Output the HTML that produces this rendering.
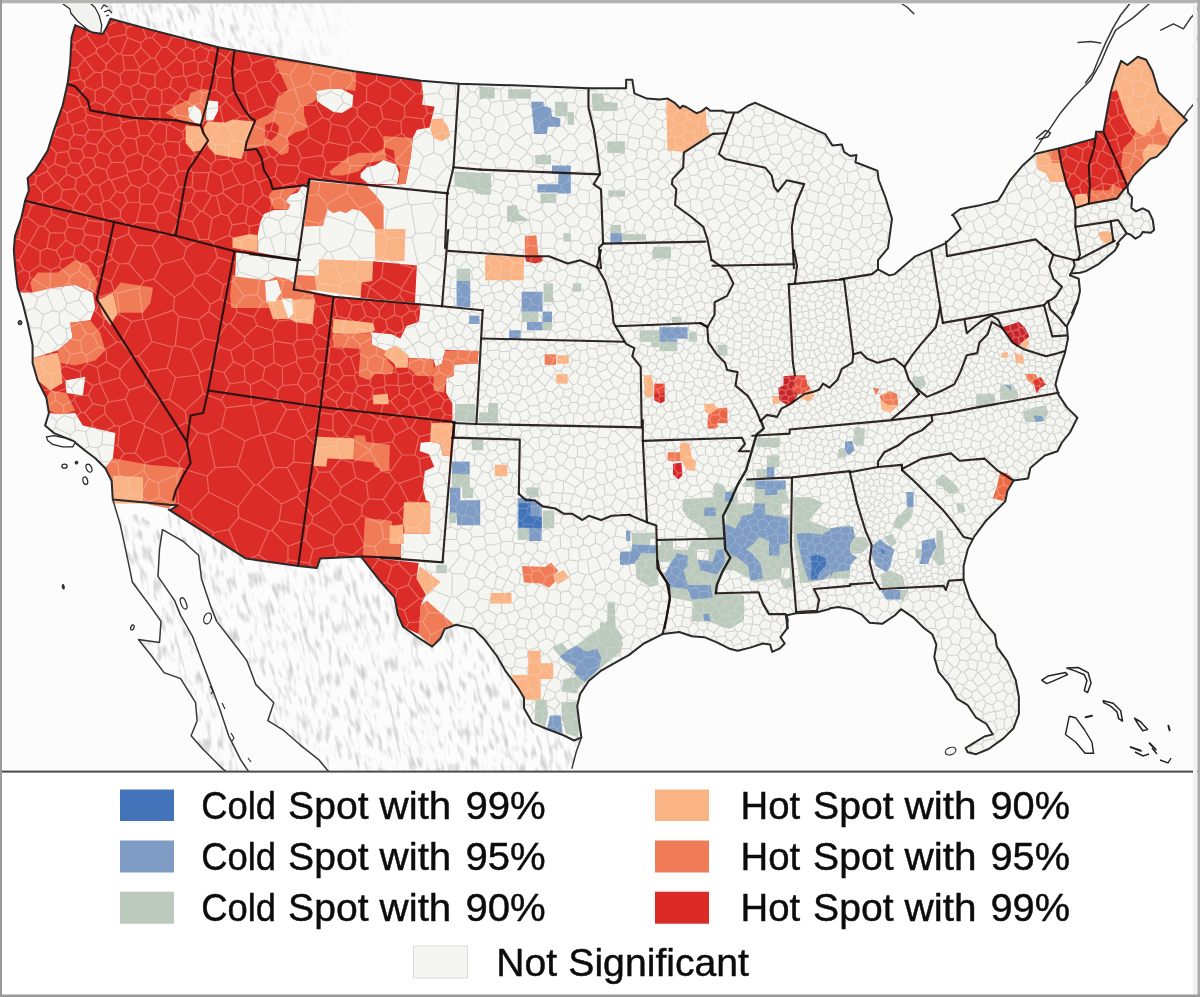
<!DOCTYPE html><html><head><meta charset="utf-8"><title>Hot spot map</title><style>html,body{margin:0;padding:0;background:#fff}svg{display:block}text{font-family:"Liberation Sans",sans-serif}</style></head><body><svg width="1200" height="997" viewBox="0 0 1200 997">
<defs>
<clipPath id="mexclip"><path d="M170,510 L246,558.6 L298.2,565.9 L316.9,568 L320.1,558.6 L360.8,556.5 L380,580.9 L394.6,597.6 L397.7,614.3 L403,626.8 L417.6,637.2 L432.2,646.6 L440.5,638.3 L444.7,628.9 L456.2,624.7 L473.9,628.9 L484.3,639.3 L496.9,656 L505.2,670.6 L517.7,687.3 L524,697.7 L524,708.2 L532.3,722.8 L546.9,729 L563.6,735.3 L574.1,740.5 L581.4,737.4 L581.4,737.4 L576.2,752 L572,768.1 L560,772 L300,772 L334,777.9 L319,759.9 L300,744.8 L282.9,729.8 L267.8,720.7 L273.8,702.7 L255.8,684.6 L246.8,660.6 L237.7,648.5 L216.7,621.4 L210.7,606.4 L201.6,579.3 L198.6,555.2 L183.6,541.7 L162.5,529.7ZM112.8,499.6 L120.4,525.1 L129.4,567.3 L132.4,582.3 L150.5,606.4 L161,621.4 L159.5,642.5 L138.4,639.5 L150.5,654.5 L164,672.6 L180.6,678.6 L195.6,702.7 L197.1,720.7 L191.1,735.8 L201.6,747.8 L222.7,768.9 L228.7,773.4 L252,772 L249.8,773.4 L240.7,759.9 L228.7,735.8 L219.7,708.7 L210.7,684.6 L201.6,660.6 L192.6,636.5 L180.6,615.4 L174.5,600.4 L158,576.3 L159.5,549.2 L162.5,529.7Z"/></clipPath>
<clipPath id="canclip"><path d="M110,19 L150.5,29.6 L218.2,47.2 L234.5,50.2 L354.3,71.3 L421.1,80.7 L458.7,83.8 L500,84.9 L520,86 L520,4 L100,4 L108,12Z"/></clipPath>
<filter id="relief" x="0" y="0" width="100%" height="100%" color-interpolation-filters="sRGB">
<feTurbulence type="fractalNoise" baseFrequency="0.22 0.06" numOctaves="2" seed="11"/>
<feColorMatrix type="matrix" values="0 0 0 0 0.45  0 0 0 0 0.45  0 0 0 0 0.45  -3.2 0 0 0 1.62"/>
</filter>
<linearGradient id="canfade" x1="0" x2="1" y1="0" y2="0"><stop offset="0" stop-color="#fff" stop-opacity="1"/><stop offset="0.6" stop-color="#fff" stop-opacity="0.8"/><stop offset="1" stop-color="#fff" stop-opacity="0"/></linearGradient>
<mask id="canmask"><rect x="60" y="0" width="300" height="100" fill="url(#canfade)"/></mask>
<filter id="soft" x="0" y="0" width="100%" height="100%" color-interpolation-filters="sRGB"><feGaussianBlur stdDeviation="0.55"/></filter><filter id="softt" x="-2%" y="-10%" width="104%" height="120%" color-interpolation-filters="sRGB"><feGaussianBlur stdDeviation="0.4"/></filter></defs>
<g filter="url(#soft)">
<rect width="1200" height="997" fill="#FCFCFC"/>
<g clip-path="url(#mexclip)"><rect x="-200" y="300" width="1200" height="700" filter="url(#relief)" opacity="0.31" transform="rotate(-14 350 650)"/></g>
<g clip-path="url(#canclip)" mask="url(#canmask)"><rect x="-100" y="-200" width="900" height="500" filter="url(#relief)" opacity="0.36" transform="rotate(-20 250 40)"/></g>
<path d="M61.7,3 L70,9 L70.8,13 L77.5,21 L90,31.7 L96.7,35 L100.8,33 L101.7,25 L99,15 L95,7.5 L90,3" fill="#F3F3F2" stroke="#222" stroke-width="1.2" stroke-linejoin="round"/>
<path d="M101,9l3,-4 4,2M104,12l5,-2 3,3M106,16l3,-1" fill="none" stroke="#222" stroke-width="1.1"/>
<path id="land" d="M110.4,18.8 L150.5,29.6 L218.2,47.2 L234.5,50.2 L354.3,71.3 L421.1,80.7 L458.7,83.8 L500,84.9 L588.5,88.2 L626.1,88.2 L626.1,79.8 L632.3,79.8 L634.4,93.4 L646.9,98.6 L659.5,99.6 L667.8,98.6 L675.1,103.2 L680.1,108.2 L682.6,105.7 L686.3,107 L696.4,113.2 L701.4,111.4 L706.4,107.6 L710.2,110.7 L722.7,110.7 L726.5,112.6 L737.8,112.6 L747.8,105.7 L755.3,102.8 L825.2,134.1 L832.5,145.6 L841.9,144.5 L844,151.8 L850.3,156 L856.5,154.9 L855.5,162.3 L877.4,170.6 L878.7,180 L885.4,197.3 L892,218.7 L890,233.4 L888,248.1 L878,260.1 L878,269.4 L889.4,275.4 L894.7,274.1 L914.7,256.7 L932.1,249.4 L945.4,243.4 L960.8,228.7 L956.1,220 L952.8,214.7 L952.1,215.3 L960.4,209 L981.3,204.9 L998,200.7 L1002.2,194.4 L1010.5,179.8 L1023,165.2 L1035.6,153.7 L1058.5,148.5 L1096.1,138.1 L1096.1,131.8 L1103.4,131.8 L1110.7,92.2 L1114.9,77.6 L1121.1,60.9 L1127.4,65 L1137.8,56.7 L1146.2,59.8 L1152.4,71.3 L1158.7,92.2 L1167,100.5 L1179.5,113 L1186.9,120.3 L1179.5,127.6 L1171.2,138.1 L1167,146.4 L1156.6,156.9 L1150.3,158.9 L1142,167.3 L1133.6,175.6 L1127.4,186.1 L1128.1,192.7 L1132.1,197.3 L1131.4,208 L1136.1,211.4 L1142.7,208.3 L1148.8,211.4 L1152.8,220 L1154.1,230 L1150.8,232.7 L1142.7,232 L1140.1,236 L1135.4,238.7 L1130.7,234.7 L1126.7,233.4 L1121.4,238.7 L1116.7,244.1 L1118.7,244.1 L1114.7,250.7 L1098.7,264.1 L1085.4,271.4 L1080,272.7 L1070.7,273.4 L1070,275.4 L1078.7,278.7 L1080,290.8 L1077.4,302.8 L1072,313 L1078.4,298.9 L1073.2,313.5 L1066.9,326 L1068,338.5 L1064.9,353.1 L1058.6,371.9 L1055.5,384.4 L1058.6,394.9 L1066.9,407.4 L1077.4,417.8 L1070,432.5 L1061.6,443 L1057.5,451.3 L1044.9,455.5 L1030.3,468 L1028.2,478.4 L1013.6,480.5 L1007.4,491 L1005.3,501.4 L996.9,509.7 L986.5,520.2 L974,536.9 L967.7,549.4 L963.6,566.1 L963.6,580.7 L963.6,580 L969.8,598.8 L980.3,617.6 L994.9,634.3 L996.9,646.8 L1007.4,661.4 L1015.7,680.2 L1018.9,696.9 L1018.9,713.6 L1013.6,728.2 L1003.2,738.6 L988.6,749 L976.1,754.2 L967.7,752.2 L965.6,748 L974,742.8 L984.4,736.5 L992.8,734.4 L986.5,724 L976.1,717.7 L967.7,705.2 L957.3,698.9 L948.9,684.3 L938.5,671.8 L934.3,657.2 L936.4,644.7 L932.3,634.3 L923.9,628 L913.5,617.6 L901,609.2 L894.7,615.5 L882.2,623.8 L869.6,622.8 L861.3,614.4 L850.9,609.2 L838.3,607.1 L830,608.2 L829.5,609 L817,612.2 L796.2,613.2 L786.8,615.3 L787.8,620.5 L786.8,628.9 L780.5,637.2 L784.7,643.5 L779.5,648.7 L772.2,651.8 L770.1,644.5 L762.8,643.5 L750.3,647.6 L737.7,650.8 L729.4,648.7 L716.9,642.4 L704.3,637.2 L691.8,636.2 L679.3,632 L662.6,634.1 L643.8,643.5 L629.2,654.9 L615.8,662.3 L601.2,670.6 L588.7,681 L580.3,693.6 L577.2,706.1 L579.3,722.8 L581.4,737.4 L581.4,737.4 L574.1,740.5 L563.6,735.3 L546.9,729 L532.3,722.8 L524,708.2 L524,697.7 L517.7,687.3 L505.2,670.6 L496.9,656 L484.3,639.3 L473.9,628.9 L456.2,624.7 L444.7,628.9 L440.5,638.3 L432.2,646.6 L417.6,637.2 L403,626.8 L397.7,614.3 L394.6,597.6 L380,580.9 L360.8,556.5 L320.1,558.6 L316.9,568 L298.2,565.9 L246,558.6 L168.8,509.6 L170,510.1 L177.6,505.6 L112.8,499.6 L111.6,480.7 L105.3,468.2 L95.3,458.2 L85.3,450.7 L72.7,440.6 L53.9,433.1 L45.1,425.6 L48.9,413 L46.4,398 L37.6,380.4 L32.6,362.9 L32.6,345.3 L27.6,322.7 L22.6,302.7 L17.6,287.6 L15,265 L13.8,250 L15,235.8 L21.3,218.2 L25.1,200.7 L28.8,190.6 L27.6,178.1 L35.1,170.6 L47.7,150.5 L53.9,130.4 L62.7,105.3 L67.7,82.8 L70.2,62.7 L71.5,37.6 L75.2,25.1 L92.8,32.6 L102.8,33.9 L106.6,27.6 L110.4,18.8Z" fill="#F5F5F2"/>
<path id="redbig" d="M110.4,18.8 L150.5,29.6 L218.2,47.2 L234.5,50.2 L354.3,71.3 L421.1,80.7 L423.2,94.3 L422.2,104.7 L434.7,106.8 L429.5,127.6 L416.9,129.7 L412.8,138.1 L410.7,156.9 L405.5,184 L366.9,185.7 L309.5,179 L293.8,289.5 L333.5,296.6 L442,306 L445.1,350 L478.5,351 L477.5,363.6 L454.5,364.6 L453.5,376.1 L446.2,378.2 L446.2,392.8 L452.4,403.2 L452.4,420.9 L453,421.9 L454.1,423 L448.9,483.5 L442.6,561.7 L360.8,556.5 L320.1,558.6 L316.9,568 L298.2,565.9 L246,558.6 L168.8,509.6 L170,510.1 L177.6,505.6 L112.8,499.6 L111.6,480.7 L105.3,468.2 L95.3,458.2 L85.3,450.7 L72.7,440.6 L53.9,433.1 L45.1,425.6 L48.9,413 L46.4,398 L37.6,380.4 L32.6,362.9 L32.6,345.3 L27.6,322.7 L22.6,302.7 L17.6,287.6 L15,265 L13.8,250 L15,235.8 L21.3,218.2 L25.1,200.7 L28.8,190.6 L27.6,178.1 L35.1,170.6 L47.7,150.5 L53.9,130.4 L62.7,105.3 L67.7,82.8 L70.2,62.7 L71.5,37.6 L75.2,25.1 L92.8,32.6 L102.8,33.9 L106.6,27.6 L110.4,18.8Z" fill="#DB2C27"/>
<path d="M309.5,179 L448.2,193.4 L442,306.2 L333.5,296.8 L293.8,289.5Z" fill="#F5F5F2"/>
<path d="M232.5,274.7 L267.7,278.5 L268.3,295.4 L270.2,308 L231.3,308 L230,295Z" fill="#EF7B57"/>
<path d="M262.5,274.9 L287.6,277 L294.9,285.3 L312.6,291.6 L315.1,299.9 L291.7,299.9 L262.5,302Z" fill="#EF7B57"/>
<path d="M371,332.3 L391.9,334.3 L400.3,338.5 L406.5,326 L419,321.8 L420.7,304.3 L442,306 L482.1,310.1 L479.5,350 L445.1,350 L442,363.6 L435.7,366.7 L433.6,359.4 L408.6,357.7 L396.1,345.8 L385.6,351 L372.1,344.8Z" fill="#F5F5F2"/>
<path d="M454.5,365.6 L477.5,364.6 L475.4,403.2 L452.4,403.2 L446.2,392.8 L447.2,379.2 L453.5,376.1Z" fill="#F5F5F2"/>
<path d="M236.3,251.5 L297.8,260.9 L294,282.9 L287.7,279.1 L276.4,276.6 L267.7,280.4 L235.1,276.6Z" fill="#F5F5F2"/>
<path d="M430.1,441.7 L440.5,443.8 L442.6,455.3 L449.9,456.3 L448.9,483.5 L442.6,561.7 L400.9,558.6 L400.9,533.6 L430.1,533.6 L430.1,502.3 L425.9,500.2 L422.8,487.6 L424.9,471 L434.3,466.8 L429,454.3 L419.6,451.1 L420.7,442.8Z" fill="#F5F5F2"/>
<path d="M165.5,112.9 L175.6,105.3 L188.1,100.3 L190.6,92.8 L203.2,89 L210.7,90.3 L208.2,105.3 L204.4,120.4 L200.7,125.4 L185.6,122.9 L175.6,117.9Z" fill="#EF7B57"/>
<path d="M188.1,107.9 L194.4,105.3 L200.7,110.4 L203.2,124.2 L195.6,122.9 L189.4,117.9Z" fill="#F5F5F2"/>
<path d="M206.9,100.3 L218.2,101.6 L218.2,110.4 L213.2,120.4 L205.7,120.4Z" fill="#F5F5F2"/>
<path d="M185.6,125.4 L200.7,126.7 L208.2,140.5 L200.7,150.5 L193.1,151.7 L185.6,143Z" fill="#F9B384"/>
<path d="M207.5,121.4 L225.1,122.6 L232.6,119.5 L253.9,121.4 L250.2,132.6 L246.4,142.7 L243.9,151.5 L241.4,159 L215.1,154.6 L208.8,147.7 L205,137.7 L203.8,127.6Z" fill="#F9B384"/>
<path d="M30.1,282.6 L37.6,272.6 L57.7,272.6 L75.2,260 L87.8,265 L97.8,282.6 L95.3,292.6 L75.2,285.1 L55.2,287.6 L40.1,295.1 L32.6,292.6Z" fill="#EF7B57"/>
<path d="M18.8,292.6 L32.6,292.6 L55.2,287.6 L75.2,285.1 L92.8,292.6 L95.3,307.7 L90.3,320.2 L70.2,322.7 L72.7,337.8 L57.7,350.3 L42.6,355.3 L32.6,357.9 L27.6,325.2 L22.6,310.2Z" fill="#F5F5F2"/>
<path d="M70.2,322.7 L90.3,320.2 L100.3,332.8 L105.3,350.3 L95.3,360.4 L75.2,365.4 L60.2,362.9 L57.7,350.3 L72.7,337.8Z" fill="#EF7B57"/>
<path d="M32.6,357.9 L57.7,352.8 L60.2,362.9 L62.7,382.9 L50.2,390.5 L37.6,380.4 L33.9,367.9Z" fill="#F9B384"/>
<path d="M65.2,380.4 L85.3,376.7 L82.8,395.5 L66.5,393Z" fill="#F5F5F2"/>
<path d="M50.2,390.5 L66.5,393 L75.2,410.5 L60.2,415.5 L48.9,410.5 L46.4,398Z" fill="#EF7B57"/>
<path d="M48.9,413 L60.2,414.3 L75.2,413 L82.8,425.6 L115.4,433.1 L112.9,458.2 L105.3,468.2 L95.3,458.2 L85.3,450.7 L72.7,440.6 L53.9,433.1 L45.1,425.6Z" fill="#F5F5F2"/>
<path d="M112.9,458.2 L183.1,470.7 L175.6,490.8 L173.1,503.3 L112.9,503.3 L111.6,480.7 L105.3,468.2Z" fill="#EF7B57"/>
<path d="M112.9,475.7 L143,477 L143,503.3 L112.9,503.3Z" fill="#F9B384"/>
<path d="M97.8,300.2 L112.9,292.6 L117.9,312.7 L110.4,325.2 L102.8,315.2Z" fill="#F9B384"/>
<path d="M112.9,292.6 L120.4,282.6 L153,287.6 L150.5,302.7 L143,312.7 L117.9,312.7Z" fill="#EF7B57"/>
<path d="M277.1,59.8 L356.4,71.3 L355.4,91.1 L341.8,89 L317.8,91.1 L317.9,97.5 L312.9,102.5 L304.1,106.3 L304.1,115.1 L307.9,126.4 L304.1,130.1 L295.3,132.6 L287.8,137.7 L289.1,148.9 L287.8,152.7 L281.5,155.2 L270.2,146.4 L262.7,145.2 L256.4,148.3 L245.2,150.2 L246.4,142.7 L250.2,132.6 L255.2,120.7 L267.7,115.1 L275.3,108.8 L277.8,97.5 L287.8,90 L281.3,75.5 L275,65Z" fill="#EF7B57"/>
<path d="M265.2,125.1 L274,121.4 L279,126.4 L277.8,133.9 L271.5,140.2 L265.2,137.7Z" fill="#DB2C27"/>
<path d="M316.8,91.1 L329.3,89 L341.8,89 L353.3,95.3 L352.3,106.8 L341.8,113 L333.5,112 L322,104.7 L316.8,100.5Z" fill="#F5F5F2"/>
<path d="M431.6,119.3 L442,118.3 L448.2,127.6 L450.3,136 L442,141.2 L433.6,138.1 L430.5,129.7Z" fill="#F9B384"/>
<path d="M383.6,136 L412.8,138.1 L410.7,156.9 L405.5,184 L398.2,184 L400.3,169.4 L396.1,163.1 L385.6,160 L366.9,163.1 L358.5,171.5 L341.8,175.6 L331.4,175.6 L329.3,171.5 L348.1,156.9 L358.5,152.7 L375.2,152.7 L383.6,148.5Z" fill="#EF7B57"/>
<path d="M384.6,147.5 L394,150.6 L395,162.1 L386.7,158.9Z" fill="#DB2C27"/>
<path d="M360.6,173.6 L366.9,167.3 L375.2,165.2 L383.6,160 L396.1,164.2 L399.2,173.6 L397.1,184 L368.9,184 L360.6,177.7Z" fill="#F5F5F2"/>
<path d="M309.2,181 L366.9,186.1 L375.2,194.4 L383.6,204.9 L383.6,228.9 L375.2,228.9 L366.9,217.4 L360.6,211.1 L352.3,209 L346,213.2 L339.7,211.1 L333.5,213.2 L327.2,209 L323,225.7 L304.2,226.5 L307,200Z" fill="#EF7B57"/>
<path d="M375.2,229.9 L404.4,232 L404.4,248.1 L375.2,248.1Z" fill="#F9B384"/>
<path d="M301.5,186.3 L309,183 L298,260.3 L257.6,252.2 L257.6,235.2 L260.1,222.7 L263.9,213.9 L273.9,210.1 L287.7,210.1 L290.2,205.1 L285.2,201.4 L290.2,195.1 L297.8,192.6Z" fill="#F5F5F2"/>
<path d="M268.9,195.1 L273.9,188.8 L300.3,187.6 L290.2,195.1 L285.2,201.4 L290.2,205.1 L287.7,210.1 L273.9,208.9 L270.2,201.4Z" fill="#EF7B57"/>
<path d="M232.5,237.7 L250.1,234 L257.6,235.2 L257.6,252.2 L232.5,247.8Z" fill="#F9B384"/>
<path d="M479.5,87 L492.1,87 L492.1,97.4 L479.5,97.4Z" fill="#BCC9BD"/>
<path d="M454.5,171.5 L491,173.6 L491,194.4 L475.4,193.4 L475.4,190.3 L454.5,186.1Z" fill="#BCC9BD"/>
<path d="M318.9,259.2 L373.1,261.3 L372.1,281.1 L361.6,282.2 L360.6,296.8 L316.8,290.5 L314.7,275.9 L318.9,274.9Z" fill="#F9B384"/>
<path d="M375.2,229 L405.5,229 L404.4,261.3 L375.2,260.3Z" fill="#F9B384"/>
<path d="M297,274.9 L314.7,275.9 L316.8,290.5 L294.9,288.4Z" fill="#EF7B57"/>
<path d="M445.1,351 L478.5,351 L477.5,363.6 L454.5,364.6 L453.5,376.1 L446.2,378.2 L444.1,392.8 L433.6,390.7 L433.6,367.7 L442,363.6Z" fill="#EF7B57"/>
<path d="M455.6,404.2 L475.4,404.2 L475.4,422 L455.6,420.9Z" fill="#BCC9BD"/>
<path d="M333.5,318.7 L373.1,322.9 L375.2,330.2 L371,332.3 L354.3,334.3 L332.4,333.3Z" fill="#F9B384"/>
<path d="M332.4,334.3 L371,333.3 L372.1,344.8 L385.6,351 L383.6,355.2 L394,367.7 L391.9,374 L375.2,374 L368.9,380.3 L358.5,376.1 L360.6,348.9 L333.5,346.9Z" fill="#EF7B57"/>
<path d="M383.6,355.2 L385.6,351 L396.1,345.8 L408.6,355.2 L407.6,367.7 L396.1,367.7 L394,363.6Z" fill="#F9B384"/>
<path d="M408.6,358.3 L425.3,358.3 L433.6,360.4 L433.6,376.1 L416.9,376.1 L408.6,367.7Z" fill="#EF7B57"/>
<path d="M373.1,394.9 L387.7,393.8 L388.8,404.2 L373.1,404.2Z" fill="#F9B384"/>
<path d="M266.7,299.9 L315.1,299.3 L312.6,324.3 L294.9,322.2 L289.6,318.7 L273,319.3Z" fill="#F9B384"/>
<path d="M486.9,255 L500,255 L500,280.1 L486.9,279Z" fill="#F9B384"/>
<path d="M456.6,268.6 L470.2,268.6 L470.2,281.1 L456.6,281.1Z" fill="#BCC9BD"/>
<path d="M147.9,464.7 L183.4,467.8 L181.3,475.1 L175,491.8 L176.1,502.3 L168.8,508.5 L147.9,504.3Z" fill="#EF7B57"/>
<path d="M314.9,436.5 L354.5,438.6 L353.5,459.5 L327.4,458.4 L326.3,466.8 L313.8,465.7Z" fill="#F9B384"/>
<path d="M354.5,435.5 L364.9,435.5 L366,441.7 L390,444.9 L387.9,471 L375.4,466.8 L373.3,462.6 L356.6,460.5 L353.5,459.5Z" fill="#EF7B57"/>
<path d="M364.9,517.9 L392.1,521 L390,544 L400,544 L400,556.5 L362.9,555.5Z" fill="#EF7B57"/>
<path d="M390,525.2 L400,526.3 L400,544 L390,544Z" fill="#F9B384"/>
<path d="M431.1,423 L453,423 L449.9,456.3 L442.6,455.3 L440.5,443.8 L430.1,441.7Z" fill="#F9B384"/>
<path d="M404,502.3 L430.1,502.3 L430.1,533.6 L405,533.6 L403,523.1Z" fill="#F9B384"/>
<path d="M389.4,526.3 L403,524.2 L404,544 L389.4,544Z" fill="#F9B384"/>
<path d="M379,518.9 L389.4,521 L389.4,544 L400.9,546.1 L400.9,558.6 L379,557.6Z" fill="#EF7B57"/>
<path d="M380,445.9 L389.4,447 L389.4,471 L380,471Z" fill="#EF7B57"/>
<path d="M455.1,404.2 L473.9,404.2 L473.9,420.9 L455.1,420.9Z" fill="#BCC9BD"/>
<path d="M479.1,412.5 L488.5,412.5 L488.5,403.1 L497.9,403.1 L497.9,421.9 L479.1,421.9Z" fill="#BCC9BD"/>
<path d="M471.8,439.6 L483.3,439.6 L483.3,450.1 L471.8,450.1Z" fill="#BCC9BD"/>
<path d="M452,474.1 L469.7,474.1 L469.7,487.6 L472.9,487.6 L472.9,498.1 L462.4,498.1 L462.4,487.6 L452,487.6Z" fill="#BCC9BD"/>
<path d="M448.9,512.7 L456.2,512.7 L456.2,523.1 L448.9,523.1Z" fill="#BCC9BD"/>
<path d="M494.8,464.7 L507.3,464.7 L507.3,476.2 L494.8,476.2Z" fill="#F9B384"/>
<path d="M542.8,510.6 L554.2,510.6 L554.2,528.3 L542.8,528.3Z" fill="#BCC9BD"/>
<path d="M517.7,528.3 L529.2,528.3 L529.2,539.8 L517.7,539.8Z" fill="#BCC9BD"/>
<path d="M526.1,487.6 L538.6,487.6 L538.6,497 L530.3,498.1 L526.1,493.9Z" fill="#BCC9BD"/>
<path d="M521.9,565.9 L544.9,566.9 L551.1,562.8 L558.4,571.1 L553.2,575.3 L555.3,581.6 L549,587.8 L540.7,583.6 L524,582.6Z" fill="#EF7B57"/>
<path d="M553.2,575.3 L563.6,570.1 L568.9,577.4 L557.4,584.7Z" fill="#F9B384"/>
<path d="M490.6,593 L511.5,593 L511.5,603.5 L490.6,603.5Z" fill="#F9B384"/>
<path d="M436.3,564.9 L446.8,564.9 L446.8,573.2 L436.3,573.2Z" fill="#BCC9BD"/>
<path d="M419.6,566.3 L440.5,581.9 L427,594.4 L416.5,579.8Z" fill="#F9B384"/>
<path d="M420.7,604.9 L427,600.7 L454.1,624.7 L444.7,628.9 L440.5,638.3 L432.2,646.6 L418.6,634.1Z" fill="#EF7B57"/>
<path d="M528.2,650.8 L540.7,650.8 L540.7,663.3 L553.2,663.3 L553.2,678.9 L540.7,678.9 L540.7,699.8 L526.1,699.8 L517.1,686.7 L510.4,675.2 L528.2,674.8Z" fill="#F9B384"/>
<path d="M552.2,647.6 L561.6,642.4 L567.8,649.7 L576.2,645.6 L607.5,622.6 L608.5,603.8 L613.7,603.8 L613.7,624.7 L623.1,637.2 L615.8,651.8 L601.2,666.4 L588.7,681 L580.3,685.2 L574.1,672.7 L563.6,660.2Z" fill="#BCC9BD"/>
<path d="M563.6,678.9 L576.2,676.9 L580.3,685.2 L576.2,693.6 L561.6,691.5Z" fill="#BCC9BD"/>
<path d="M535.5,699.8 L546.9,699.8 L548,714.4 L544.9,726.9 L534.4,720.7Z" fill="#BCC9BD"/>
<path d="M561.6,701.9 L576.2,701.9 L579.3,722.8 L578.2,737.4 L565.7,733.2 L561.6,716.5Z" fill="#BCC9BD"/>
<path d="M666.3,101.3 L668.8,98.2 L675.1,103.2 L680.1,108.2 L682.6,105.7 L686.3,107 L696.4,113.2 L701.4,111.4 L705.8,108.2 L706.4,123.9 L710.2,133.9 L683.8,152.1 L667.5,150.2Z" fill="#F9B384"/>
<path d="M480,88.2 L494.6,88.2 L494.6,98.6 L480,98.6Z" fill="#BCC9BD"/>
<path d="M508.2,89.2 L531.1,89.2 L531.1,98.6 L508.2,98.6Z" fill="#BCC9BD"/>
<path d="M555.1,101.7 L567.6,101.7 L567.6,116.3 L555.1,116.3Z" fill="#BCC9BD"/>
<path d="M567.6,112.2 L573.9,112.2 L573.9,124.7 L567.6,124.7Z" fill="#BCC9BD"/>
<path d="M607.3,141.4 L625,141.4 L625,152.9 L607.3,152.9Z" fill="#BCC9BD"/>
<path d="M535.3,154.9 L551,154.9 L551,164.3 L535.3,164.3Z" fill="#BCC9BD"/>
<path d="M540.5,193.6 L556.2,193.6 L556.2,202.9 L540.5,202.9Z" fill="#BCC9BD"/>
<path d="M480,173.7 L490.4,173.7 L490.4,194.6 L480,194.6Z" fill="#BCC9BD"/>
<path d="M608.3,190.4 L625,190.4 L625,196.7 L608.3,196.7Z" fill="#BCC9BD"/>
<path d="M610.4,224.9 L620.9,224.9 L620.9,233.2 L610.4,233.2Z" fill="#BCC9BD"/>
<path d="M621.9,234.2 L645.9,234.2 L645.9,240.5 L621.9,240.5Z" fill="#BCC9BD"/>
<path d="M653.2,246.8 L670.9,246.8 L670.9,258.2 L653.2,258.2Z" fill="#BCC9BD"/>
<path d="M563.5,233.2 L570.8,233.2 L570.8,241.6 L563.5,241.6Z" fill="#BCC9BD"/>
<path d="M591.6,93.4 L603.1,93.4 L604.2,101.7 L617.7,102.8 L617.7,111.1 L592.7,111.1Z" fill="#BCC9BD"/>
<path d="M507.1,206.1 L516.5,205 L519.6,214.4 L530.1,220.7 L507.1,221.7Z" fill="#BCC9BD"/>
<path d="M524.9,236.3 L536.3,235.3 L538.4,256.2 L524.9,256.2Z" fill="#EF7B57"/>
<path d="M524.9,256.2 L542.6,256.2 L542.6,261.4 L535.3,263.5 L525.9,261.4Z" fill="#D93A2E"/>
<path d="M485.2,256.2 L523.8,257.2 L523.8,270.8 L485.2,270.8Z" fill="#F9B384"/>
<path d="M485.2,256.3 L523.8,256.3 L523.8,280.3 L485.2,280.3Z" fill="#F9B384"/>
<path d="M543.6,283.4 L553,283.4 L553,302.2 L543.6,302.2Z" fill="#BCC9BD"/>
<path d="M572.9,283.4 L581.2,283.4 L581.2,291.7 L572.9,291.7Z" fill="#BCC9BD"/>
<path d="M521.7,311.6 L538.4,311.6 L538.4,322 L521.7,322Z" fill="#BCC9BD"/>
<path d="M542.6,322 L552,322 L552,330.3 L542.6,330.3Z" fill="#BCC9BD"/>
<path d="M639.6,330.3 L659.5,330.3 L659.5,341.8 L639.6,341.8Z" fill="#BCC9BD"/>
<path d="M651.1,341.8 L659.5,341.8 L659.5,347 L651.1,347Z" fill="#BCC9BD"/>
<path d="M659.5,341.8 L677.2,341.8 L677.2,351.2 L659.5,351.2Z" fill="#BCC9BD"/>
<path d="M688.7,332.4 L697,332.4 L697,341.8 L688.7,341.8Z" fill="#BCC9BD"/>
<path d="M672,316.8 L681.4,316.8 L681.4,323 L672,323Z" fill="#BCC9BD"/>
<path d="M717.9,344.9 L727.3,344.9 L727.3,355.4 L717.9,355.4Z" fill="#BCC9BD"/>
<path d="M652.2,250 L670.9,250 L670.9,258.3 L652.2,258.3Z" fill="#BCC9BD"/>
<path d="M544.7,354.3 L556.2,354.3 L556.2,364.8 L544.7,364.8Z" fill="#EF7B57"/>
<path d="M557.2,355.4 L568.7,355.4 L568.7,363.7 L557.2,363.7Z" fill="#F9B384"/>
<path d="M556.2,374.2 L567.6,374.2 L567.6,383.6 L556.2,383.6Z" fill="#F9B384"/>
<path d="M488.3,404.4 L497.7,404.4 L497.7,422.2 L480,422.2 L480,412.8 L488.3,412.8Z" fill="#BCC9BD"/>
<path d="M643.8,375.2 L651.1,375.2 L653.2,383.6 L653.2,397.1 L644.9,397.1Z" fill="#F9B384"/>
<path d="M654.2,383.6 L664.7,383.6 L664.7,394 L654.2,394Z" fill="#E8483A"/>
<path d="M654.2,393.6 L664.7,393.6 L664.7,401.3 L660.5,403.4 L654.2,400.3Z" fill="#D62A27"/>
<path d="M704.3,404.4 L713.7,403.4 L717.9,410.7 L709.5,414.9 L705.4,410.7Z" fill="#F9B384"/>
<path d="M708.5,414.9 L717.9,410.7 L717.9,427.4 L708.5,428.4Z" fill="#EF7B57"/>
<path d="M717.9,408.6 L727.3,408.6 L727.3,423.2 L717.9,423.2Z" fill="#E8553F"/>
<path d="M680.3,444.1 L686.6,443 L690.8,453.5 L688.7,460.8 L680.3,460.8Z" fill="#F9B384"/>
<path d="M667.8,453.5 L680.3,453.5 L680.3,460.8 L667.8,460.8Z" fill="#EF7B57"/>
<path d="M667.8,452.3 L680.3,452.3 L680.3,458.6 L673,461.7 L667.8,459.6Z" fill="#EF7B57"/>
<path d="M680.3,443 L689.7,444 L691.8,457.6 L696,461.7 L694.9,471.1 L686.6,470.1 L682.4,462.8 L680.3,458.6Z" fill="#F9B384"/>
<path d="M673,463.8 L681.4,462.8 L682.4,475.3 L678.3,479.5 L673,474.3Z" fill="#D8232A"/>
<path d="M707.5,419 L726.3,419 L726.3,423.1 L715.8,423.1 L715.8,428.3 L707.5,428.3Z" fill="#EF7B57"/>
<path d="M683.5,499.3 L712.7,497.2 L714.8,482.6 L723.1,484.7 L727.3,492 L737.7,484.7 L729.4,503.5 L723.1,516 L724.2,532.7 L723.1,537.9 L708.5,538.9 L704.3,528.5 L687.6,518.1 L682.4,509.7Z" fill="#BCC9BD"/>
<path d="M727.3,507.6 L746.1,480.5 L756.5,480.5 L756.5,488.9 L785.7,488.9 L789.9,503.5 L789.9,516 L790.9,545.2 L793,586.9 L783.6,589 L779.5,578.6 L766.9,580.7 L754.4,582.8 L746.1,576.5 L733.6,570.3 L723.1,570.3 L730.4,557.7 L725.2,549.4 L724.2,532.7Z" fill="#BCC9BD"/>
<path d="M756.5,469 L766.9,469 L766.9,477.4 L756.5,477.4Z" fill="#BCC9BD"/>
<path d="M756.5,438.8 L779.5,438.8 L779.5,447.1 L756.5,447.1Z" fill="#BCC9BD"/>
<path d="M766.9,455.5 L779.5,455.5 L779.5,467 L766.9,467Z" fill="#BCC9BD"/>
<path d="M773.2,519.1 L781.6,519.1 L781.6,526.4 L773.2,526.4Z" fill="#BCC9BD"/>
<path d="M658.4,541 L673,541 L673,549.4 L687.6,549.4 L691.8,541 L723.1,538.9 L725.2,549.4 L730.4,557.7 L723.1,570.3 L716.9,584.9 L715.8,593.2 L741.9,594.2 L744,618.2 L725.2,620.3 L708.5,620.3 L696,616.2 L691.8,601.6 L671,597.4 L668.9,584.9 L657.4,568.2Z" fill="#BCC9BD"/>
<path d="M631.3,532.7 L655.3,532.7 L656.3,545.2 L632.3,544.2Z" fill="#BCC9BD"/>
<path d="M635.5,564 L641.7,553.6 L656.3,553.6 L657.4,568.2 L658.4,584.9 L650.1,586.9 L636.5,578.6Z" fill="#BCC9BD"/>
<path d="M607.3,603.6 L614.6,603.6 L614.6,622.4 L607.3,622.4Z" fill="#BCC9BD"/>
<path d="M793,497.2 L810.8,497.2 L823.3,503.5 L808.7,520.2 L829.5,528.5 L850,524.3 L850,578.6 L829.5,578.6 L808.7,582.8 L800.3,582.8 L794.1,545.2Z" fill="#BCC9BD"/>
<path d="M600,622.6 L608.3,622.6 L608.3,601.7 L614.6,601.7 L615.7,628.9 L623,643.5 L620.9,651.8 L600,668.5Z" fill="#BCC9BD"/>
<path d="M691.8,608 L744,595.5 L744,620.5 L729.4,628.9 L708.5,621.6 L691.8,621.6Z" fill="#BCC9BD"/>
<path d="M704.2,404.4 L712.5,403.4 L718.8,408.6 L710.4,414.9 L705.2,411.7Z" fill="#F9B384"/>
<path d="M708.3,414.9 L718.8,408.6 L727.1,407.6 L727.1,422.2 L716.7,423.2 L715.7,428.4 L708.3,428.4Z" fill="#EC6448"/>
<path d="M783.5,376.3 L794.9,375.2 L796,383.6 L791.8,387.7 L798.1,394 L793.9,402.3 L787.6,405.5 L779.3,400.3 L778.3,387.7 L783.5,385.6Z" fill="#C9252B"/>
<path d="M794.9,375.2 L805.4,375.2 L807.5,384.6 L810.6,388.8 L802.3,394 L798.1,394 L791.8,387.7 L796,383.6Z" fill="#E8503F"/>
<path d="M772,396.1 L778.3,396.1 L779.3,403.4 L773,404.4Z" fill="#F9B384"/>
<path d="M802.3,394 L810.6,388.8 L814.8,396.1 L808.5,401.3 L800.2,398.2Z" fill="#F9B384"/>
<path d="M879.5,396.1 L889.9,390.9 L897.2,394 L898.2,404.4 L892,410.7 L883.6,406.5Z" fill="#EF7B57"/>
<path d="M880.5,400.3 L887.8,404.4 L898.2,405.5 L889.9,412.8 L881.6,409.6Z" fill="#F9B384"/>
<path d="M873.2,387.7 L879.5,388.8 L876.3,395Z" fill="#EF7B57"/>
<path d="M912.9,376.3 L923.3,377.3 L925.4,383.6 L919.1,388.8 L912.9,383.6Z" fill="#BCC9BD"/>
<path d="M717.7,344.9 L727.1,344.9 L727.1,355.4 L717.7,355.4Z" fill="#BCC9BD"/>
<path d="M758.4,437.8 L780.3,437.8 L780.3,446.2 L758.4,446.2Z" fill="#BCC9BD"/>
<path d="M839.8,448.2 L846.1,448.2 L846.1,456.6 L839.8,456.6Z" fill="#BCC9BD"/>
<path d="M855.5,427.4 L864.9,428.4 L863.8,446.2 L856.5,445.1Z" fill="#BCC9BD"/>
<path d="M1000.1,472.2 L1007.4,473.2 L1013.6,480.5 L1007.4,491 L1005.3,501.4 L992.8,498.3 L996.9,486.8Z" fill="#EE6A45"/>
<path d="M935.4,480.5 L942.7,474.3 L951,480.5 L957.3,486.8 L959.4,493 L948.9,494.1 L942.7,486.8 L936.4,484.7Z" fill="#BCC9BD"/>
<path d="M956.3,503.5 L963.6,504.5 L965.6,511.8 L958.3,512.9Z" fill="#BCC9BD"/>
<path d="M855,427.3 L863.4,428.3 L864.4,438.8 L857.1,447.1 L853,440.9Z" fill="#BCC9BD"/>
<path d="M838.3,449.2 L845.7,449.2 L845.7,457.6 L838.3,457.6Z" fill="#BCC9BD"/>
<path d="M915.6,549.4 L921.8,549.4 L921.8,557.7 L915.6,557.7Z" fill="#BCC9BD"/>
<path d="M907.2,507.6 L913.5,508.7 L911.4,518.1 L901,528.5 L892.6,527.5 L896.8,518.1Z" fill="#BCC9BD"/>
<path d="M936.4,530.6 L942.7,530.6 L944.8,564 L938.5,566.1 L932.3,557.7 L936.4,547.3Z" fill="#BCC9BD"/>
<path d="M848.8,536.9 L865.5,536.9 L869.6,545.2 L861.3,553.6 L850.9,553.6Z" fill="#BCC9BD"/>
<path d="M884.3,536.9 L892.6,533.7 L896.8,543.1 L890.5,547.3Z" fill="#BCC9BD"/>
<path d="M880.1,574.4 L890.5,570.3 L903,576.5 L905.1,586.9 L882.2,586.9Z" fill="#BCC9BD"/>
<path d="M901,590.1 L908.3,590.1 L903,601.6 L899.9,599.5Z" fill="#BCC9BD"/>
<path d="M1103.4,131.8 L1110.7,92.2 L1114.9,77.6 L1121.1,60.9 L1127.4,65 L1137.8,56.7 L1146.2,59.8 L1152.4,71.3 L1158.7,92.2 L1167,100.5 L1179.5,113 L1186.9,120.3 L1179.5,127.6 L1171.2,138.1 L1167,146.4 L1156.6,156.9 L1150.3,158.9 L1142,167.3 L1133.6,175.6 L1127.4,186.1Z" fill="#F9B384"/>
<path d="M1035.6,153.7 L1058.5,148.5 L1061.6,165.2 L1065.8,181.9 L1050.2,181.9 L1046,173.6 L1037.6,169.4Z" fill="#F9B384"/>
<path d="M1099.2,232 L1108.6,230.9 L1110.7,240.3 L1104.4,242.4Z" fill="#F9B384"/>
<path d="M1002.3,327 L1012.7,323.9 L1018.9,321.8 L1025.2,328.1 L1029.4,336.4 L1023.1,342.7 L1016.9,346.9 L1012.7,342.7 L1006.4,334.3Z" fill="#C8242B"/>
<path d="M1020,343.7 L1026.3,338.5 L1029.4,342.7 L1025.2,348.9Z" fill="#F9B384"/>
<path d="M1001.2,353.1 L1007.5,352.1 L1008.5,357.3 L1002.3,358.3Z" fill="#F9B384"/>
<path d="M1014.8,353.1 L1023.1,355.2 L1024.2,363.6 L1015.8,363.6Z" fill="#F9B384"/>
<path d="M1025.2,374 L1035.6,374 L1038.8,380.3 L1033.6,384.4 L1027.3,380.3Z" fill="#EF7B57"/>
<path d="M1033.6,380.3 L1040.9,377.1 L1046.1,384.4 L1039.8,388.6 L1036.7,393.8 L1034.6,386.5Z" fill="#D9352E"/>
<path d="M976.2,393.8 L994.9,393.8 L994.9,406.3 L976.2,406.3Z" fill="#BCC9BD"/>
<path d="M1000.2,384.4 L1012.7,384.4 L1017.9,392.8 L1017.9,399 L1000.2,400.1Z" fill="#BCC9BD"/>
<path d="M1023.1,411.6 L1033.6,407.4 L1046.1,405.3 L1048.2,413.6 L1044,420.9 L1033.6,422 L1025.2,422Z" fill="#BCC9BD"/>
<path d="M912.5,378.2 L923,376.1 L926.1,384.4 L918.8,390.7 L912.5,386.5Z" fill="#BCC9BD"/>
<path d="M1099.3,234.2 L1110.8,232.1 L1111.8,240.4 L1105.6,243.6 L1100.3,239.4Z" fill="#F9B384"/>
<path d="M1098.7,233.4 L1102.7,231.4 L1109.4,232 L1112.1,240 L1105.4,242.7 L1101.4,238.7Z" fill="#F9B384"/>
<path d="M737.7,486.8 L754.4,486.8 L754.4,503.5 L737.7,503.5Z" fill="#F5F5F2"/>
<path d="M781.6,503.5 L789.9,503.5 L789.9,514.9 L781.6,514.9Z" fill="#F5F5F2"/>
<path d="M781.6,568.2 L789.9,568.2 L789.9,578.6 L781.6,578.6Z" fill="#F5F5F2"/>
<path d="M746.1,553.6 L754.4,553.6 L754.4,561.9 L746.1,561.9Z" fill="#F5F5F2"/>
<path d="M733.6,580.7 L746.1,580.7 L746.1,586.9 L733.6,586.9Z" fill="#F5F5F2"/>
<path d="M659.5,561.9 L671,561.9 L671,572.3 L659.5,572.3Z" fill="#F5F5F2"/>
<path d="M697,549.4 L708.5,549.4 L708.5,559.8 L697,559.8Z" fill="#F5F5F2"/>
<path d="M650.1,538.9 L660.5,538.9 L660.5,545.2 L650.1,545.2Z" fill="#F5F5F2"/>
<path d="M679.3,543.1 L687.6,543.1 L687.6,549.4 L679.3,549.4Z" fill="#F5F5F2"/>
<path d="M1131.6,140.2 L1135.7,131.8 L1144.1,136 L1154.5,127.6 L1158.7,115.1 L1162.9,131.8 L1171.2,138.1 L1167,146.4 L1156.6,144.3 L1148.2,144.3 L1142,152.7 L1144.1,161 L1137.8,171.5 L1133.6,175.6 L1127.4,186.1 L1121.1,165.2 L1123.2,148.5Z" fill="#EF7B57"/>
<path d="M1048.1,152.7 L1058.5,149.6 L1060.6,163.1 L1052.3,163.1Z" fill="#EF7B57"/>
<path d="M265,281.8 L277.1,279.7 L281.3,292.6 L275,301.4 L266.3,301.4Z" fill="#F5F5F2"/>
<path d="M281.3,298.4 L292.2,298.4 L293.2,313.5 L288.6,318.7Z" fill="#F5F5F2"/>
<path d="M373.1,261.3 L416.9,265.5 L414.9,303 L360.6,297.8 L361.6,282.2 L372.1,281.1Z" fill="#DB2C27"/>
<path d="M456.6,281.1 L470.2,281.1 L470.2,307.2 L456.6,306.2Z" fill="#7F9CC4"/>
<path d="M469.1,315.6 L479.5,315.6 L479.5,323.9 L469.1,323.9Z" fill="#7F9CC4"/>
<path d="M452,461.6 L469.7,461.6 L469.7,474.1 L452,474.1Z" fill="#7F9CC4"/>
<path d="M449.9,487.6 L460.3,487.6 L460.3,500.2 L480.2,500.2 L480.2,525.2 L457.2,525.2 L456.2,512.7 L449.9,512.7Z" fill="#7F9CC4"/>
<path d="M517.7,498.1 L530.3,498.1 L541.7,506.4 L541.7,540.9 L529.2,540.9 L529.2,528.3 L517.7,528.3Z" fill="#7F9CC4"/>
<path d="M620,552.3 L630,552.3 L630,564.9 L620,564.9Z" fill="#7F9CC4"/>
<path d="M360.8,556.5 L418.6,563.1 L416.5,578.8 L425.9,594.4 L420.7,604.9 L418.6,634.1 L403,626.8 L397.7,614.3 L394.6,597.6 L380,580.9Z" fill="#DB2C27"/>
<path d="M559.5,656 L576.2,645.6 L586.6,651.8 L597,648.7 L601.2,658.1 L599.1,668.5 L584.5,682.1 L574.1,672.7 L576.2,666.4 L563.6,660.2Z" fill="#7F9CC4"/>
<path d="M550.1,715.5 L560.5,715.5 L562.6,733.2 L546.9,729Z" fill="#7F9CC4"/>
<path d="M531.1,101.7 L543.6,101.7 L543.6,105.9 L551,108 L552,116.3 L560.3,118.4 L560.3,126.8 L547.8,126.8 L546.8,134.1 L534.3,134.1Z" fill="#7F9CC4"/>
<path d="M552,165.4 L570.8,165.4 L570.8,193.6 L558.3,193.6 L558.3,192.5 L537.4,192.5 L537.4,184.2 L558.3,184.2 L558.3,173.7 L552,173.7Z" fill="#7F9CC4"/>
<path d="M610.4,233.2 L621.9,233.2 L621.9,242.6 L610.4,242.6Z" fill="#7F9CC4"/>
<path d="M521.7,291.7 L542.6,291.7 L542.6,311.6 L521.7,311.6Z" fill="#7F9CC4"/>
<path d="M542.6,311.6 L552,311.6 L552,322 L542.6,322Z" fill="#7F9CC4"/>
<path d="M527,322 L542.6,322 L542.6,330.3 L527,330.3Z" fill="#7F9CC4"/>
<path d="M509.2,330.3 L520.7,330.3 L520.7,338.7 L509.2,338.7Z" fill="#7F9CC4"/>
<path d="M659.5,327.2 L687.6,327.2 L687.6,338.7 L659.5,338.7Z" fill="#7F9CC4"/>
<path d="M659.5,338.7 L677.2,338.7 L677.2,341.8 L659.5,341.8Z" fill="#7F9CC4"/>
<path d="M704.3,507.6 L715.8,507.6 L715.8,516 L704.3,516Z" fill="#7F9CC4"/>
<path d="M725.2,492 L733.6,492 L733.6,501.4 L725.2,501.4Z" fill="#7F9CC4"/>
<path d="M725.2,524.3 L735.6,528.5 L741.9,516 L752.3,513.9 L754.4,503.5 L764.9,503.5 L764.9,513.9 L773.2,516 L787.8,518.1 L788.9,543.1 L779.5,545.2 L779.5,555.6 L769,555.6 L769,541 L758.6,536.9 L754.4,543.1 L746.1,549.4 L752.3,553.6 L760.7,564 L762.8,578.6 L750.3,580.7 L748.2,566.1 L737.7,557.7 L731.5,555.6 L725.2,547.3Z" fill="#7F9CC4"/>
<path d="M755.5,480.5 L785.7,480.5 L785.7,488.9 L777.4,489.9 L777.4,495.1 L764.9,495.1 L764.9,488.9 L755.5,488.9Z" fill="#7F9CC4"/>
<path d="M766.9,467 L774.2,467 L774.2,477.4 L766.9,477.4Z" fill="#7F9CC4"/>
<path d="M668.9,566.1 L677.2,553.6 L687.6,555.6 L687.6,566.1 L683.5,570.3 L687.6,584.9 L710.6,584.9 L712.7,597.4 L691.8,599.5 L687.6,589 L671,586.9 L664.7,574.4Z" fill="#7F9CC4"/>
<path d="M698.1,559.8 L712.7,561.9 L716.9,549.4 L723.1,549.4 L725.2,561.9 L716.9,574.4 L700.2,570.3Z" fill="#7F9CC4"/>
<path d="M620.9,551.5 L631.3,551.5 L632.3,544.2 L656.3,545.2 L656.3,553.6 L641.7,553.6 L634.4,564 L623,564Z" fill="#7F9CC4"/>
<path d="M626.1,530.6 L630.3,530.6 L630.3,541 L626.1,541Z" fill="#7F9CC4"/>
<path d="M796.2,533.7 L808.7,532.7 L821.2,534.8 L835.8,527.5 L850,526.4 L850,570.3 L831.6,572.3 L823.3,579.6 L808.7,580.7 L804.5,570.3 L800.3,553.6Z" fill="#7F9CC4"/>
<path d="M703.3,614.3 L708.5,613.2 L710.6,621.6 L704.3,620.5Z" fill="#7F9CC4"/>
<path d="M845,442 L852.3,440.9 L854.4,450.3 L848.2,455.6 L845,450.3Z" fill="#7F9CC4"/>
<path d="M845.7,441.9 L851.9,440.9 L854,449.2 L849.8,454.4 L845.7,451.3Z" fill="#7F9CC4"/>
<path d="M906.2,492 L913.5,492 L913.5,507.6 L907.2,507.6Z" fill="#7F9CC4"/>
<path d="M921.8,541 L934.3,537.9 L936.4,547.3 L930.2,557.7 L928.1,564 L919.7,564 L921.8,553.6Z" fill="#7F9CC4"/>
<path d="M830,528.5 L853,526.4 L855,536.9 L848.8,545.2 L850.9,553.6 L857.1,557.7 L846.7,568.2 L834.2,570.3 L830,578.6Z" fill="#7F9CC4"/>
<path d="M872.8,545.2 L880.1,538.9 L884.3,543.1 L894.7,549.4 L892.6,555.6 L890.5,566.1 L886.3,572.3 L875.9,566.1 L871.7,555.6Z" fill="#7F9CC4"/>
<path d="M881.1,590.1 L901,590.1 L899.9,599.5 L886.3,599.5Z" fill="#7F9CC4"/>
<path d="M1103.4,131.8 L1110.7,92.2 L1116.9,90.1 L1123.2,108.9 L1129.5,123.5 L1135.7,131.8 L1131.6,140.2 L1123.2,148.5 L1121.1,165.2 L1127.4,184 L1116.9,169.4 L1110.7,152.7Z" fill="#DB2C27"/>
<path d="M1096.1,131.8 L1103.4,131.8 L1127.4,186.1 L1123.2,190.3 L1116.9,198.6 L1088.8,203.8 L1089.8,186.1 L1088.8,165.2 L1094,148.5Z" fill="#DB2C27"/>
<path d="M1059.6,148.5 L1096.1,138.1 L1094,148.5 L1088.8,165.2 L1089.8,186.1 L1088.8,203.8 L1075.2,208 L1073.1,198.6 L1066.9,186.1 L1061.6,165.2Z" fill="#DB2C27"/>
<path d="M1004.3,384.4 L1010.6,385.5 L1011.6,390.7Z" fill="#7F9CC4"/>
<path d="M1033.6,415.7 L1041.9,415.7 L1044,420.9 L1035.6,422Z" fill="#7F9CC4"/>
<path d="M1089.8,190.3 L1108.6,190.3 L1112.8,184 L1123.2,190.3 L1116.9,198.6 L1088.8,203.8Z" fill="#EF7B57"/>
<path d="M1075.2,194.4 L1086.7,193.4 L1088.8,203.8 L1075.2,208Z" fill="#F9B384"/>
<path d="M518.8,503.3 L530.3,503.3 L530.3,515.8 L541.7,516.9 L541.7,528.3 L518.8,527.3Z" fill="#4373B9"/>
<path d="M810.8,556.7 L817,554.6 L826.4,558.8 L825.4,566.1 L819.1,572.3 L817,578.6 L810.8,579.6 L811.8,566.1Z" fill="#4373B9"/>
<path d="M881.1,549.4 L884.3,549.4 L884.3,553.6 L881.1,553.6Z" fill="#4373B9"/>
<path d="M235.7,263l1.5,.5 1.6,7.9-3,5.3M403.5,534l.3-.4M422,533.6l6.3,11.3-5.8,7.8-18.5-1.2-3.1-5.9M399.6,263.8l-9-3M383.5,262.3l.2-1.7M1143.4,232.1l-3.2-3.8-5.6-.3-2.1,7.9 3.8,2.3M405.2,237.6l6.7-.3 6.3,27-1.4,2.2M615.2,616.3l5.8,5.7 7.1-3.3-1.5-12-6.4-3-1.6,.9-3.5,8.5M608.3,601.8l-1.4-.4-4.4,7.4 4.8,3.9M614.7,603.5l3.9,1.1M622.2,639.1l4.7-4.7-7-8-3.4,2M621.7,648.5l8.6,.3 4.1-11-2.2-3-5.3-.4M621,622l-1.1,4.4M607.3,620.7l-1.4,1.9M633.3,651.7l-.5,.1-2.5-3M634.4,637.8l4.5,1 3.8,5.5M632.2,634.8l3.4-9-3.2-5.6-4.3-1.5M614.8,656.7l4.9-1.5 2.3,3.7M610.8,659.9l1.3,4.5M237.2,263.5l5.4-7.3-.7-3.8M468.3,589l-11.9,8.3 8.5,9.6 9.2,.4 5.3-9.1-1.9-5.5-9.2-3.7 1.1-9.9-5.3-5.1-11.9-.4-.1,23 4.3,.7M423.9,478.7l2.4,6.4-2.8,5.4M333.6,259.8l-2.9-7.8 18.4-6.5 11.1,12.8-.7,2.5M375.2,257.6l-15,.7M375.2,232.4l-19.7-3.1-6.4,16.2M366.8,298.4l-.1,.3-.9,.9M344.4,297.7l-4-3.8M386.5,301.4l.7-.8 1.2-.1M394,301l.1,1M386.7,300.3l.5,.3M366.7,298.7l1.1,1.1M404.4,302l.6,1M337.8,297.2l2.4-3.3M330.7,252l-3.4-.8-5.8,8.1M318.9,263l-5.6,7.8 2.9,4.7M316,290.4l-2.2,2.8M313.3,270.8l-14.4-.4-2.9,4M294.7,278.9l-1-1.5 1.6-2.2M295.2,279.7l.8,1.3M1140.2,228.3l3.8-7.4 4.4,.5 2.8,7.2-3.8,3.8M1064.6,266l-2-6.2 2.5-3.5 6.7,4.1-4.2,6.8-3-1.2-6.3,3-4.5-3.3 1.9-5.1 6.9-.8M1086.8,256.9l-2.8-6.7 3.1-3.9 4.7,.3 2.2,7.3-2.9,2.8-4.3,.2-2.2,2.3-8.1-.4-.6,.7 1.3,7 6.8,1.6 1.7-1.8-1.1-7.1M1100.3,262.7l1.5-6.4-2.8-2.4-5,0M1099.2,263.7l-4.4,.7-3.7-7.7M1151.2,228.6l2.8,.3M1132.2,236l.3-.1M606.9,88.2l-.2,5.7 5.7,3.8 1.7-.4 4.9-9.1M626.1,81.4l.1,1.5 6.6,.2M626.1,83l.1-.1M436.2,236.7l9.5,.7 3.3,2.5-1.9,13.3-5.5,3-7-1 1.6-18.5-5.4-4.2-15.3,.9-3.6,3.9M593.6,226.4l-5,4.4 4.3,12.2 2.8,1.1 2.1-.6 6.1-7.9-10.3-9.2 1.2-5.8 3.5-2.1 12.2,6.4M592.9,243l-8.8,2.3-5.3-5.2 4.5-8.9 5.3-.4M603.5,140.2l-8.9-4.7 9.2-10.2 9.2,8.5-9.5,6.4 2.6,8-7.7,7.5-2,.4-.7-.3-7.2-12.8 5.9-7.5-8.2-10.8 6.5-8 8.1,1.5 3.2,3.9-.2,3.2M594.4,135.5l.2,0M555.3,173.7l.7,8.4-8,2-6.7-6.9 2.4-7.6 8.3,1.8M537.4,190.5l-3.9,0-2.7-5.7 1.5-4.3 9-3.3M548,184.2l0-.1M566.6,193.6l1.9,1.9-2.4,7.5-8.4,2.8-2.5-2.9M556.2,195.4l2.1-2.8M545.7,192.5l.5,1.1M556,182.1l2.3,1.5M557.5,210.4l-7.8,6.6 6.7,9.9 8.8-3.8 .3-5.6-8-7.1 .2-4.6M368,183.3l6.1-1 2,1.7M361.1,184.4l-5,.7M376.7,185.3l.1,11.1M369.5,166.7l4.6,15.6M346.6,182.8l.6,1.6M385.2,229l2.9-19-4.5-3.4M355.5,229.3l-1.9-4.4 5.2-14.3M335.2,112.2l8.3-9.9 8.8,4M412.5,140.5l13.1-9-.7-3.1M433.5,137.8l.4,15-10.1,4.1-11.8-11.9M425.6,131.5l6.9,3.6M1072.3,144.9l-.3-.1M1068.2,146l.2-.2M320.3,180.1l-.3,1.9M299.7,189.3l5.2,6.9 2.6-.4M353.6,224.9l-26.4-9-.2-6.2M285.4,201.2l15.9-.7-.1,17.5-15.4-2.9-.5-5M304.9,196.2l-3.6,4.3M626.6,606.7l7.5-2.3 6.2,7.9-7.9,7.9M620.7,652l-1,3.2M608.3,568.4l-4,1.7-2.9-1-4.8-11.1 6.8-5.2 4.2,1.1 4.2,6.7-3.5,7.8 9.6,4.6 1.6,5.6-8.1,5.8-6-4.3-1.1-10M605.4,580.1l-9.5,5.1-5.6-10.9 11.1-5.2M606.9,601.4l-2.2-5.8 6.8-6.5 9.7,5.9-1,8.7M604.7,595.6l-8.3-2.6-1.7-2.9 1.2-4.9M611.5,589.1l-.1-4.7M617.9,573l6.1-8.1M611.8,560.6l8-1 .2,.1M607.6,553.9l7.5-6.5 5.2,2.6-.2,2.3M619.8,559.6l.2-4.2M691.8,615.8l-1.7,2.5 2.1,5.1 4.4,.8 2.7-2.6M704.6,621.6l3.3,2.2-.7,5.1-3.3,1.9-4.8-1.4-2.5-5.2M692.2,623.4l-4.1,4.4-6.8-1.9 2.1-8.7 6.7,1.1M501.2,630.1l3.5,9.2 7.9,.1 3.8-3.6 1-6.4-2.6-4.3-5.6-1.1-8,6.1-5.4-2.3-1.7-3.5-8.7-1.7-6.2,7.3-4.1-.3-4-6-9.5-2.4 3.3-14.3M509.2,624l-3.3-9.9 9.2-4 2.4,1.2 2.4,6.2-5.1,7.6M535.3,619.3l-3.2-.9-2.5,1.3-2.9,8.4 4.6,6.9 1.5,.1 7.4-7.6-4.9-8.2 8.7-5.6 7.2,4.7-1.7,7.4-4.8,2.7-4.5-1M519.9,617.5l9.7,2.2M517.5,611.3l8.8-5.2 4.4,2.7 1.4,9.6M517.4,629.4l9.3-1.3M531.3,635l-5.5,4.3-9.4-3.5M461.6,621.2l-5.6,3.6M452.1,596.6l-1.8,.7-7.3,15.9 1.3,2.8M450.6,626.8l-.5-.3M378.5,558.5l-.3-.9M441,613.1l2,.1M423.8,602.9l-1-2.1M450.3,597.3l-17.2-7-8.3,6.4M404,551.5l-3.1,7M400.7,559l-.9,2M422.5,552.7l1.6,7.6M424.2,560.5l2.1,9.5-1.1,.5M417.9,573.5l-.7,.4M433.1,590.3l-.2-1.4M431.7,575.3l-.3-2.4-5.1-2.9M405.3,628.4l.4-.1 .1-.2M405.7,628.3l.4,.7M424,641.3l2.4,0M238.8,271.4l21.3,7.3-.2,.8M304.9,220l-2.6-.7-8.3,13.9 10.6,12.4 15.2-2.3 0-17.5M327.3,251.2l-7.5-7.9M304.6,245.6l-10.2,11.2 1,3M295.6,260.6l1.5,4.4M297.2,265.4l1.7,5M327.2,215.9l-2.3,2.4M301.2,218l1.1,1.3M242.6,256.2l14.6-1.4 0-.1M257.6,239.9l1.4,.6-1.4,11.1M260.1,278.7l8.4-6.3 .2-10.1-11.5-7.5M426.3,485.1l6.1,3.1 4.6,7.8-3.9,10.5-3,1.5M477.5,592.7l7.2-7 7.7,3.5-.9,3.8M490.6,597.4l-.6,3-10.6-2.2M416.8,267.9l14.2,19.4-.2,1.3-2,3-8,4.6-5.4-1.8M420.8,296.2l-1.3,8.1M395.3,336l-2.1,9.5-15.3-2.6-2.2-4.2 6.3-5.4M403.1,332.8l9.5,11.9-7.4,4.8-5.9-1.3M393.2,345.5l.7,1.4M371.1,333.7l2,3.8 2.6,1.2M292.5,302.4l-8.6-4M288.2,279.4l5.5-2M268.5,272.4l7.5,4.4M1105.4,200.7l1.5,.2 .1-.5M1106.9,200.9l.7,1.5-1.7,5.8-5,1-4.2-4.9 .8-2.1M1148.4,221.4l3.5-3.2M1134.6,228l-2.7-2.9 1.4-5.8 8.3-1.2 2.4,2.8M1141.6,218.1l.6-5.5 6.5-1.2M1112,240l.1,5.7 2.7,1.3 3.3-2M1112,239.7l0-1.2 6-2.1 1.8,4.1M1099,253.9l2.4-8 1.6-.8 4.9,2.4-.4,7.9-5.7,.9M1091.8,246.6l2.7-2.8 6.9,2.1M1116,228.3l6.6-4.2 3.4,2.1-1.3,7.6-6,1.3-2.7-6.8-4.2-1.5-.8-5.1 8.3-5.9 1.5,.3 2.3-1.5 1.7-8.8-5.9-4.2-2.2,1.8-1.6,7.8 4.2,4.6M1125.6,234.5l-.9-.7M1131.9,225.1l-5.9,1.1M1118,236.4l.7-1.3M1131.9,200l-.2,.1-5.7-6.3 2-2.1M1122.3,191.5l1.3,2.4-4.3,3.9-1.2-.7M1123.6,193.9l2.4-.1M1133.3,219.3l-2.2-3.8 2.8-5.7M1139.9,209.6l2.3,3M1122.6,224.1l-1.8-8M1115.1,211.2l-6.4,.2-1.8,7.4 4.1,2.9M1131.1,215.5l-8-.9M1131.5,205.8l-1.1-1.5-5.6,1.5M1105.9,208.2l2.8,3.2M1107.6,202.4l9.1,1M1131.7,200.1l-1.3,4.2M1119.3,197.8l-.4,3.8M1075.3,305.7l-.6,.2-2.2-1.9-.9-7.5 2.1-1.7 4.9-.1 .5,.4M1076,305.6l-.1,0M1087.1,246.3l-2.5-4.6-6.6,.6-.2,7.5 6.2,.4M1108.4,256l-.9-.6M1107.9,247.5l4.2-1.8M1114.8,247l.8,2.2M1094.8,264.4l-1.8,2.5 0,.3M724.4,184.3l1.2-7.1 8.4-1.9 5.7,7.2-1.1,3.6-14.2-1.8-1.2,1.6-8.8-.6-3.4-8 2-5.2 5.5-2.5-4.3-12.3 2.7-3.4 8.6,1.9-.3,10.1-4.4,4.1-2.3-.4M660.9,210.5l-.1,7.6-6.5,2.3-7-7.6 6.5-7.7 7.1,5.4 7.3-3.7-1.1-6.3 7.3-5.2 1.2,.2 4.3,7.5 10.2-2.3 .4-.6-4.7-9.1-4-.7-6.2,5.2M598.4,155.7l10.2,6.7-1.1,8.2-4.6,2.4-5.5-2.6-1-14.3M607.5,170.6l5.2,2.1 2.4,7.4-3.3,5.1-8.9-1.2 0-11M770.7,242.4l6.5,4.2 3-.8 1.6-13.2-2.8-1.4-5.9,2.2-2.4,9-5,1.2-6-5.7 5-8.6 8.4,4.1M647.3,212.8l-3.1,.3-4.6,6.9 6.2,8 6.1-1.2 2.4-6.4M639.6,220l-3.9,.8-2.6,9.6 6.3,3.8M645.8,228l-3.8,6.2M615.7,212.4l.2,7.5 8,2.9 6.8-4.7-2.2-9.1-5.5-2.2-7.3,5.6-7.1-3.3-1.3-9.7 4.8-2.7M611.5,224.9l4.4-5M621.9,234l4.2-1.4 .2-.3-2.4-9.5M635.7,220.8l-5-2.7M633.1,230.4l-6.8,1.9M644.2,213.1l-7-8-8.7,3.9M610.4,227.8l-5.3,7.5-1.2,.3M614.1,97.3l7.3,4.4 6.6-7-4.4-6.5M613.7,111.1l0,8 3.7,2.5 9.6-2.5-2.7-10.4-1.7-1.2-4.9,1.8M610.5,102.2l1.9-4.5M621.4,101.7l1.2,5.8M604,122.1l9.7-3M604,111.1l-3.2,7.1M613,133.8l3.4,.2 1-12.4M441.6,256.2l5.7,10.2 6.2-2.4 1.1-7.6-7.5-3.2M388.1,210l20.4-6.6 2.5,1.7 4.5,28.3M434.6,255.2l-8.9,7.1-7.5,2M398.6,184.3l8.5,7.2 13.6-17.5-1.5-4.3-10.4-2.9M397.3,183.1l-5-4.1 4.1-13.8M408.5,203.4l-1.4-11.9M378.4,184l13.9-5M423.8,156.9l-4.6,12.8M619.7,242.6l3.9,4.5-.5,2.6-10.7,2.3-2.3-1.4 2.2-8M605.1,235.3l5.3,4.4M623.6,247.1l6.4-4.6-.7-2M626.8,234.2l-.7-1.6M610.1,250.6l-2.5,.5-9.8-7.6M554.9,279.5l1.2-6.4-8.5-3.1-3.8,3 0,6.9 3.7,2.4 7.4-2.8 6,6.4 2.8-1.1 4.6-10-3-4.8-4.8,0-6.2-10.4-6.8,3 .1,7.4M560.5,270l-4.4,3.1M563.5,238.6l-6.4,.3-2.9,9 3.3,5.1 6.5,1 6.1-3.7 1.2-9.4-.5-.5M565.2,223.1l4.9,4.2-.7,5.9M556.4,226.9l-2.7,6.1 3.4,5.9M584.1,245.3l-1.9,8.3-3.8,1.5-8.3-4.8M578.8,240.1l-7.5,.8M570.1,227.3l7.7-1.5 5.5,5.4M544.5,202.9l-2,1.5-11-6.8 2-7.1M489.8,237.6l-5.5,4.8-7.9-3.7 1.2-9.6 10.3-.1 1.9,8.6 7.7,2.1 4.8-7.2-3.9-5.3 3.7-10.4 5,.6M465.5,325.3l-7.3-3.6-5.8,4.5 4.6,8.8 4.2,.1 4.3-9.8 1.3-.2 6.8,7.2-.8,5.5-6.9,2.5-4.7-5.2M411,205.1l21.3-2.4 6,11.4-7.5,18.4M438.3,214.1l10.8,2.4 4.3,6.3-7.7,14.6M570.8,173.3l12.1-2.7 2.3,2.8-7.1,12.1-7.3-3.5M566.3,165.4l10.8-7.5 5.3,4.3 .5,8.4M551,159.4l8.7,3.3 1.2,2.7 .1,0M585.2,173.4l2.7,.9 9.5-3.9M595.7,155.8l-13.3,6.4M541.8,222l5-5.2-5.1-8.3-12.5,5.3 .4,4.6 12.2,3.6 .5,10.5 11.4,.5M549.7,217l-2.9-.2M542.3,232.5l-1,.9-9.4-1-2.6-11.7M529.6,218.4l-.6,1.2 .1,.5M542.5,204.4l-.8,4.1M531.5,197.6l-3.5,2.4-2.1,9.8 3.3,4M464.6,121.4l4.8-4.6 11,2 1.7,8.2-9.6,3.4-7.9-9-3.7,.3-4.5,8.8-7,1.7M519,160.6l8.5-7.8 4.7,3.9 1.3,8.6-6.2,5.8-4.5-.8-3.8-9.7-8.7-1.7-2.6-4.6 7.5-10.6 12.1,7.4 .2,1.7M533.5,165.3l9.6,2.8 .6,1.5M532.3,180.5l-5-9.4M530.8,184.8l-11.9,1-2.6-10.5 6.5-5M532.2,156.7l3.1-.6M541.8,154.9l4-.8 .3-1.4-3.6-7.9-10.1-1.2-5.1,7.5M543.1,168.1l1.5-3.8M545.8,154.1l.3,.8M443,119.8l.2-4.4 11.1-.2 6.6,6.5M345.2,90.9l-4.1,5.7 2.4,5.7M316.8,92.9l2.9,3.5 11-4.8-.1-2.6M317.7,101.2l2-4.8M341.1,96.6l-10.4-5M1029.4,213.1l-8.9-5-6.2,10.4 9.7,4.6 5.4-10 5.3-.8 2.9,13.9-1.8,.9-11.3-2.9-3.2,8.1 9.5,4.5 5-9.7M1052.8,185.5l4.2-.7 3.3,1.9-.9,9.9-5.9,3.8-3.3-.9-3.5-5.5 6.1-8.5-8.4-6.7 2.5-3.5M1106.9,218.8l-7,1.2-2-5.3 3-5.5M1090.1,203.6l2.2,2-2,6.8-2.6,1.2-6.3-7.5M1096.7,204.3l-4.4,1.3M1097.9,214.7l-7.6-2.3M1053.5,200.4l3.5,7.9 8.6-2.2 .6-6.5-6.8-3M1057.1,181.9l-.1,2.9M787.9,317.6l-5-2.1-.4-1.1 2.9-7.2 3.3,0 1.4,1.3 .9,6.6-3.1,2.5 1.2,5.6 8.8-1.3 .2-1.1-2.4-5-4.7-.7M772.3,477.4l.1,.1 .2-.1M774.2,476.3l5.1-3.5-4.4-4.9-.7,.2M793.1,499.4l-3.9,1.7M788.2,503.5l.2,2.6 4.9,3.5M794.3,497.2l1.4-4.4-4.5-2.7-4.4,2.6M1005.3,213.5l.2-8.1-8.3-1.6-6.8,5.5-.5,3.4 7.2,5.9 8.2-5.1 7.8,5.4 1.2-.4M1020.5,208.1l-1.2-3.9-11.6-1-2.2,2.2M725,546.3l-1-3M724.5,537.3l-1.9,1.6M754.4,488.8l-3.6,5.2 2.1,3.8 1.5-.1M895.2,599.5l5.4,3.6-.2,5.6-9.6,4.8-3.2-2.4 1.3-10.2 4.2-1.4M741.5,574.2l.1,1.6 4.8,1M978.1,661.6l-8.1-2.9-2.3,2.3 .7,7.5 7.9,1.8 1.8-8.7 3.1-1.7 .1-6.5 5.3-2.6 4.8,3.7-1.2,7.7-1.8,1.3-7.2-3.6M983.2,620.9l-.1,.1 .4,.2M996.1,641.9l-.8,1.6 2.5,8.4 3.9,1.8 .2,0M956.8,667l-3.2,.1-7.6-7.4 1.7-4.5 9.9,0 2.6,4.7-3.4,7.1 4.4,4.7 3.2,.3 4-3.5M967.7,661l-7.5-1.1M947.4,682.5l1.1-5.1 7.1,2.2 1.8,3.3-5.1,7.3M961.2,671.7l-5.6,7.9M953.6,667.1l-6.4,8.7 1.3,1.6M992.7,704.8l1.6,6.4-10.8,3.3-1.1-2.5 3.5-8.9 6.8,1.7 4.1-4.6-1.9-6.3 9-3.9-.3-6.6-3.4-2.3-9.6,6.3 .7,4.2 3.6,2.3M978.6,719.2l4.2-1.3 .7-3.4M970.8,709.8l3.5-1.9 8.1,4.1M952,644l-2.3-6.4-8.4,.1 .8,10.8 4,2.4 5.9-6.9 7.2,1 2.3,3.8-3.9,6.4M947.7,655.2l-1.6-4.3M964.4,672l3.8,8.1-4.5,5-6.3-2.2M946,659.7l-.8,.5-2.8,11 2.8,4 2,.6M71,339.3l-4-.6-.8-9.5 4.7-2.2M80,321.5l.3-1.6 8.1-8 5.4-.5M88.4,311.9l-9.3-12.2 2.5-7.5 4.6-2.4M259,240.5l6.2-3.8-3-13.3-2.3,.5M270,211.6l-1.3,5.4-3.5,1.2-2.3-2M285.8,215.1l-6.8,5.7-10.3-3.8M262.2,223.4l3-5.2M193,105.9l-4.1,8.3M206.4,108.5l.4,.4 11.4-1.5M601.7,546l-6.2-3 .1-9.8 6-1.8 8.1,6.2-8,8.4 1.7,6.8M615.1,547.4l-2.5-9.6-2.9-.2M606.4,520.8l-2.6-12.2-9.1,2.3-.6,7.2 10.1,4.1 2.2-1.4 4.5,0 5.9,6-2.1,9.3-2.1,1.7M601.6,531.4l2.6-9.2M634.1,604.4l3.2-6.5 4.4,0 6.1,5.1 .2,4.9-4.1,4.8-3.6-.4M573.6,646.9l-5.2-6.9 1-4.7 7.4-3.4 7.3,6.6 .1,1.2M594.5,632.2l-1.1-.4-9.3,6.7M530.7,608.8l9.3-5.6 3.5,.8 .5,9.7M596.6,558l-4.6-.9-2.9-10.3 6.4-3.8M593.4,631.8l-2.9-5.9-12.1,.6-1.6,5.4M628.3,579.7l-3.1,1.3-.2,10.9 10,2 2.5-7.5-9.2-6.7 3-4.4-2.3-10.4M619.5,578.6l5.7,2.4M631.3,575.3l5-.2M640.8,581.2l-.2,3.4-3.1,1.8M621.2,595l3.8-3.1M637.3,597.9l-2.3-4M614.7,536.1l11.4,2.2M620.3,550l8.9-3.5-1.6-5.5M640.4,555.5l0,.3M630.3,551.5l.6-4 .9,0M639,558.2l-2,2.1M630.9,547.5l-1.7-1M708.5,554l-2.4-1.3-2.9,7.1M692.1,607.9l-.4-.5-6.3,.1-3,8.3 1,1.4M691.7,607.4l1-2.5M717.5,593.3l-.6-.8-1,.1M710.3,622.2l-2.4,1.6M737.2,634.7l4.5,6.4-.8,2.3-7.4,2.3-2.3-4.8 6-6.2 .1-2.7-1.9-1.4-9.2,1.6-1,3.6 1.9,3.7 4.1,1.4M733.3,649.7l-.6-1 .8-3M740.9,643.4l3.1,5.8M725.2,635.8l-9.1,1.5 .9,5.2M727.1,639.5l-4.3,5.8-.6-.3M732.7,648.7l-2.1,.3M722.8,645.4l0-.1M645.6,625.7l1.9-6.5 9.1-1.2 2.1,5.9-3.9,5.1-7.6-.9-1.6-2.4-10,.1M643.9,612.7l3.6,6.5M638.9,638.8l7.1-4.7 1.2-6M654.8,629l3.2,5.9 8.5-4.2-2.3-5.4-5.5-1.4M653.5,638.7l-2.2,.4-.4,.9M646,634.1l5.3,5M658,634.9l-.3,1.7M632.8,651.8l0,.3M516.5,647.7l-3.8,6.6 2.9,4.7 11.8-2.4 .6-6.1-2.4-2.5-9.1-.3-3.9-8.3M525.8,639.3l-.2,8.7M504.7,639.3l-1.7,2.5 4,11.7 5.7,.8M474.1,607.3l5.3,6.1-8.3,10.2M485.4,622.6l-4.5-8.8-1.5-.4M495.8,627.8l-9.4,10.4-7.2-8.3M506.9,593l7.1-2.3 4.4,6.6-5,5.7-1.9-.7M526.3,606.1l-1.4-8.3-6.5-.5M515.1,610.1l-1.7-7.1M501.3,603.5l.6,9-4.9,2.7-8.6-5.2 1.7-9.4 .5,.1M505.9,614.1l-4-1.6M490,600.4l.1,.2M480.9,613.8l7.5-3.8M494.1,624.3l2.9-9.1M549.5,625.8l7.8,5.1 5.5-1.5 1.8-9.9-8.4-3.6-5,2.5M562.8,629.4l6.6,5.9M578.4,626.5l-1.3-3.8-9-5-3.5,1.8M452.2,573.6l-3.4-3.3-2-.6M431.4,572.9l4.9-1.5M428.3,544.9l8.1-1 6.9,7.6 .9,13.4M577.8,738.9l-.6-1.8M568.4,734.1l-2.6,2.3M562.4,643.3l6-3.3M552.4,647.8l-5.5,6.2-3-.3-6.1-6.7 .8-4.7 7.7-3.8 6.9,3 1.8,3.3-2.1,2.4M557.3,630.9l-4.1,10.6M556.5,645.2l-1.5-.4M544.7,628.5l1.6,10M532.8,635.1l5.8,7.2M528,650.5l9.8-3.5M528.2,657.8l-.8-1.2M540.7,657.2l3.2-3.5M546.9,654l5,7.5-1.2,1.8M560.4,656.9l-2.6,5.1-5.9-.5M603.2,669.5l-2.9-.3-.7-1M285.1,253.7l-9.6,2-5.1-17.4 11.4-6.4 4,2.2-.7,19.6 9.3,3.1M268.7,262.3l5.2-5M275.5,255.8l0-.1M294,233.2l-8.2,.9M265.2,236.7l5.2,1.6M279,220.8l2.8,11.1M492.4,589.2l2-.8 7.4,1.8 2.1,2.8M513.3,386l6.1-1.7 3.6,2.3-2.8,8.7-9.1-3.1 2.2-6.2-5.3-6.7 2.2-3.5 8.2,1.1 1,7.4M557.9,451.2l-1.2-4.2-7-2.7-6.7,5.8 3.8,6.8 7.6-.6 3.5-5.1 8.2,2.1 4.1-7.7-8.7-4.9-4.8,6.3M561.5,440.7l-.3-4-2.1-2.1-5.8-.2-4.5,4.4 .9,5.5M428.4,359l2.4-1.2-1.2-10.7-10.7-5.9-6.1,3.5 6,13.6M405.2,349.5l-.1,3.1M412.6,344.7l.2,0M429.9,456.3l7.1-1.7 3.5-6.8-.3-3.1-1-1.2M417.1,322.5l-2.1,3.4 5,11.6 9.3-6.2-1.4-8.3-8.9-1.2M429.3,331.3l5.4,2.6 2.3,7.4-7.4,5.8M418.9,341.2l1.1-3.7M405.6,327.9l9.4-2M434.7,333.9l6.4-5.8-7.4-10.9-5.8,5.8M373.1,337.5l-1.6,.9M1004.1,719.6l3.1-2.6-2.7-8.2-9.3,3.1 1.3,6.4 7.6,1.3 .3,9.1 2.4,1.4 6.5-5.2-2.1-7.4-4-.5M1112,238.5l-.5-.3M1103,245.1l.5-3.2M1111.8,226.8l-3.1,2.8-.2,1.3M1108.7,229.6l-8.8-2.5-.7-5.6 .7-1.5M1013.1,218.9l-2.8,7.5 7.8,7.6 3.2-1.7M1024,223.1l.5,1.1M1055.7,260.6l-3.1-7.2 2-3.3 10.3,2.3 .2,3.9M1074.7,305.9l-.7,2.6M1073.8,309.7l-.5,2 .4,.5M1073.3,311.7l-.7,.2M1072.5,311.9l-4.3,1.2-1.3,4.7 2.6,3.1M1079.6,286.9l-1.7-1.8 1.1-3.5M1073.7,294.8l-1.9-8.8 6.1-.9M1078.6,294.7l1.4-4.1M1077.8,278.4l1,1.4M1090.5,230l-2.6,5.7 6.2,3.3 4.9-3.6-.3-2-.5-3.6-7.7,.2-2.2-4.6 1.8-3.1 9.1-.8M1084.6,241.7l2.5-5.7 .8-.3M1094.5,243.8l-.4-4.8M1099.6,235.7l-.6-.3M1099.9,227.1l-1.7,2.7M1075.9,273l-1.6-3.1 2.9-3.4M1084,271.7l0-3.6M1067.6,267.2l1.3,2.3 5.4,.4M1071.8,260.4l4.1-.9M1064.9,252.4l3.1-3.2 7.7,2.4 .8,7.2M1077.8,249.8l-2.1,1.8M1093,266.9l-7.3-.6M585.4,88.1l0,1.3-8.3,1.6-4.3-3.4M597.1,93.4l-3.1-3.2-6.1,.8 .1,14.9 1.4,.8 3-1.2M606.7,93.9l-3.4,1.4M595.3,88.2l-1.3,2M592.7,116.7l-3.3-10M585.4,89.4l2.5,1.6M784.6,200.2l-8.4-1.7 .2-6.8 5.6-4.6 6.6,2.4 1.3,3.6-5.3,7.1 2.9,6.4-1.1,2.8-8.4,1.4-2.3,9.3 1.5,1.3 12.7-3.1-3.5-8.9M734,175.3l2.8-6.9 9.2,1.9-.4,8.5-5.9,3.7M754.4,150.1l-7.4,9.1-6.9-2.7 .8-9 1.9-1.2 10.1,2.1 1.5,1.7 1.9,.6 4.7,10.5-11,4.6-3-6.6M612.7,172.7l7.8-4.5 5.9,8.9-1.9,2.3-9.4,.7M725.2,165.9l10.2,.2 1.7-7.7-9.1-4.1-2.5,1.5M725.6,177.2l-4.8-7.2M736.8,168.4l-1.4-2.3M716.9,153.9l-1.1-5-9.5-4.1-3.8,5 3.7,8.9 8-1.4M693.4,145.5l2.3,4.6 6.8-.3M706.3,144.8l-.4-4.1-1.9-1.7-1.1-.1M699.5,170.6l8-2.2-1.4-9.6-9.7,3.4 3.1,8.4-1.9,3.8 4.8,5.1 8.6-2.2M713,172.1l-5.5-3.7M697.6,174.4l-7.3,1.6-4.3-7.7 8-7.2 2.4,1.1M706.2,158.7l-.1,.1M694,161.1l-2.1-5.9 3.8-5.1M685.8,191l5.6-5.4-1.9-8-11.3,3.7 3.6,9M660.8,218.1l3.3,1.9 2,9.5-9.8,2.4-4.4-5.1M677.9,207.8l6.8,6-1,5.5-6.6,2.4-5.1-4.8 1-7.1 4.9-2 2-4.8M690.1,200.7l1,9.6-6.4,3.5M668.2,206.8l4.8,3M664.1,220l7.9-3.1M677.1,221.7l-1.4,5.5-8.5,3-1.1-.7M675.7,227.2l5.9,6.4 4.1,.5 3.5-9.8-5.5-5M689.2,224.3l5.5-1.3 2.8-9.2-6.4-3.5M696.5,198.4l5.1,2.8 8.8-4.4-.8-6.2-8.5-3.5-2.5,1.3-2.1,10-6,1.7M701.6,201.2l1.3,9.6-.8,1.4-4.6,1.6M691.4,185.6l7.2,2.8M702.9,210.8l9.6-2.5 1.5-8.9-3.6-2.6M690.3,176l-.8,1.6M702.4,179.5l-1.3,7.6M714.4,185.3l-4.8,5.3M723.2,185.9l1.4,7.5-4.7,5.6-5.9,.4M734.7,197.2l.5,1.9 12.9,3.1 3.2-3.5-2.4-6.4-9.5-3.2-4.7,8.1-10.1-3.8M738.6,186.1l.8,3M745.6,178.8l7.8,3.7 .5,2-5,7.8M730.3,217.4l7.4-3.3 .6-2.3-4.3-8.8-9.1,4.4-.6,2.1 6,7.9-1.6,4.3-7.2,1.8-5.5-6.1 1-4.6 7.3-3.3M748.1,202.2l-.5,5.1-9.3,4.5M735.2,199.1l-1.2,3.9M719.9,199l5,8.4M717,212.8l-4.5-4.5M702.1,212.2l6.3,8.2 7.6-3M617,196.7l5,4.3 9.4-8.7-6.6-5.2-7,3.3M624.5,179.4l.3,7.7M611.8,185.2l2.9,5.2M637.2,205.1l1.1-3.7-4.9-9.2-2,.1M623,206.8l-1-5.8M667.2,230.2l1.7,8.3-10.6,4.6-3.2-2.8 1.2-8.4M681.6,233.6l-8.8,7.7-3.9-2.8M759.2,224.1l-9.4,4.4-5.1-4.8 0-1.9 8.2-7.9 4.4,.6 1.9,9.6 4.9,3 .6,2.2M749.8,228.5l.2,3.1 7.6,6.5 2.1-.2M747.6,207.3l5.3,6.6M737.7,214.1l7,7.7M740.3,238.8l-8.7,3-5.1-5.4 6.8-8.2 2.8,.7 4.2,9.9 2,.8 7.7-8M744.7,223.7l-8.6,5.2M728.7,221.7l4.6,6.5M726.5,236.4l-3.9-.2-4.5-5.1 3.4-7.6M742.3,239.6l2,4.1 7.8,1.5 5.5-7.1M765.7,243.6l-2.6,7.7-8.1,.2-2.9-6.3M755,251.5l-3.3,5.2-7-1.1-3.5-4.9 3.1-7M753.9,184.5l9.6,4.5-.4,3.2-10.3,6.6-1.5-.1M737.1,158.4l3-1.9M746,170.3l3.5-2.9 .5-1.6M753.4,182.5l5-7.4-8.9-7.7M758.4,175.1l5.5-1.2 4.5,8.4-.8,3.3-4.1,3.4M767.6,185.6l8.8,6.1M782,187.1l-2.4-8.9-11.2,4.1M761,161.2l1.1,.4 2.2,11.4-.4,.9M774.6,199.8l-7.8-1.4-5.4,7.6 .7,4.7 2.9,.8 9-4.6 .6-7.1 1.6-1.3M763.1,192.2l3.7,6.2M752.8,198.8l8.6,7.2M757.3,214.5l4.8-3.8M764.1,227.1l7.1-7.2-6.2-8.4M779,231.2l-1.8-9.8M771.2,219.9l4.5,.2M774,206.9l4,3.9M706.8,250.8l-8.2,6-5.1-2.3 .5-7.8 5.9-3 6.9,7.1 2.7,.2 4.5-3.9 3.7-.4 4.9-10.5M630,242.5l4.8,1.1 4.2-3.1M634.8,243.6l1.5,9.5-4,2.3-7.3-2.3-1.9-3.4M655.1,240.3l-8.4,1.4-1.8-1.2M566.1,203l7.4,6-.1,2.7-7.9,5.8M577.8,225.8l2.5-7.9-6.9-6.2M594.8,220.6l-8.1-4.6-6.4,1.9M598.3,218.5l2.1-5.3 8.2-4.1M772.7,123.3l1-8.8-8-2.9-4.1,4.6 2.6,7.5 8.5-.4 3.4,3.6 0,4.6-11.8,5.4-1.3-.9-9.3,1.9-4.1-2.8 2.9-9.5 8.7,1.7 1.8,8.7M756,103.1l.7,1.5 3.3,.3M773.7,114.5l2.9-2.2M765.7,111.6l-1-4.6M646.5,98.4l2,4.7-6.7,7.3-2.2-.1-5.1-5.3 .3-8.8 2.3-1.7M628,94.7l6.8,1.5M624.3,108.7l10.2-3.7M627,119.1l3.5,2.2 9.1-11M641.8,110.4l6.9,8.7-1.4,4.3-4.1,3-11.9-3.5-.8-1.6M704,139l0-.8M706,114.2l1.9-.1 4.6,5.7-1.5,6.1-3.5,.9M731.6,112.6l1.4,.8-1.3,9.5-6.3,1.3-5.4-6.8 2-5.2 2.6-.5M449,239.9l7.7,1.5 3.4,11.4-5.5,3.6M476.4,238.7l-5,2.8-8.6-3.8 1.1-9.7 12.5-.4 1.2,1.5M453.4,222.8l8.1,1.6 2.4,3.6M456.7,241.4l6.1-3.7M451.8,277.9l-2,9.7-14.8-2.2 8.9-13.1 7.9,5.6 4.8-1.2M447.3,266.4l-3.4,5.9-18.2-10M453.5,264l5.7,3.8 .2,.8M431,287.3l4-1.9M554.3,259.6l3.2-6.6M564,254l4.2,11.2-2.9,4.8M578.4,255.1l-2.2,7.9-8,2.2M582.2,253.6l7.5,4.2-.6,7.3-9,1.8-3.9-3.9M607.6,251.1l-5.5,7.7-8.1-3.3 1.7-11.4M594,255.5l-4.3,2.3M523.8,277.2l7.6-.5 4.1-7.3-.4-1.2-4.3-3.2-7,1.3M522.6,280.3l-1.4,5.8 2.8,2.4 11.2-.9 1.3-4.6-5.1-6.3M536.5,283l7.3-3.1M543.8,273l-8.3-3.6M542.6,259.8l4.9,2.8M540.6,262l-5.5,6.2M541.3,233.4l-.7,13.3-3.2-.4M531.9,232.4l-4.4,3.2 .1,.5M541,256.2l-.7-1.6-2,.6M530.8,265l.2-2.5M554.2,247.9l-12.3,.4-1.6,6.3M540.6,246.7l1.3,1.6M522.2,256.3l1.5-4.3-.5-1.7-4.9-1.6-9.9,7.6M507.7,256.3l-6.2-9.2 11.7-6.1 5.1,7.7M524.9,248.6l-1.7,1.7M524.9,252.8l-1.2-.8M529,219.6l-.4,.2M526.4,220.9l-7.3,3.6 1.9,9 6.5,2.1M513.2,241l.2-2.5 7.6-5M441.1,328.1l4.5,0 2.4-1.9-2.5-10.3-11.4,0-.4,1.3M428.8,291.6l5.3,16.5-1.4,3.4-12.4-2.8M434.1,315.9l-1.4-4.4M510.3,158.9l-3.6,8.5 3.3,6.5 6.3,1.4M507.7,154.3l-5.2-1.5-9.3,6.7 3,8.8 10.5-.9M518.2,210.1l7.7-.3M513,205.4l-2-3.9 6-6.6 11,5.1M518.9,185.8l-2.3,3 .4,6.1M510,173.9l-5.9,7.2 2,5.3 10.5,2.4M420.7,174l14.4,6.6 1.4,4.2-1.4,13.7-2.8,4.2M504.1,181.1l-9.6-2.3-1.9-4.3 3.6-6.2M449.1,216.5l9.1-10.5-2.6-6.8-20.5-.7M456.4,130.5l6.8,10.2 7.2-.9 2.1-9.4M482.1,127l5,3.3-3.4,9.7-10.4,2-2.9-2.2M480.4,118.8l4.6-6-8.2-7.5-6.5,2.1-.9,9.4M542.5,144.8l5-9.1-2-1.6M534.1,131.6l-4.1,2.8 2.4,9.2M443.2,115.4l-2.4-2.1-7.7,.1M1087.7,213.6l-.6,1.4 3,7.3M1056,211.7l2.6,3.9-4,8.4-7.2-2-.5-8.2 9.1-2.1 1-3.4M1050.2,199.5l-9,9.8 5.7,4.5M1037.6,226.2l3.6,.9 6.2-5.1M1034.7,212.3l3-3 3.5,0M1066.3,183.7l-1.1,2.1 2.5,2M1072.9,198.2l-2.3-1-.2-4M1060.3,186.7l4.9-.9M1066.2,199.6l4.4-2.4M1061.1,161.4l-.2,0M782.9,315.5l-3.4,5.1 3.6,5.1 5.2-1 .8-1.5M793.6,524.5l-3.4-1M789.9,515.9l3.5-1.2M752.9,497.8l-1.9,5.1 .5,.6M780.7,462.3l2.9,5.8 5.8-.6-.5-6.6-3-1.3-5.2,2.7-1.2-.3M783.6,468.1l-2.9,5-1.4-.3M775.3,467l-.4,.9M791.2,490.1l-1.4-5.5-4.1-.6M772.5,480.5l-.1-3M780.7,473.1l2.2,2.7-.8,4.7M892.1,480.9l-5.7-1.4 .7-4.8 6.1-.3-1.1,6.5 1.9,2.9-1.9,2.8 1.1,6.8 .6,.7 4.3,.3 3.9-3.2 .3-4.4-4.2-3.5-4.1,.5M1046.7,194l-2.8-.7-10,6 3.8,10M1019.3,204.2l3.3-5.7 8.7-.8 2.6,1.6M1022.6,198.5l-3.9-8.3-1.6-.8-10.4,4.1 1,9.7M1010.3,226.4l-7.2,3-1,7.3 4.2,3.5 10.6-3.3 1.2-2.9M997.1,218.6l0,5 6,5.8M1009.7,289.6l-7.4-5.4-1.7,.7-3.4,7.5 4.4,5.6 4.1-1.2 4-7.2 3.4-1.1 1.4-7.1-4.8-4.4-5,1.5-4.9-4.9 2.1-8.1 1.5-.7 7.8,5.4-1.5,6.8M750.8,494l-5.2-.9-.2-6.3M752.6,486.8l1.8,1.3M736.3,487.9l3.6-4.4 3.6,.7M735.8,488.9l.7,3.5 1.2,.3 6.1,1.5 1.8-1.1M757.6,582.3l1.6,2.2-2,6.4-5.3,.2-3.5-6.5 2.6-4 .6,.1M763.1,616.3l-3.6-2.5 .7-5.9 4.7-2.4 4.3,4.9-6.1,5.9 .7,3.4 7.5,2.4 1.6-1 3.1,0 4-6.7-6.4-5.1-3,1.3 2.3,10.5M782.9,634l-.6,.1-.2,1M781.5,638.7l-3.6,3.4 .5,6.4 .7,.4M777.9,642.1l-8.2-2.2-.4-1.7 2.8-6.3 8.5-.2 1.7,2.4M765.3,581l-.6,2.8 3.9,3 4.9-3.1-1.6-3.8M759.2,584.5l5.5-.7M768.6,586.8l-.3,5.3-9.1,1-2-2.2M833.8,578.6l2.1,.5 .8-.5M827.5,595.1l-1.4-2.4 3.2-5.9 6.4,1.2 0,7.2-8.2-.1-1.3,5.6-8.7-.3-2-3.8 6.3-4.8-2.6-6.9-6.5,1.5 .3,9.2 2.5,1M831.1,578.6l-3.4,4.5 1.6,3.7M835.7,588l2-1.8-1.8-7.1M820.6,580.4l.5,1.6 6.6,1.1M759.2,593.1l-.1,5.3 6.1,3.9 4.4-3.6 .3-4.5-1.6-2.1M769.2,610.4l1.4,.2M765.2,602.3l-.3,3.2M769.6,598.7l6.9,5-2.9,5.6M769.9,594.2l8.1-1.5 3.6,5.6-2.7,4.6-2.4,.8M796,556.6l-.8,1.5-3.6,1.9M791,547.9l1.2-.3 2.6,1.9M788.4,506.1l-6.6,5.5 1.8,3.3M781.6,511.6l.2,0M995.4,637.4l-4.4-4.5 .7-2.3M961.5,648.8l3,.3 5.8,5.7-.3,3.9M991,632.9l-7.7,2.6-.6,5.1 4.8,5.1 7.8-2.2M983.1,621l-1.2,.4-3.2,10.3 4.6,3.8M964.5,649.1l7.1-6.2 4.5,2.3 .7,5.2-6.5,4.4M976.8,650.4l4.5,3M987.5,645.7l-.9,5.1M982.7,640.6l-6.6,4.6M997.8,651.9l-6.4,2.6M990.2,662.2l8.9,1.3 2.6-9.8M999.1,663.5l3.4,5-4.5,6.1-6-.5-4.3-6.2 .7-4.4M968.9,746l2.1,1.1 3.2-3.3-.3-1M983.9,697.3l-7-7.9-4.7,2.8-1.2,4.8 4.9,5.1 7.6-2.7 .4-2.1 7.4-5.7M985.9,703.1l-2.4-3.7M974.3,707.9l1.6-5.8M982.8,717.9l3.2,4.2-.2,1.5M996.5,718.3l-2.2,2.8-8.3,1M995.2,711.9l-.9-.7M977.7,672.1l-5.4,8.1 5.6,6.3 7.6-3.8 .1-1.3-6.9-9-1-.3-1.4-1.8M968.2,680.1l4.1,.1M987.7,667.9l-9,4.5M992,674.1l-6.4,7.3M963.7,685.1l.6,2.2 7.9,4.9M976.9,689.4l1-2.9M990.6,687.4l-5.1-4.7M998,674.6l2.2,6.5M976.2,610.3l-1,7.9-3.8,1.6-6.9-3.8 .5-5.7 9.5-3 .1,.1M964.5,616l-4.7,3.1-7.1-2.1 1.7-10.7 7.8,.5 2.8,3.5M970.5,600l-5.5-.7-2.8,7.5M974.5,607.2l0,.1M981.9,621.4l-6.7-3.2M945,617l3.6,2-.4,6.9-9.9,5.1-2.7-2.8 .2-7.8 9.2-3.4-3.4-9.3 8.5-5 1.3,.3 3,3.3M952.7,617l-4.1,2M935.8,620.4l-4.8-4.4 0-2.3 8.7-6.6 1.9,.6M941.3,637.7l-2.6-2.2-.4-4.5M949.7,637.6l4.2-5.7-5.7-6M931,616l-6.7,4.6 1.4,8.4 9.9-.8M67,338.7l-4.5,5.7 .9,1.1M62.5,344.4l-5.1,.9-10.2-13.5 12.4-7.4 6.6,4.8M48.8,289l-2.2,4 7.2,17.6 5.4,1.8 5.4-3.2 2.5-5.5-6.5-14.6-9-.7M64,286.5l-3.4,2.6M79.1,299.7l-12,4M81.6,292.2l-9.5-6.7M80.3,319.9l-15.7-10.7M53.8,310.6l-10.5,4-8.7-6.9 3.4-10.2 8.6-4.5M38,297.5l-8.8-4.9M59.6,324.4l-.4-12M19.4,292.6l-.1,.1M34.6,307.7l-7.5,2.8-3.6-4.3M110.1,461.9l-8.9-.7-3.5-13.2 4.1-3.5 12.4,.9M105.5,430.8l-2.8,1.6-.9,12.1M206.8,108.9l-.6,10.6-.5,.5M202.9,122.5l-1.5,1.4M206.2,119.5l1.8,.9M640.4,413.7l-6.4,4.8 1.8,3.4 8.1-.1 1.6-6-5.1-2.1-1-8.3 1-.8 7.7,3.3 3.6-2.4 5.1,3-.7,5.4-4.9,1.8-2.7-1.1-.4-6.7M669.5,561.9l.3,2.9M666.8,581.8l.2,1.2 .7,.2M634.7,563.6l.8,.7M641.7,597.9l7-7.7 4.5,3.5 .1,5.7-5.5,3.6M640.6,584.6l7.5,2.3 .7-.8M648.7,590.2l-.6-3.3M653.3,599.4l6.2,2.9-1.8,8-9.7-2.4M674.8,607.2l1.4,7.8-4.4,3.8-2.4-.3-4.9-5 4.7-6.9 5.6,.6 2.1-1.8-1.6-7.1M669.4,618.5l-5.2,6.8M656.6,618l2.8-4.7 5.1,.2M659.4,613.3l-1.7-3M543.5,604l3-1.8 10,3.3-.3,10.4M590.3,574.3l-1.2-.3-1.6-14 4.5-2.9M594.7,590.1l-10.9-.5-2.6-4.3 4.3-10.3 3.6-1M595.6,533.2l-4.2-1.8-3.3-6.3 .5-2.9 5.5-4.1M595.4,616.6l2.4-6.3-6.3-7-6.8,.9-2.9,5.1 1.7,5.3 8.9,3.8 3-1.8 8.2,6M602.5,608.8l-4.7,1.5M590.5,625.9l1.9-7.5M577.1,622.7l6.4-8.1M596.4,593l-4.9,10.3M584.7,604.2l-4.7-7.4 3.8-7.2M568.1,617.7l2.4-8.5 11.3,.1M716.9,592.5l2.3-8.3 3.6,.2 4.9,6.5-2.4,2.7M719.2,584.2l-1.4-1.3M723.9,570.3l-.1,.8-1.1,.2M725.1,547.1l-.3,.1M731.8,570.3l-3.1,3.1-4.9-2.3M722.8,584.4l7.3-6.2-1.4-4.8M683.8,600l-.9,5.2-6,.2M685.4,607.5l-2.5-2.3M676.2,615l6.2,.8M727.7,590.9l4.5,.4 1.2,2.6M754.4,554.4l-.5,.1-1.1-.9M754,555.7l-.1-1.2M776,621.1l5.2,4.5-.6,6.1M772.1,631.9l-2.2-3.5 1.4-6.3M778.4,648.5l-5,2.8M769.7,639.9l-3,4.1M772.9,651.5l-.9-.3M703.9,630.8l-.2,6.4M707.2,628.9l6.7,4 .6,3.1-5.5,3.1M687.1,634.6l2.3-1.1 3.6,2.4 .1,.4M699.1,629.4l-6.1,6.5M688.1,627.8l1.3,5.7M668.7,633.3l-.6-1.8 7.9-4.9 2.2,.7 .7,4.7M666.5,630.7l1.6,.8M671.8,618.8l4.2,7.8M681.3,625.9l-3.1,1.4M528.2,666l-1.4,2.9-12.5-2.7 1.3-7.2M475.1,629.6l-.2,.3M503,641.8l-8.1,3.3-.6,7.4M495.1,653.6l6.9,3.7 5-3.8M486.4,638.2l0,2 8.5,4.9M558.6,733.4l.3-.3 1.9,1.1M540.7,684.7l5.2,1.5 5.7-7.3M526.8,668.9l1.4,5.4M553.2,677.7l3.5,0 5.2-11.4-4.1-4.3M573.5,672l-.8,1.5-8.4-7 2.5-2.5M564.3,666.5l-2.4-.2M578.7,730.9l1.6-.9M579,720.1l-.1,0M577.5,708.7l-.3,.3M545.9,686.2l.9,2.2 8.8,4.2 6-3.8-.9-7.7-4-3.4M452,463.7l-1.4-.3M449.6,463.1l-8.5-2.3-2.5,11.7 4.9,3 5.8-3.6M452,470.3l-2.1,1.3M424.1,477.5l14.5-5M437,454.6l4.1,6.2M432.4,488.2l13.6-4.8-2.5-7.9M430.1,520.7l6.2,2.1 8.6-6.6-2.2-7.1-9.6-2.6M437,496l9,.4 1.5,8.3-4.8,4.4M446,483.4l.3,.2 2.6-.7M452,482.1l-3,.8M446,496.4l2.7-2.9-2.4-9.9M464.1,574l5.9-12.6-10.1-5-11.1,13.9M443.3,551.5l15-1.1 1.6,6M448.7,493.5l1.2,.1M524.5,291.7l-.5-3.2M535.2,287.6l2.1,4.1M457.8,350.4l-.1-1.9 6.6-2.9 5.1,5.1M493.8,340.2l5.3,4.5 6.2-4-4.2-7.9-5.3-.7-2,8.1-6.3,2.3-3.5-2.6 1.1-8.5 7.9-2.5 2.8,3.2M472.8,337.8l4.8,3.6-1.2,8.8-2.9,.6M465.9,340.3l-1.6,5.3M478.4,351.7l3.8,2.9-4,8.3-.6-.1M476.4,350.2l1,.8M440,342.1l5.4,7.9 8.5-3.5-1.4-7.4-5.4-2-7.1,5-3-.8M430.8,357.8l7.1,2.4 5.3-2.5 .8-2.7M445.6,328.1l1.5,9M443.3,357.8l-.1-.1M457.7,348.5l-3.8-2M457,335l-4.5,4.1M448,326.2l4.4,0M468,364l-2.4,8.3-11.6-1.9M478.2,362.9l4.2,7.1-14.3,6.7-2.5-4.4M446.2,382.9l2.7-2-.5-3.3M437.9,360.2l.6,5.1M610.9,482.3l6.1-5.6 6.6,2 1.2,8.7-7.9,3.1-6-8.2-3.1-.2-3.1-9.4 2.9-3.3 7.4,.4 2,6.9M615,469.8l2.1-2.7 8.9-.3 2.5,7.7-4.9,4.2M561.2,436.7l8-3 4.8,3.4-.6,7.4-3.2,1.1M548.8,438.8l-7.7-3.1-2.5,1.9 1.2,11.6 3.2,.9M623.1,438.7l7.2-6.2-7.3-7.9-7.8,6.6 7.9,7.5-.3,1.3 7.2,8.8-7.6,5.8 5.5,8.9-1.9,3.3M574,437.1l6.4-3.9-2.4-7.4-4.9-1.7-3.4,1.3-.5,8.3M569.7,425.4l-3.5-1.3-5.6,2.5-1.5,8M549.2,426.4l.6-2.4-9.7-4.8-3.3,6.6 4.7,5.5 7.7-4.9 4.1,8M549.8,424l3.2-2.5 7.6,5.1M541.1,435.7l.4-4.4M540.1,419.2l-.8-3.2-8.8,0-3.1,4.6 3.8,6.2 5.6-1M605.2,494.4l-3.6,3.6 3.7,8.6 5.2-.2 5.3-8.6-.9-2.6-9.7-.8-1.4-9.5 4-2.8M603.8,508.6l1.5-2M594.7,510.9l-2.7-3 .6-7.2 4.5-3.1 4.5,.4M610.9,520.8l5.4-8.3-5.8-6.1M616.9,490.5l-2,4.7M377.3,347.2l.6-4.3M450,399.1l.5-.1 3.2-13.8-4.8-4.3M478.1,434.8l8.9-2.8-.1-5.2-9-5-2.7,3 2.9,10-2.9,4.8M440.5,447.8l.8,.2M451.8,450l2.6,.5 .8,10.9-.3,.2M971,747.1l-.4,4-2.9,1.1M994.3,721.1l3.1,8.8 7-1.2M991.4,732.1l2.6,1.7 3.4-3.9M970.6,751.1l1.9,2.2M986.6,749.8l-2.3,.3-2.3-6.2 1.8-2.9 10.1-2.8 2.5,3.1-.3,2.3M974.2,743.8l7.8,.1M984.1,750.9l.2-.8M982.5,737.7l1.3,3.3M994,733.8l-.1,4.4M1007.9,733.9l.3-.6-1.4-3.2M999.8,741l-3.4,.3M1010.7,668.9l-3.5,1.5 3.9,6.9 2.7-1.4M1002.5,668.5l.3,0 4.4,1.9M1003.6,683.4l6.7-2.6 .8-3.5M1041.2,227.1l4.6,8.2-2.3,5.8-4.5,2.9-6.9-3.1-1.3-4.1M1045,255.5l-.8,2.3-10.4,3.9-1-.3-2.6-4.5 8.9-8.7 5.9,7.3 7.6-2.1M1054.6,250.1l-.4-2.3-10.7-6.7M1039,244l.1,4.2M1044.2,257.8l2.2,7-6.5,3.8-6.1-6.9M1068.2,313.1l-4.2-3.9-5.1,1.8-1.1,1.8 4.1,5.8 5-.8M1072.5,304l-7.2,1.5-1.3,3.7M1071.6,296.5l-4.9-.7-4.1,4.7 2.7,5M1071.8,286l-2.8-1.7-6.2,4.4 3.9,7.1M1068.9,269.5l-2.7,6.9 2.7,3.3 6.1-2.4M1069,284.3l-.1-4.6M997.2,292.4l-7-.7-.9,.9-1.3,9.1 .5,.7 11.5-1 1.6-3.4M1005.7,296.8l6.2,4.4 .1,7.5-1.6,1.2-9.5-4.2-.9-4.3M1010.4,309.9l-1.7,5.7 2.4,5 5.6,.3 5.2-4.1 0-3.7-3.4-3.5-6.5-.9M1016.7,320.9l.6,1.4M1021.9,316.8l4.2,3.2 0,4.9-2.2,1.9M1021.9,313.1l7.8-3.9 1.6,.6 3.1,7-1.2,1.9-7.1,1.3M1026.1,324.9l4.6,2.6 4-2.6-1.5-6.2M1034.7,324.9l2.5,1.3 5.8-1.8 1.9-3.3-3-5-7.5,.7M1037.2,326.2l.3,5.8 1.6,1.4 6.3-1.7 .1,0-2.5-7.3M1054.6,224l1.9,3.1-4.7,7.1-6,1.1M1054.2,247.8l4.5-7.3-6.9-6.3M1068,249.2l-.5-5.9-5.8-3.6-3,.8M1087.1,215l-6.3,2.8 .4,8 7.1-.4M1064.9,217.1l4.2-7.4 5.5-.1 2.1,6.3-5.1,5-4.8-.5-1.9-3.3-6.3-1.5M1065.6,206.1l3.5,3.6M1076.2,207.7l-1.6,1.9M1080.8,217.8l-4.1-1.9M1080.8,232.7l-1.5-4.9-3.8-.5-5.4,4.2 3.5,7.7 1.5,.2 5.7-6.7 6.3,3.3M1081.2,225.8l-1.9,2M1078,242.3l-2.9-2.9M1071.6,220.9l3.9,6.4M1067.5,243.3l6.1-4.1M536.1,86.2l1.3,2.2 2.8-2M554.2,86.9l1.6,4.2 4.7,2.2 8.8-5.8M765.6,279.7l5.2-3.6 4.4,5.4-6.6,5.8-3-7.6-3.9-1.4-.7-4.8 3.8-2.7 6.5,2.3-.5,3M778.6,297.5l-5.2,1.5-2.3-8.7 9-.4-1.5,7.6 4.1,2.9 5.7-4.2-.6-2.7-6.8-4.4-.9,.8M797.9,321.9l.5,1.1-1.1,6-2.8,2.1-4-1.5-2.2-4.9M804.6,325.1l4.6-3.9 3.1,6-1.7,2.8-5.3-.9-.7-4-6.2-2.1M805.3,329.1l-2.4,2.7-5.6-2.8M781.8,232.6l5.9-.5 3.2-13.1-1-.7M795.5,195.3l8-4.8 2.8,.4 1.2,9.4-6.5,5.9-3.3-1.9-2.2-9-5.6-2.2M787.5,206.6l10.2-2.3M788.6,189.5l5.4-7.7 2.3-.5 7.2,9.2M686,168.3l-4.8-1.7-6,6.7 2.7,7.9 .3,.1M728,154.3l1.5-7.5-8.8-4.3-4.9,6.4M740.9,147.5l-8-2.8 .2-8.8 4.8-4.3 6.5,4.4-1.6,10.3M732.9,144.7l-3.4,2.1M744.4,136l5.2-.9M752.9,148.4l.8-10.5M764.3,136.9l2.1,8.5-10.1,5.3M764.2,123.7l-3,3.6M674.4,195.3l-5.8-7.9 .6-2.1 8.7-4.1M608.6,162.4l5.3-2.6 6.9,6.8-.3,1.6M612.2,152.9l2.6,4-.9,2.9M607.3,148.3l-1.2-.1M616.4,134l.4,.3 10.6,.5 3.9-11.9M616.8,134.3l-.6,7.1M709.1,237.5l3.8-6.1-5.8-6-7,2.2-1.5,7.3 2.5,3.4 8-.8 4.9,9.6M718.1,231.1l-5.2,.3M699.9,243.7l1.2-5.4M708.4,220.4l-1.3,5M694.7,223l5.4,4.6M685.7,234.1l1.4,1.6 11.5-.8M687.1,235.7l.3,6.9 6.6,4.1M672.8,241.3l1.7,6.1-3.6,2.7M658.3,243.1l.7,3.7M687.4,242.6l-7.6,6.9-5.3-2.1M679.8,249.5l1.9,4 7.6,3 4.2-2M733.7,257.8l.9-6-4.2-3.2-7.3,2.1-.3,7.2 5.1,2.3 5.8-2.4 3.5,4.4 3.2,.6 4.3-7.2M741.2,250.7l-6.6,1.1M709.5,251l2.2,8.3 1.2,.8 8.9-1.3 1-.9M717.7,246.7l5.4,4M731.6,241.8l-1.2,6.8M765.6,254.6l-2,7.5 1.4,1.5 7.1,1.3 3.5-2.6 1-3.3-2.7-4.2-8.3-.2-2.5-3.3M777.2,246.6l-3.3,8.2M764.8,270.8l.2-7.2M771.3,273.1l.9-.8-.1-7.4M752.8,260l6.5,3-2.2,8.1-2.2,.4-5.9-5 3.8-6.5-1.1-3.3M763.6,262.1l-4.3,.9M740.4,262.8l3.5,5.2 .3,.1 4.8-1.6M761,273.5l-3.9-2.4M721.8,258.8l-.3,8.9-3.9,1.9-2.7-1.4-2-8.1M698.6,256.8l1.7,5.4-6.8,6.2-3.2,.3-1.7-2.4 .7-9.8M711.7,259.3l-7.3,4.8-4.1-1.9M625,253.1l-4.1,8.2-5.4-.1-3.1-9.2M573.5,209l6.2-5.8 7.3,1.1-.3,11.7M568.5,195.5l7.4-1 3.8,8.7M578.1,185.5l1.3,3.6-3.5,5.4M722,112.2l-1.2-1.5M707.9,114.1l1.9-3.7M712.5,119.8l7.5-2.4M740.9,110.4l-.3,.6 4.9,10.2 4.4,.6 5-6.6-1.8-5.6-8.7-1.6M733,113.4l2.6-.8M739.7,111.3l.9-.3M731.7,122.9l6,4.8 7.8-6.5M756.7,104.6l-3.6,5M761.6,116.2l-6.7-1M752.5,125.6l-2.6-3.8M737.9,131.6l-.2-3.9M648.5,103.1l6.1,1.3 4-4.9M664.3,99l3.4,.5M667,129.6l-4.4-2.2-5.6,3.5-1.2,5.9 8.4,4.7 3-2.2M449.8,287.6l.5,.7 6.3,.1M470.2,271.7l1.2-.1 1.1,7.1-2.3,2M470.2,288.6l1.5,3 5.7-.1 3-5.9-2.5-5.4-5.4-1.5M471.4,271.6l2-3.3 4.6-1.6 6.2,7.1-6.3,6.4M459.2,267.8l6.9-6.8 7.3,7.3M460.1,252.8l6.1,2.3 5.4-2.8-.2-10.8M466.1,261l.1-5.9M568.3,274.8l9.2,3 1.5-1 1.1-9.9M602.1,258.8l1.1,4 3.3,2.2 5.5-.1 3.5-3.7M508.8,313l-5.9,.2-2.8-2.7 2.9-8.6 2.8-1.3 6,6.6-3,5.8 4.7,6.8-5.1,6.1-7.8-5.1 2.3-7.6M519.1,224.5l-6.6-3-5.3,10.8-4.9,.2M513.4,238.5l-6.2-6.2M498.4,227.2l-8.9-.1-.9-9.2 11-3.6 2.5,2.5M487.9,229l1.6-1.9M497.5,239.7l2.5,6.8 1.5,.6M473.6,332.3l6.9-3.9-.5-6.4-.5,0M466.8,325.1l2.3-2.9M484,339.9l-6.4,1.5M485.1,331.4l-4.6-3M454.5,185.4l-.4,.8 3.7,8.5 11.2-3.2-1.1-2.7M436.5,184.8l17.6,1.4M455.6,199.2l2.2-4.5M506.1,186.4l-4.6,7-10.5-3.7M494.5,178.8l-3.5,8.6M511,201.5l-7.4-.9-2.1-7.2M499.6,214.3l-1.1-8.8 5.1-4.9M498.5,205.5l-10.2-2.7-.1-8.2M473.3,142l1.4,8.4 10.6,4.3 3.2-8.7-4.8-6M502.5,152.8l-4.9-8.7-9.1,1.9M493.2,159.5l-7-2.4-.9-2.4M450.9,147.4l-9.4,8.6 5.2,10.9 .6,.1 16.6-8.3-5.6-11.3-7.4,0-3.8-9.4M433.9,152.8l7.6,3.2M463.2,140.7l-4.9,6.7M463.9,158.7l2.6,1 8.2-9.3M435.1,180.6l11.6-13.7M454.5,173.5l-7.2-6.5M476.8,105.3l2.6-6.1 3.7-.6M485,112.8l3.4-.8 2.8-9.6-3.5-3.8M546.1,152.7l13.6-6.3 3.2,3.6-3.2,12.7M577.1,157.9l-1.9-6.9-12.3-1M586.2,124.7l-5.4-.2-6.9,10.2 5.5,9.2 9.1-.9M579.4,143.9l-4.2,7.1M560.3,126.5l2.5-.4 6.4,8-9.7,9-8.3-7.9 4.7-8 2.4-.4M559.7,146.4l-.2-3.3M573.9,134.7l-4.7-.6M547.5,135.7l3.7-.5M515,98.6l-.2,1-12.1,2-1.3-1.1-.9-10.7 5.1-4.1 1.9-.2 4.2,3.7M522.7,85.7l0,3.5M507.7,85.2l-.2,.3M492.1,87.4l8.4,2.4M491.2,102.4l10.2-1.9M491.2,87l0-2.3M505.3,85.1l.3,.6M515.2,143.7l-.4-2.6 11.7-7.9 3.5,1.2M503.8,114.5l1.8,.9 5,10.9-3.5,7.4-6.2,1.3-8.1-5.8 3.1-12.1 7.9-2.6-1.1-12.9M505.6,115.4l10.9-4.6 1.6-6.3-3.3-4.9M488.4,112l7.5,5.1M510.6,126.3l10.5-2.2 2.5-5.3-7.1-8M487.1,130.3l5.7-1.1M497.6,144.1l3.3-9.1M526.5,133.2l-5.4-9.1M514.8,141.1l-7.7-7.4M423.3,80.9l-1.2,6.6M425.5,105.3l-2.4-10.3M737.2,262.2l-5.5,5.9 5,4.9 7.2-5M727.9,260.2l1.5,7.7-2.3,1.5-5.6-1.7M731.7,268.1l-2.3-.2M744.2,268.1l3.2,10.2 3.6-.6 3.9-6.2M761.7,278.3l-4.2,3.8-6.5-4.4M768.6,287.3l-.3,1.2-1.9,.9-9-5.4 .1-1.9M764.4,480.5l-2.9-2.9-3.6,2 0,.9M761.6,477.4l-.1,.2M733.5,487.6l-5.3-2.2 1.5-7.8 1.1-.9 6.6,1.1 2.5,5.7M759.6,414.9l-1.7-.6-6.3,5.1-.2,2 5.2,4 4.1-1 .5-.5-1.6-9 2.1-.6 5.7,2 .7,3.4-3.2,3.7 5.1,5.2 4.1-2.8-.2-4.3-5.8-1.8M757.9,414.3l-2.8-5.2-2.5-1-3.6,1.1-1.6,5.2 4.2,5M802.6,418.5l-2.7,2-5-1.3-.6-4.7 4.6-2.9 4.1,2.6-.4,4.3 5.9,3.1 .1,1.8-4.5,5.2-4.1-2.3-5.2,2.5 1.1,6.7 4.3,1.2 4.2-6.9-.3-1.2M794.3,414.5l-3.7-2.3-.1-1.7 3.3-3.5 4.4,1.1 .7,3.5M764.9,423.4l-3.7,.5M724.7,344.5l4.8-5.4-3.7-4.7-6.5,1-.6,6.5 6,2.6 .2,.4M729.5,339.1l2.4,0 3.4-6-2.5-4.6-4.7-.6-2.3,6.5M790.5,329.6l-3.9,4.2-5-1.4-1-2.5 2.5-4.2M794.5,331.1l.5,4.8-6.7,2.1-1.7-4.2M796.3,460.7l-3.8-1.5 0-6.6 6.4-1.2 3.1,3.6-5.7,5.7 1.5,4.3-7.3,3.4-1.1-.9M788.9,460.9l3.6-1.7M792.5,452.6l-2-1.3-5.7,1.1 1.1,7.2M790.5,451.3l.9-8 8.1,2.8-.6,5.3M796.1,356.4l4.7,3.6-1.3,3.2-3.4,.8-4.5-4 1.1-2.3 3.4-1.3 1.7-5.1 4.6-.4 1.7,7.6-3.3,1.5M802.4,350.9l1.5-1.5 5.8,1.3-.5,6.6-4.1,1.5-1-.3M847.2,488.2l1.6-7.9 4.7,2.2 .7,2.8-2,2.5-5,.4-1.2,.8-.6,3.2 1.6,2.8 9.2-1.1-4-6.1M1006.7,193.5l-2.7-2.1-.1,0M997.2,203.8l-.9-2.7M990.4,209.3l-4.4-5.6M1031.3,197.7l1.1-10.5 6.4-2.2 5.1,8.3M1018.7,190.2l8.7-6.2 5,3.2M1044.4,178.8l-3.2,.7-7.1-6.9 3.1-6.5M1041.2,179.5l-2.4,5.5M989.9,212.7l-8.4,4.2 5.3,12.7 10.3-6M974.1,206.3l5.6,10.2 1.8,.4M919.4,345l.4,6.6 3.9,2 5-.8-.3-8.7-3.5-2.2-5.5,3.1-3.7-1.9-5,2.5 0,8.1 .8,.7-2.3,7.8-4.9,.7-.8-.6-.4-6.6-5.5-.2-1.5,3.6 4.3,3.5-3.7,4.4-1.9,0-1.8-1.7 .4-5.3 2.7-.9M1002.1,236.7l-5.8,2.3-10.2-7.5 .7-1.9M1006.3,240.2l.8,6.6-4.3,5.3-8.8-1.2-1.1-4.1 3.4-7.8M975.3,260.2l-2.1,5.6-9.1,.1-2.8-7.9 2-3.4 4.9-.7 7.1,6.3 4.2-1.6 9,8.2 4.7-3.6-.8-9.8-10.8,1.6-2.1,3.6M961.3,258l-7.8,2.1-1.4,6.6 9.4,2.7 2.6-3.5M737.3,427.2l-6,3-4-5.2 .8-4.9 1.6-1.1 7.9,4.3-.3,3.9 4.2,3.8 5.1-2.1 .7-4.8 4.1-2.7M747.4,414.4l-6,2.1-.3,4 6.2,3.6M737.6,423.3l3.5-2.8M695.1,469l4,3.5 2.9-.8 1.9-6.5-7.4-5.6-1.5,.7-.1,.3M645,462.6l1.5,3.2 4.9,2.2 6.2-5.5-2.6-6-7.8,.8-2.2,5.3-9.2-.2-1-.8-6.9,1.9M657.6,462.5l4.9,1.9 4.5-5.6-2.7-6.5-8.3,2.1-1,2.1M699.1,472.5l-2.9,3.8 1.5,9 1.7,1.1 7.9-6.4 0-4.3-5.3-4M706.7,540l1.4-1.9 .1,0M709.4,538.8l1.5,.9M719.2,538.2l-1.4,1.1M708.1,538l0,.1M706.1,552.7l-.3-1 .8-2.3M722.4,538.9l-2.7-.8M714.4,485.7l-.2,0-2.7,6.1 1.5,3.1M728.2,485.4l-3.4,2.2M736.5,492.4l-2.9,4M707.3,480l6.9,5.7M711.5,491.8l-10.4-.3-1.7-5.1M729,505.2l-.7,.5M737.7,502.3l5.7-2.3 3.5,3.3-.1,.2M751,502.9l-4.1,.4M743.8,494.2l-.4,5.8M915.3,585.8l-2.4-2.7 .4-3.2 4.5-2.1 2.3,1.2 .7,3.6-5.5,3.2 .4,4.6-7.3,3.1-.6-2.3M912.9,583.1l-5,1.2-2.3-4.7 .7-1.4 4.8-1.1 2.2,2.8M863.8,601.4l4.6,1.3 5.4-5.9-1.5-3.4-5.6-1.3-3.2,2 .3,7.3-5.1,2.8 5.2,11.8-.4,.6M881.7,583.9l-3.3,.7-1.5,3.9 6.2,5.2M883.2,586.9l1.4,3.2M872.3,593.4l1.8-3.6 2.8-1.3M873.8,596.8l6.2,1.7 3-1.6 .5-2.5M889.8,586.9l.3,.5-.5,1.9-1.5,.8M888.9,600.9l-2-1.4M886,598.9l-3-2M890.5,590.1l-.9-.8M723.2,626.7l0,.1-3.5-1.1-.1-.2M726.2,632.2l-3-5.4M735.4,630.6l-1.2-4.5M713.9,632.9l5.8-7.2M714.5,636l1.6,1.3M744,602.5l5.1-3 4.5,3.1 .3,2.1-2.2,4-6.4,.6-1.3-2.8M759.5,613.8l-5.6,1.1-2.2-6.2M760.2,607.9l-6.3-3.2M759.1,598.4l-5.5,4.2M751.9,591.1l-3.2,3.7 .4,4.7M748.7,594.8l-5.7-1.9-1.5,1.3M753.9,614.9l-1.6,2.5-8.3-2.6M745.3,609.3l-1.3,2.8M742.4,621.4l1.8,2.6-3.1,6.5-3.8,1.5M734.3,588l7.2-1 1.2-1.9-2.8-6.9-8,1 2.4,8.8-2.1,3.3M743,592.9l-1.5-5.9M730.1,578.2l1.8,1M741.6,575.8l-1.7,2.4M748.4,584.6l-5.7,.5M826.1,592.7l-4.3-.9M821.1,582l-1.9,2.9M778.9,602.9l5.1,5.2-1.6,5.6-2.4,.7M853.1,610.3l-.3-3.6-3.6-.1-1.7,2M840.1,607.4l.5-3.9 4.2-.8 4.4,3.9M858.7,604.2l-2.2-.2-3.7,2.7M830.9,608.1l-1.2-2.5-1.1-.5-7.3,4.3-.2,1.8M829.7,605.6l7.2-4.6 3.7,2.5M826.2,600.7l2.4,4.4M817.5,600.4l-.9,4.5 4.7,4.5M835.7,595.2l.9,1 .3,4.8M790.7,540.6l1.7,.3-.2,6.7M812.7,586.4l-2.1-1.4-.3-2.5M792.4,575.7l5,1.9 1.5-3.4M798.1,569.2l-6-1.1M795.2,558.1l1.2,1M784.5,578.6l-1.7-1.3-1.2,0M779.5,578.7l-4.2,5.2 4,4.7 3.7-1.1M788.2,578.6l1.7-1.4M785.4,568.2l-2.6,9.1M773.5,583.7l1.8,.2M778,592.7l1.3-4.1M781.6,598.3l4.8-.8 2-7.7-2.5-1.3M786.4,597.5l4.3,3.1-1.3,6-5.4,1.5M969.7,637.7l2.9-5.8-2.7-3.5-9-.6-3.5,4 4.1,6.4 8.2-.5 1.9,5.2M978.7,631.7l-6.1,.2M959.2,645l2.3-6.8M953.9,631.9l3.5-.1M971.4,619.8l-1.5,8.6M959.8,619.1l1.1,8.7M1002.8,668.5l5.1-6.1M945.2,675.2l-2.4,1.8M964,702.9l-.1,0 1.1-3.3-4.4-5.5-5.8,.4M971,697l-6,2.6M964.3,687.3l-3.7,6.8M943.8,587.6l-3.4,1.1-1.5,4.5 1.2,2.3 6.8,.4 1.5-3.7-4.6-4.6 1-4.3 1.7-.3 5,3.6 1.2-.8 .7-5.1-3.5-2.2-3.4,4.5M940.4,588.7l-3-3.2-1.9,.1-3.1,5.3 6.5,2.3M939.7,607.1l-3.6-5.7 4-5.9M950.1,602.7l-3.2-6.8M936.1,601.4l-6.2-1.3 .6-8.5 1.9-.7M938.7,635.5l-4.7,3.1M942.1,648.5l-6.5,1.2M900.6,603.1l2.2-1.6M903.2,601.2l4.1-2.9 .1-3-1.2-.6M907.9,584.3l-1.5,2.3 1.1,3.5M920.8,582.6l2.4,1.4 .6,5.8-4.1,2.8-4-2.2M925.7,607.8l0-5.4-4.9-2.7-7.4,3.1-.4,7.5 4.2,2.8 8.5-5.3 5.3,5.9M929.9,600.1l-4.2,2.3M924.3,620.6l-5.8-2.2-1.3-5.3M923.8,589.8l5.1,.6 1.6,1.2M919.7,592.6l1.1,7.1M907.3,598.3l6.1,4.5M907.4,595.3l1-1.8M901,609.2l-.6-.5M906.4,612.8l6.6-2.5M916.4,620.5l2.1-2.1M951.5,586.6l-1.5,4.5-1.6,1.1M57.4,345.3l-5.3,6.9M27.1,310.5l-1.6,3.7M43.3,314.6l-2.6,13.6-9.2-.7-4.5-7.1M47.2,331.8l-3.3-.4-3.2-3.2M31.5,327.5l-2.3,2.4M101.2,461.2l-1.2,1.7M84.8,380.3l-3.9-2.4-.1-.4M679.3,425.9l-1.4,2.9-6.9,.2-3.6-2.6 0-4.2 7.6-4.2 1.3,.8 3,7.1 5.8-1.7 1.1-6.9 5.6-.5 2.6-6.2-1.6-3.9-2.6-.4-6.7,3.5 .7,5.7 2,1.8M664.7,387.2l4,4.3-2.4,4.3-1.6,0M646,397.1l.2,.5 4.3,.4 .2-.9M644.8,394.2l-1-2.3 .8-.9M621.7,287.6l0,.9-4.2,5.5-7-2.6 .4-5.1 6.8-2.5 4,3.8 6.7-5.4 5.7,2.9 4.8-9-2.1-2.5-6.7,.1-3.4,3.4 1.7,5.1M657.7,573.4l1.2,.4 1.1-.3 .4-.9M659.6,561.9l2.8,6.7-1.9,3.7M656.7,559.3l1,.4M657.9,576.6l1-2.8M668.4,567.1l-6,1.5M662.1,575.1l-2.1-1.6M667,583l-4.5,4.9-4.3-3M670.8,596.3l-4.3,5.4-4.7-.7-.8-10 1.4-1.9 8.2,5.8M659.5,602.3l2.3-1.3M669.2,606.6l-2.7-4.9M653.2,593.7l7.8-2.7M662.5,587.9l-.1,1.2M568.7,605.8l-8.3-2.6 .1-10.8 7.9-1.7 5.1,6.4-4.8,8.7 1.8,3.4M556.5,605.5l3.9-2.3M580,596.8l-6.5,.3M546.5,602.2l2.5-11.6 7.1-1.3 4.4,3.1M581.2,585.3l-9.7-1.6-3.1,7M543,584.8l-.3,.7 6.3,5.1M556.1,589.3l1.2-4.8M554.5,574.2l.3,.3M571.5,583.7l-2.5-6.1-.5,.1M569,577.6l1.3-2.7 7.5-3.4 7.7,3.5M534.8,583.2l4.7,2.8-5.4,9.4-7.3,.4-1.5-9.5 5.3-3.3M540,603.2l-5.9-7.8M542.7,585.5l-3.2,.5M524.9,597.8l1.9-2M587.5,560l-7.1-.5-2.3,1.6-.3,10.4M578.5,548.3l-7-1-1-9.5 7.1-2.8 5.4,4.1 .7,5.4-5.2,3.8 1.9,11.2M589.1,546.8l-5.4-2.3M591.4,531.4l-8.4,7.7M588.1,525.1l-10.1,3-.4,6.9M769.9,628.4l-8.6,1.2-2.3-4.4 4.8-5.5M769.3,638.2l-8.5-4.8 .5-3.8M752.3,617.4l.5,6.4 6.2,1.4M741.1,630.5l8.7,4.3 2.7-10.7-8.3-.1M752.5,624.1l.3-.3M751.8,647.1l-3.4-8.2 1.6-3.7 7.8,1.1 1.1,5.3-4.3,4.6M741.7,641.1l6.7-2.2M749.8,634.8l.2,.4M760.8,633.4l-3,2.9M763.7,643.6l-4.8-2M565.7,701.9l2-2.1 8.9,1.6 .9,3.5M560.7,681.1l2.7-.9M569.9,677.9l1.4-.5 1.6-2.7-.2-1.2M561.6,688.8l.4,.2M571.3,677.4l.1,.3M566.7,692.2l1,7.6M576.6,701.4l2.6-3.4M579.3,697.5l-1.9-6.3M511.8,675.2l-.1-6.5-9.5-3.4M511.2,676.6l-1,.7M514.3,666.2l-2.6,2.5M528.2,674.5l-.2,.3M502,657.3l0,7.6M486.4,640.2l-.9,.7M430,644.6l-.2,.5M521.3,693.2l.2-.1M546.5,728.8l0-.1-2.1-2.1M539.6,723.7l-3.3,.8M562.7,721.1l-1.7-4.8-.4-.1M563.4,723.9l-1.7,1.6M558.5,715.5l-3.1-1-1.2,1M561.6,715.9l-.6,.4M558.9,733.1l-.3-1M546.5,728.7l.5-.1M547.4,716.9l2.4,0M561.6,703.2l-1.5,0-4.9-5.4 .4-5.2M555.4,714.5l-.7-4.5 5.4-6.8M469.4,579.1l6.3-1.9 7.9,3.7 1.1,4.8M501.8,590.2l4.7-10-9.8-4.2-2.3,12.4M496.7,576l-2.2-3.5-3.4-.1-7.5,8.5M436.4,543.9l3.5-4.2 16.4-.5 4.2,6-2.2,5.2M436.3,522.8l5.2,8.8-1.6,8.1M447.5,504.7l2.4,.6M470,561.4l2.9-.8 7,4.4-4.2,12.2M491.1,572.4l-8.6-7.5-2.6,.1M588.6,522.2l-6.7-6.5 1.2-6.2 8.9-1.6M527.4,420.6l-6,0-2.8-8.2 8.9-3.1 3,6.7M547.5,282.3l.1,1.1M543.6,293.2l-1,.3M560.9,285.9l-1.4,3.3-6.5,3.8M506.7,393.1l-9.3,.9-1.7-6.9 7.1-3.7 3.9,9.7 1.3,.7 0,5.8 7.4,5-.2,5.9-3.7,2-10-5 .3-2.5 6.2-5.4M498.9,358l-7.1,2.8-5.8-7 1.8-2.7 10.9-1.3 1.1,1.5-.9,6.7 4.8,4.3 6.2-2.9-.6-7.6 2.6-3.1-4.8-7.7-1.8-.3M499.1,344.7l-.4,5.1M509.3,351.8l-9.5-.5M487.5,342.5l.3,8.6M482.2,354.6l3.8-.8M453.7,385.2l8.3,.3 6.2-6.1-.1-2.7M450.5,399l4.1,2 10.4-5.6-3-9.9M468.2,404.2l.8-6.8 3.4-.9 6.5,4.2 1.1,4.5-4.6,3.7M484.6,412.5l.1-5-4.7-2.3M479.1,418.4l-.8,.5-2.9-3.5M472.4,396.5l3.6-7.3 9.4,1.8 .9,3.5-7.4,6.2M468.2,379.4l6,4.1 1.8,5.7M465,395.4l4,2M456,404.2l-1.4-3.2M707.3,475.7l4.8-2.4 1.5-6.2-5.7-4.2-4,2.3M717.8,483.4l1.5-6.7-7.2-3.4M729.7,477.6l-8.8-1.9-1.6,1M617.1,467.1l-2.2-9.6 4.4-3.1 3.1,.2M622.8,440l-6.6,4.5 3.1,9.9M616.2,444.5l-6.2-1.5-1.7-4.9 3.3-6.9 3.6,0M664.7,447.7l3.2-8.5 1.5-.4 1.6,.6 4.7,9.3-.7,.9-9.5,.2-.8-2.1-7.5-3.7-.1-3.7 5.4-3.4 5.4,2.3M657.2,444l-3.1,3.8 1.9,6.6M664.3,452.3l1.2-2.5M674.9,452.3l.1-2.7M667.8,458.9l-.8-.1M671,439.4l6.2-2.2 2-5.6-1.3-2.8M671,429l-1.6,9.8M675.7,448.7l4.1-1.1 .5-1M682,443.2l.3-.5-5.1-5.5M667.4,426.4l-5.9,3.4 1,7.1M635.8,421.9l-.6,5.9 8.7,2.4 2.1-5.5-2.1-2.9M634.8,461.6l.8-9.7-2.6-3-3-.1M647.2,457.3l-3.3-5-8.3-.4M630.3,432.5l.5,0 6.6,7.7-4.4,8.7M654.1,447.8l-6.9-1.1-3.3,5.6M598.2,447.7l-5.5,7.6 5.4,5.4 6.6-.7 3.2-3.4-2.1-7.4-7.6-1.5-2.7-6 2.6-4.7 10.2,1.1M610,443l-4.2,6.2M614.9,457.5l-7-.9M607.6,469.4l-2.9-9.4M604.7,472.7l-8.6-.3-1.6-2.9 3.6-8.8M531.2,426.8l-1.7,3.3-7.5,1.5-4.3-6.5 3.7-4.5M538.6,437.6l-5.8-.4-3.3-7.1M566.2,424.1l-2.5-8.2-2.8-.9-7.6,5.3-.3,1.2M563.7,415.9l6.3-3.9 4.1,1.6-1,10.5M560.9,415l-2.2-5.6 3.3-4.4 6.3,1.3 1.7,5.7M595.5,441.7l-9,.7-2.4-7.8 5-3.7 7.8,2.6 1.2,3.5M563.6,389.8l8.3-1.4 1.3,3.8-4.1,5.6-6.1-1.2 .6-6.8-4.5-4.3-6.9,6.1 4.7,6.7 3.1,.6 3-2.3M568.3,406.3l2.7-3.9-1.9-4.6M560,398.9l2,6.1M553.3,420.3l-3.9-7.9-8.7,.7-1.4,2.9M552.2,391.6l-4.2-.4-2.4,10.4 5.2,2.8 6.1-6.1M558.7,409.4l-6.7-1.2-2.6,4.2M552,408.2l-1.2-3.8M533.7,392.6l1.9,.7 3.9,10.3-.9,1.6-9.7,.8-3.7-6.3 8.5-7.1-3.3-6-3-1.1-4.4,1.1M520.2,395.3l1.6,3.4 3.4,1M548,391.2l-2.8-2.3-9.6,4.4M545.6,401.6l-6.1,2M527.5,409.3l1.4-3.3M540.7,413.1l-2.1-7.9M594.8,476.8l4.5,7.5-5.3,4.7-6.1-1.1-4.3-5.8 11.2-5.3 1.3-4.4M603.8,484.9l-4.5-.6M597.1,497.6l-3.1-8.6M587.9,487.9l-2.9,9.2 7.6,3.6M453.3,422.2l1.7-1.7-1.9-4.4-.7-.1M455.1,413.1l-2,3M440.2,444.7l.4-.3M455.2,461.4l1.6,.2M996.8,700.2l6.7,1.8 4.4-8.2-4-3.8M1004.5,708.8l1.2-2.7-2.2-4.1M1011.2,717.5l3.3-1.9 3,1.9M1013.3,724.9l1.4,.4M963.6,567.6l-3.8-2.2-1.3,7.4 4.2,1.3 .9-.8M967.2,590.9l-4.7,4.2-2.6-.9-.3-.4-.8-6.9 2.9-4.4 2.5-.8M962.7,574.1l.9,4M965,599.3l-2.5-4.2M958.5,572.8l-1.9,.8 .1,5.9 5,3M953.4,580.7l3.3-1.2M952.7,585.8l6.1,1.1M950,591.1l9.6,2.7M951.4,603l8.5-8.8M911.1,577.1l.4-2.5 3.9-2.3 1.7,.7 .7,4.8M986.3,520.5l-.9-.7 .1-2.8 5.9-3.6 1.3,.5M1058.2,373.4l-1.4-2-3.8,.5-.8,1.4 1.5,4.5 3.3,.8M1060.1,367.3l-.6-.2-2.7,4.3M999.7,411l5.1-3.5 3.7,2.3 .2,6.3-3.1,1.8-3.2-.7-2.7-6.2-2.3-.7-.2-9.1 2.8-.5 4.9,3.9-.1,2.9M1008.7,416.1l5,1 3-4.5-4.4-4.5-3.8,1.7M1029.4,422l-2,1.9-6.1-2.1 2-5.8 .7-.1M1035.5,421.8l.1,.1M1035.6,422l1.5,2.6-1.3,5-7.2-.2-1.2-5.5M1034.1,441.9l6.2,1.1 3-2.4-3.2-7.6-2.4-.7-5,7.4 1.4,2.2-2.5,8.2 2,1.7 7.5-2.5-.8-6.3M1040.1,433l4.7-2.2 1-6.3-.9-1.2-7.8,1.3M1035.8,429.6l1.9,2.7M1074,424.6l-5.1-4.9-3.4,1.2-1.7,5.5 6.2,4.4 1-.4M1068.9,419.7l1.9-4.5 3.4-.6M1008.2,733.3l.2,.1M1019.5,243.5l6.6,1.8 .5,10.2-1.5,.4-8.8-2.9-1.1-3.7 4.3-5.8-2.6-6.6M1032.1,240.9l-6,4.4M1007.1,246.8l8.1,2.5M1030.2,256.9l-3.6-1.4M1016.3,253l-3.7,5.2-6.7,.7-3.1-6.8M1012.6,258.2l6,8 6.5-10.3M1018.6,266.2l0,1.4-7.4,2.6M1005.9,258.9l-2.5,5.9M994,250.9l-1.6,2.5M993.2,263.2l8.7,2.3M1032.8,261.4l-4.9,7.9-7,.3-2.3-2M1058.9,311l-4.5-9.7 1-1.3 7.2,.5M982.5,329.3l3.2-6.1 2-.1 2.9,6.4-3.9,2.5-4.2-2.7-.8,.2-3.5-2.2-.2-5.6 2.3-2.1 5.4,3.6M997.7,311.1l-9-.7-.9,1.2 3.3,8.4 4.5,.9 2.6-1.3 1.6-3.4-2.1-5.1 3.2-5.4M988.5,302.4l.2,8M1008.7,315.6l-8.9,.6M987.8,311.6l-7.1,2-.4,6M987.7,323.1l3.4-3.1M1011.1,320.6l-1.4,2.3-6.4,1.8-5.1-5.1M981.7,329.5l-2.5,5.2 1.5,2.3 5.7-.3 .3-4.7M1003.3,324.7l-.8,2.2M1002.4,327.2l-.7,2.1-1.5,.8-4.8-3.2 .2-6M990.6,329.5l.5,.1 4.3-2.7M978,321.7l-6.8-.1-1.5,4.2 4.5,3.6 4-2.1M979.2,334.7l-5.2-.9 .2-4.4M980.7,337l-1.7,4.1-3.9,.7-3.5-5.7 2.4-2.3M969.7,325.8l-3.2,1.6-.6,1.5 3.9,7.3 1.8-.1M1034.6,386.4l-.7,.1-1,4.1 3.2,1M1040.4,388.2l.5,1.2-1.5,3.2-1.7-.5M1068.4,231.2l-3.4-7-8,3 6.3,7 5.1-3 1.7,.3M1066.8,220.4l-1.8,3.8M1061.7,239.7l1.6-5.5M1056.5,227.1l.5,.1M564.9,116.3l1.6,1.9 1.1-.1M567.6,102.6l7,.3 3.9,4.1-3.3,10.2-1.3,.2M577.1,91l-2.5,11.9M560.5,93.3l3.2,8.4M580.8,124.5l-5.6-7.3M562.8,126.1l3.7-7.9M588,105.9l-9.5,1.1M555.9,127.2l-.2-.4M555.1,110.4l-3.4,.6-.3,.7M523.6,118.8l8.3-3.1 .6,.6M772.2,272.3l5.8,.2 2.2-4.7-4.6-5.5M775.2,281.5l4.4,.2 1.8-4.6-3.4-4.6M781,289.1l.5-3.8-1.9-3.6M771.1,290.3l-2.8-1.8M739.1,302.3l6.5,1.7-.5,5.7-6.1,1.3 .1-8.7-.2-.2 3.8-7.8 2.2-.3 3.6-5.8 5.5,.4 2.3,4.7-.8,3.4-6.3,2-4.3-4.7M745.6,304l2.9-1.8 5,4.7-4.7,5.6-3.7-2.8M810.6,330l.9,3.8-4.3,2.6-4-2.1-.3-2.5M803.9,349.4l-.3-5.6 3.9-2.1 4.1,1.2-.4,7-1.5,.8M809.2,357.3l3.7,1.6 3.6-1.3 .3-.7-3.5-6.4-2.1-.6M795.7,315.8l1.8-3.3-2.2-3.7-5.2-.3M798.1,320.8l5.5-3.4-1.2-5.2-.8-.5-4.1,.8M779.6,178.2l1.8-3.6-4.9-6.1-12.2,4.5M794,181.8l-9.4-7.7-3.2,.5M766.4,145.4l.7,.4 10.2-2.4 1.3-8.9-2.5-3M691.9,155.2l-7.3-1.2-5.5,7.6 2.1,5M684.6,154l-1-1.9M675.2,173.3l-5.2-.9-4.9,6.5 4.1,6.4M720.4,140.2l4.7-5.7-2-6.2-9.3,.6-.1,7.2 6.7,4.1 .3,2.3M733.1,135.9l-8-1.4M705.9,140.7l7.8-4.6M725.4,124.2l-2.3,4.1M711,125.9l2.8,3M668.6,187.4l-6.9,3.2-6.2-4.3 4.8-7.9 4.8,.5M667.1,200.5l-5.7-3 .3-6.9M653.8,205.1l-.1-3.1 7.7-4.5M638.3,201.4l10.7-3.6 4.7,4.2M647.5,179.4l-10.7-.2-.3,9.4 12.3,1.6 2.5-3.5-3.8-7.3 3.7-8 5.6,1.2 8.3-7.2 0-1.2-6.9-5.8-9.3,4.2-.3,4.6 2.6,4.2M655.5,186.3l-4.2,.4M649,197.8l-.2-7.6M633.4,192.2l3.1-3.6M626.4,177.1l7.7-1.4 2.7,3.5M625,149.2l1.6-1 9.1,3.2 1.1,6.6-4.3,4.8-5.1-.9-4.2-8.9 0-.1M634.1,175.7l1.3-4.3-2.9-8.6M620.8,166.6l6.6-4.7M614.8,156.9l8.4-3.9M627.4,134.8l1.7,2.2-2.5,11.2M651.7,147.5l-3.9,2.3-7.9-2.9-.8-7.9 3.6-2.8 9.3,3.1-.3,8.2 7.3,4.2 5.1-3.2 .1-7M636.8,158l9.6,1.7 1.4-9.9M635.7,151.4l4.2-4.5M655.8,136.8l-3.8,2.5M657,130.9l-9.7-7.5M643.2,126.4l-.5,9.8M629.1,137l10,2M655.5,277.5l-8.3,2.3-2.9-3.1 3.2-8.5 8.7,2.5-.7,6.8 3.3,3 6.7-1 1.4-2.3-.5-6.9 1.2-1.1 8.9,.8 2.5-5.2-1.4-3.2-9-1.7-1,9.3M666.9,277.2l10.5,.4 1.3-1.2-2.2-6.4M666.4,270.3l-8.2-1.6-.4-7.1 7.6-3.3M667.4,258.3l1.2,1.6M681.7,253.5l-4.1,8.1M678.7,276.4l1.2,.2 10-6.7 .4-1.2M688.6,266.3l-9.6-1.5M658.2,268.7l-2,2M679.9,276.6l6.4,6 5.2-5.4-1.6-7.3M630.1,273.7l-2.1-8.3 3.4-2 6.3,2.8-.9,7.4M632.3,255.4l-.9,8M620.9,261.3l3.4,3.7 3.7,.4M594.5,203.7l8.3-6.2-4-10.2-4.5-.3-5.2,3.9 .4,11.8 5,1 5.9,9.5M607.3,199.4l-4.5-1.9M587,204.3l2.5-1.6M579.4,189.1l9.7,1.8M602.9,184l-4.1,3.3M587.9,174.3l6.4,12.7M662.6,127.4l0-6.2-8.4-4.7-5.5,2.6M654.6,104.4l2.3,4.8-2.7,7.3M666.4,107.3l-1.7,2.5 1.9,4.2M656.9,109.2l7.8,.6M662.6,121.2l4.1-3.4M499.3,280.3l-8.5,6.3-2.1-1.5-.6-4.8M480.4,285.6l8.3-.5M484.2,273.8l1,.2M477.4,291.5l4.3,5.3 10.3-4.7-1.2-5.5M485.2,261.7l-5.1,.4-3.1-7.9 8.1-5.5 7,3.9 .1,2.4M478,266.7l2.1-4.6M471.6,252.3l5.4,1.9M484.3,242.4l.8,6.3M500,246.5l-7.9,6.1M458.2,321.7l-.7-4.7-8.5-4.6-3.5,3.5M469.7,315.6l-.1-3-6.8-1.7-5.3,6.1M589.1,265.1l2,2.6-3.8,10-8.3-.9M606.5,265l-1.5,9.8-5.5,.9-3.7-7.2 7.4-5.7M591.1,267.7l4.7,.8M563.7,284.8l8.8,4 .4-.2M577.5,277.8l-.6,5.6M606.2,297.6l-11.4,.4-.8,1.5 5,8 4.8-1.1 3.2-6.8-.8-2 .9-3.6 3.4-2.6M603.8,306.4l4.2,3.8-2.2,6.2-3.3,1.2-5.7-5.4 2.2-4.7M633.7,312.5l-5.1-2.7-.8-3.6 3.8-4.6 6.8,2-4.7,8.9 .2,.4 7.1,1.9 .3,7.8-10.3-1.3 2.9-8.4M471.7,291.6l-1.5,1.7M470.2,301.1l3.1,3 8-2.2 .4-5.1M512.1,293.7l-3.9,1.1-4.8-4.4-.1-8.1 5.5-1.9 7.7,7-4.4,6.3 7.4,7.6-.6,4.4-7.1,1.5M505.8,300.6l2.4-5.8M521.7,299.5l-2.2,1.8M521.2,286.1l-4.7,1.3M503,301.9l-8.1-2.9-1.4-5.7 9.9-2.9M508.9,280.3l-.1,.1M492,292.1l1.5,1.2M499.8,280.3l3.5,2M482.9,214l.3-7.4-9.4-4.8-8.1,7.1 1.8,5.5 9.5,3.6 5.9-4 5.7,3.9M488.3,202.8l-5.1,3.8M476.4,227.6l.6-9.6M475.4,190.5l-2.9,2.1 1.3,9.2M461.5,224.4l6-10M458.2,206l7.5,2.9M469,191.5l3.5,1.1M467.2,172.2l1.2-9.7 12.1,2 2.5,8.5-.1,.1M466.5,159.7l1.9,2.8M486.2,157.1l-5.7,7.4M492.6,174.5l-1.6-.2M484.2,173.2l-1.2-.2M470.3,107.4l-8.2-6.4-2.6,.1-5.2,14.1M479.2,84.3l.5,2.1-5.2,5.7-4.4-.2-4-7 .7-.9M479.4,99.2l-4.9-7.1M482.7,87l-3-.6M461.5,83.9l4.6,1M462.1,101l8-9.1M443.1,82.5l-4.9,10.2 5.7,6.7 12.2-.9-.8-12.2-11.6-3.7M423.1,94.9l15.1-2.2M458.7,83.8l-3.4,2.5M440.8,113.3l3.1-13.9M459.5,101.1l-3.4-2.6M1033.2,155.9l1,1.3 1.7-1.1M1037.1,165.8l-3-8.1 .1-.5M1059.7,148.9l-1.1-.1M1034.1,157.7l-5.2,2.1M1034.1,172.6l-5.5,1.2-4.8-9.3M1027.4,184l-.9-7.9 2.1-2.3M773.4,299l-1.6,2.1-3,1-3.6-2.8-.4-7.5 1.6-2.4M782.7,300.4l.3,4.5-5.9,1.6-5.3-5.4M783,304.9l2.4,2.3M782.5,314.4l-7.2-2.7 1.8-5.2M730.8,476.7l-.1-6.3 5.2-4.9 3.5,2.1 .7,7.3-2.7,2.9M741.5,431l-.9,4.8-5.8,2.5-3.8-6.7 .3-1.4M717,435.3l-.5,4.5 3.8,3.7 5.1-4-1.1-4.7-2.2-1.4-5.1,1.9-2.8-2.2-6,1.5-.8,1.9 3.1,5.6 6-2.3M710.5,442.1l-1,3.2 5.3,3.8 5.5-3.3 0-2.3M722.1,433.4l-.2-5.6 5.4-2.8M731,431.6l-6.7,3.2M771.4,455.5l.7-.9 5.2,.6 0,.3M770,428.6l-1.1,3.7-5.9-.9-2.3-7M778.3,437.8l.1-2.4-8.8-1.6-1.4,4M778.4,435.4l.2-.2-.2-7-4.3-2.4M768.9,432.3l.7,1.5M756.7,438.8l2.8-1.7-.2-2.3-4.9-3.7-3.6,1.3-1.4,6.6 3.5,2.1 3.6-2.2M746.6,428.9l4.2,3.5M756.6,425.4l-2.2,5.7M763,431.4l-3.7,3.4M749.4,439l-3.4,1.1-5.4-4.3M760.3,437.8l-.8-.7M772.1,454.6l-2.2-6.3-4.6,.5-1.9,7.3 3.5,1.6M769.9,448.3l1-1.2M765.3,448.8l-2.2-1.7M777.4,447.1l-.4,.6 2.8,4.6 4.2-.4 .4-8.3-4.1-1.3M778.6,435.2l7.6-1 4.2,4.9-.4,2-5.6,2.5M784.8,452.4l-.8-.5M791.4,443.3l-1.4-2.2M771.5,447.1l5.5,.6M777.3,455.2l2.5-2.9M808.6,412.6l3.6-4.9-4.4-4.4-3,2.6 .7,6.5 3.1,.2 3.3,3.8 0,1.9-3.4,3.3M805.5,412.4l-2.5,1.8M798.2,408.1l1.9-2.4 4.7,.2M793.6,402.4l-.9,.8 1.1,3.8M794,402.2l1.6-1.4 3.4,1.2 1.1,3.7M773.9,421.5l2.4-2.7-2.1-4.8-3.8-.8-3,3.1M774.2,414l3-3.8 4.2,.2 1.7,4.2-3,4.2-3.8,0M676.3,418.8l7.9-3.3M692.8,406.7l2.4-2.7 .7-7.7-3.6-2-6.5,3.6-.2,.9 4.6,7.5M693.7,341.8l.8,1.7-6.9,6.6-3.2-1.4-1.8-4.3 4.3-5.6 1.8,.6M673.8,351.2l.4,1.5 5,.7 5.2-4.7M677.2,344.5l1.1-1.3 4.3,1.2M691.8,416.8l3.4,4.8 5.4-1.1 1.6-2.1-.6-5.2-7.2-2.6M728,396.7l-5.8,2.9 2,5.9 8.3-2.6-.7-3.9-3.8-2.3-.5-5.9-1.7-1.5-.1-3.1 7-3.8 2.8,1.9-1.8,5.9-6.2,.6M741.3,323.9l-3.7,0-5.4-7.1 1.5-3.6 4.1-.8 5.2,6-1.7,5.5 .8,.9 6.8-.1 3.7-4.3 .1-2.2-3.4-2.6-.5-3.1M732.8,328.5l4.8-4.6M728.1,327.9l-1.2-1.4 2.7-8.2 2.6-1.5M749.3,315.6l-6.3,2.8M739,311l-1.2,1.4M718,366.6l1.8-.8 4.2,5.2-1,3.7-7,1.6-1.1-3.3 3.1-6.4-8.1-2.7-1.3,5.8-2.4,1.7-6.1-2.9 2.2-7.1 7,1.2 .6,1.3M796.1,364l-2.1,4.4-4.7-1.8 .1-5.5 2.2-1.1M789.3,366.6l-3.4,2.5 3.5,5.3 5.9-3.1-1.3-2.9M788.9,351.8l-1.6-.7-.8-1.7 5.1-5.7 3.6,.3 .6,5.5-6.9,2.3 3.8,5.9M789.4,361.1l-3.3-.9-1.5-5.3 2.7-3.8M797.8,351.3l-2-1.8M741.7,371.5l-1.4,3.6 2.4,5.6 6.8-1.5 2-3.5-4-5.9-5.8,1.7-2.8-4.8-7.6,1-.5,1.1 2,6.1-1.6,2.5-5.7,.3-2.5-3M793.7,526.5l-2,4.9 2.1,2.2M797.8,465l1.8,1.2 5.4-1.4 1-7.4-1-1.6-3-.8M809.3,449.7l4.9,.3 2.1-4.7-2.9-4.4-2.6-.2-3.3,5.4 1.8,3.6-4.3,6.1M799.5,446.1l2-1.8 6,1.8M801.5,444.3l.1-5.8 7-.8 2.2,3M808.6,437.7l1.3-4.8 3-1.4 4.4,2.5 .2,2.6-4.1,4.3M885.7,480l-6.1-2.7-1.1,1.7 1.7,6.6 3.7,.5 1.8-6.1 .7-.5M931.1,512.4l-2,8.5-8.7-5.2 2.7-6.1 8,2.8 3.3-1.9-.5-5.5-7.4-3-4,5.4-6.5-2.4 .1-9 9.6,0 .8,6M869.4,489.6l2.1,2.1 5.1-.7 .8-4-3.5-2-3.6,1.5-.9,3.1-4.7,1.1 .9,5.3 3.4,1.4 1.6-.7 .9-5M880.2,485.6l-2.8,1.4M873.9,485l-.4-4.7 5-1.3M854.2,485.3l3.9,.5 1.5,5-3.2,3.2-.2-.1M865.6,496l-3.9,2.6-4.6-2.3-.7-2.3M864.7,490.7l-.6-.4-4.5,.5M876.7,541.9l-3.8-.5-2,4.2 1.6,2M867.1,540.1l3.3-1.9 2.5,3.2M869,545.8l1.9-.2M846.9,524.9l.2-1.9-3.3-5.4-4.9,.7-1.5,5.6 1.7,2.6M847.1,523l5.7-2.2 0-4-7.1-1.6-1.9,2.4M837.4,523.9l-8.1,1.5 .8,3M853.3,527.8l.7-.3 4,3.5-2.8,4.4-.5-.2M852.8,520.8l2.8,2.5-1.6,4.2M855.7,536.9l-.5-1.5M953.4,214.3l4.2,3.1 6.1-2 1.9-6.5-1.3-.7M967.9,207.5l-2.3,1.4M979.7,216.5l-6.9,5.2-4.2-.6-4.9-5.7M899.3,278l-1.7-3.5-8.7,1.8 0,4.7 4.3,2.6 6.1-5.6 2.6,1.4-.6,7.9 1.9,2.1 7-5.2-.9-3.8-3.2-1.9-4.2,.9M890.1,232.4l-1.5,.7-2.4,8.8 1.3,2.8 .9,.5M903.5,362.3l-3.1,.3M893,365.3l-5.6,.8-.8,.8 .8,5.6 3.2,1.5 1.6-.7 2.6-6.3M910.7,353.7l-5.6-.3-2,2.3M953.5,260.1l-4.6-5.2 2.7-7 5.2-2.2 6.5,8.9M989.5,283.7l-5.4-2.7 2.3-10.1 1.2-1 7.2,5.7-1,5.7-4.3,2.4 .7,8M1000.6,284.9l-6.8-3.6M986.4,270.9l-11.6-.4-.5,1.5 2.2,7 5.7,2.6 1.9-.6M1002.3,284.2l2.4-5.7M999.8,273.6l-5,2M988.5,266.8l-.9,3.1M973.2,265.8l1.6,4.7M883.2,191.6l-2-1.9 .6-1.7M886.6,366.9l-4.9-.8-2.8,5.6 3,3.4 5.5-2.6M907.5,381.3l-.5-8.6-2.9-1.2-2.4,.6-2.7,3.1-.1,5.1 3.2,2.1 5.4-1.1 2.9,1.8-2.9,7.8-6.7-.9 1.3-7.6M898.9,380.3l-4.5,1.8-3.8-3.2 0-4.9M892.2,373.3l6.8,1.9M896.7,367l5,5.1M904.3,362.9l-.2,8.6M734.1,406.7l5.2,3.8 0,3.6-8.4,1.7-.9-3.6 4.1-5.5-.4-2.6 9.2-3 1.4,5.2-5,4.2M732.5,402.9l1.2,1.2M724.2,405.5l-.9,2.6M727.3,410.7l2.7,1.5M729.7,419l1.2-3.2M741.4,416.5l-2.1-2.4M749,409.2l-4.7-2.9M696.2,476.3l-8.8-.1-2.2-4.1 .9-2.8M695,460.3l-.9-.4M680.3,448.1l-.5-.5M675.3,463.5l1-2.7 5.2,.2M686.6,480.4l-7.1,3.6-.1,5 6.9,4.2 4.6-7.4-4.3-5.4 .8-4.2M697.7,485.3l-6.8,.5M699,559.8l-2-1.7M705.8,551.7l-8.8-.5M684,549.4l.1-.6 3.2-2.1 1.4,.5M684.1,548.8l-7.8-1.9-2.7,2.5M725.5,511.2l.2,.1 .7,3.9M725.4,523.2l-1.7,1.4M726.8,511.5l-1.1-.2M724.7,528.5l-.8-1.1M880.5,576.6l-2.7-.5-1,.5-1.1,5.5 2.7,2.5M874.1,589.8l-4.6-5.9 .9-1 5.3-.8M876.8,576.6l-5.6-1.5-.9,.8 .1,7M842.9,578.6l3.2,3.5-3.8,4.4-4.6-.3M836.6,596.2l9-2.7-3.3-7M844.8,602.7l2.8-8.2-2-1M846.1,582.1l.2,0 1.9-3.5M850,574.9l.1,.2-.1,.1M900.4,586.9l-1.5,1.3-1.7-1.3M905.6,579.6l-1.9,.4M906.4,586.6l-1.4-.3M898.8,590.1l.1-1.9M890.1,587.4l1-.5M889.9,618.7l1.4-1.9 .6,.6M875.8,623.3l1.8-1.4 2.7,1.7M890.8,613.5l.5,3.3M877.2,619.3l-8.4-5.4 2.6-6 6.7-.7 4.6,4.1-5.5,8 .4,2.6M863.9,616l4.9-2.1M887.6,611.1l-4.9,.2M880,598.5l-1.9,8.7M868.4,602.7l3,5.2M816.6,604.9l-7.2,3.9 2.2,3.7M787.1,616.6l-.4,.1-.7,6.3 1.4,.7M782.4,613.7l4.3,3M789.4,606.6l4,4.8-.5,2.5M781.2,625.6l4.8-2.6M800,581.2l-.4,.2-.6-.3-1.6-3.5M799,581.1l-6.1,3.2M810.6,585l-7.8,2.8-2.5-5-.7-1.4M788.4,589.8l2.8-1.1 .4-1.5M793.4,611.4l5.8-2.9 4.7,2.2-.4,2.1M809.4,608.8l-.4-.1-5.1,2M791.7,531.4l-1.3,0M792.4,540.9l1.6-1.2M925.7,629l-.2,.2M945.2,660.2l-8.7,.4-1.8-2M942.4,671.2l-4.4-1M936.5,660.6l-.7,1.9M949.9,578.5l-.4-1.5 5.5-4 1.6,.6M937.4,585.5l2.8-4 2.2-.1 2.4,1.9M935.5,585.6l-3.3-3.5-2.7,1-.6,7.3M923.2,584l3.7-2 2.6,1.1M32.6,346.6l5-.3 7.6,7.7-.3,.5M43.9,331.4l-6.3,14.9M48.2,353.4l-3,.6M102.7,432.4l-6.1-3.6M97.7,448l-8.8-1.8-3.2-14.4 4.9-4.4M88.9,446.2l-5.2,3.2M48.6,414.1l7.9,7-1,6.6-3.8,3.5M69.9,439.5l.4-4.8-14.8-7M85.7,431.8l-9.9-1.7-5.5,4.6M80.9,377.9l-9.8,10-2.5-.8-3.3-6.1M68.6,387.1l-2.6,1.1M695.2,421.6l-1.6,3.5-4.1,1.9-4.4-2.8M700.6,420.5l3.5,7.6-5.4,3-5.1-6M704.1,428.1l1.2,.3 2.9,6.2M698.7,431.1l-1.3,4.3 3.3,3.1 6.7-2M656.8,368l5.3,2.5 .8,2.5-3.2,5.3-2.8,.7-6-4.1 .3-2.2 5.6-4.7-.8-3.8 3.6-4.4-4.4-5.3-6.2,2.1 1.3,5.5 5.7,2.1M643.9,376.2l-4.2-3.2 3.2-6.5 3.5,.1 4.8,6.1M650.5,375.2l.4-.3M654.2,386.8l-.3,.8-.7,.2M655.3,383.6l1.6-4.6M664.2,383.6l.1-.5-4.6-4.8M653.9,387.6l.3,.2M675,418l-1.4-5.5 7.6-3.8 2.3,1.1M685.6,398.8l-6.9,3.5 2.5,6.4M661.5,429.8l-5.5-2.1-.9-2.3 6.5-7.8 1.4-.1 4.4,4.7M650.5,398l1.7,1.5 2-.3M677.2,341.4l1.1,1.8M674.2,352.7l-2.1,3-6.7,.7-1.9-5.2M644.8,294.7l-3.7,3.3-8.4-5.7 2-5.8 7.3,1.1 2.8,7.1 4,.2 4.8-5-6.7-7.2-4.9,4.9M632.7,292.3l-3,2.2-.4,1 2.3,6.1M638.4,303.6l1.7-.7 1-4.9M644.3,276.7l-5.4-.6M646.9,282.7l.3-2.9M634.1,285.1l.6,1.4M621.7,288.5l8,6M719.3,335.4l-2.9-3.4 6.6-6.4 3.9,.9M729.6,318.3l-8.7-2.5-2.2,4 4.3,5.8M733.7,313.2l-3.1-4.1-4.9-.5-4.9,5.8 .1,1.4M711,278.4l-4.7,4.1-6-2.8 .7-5.8 5-3.8 2.2,.9 2.8,7.4 4,.2 3,7.8 5.9-3.3-.6-5.7-5.3-1.6-3,2.8M693.5,268.4l7.5,5.5M700.3,279.7l-1.9,1-6.9-3.5M704.4,264.1l1.6,6M714.9,268.2l-6.7,2.8M717.6,269.6l.4,6.2M723.3,277.4l3.4-2.2 .4-5.8M718,286.4l-.4,1-1.3,1.1-8.9-1.7-1.1-4.3M686.9,338.8l-.1-.1M676.1,327.2l2.6-1.1 .6,1.1M643.3,313.2l-.2-7.9 5.8-.3 2.9,5-3.2,4.4-5.3-1.2-2.3,1.6M640.1,302.9l3,2.4M641.3,322.6l2.2,2.6 3.6-1 3-6.2-1.5-3.6M648.8,294.9l3.2,5.7-3.1,4.4M651.8,310l3.7,.1 3-3.3-2.6-5.8-3.9-.4M650.1,318l7.9,.5 1.1-1.1-3.6-7.3M578.1,561.1l-9.5-1.4 0-10.3 2.9-2.1M570.3,574.9l-5.9-11.9 4.2-3.3M555,567.2l5.2-4.4 4.2,.2M584.9,686.7l-1.9-1.2 .1-1.7M591.9,678.4l-.6-.4M572.9,674.7l2.5,.6M579.2,687.4l3.8-1.9M600.3,669.2l-.3,2.4M534.5,699.8l-3.8,5.5 3,5.5 1.2,.2M540.7,698.9l2.3,.2 .7,.7M529.8,718.4l3.9-7.6M524,704.4l6.7,.9M554.7,710l-7.4-4.7M546.8,688.4l-3.8,10.7M555.2,697.8l-8.1,4M494.5,572.5l4-5.1-4.3-10.5-4.9-.9-6.8,8.9M456.3,539.2l1.3-9.4-7-3-9.1,4.8M444.9,516.2l4,1.7M450.6,526.8l-.5-3.7M456.2,514.4l.1,0M489.3,556l-4.1-7.4-9.7,2.7-2.6,9.3M460.5,545.2l8.5-2 6.5,8.1M464.6,500.2l.9-2.1M570.5,537.8l-7-4.2-3.2,2.2 .2,11.8 8.1,1.8M560.2,562.8l-5.2-11.7 5.5-3.5M560.3,535.8l-6.8-.3-4.7,6.8 2.6,8.1 3.6,.7M585,497.1l-2.8,1-1.9,8.1 2.8,3.3M578,528.1l-4.3-3.6 .3-6.2 7.9-2.6M563.5,533.6l.7-4.6 9.5-4.5M580.3,506.2l-8.8,.6-1.9,7.3 4.4,4.2M530.4,386.6l7.4-7.4-5.9-5.1-5.2,2.4 .7,9M518.9,305.7l2.6,3 .2,0M521.5,308.7l-3.5,10.8-4.5,.3M501.1,332.8l7.2-5.6 .1-1.3M500.6,320.8l-6.9,2.3-.7,5.8M507.1,341l2.4-2.3M508.3,327.2l2.7,3.1M602.5,317.6l-2.1,7.3-8.6-.3-1.6-10.3 6.6-2.1M485.4,391l3-5.7-6.2-4.9-8,3.1M482.4,370l1.2,.5-1.4,9.9M484.7,407.5l3.6-1.3M486.3,394.5l5.2,3.7-1.7,4.9M497.4,394l-2.4,3.5-3.5,.7M495.7,387.1l-5.2-2.6-2.1,.8M508,393.8l3.1-1.6M521.8,398.7l-6.4,5.9M495,397.5l6.8,7.5M518.6,412.4l-3.4-1.9M486.9,426.8l4.5-4.6M478.3,418.9l-.4,2.9M501.5,407.5l-3,3.1-.6,0M713.6,467.1l5.5-2.1 2.9,1.5-1.1,9.2M707.9,462.9l1.2-5.6 5.6-1.8 2.8,1.4 1.6,8.1M714.7,455.5l.1-6.4M720.3,445.8l3.2,2.9 .1,5.8-6.1,2.4M730.7,470.4l-7.3-4.2-1.4,.3M698.1,456.2l7.4-2 0-6.9-4.7-2.3-6,3 3.3,8.2-1.6,3.4M709.1,457.3l-3.6-3.1M694.8,448l-1.6-.4-2.6,2.1M709.5,445.3l-4,2M700.7,438.5l.1,6.5M645.8,442.4l-6.2-2.6 4.7-8.8 7,3.1 .4,2.7-5.9,5.6 1.4,4.3M637.4,440.2l2.2-.4M657.1,440.3l-5.4-3.5M643.9,430.2l.4,.8M635.2,427.8l-4.4,4.7M646,424.7l6.6-.9 2.5,1.6M656,427.7l-4.7,6.4M554.4,456.3l5.1,9.4 2.8-.4 5.7-8.1-1.9-3.9M568,457.2l6.8,1.5 1.2,8.6-5.1,4.3-8.6-6.3M570.9,471.6l-.1,2 10.8,8.5 1.5-.3 .6-12.8-7.7-1.7M583.1,481.8l.5,.3M594.5,469.5l-8.7-1.9-2.1,1.4M644.1,382l-5.6,2 .5,7 4.8,.9M492.8,422.2l4.6,1.8 4.5-5.5-3.4-7.9M511.5,412.5l-2.6,6.8-7-.8M498,457.5l.4-2.2-3-5-5.8,.1-4.3,5.2 1.1,3.7 4.9,2.2 6.7-4 4.3,5.8 4.6,0 3.7-3.9 8.5,1.3 .9,6.8-4.8,5.3-2,.5-2.5-1-3.8-9M455.2,436.2l4.8-12.7 4.1-.1 2.6,2.1 0,9.8-9.2,2.8-2.3-1.9-2.2-.3M455,420.5l.1,.1M455.6,420.9l4.4,2.6M454.4,450.5l4.3-3.2-1.2-9.2M475.2,424.8l-8.5,.7M464.8,421.4l-.7,2M478.4,450.1l-.2,3-3.7,2.3-7.3-2.7-1.7-3.3 6.3-8M458.7,447.3l6.8,2.1M466.7,435.3l6.1,4.3M462.6,461.6l4.6-8.9M469.7,467l5-2.1-.2-9.5M485.3,455.6l-7.1-2.5M483.3,443.7l2.6,.1 3.7,6.6M487,432l1.5,1.3 1.3,6.1-3.9,4.4M474.7,464.9l5.3,2.3 6.4-7.9M1010.3,680.8l4.2,3.3 .2,6.7-2.7,3-4.1,0M1005.7,706.1l5.5-.3 4.3-5.8-3.5-6.2M1014.5,715.6l1.5-4.4-4.8-5.4M1016,711.2l2.9-1.1M1015.5,700l3.4,.6M999.1,476.7l-2.7-1.1-4.6,5.9 3.4,6 1.3,.5M1009.2,475.3l5.2,2.9-.6,2.3M905.9,559.9l.6,2 6.4,1.2 2.2-4.7-6.5-3.7-2.7,5.2-7.5-1-1.4,1.8 3.8,6.4 4.8-2.1 3.2,3.8-.7,2.4-4,2-1.1-.3-2.7-4.1 .5-1.7M906.5,561.9l-.9,3.1M908.8,568.8l4.7-1.8 .4-.7-1-3.2M911.5,574.6l-3.4-3.4M915.4,572.3l-1.9-5.3M906.3,578.2l-2.2-5M900.6,575.3l2.4-2.4M900.3,568.8l-4,1.3-1.2,2.5M896.3,570.1l-3.3-3.4 2.6-5.6 1.4-.4M898.4,558.9l-.1-5.9-2.6-2.7-1.3-.1M891.8,559.8l3.8,1.3M908.6,554.7l-.8-3.3-9.5,1.6M969.3,546.3l-.1,0-4.4-4.9 3.5-6.5 3.3-1.4 2.9,2.7M981.5,513.7l-6.8,1.7-3.8-2.6 .2-2.4 6.1-5.5 4.7,3.3-.4,5.5 4,3.3M991.4,513.4l-1.3-6.2-3.9-1.6-4.3,2.6M977.2,504.9l-.6-4.2-4.3-1.3-5.4,4.7 4.2,6.3M938.7,477.7l-4.3-3.3-5.1,5.7 1.3,4.4 5.6,1.4 .5-1.1M936.2,485.9l1.3,2.2 6.6,.4M937.5,488.1l-2.3,6.6-8.6,.1-.5-5.9 4.5-4.4M980.5,528.2l-8.2,3.3-1.7-6.4 4.6-3.8 5.9,2.9 .1,3.1M985.4,519.8l-4.3,4.4M974.7,515.4l.5,5.9M970.9,512.8l-5.3,2.7-1,6.9 6,2.7M964.6,522.4l-4.8,3.1-.8,2.8 9.3,6.6M971.6,533.5l.7-2M1036,407l-.8-4.6-5.8,0-1.4,6.3 .7,.6M1044.9,423.3l.5-4.3-.2-.1M1044.8,430.8l5.2,3.1-3.7,6.9-3-.2M1023.3,416l-1.6-2.8 3.6-4.4 2.7-.1M1000.2,388.7l-1,2.8 1,.7M981.9,381.9l.6-1.6-3.5-6.1-3.2,.8-2.9,4.3 .3,1.7 8.7,.9 .9,4.2 4.9,1.4 .8,5.8 2.1,.5M948.7,402.8l5.5-.9 1.3-4.8-4.5-1.9-3.3,4.1 1,3.5-.5,1.1 3.5,6.6 2.2-.4 2.9-5.4-2.6-2.8M962.1,485.4l5-.5 2.4-5.4-2.7-5.2-10.1,1.8-.5,3 5.9,6.3-3.6,5.1M1015.6,421l5,1.2-.9,8.8-4.6-.1-3.6-4.9 4.1-5-1.9-3.9M1016.7,412.6l1.6-.5 3.4,1.1M1021.3,421.8l-.7,.4M1011.5,426l-4.1,0-1.8-8.1M1026.1,432.4l-4.6,.1-2.4,7.3 4.4,3.7 5.8-4.7-3.2-6.4 2.5-3M1019.7,431l1.8,1.5M1032.7,439.7l-3.4-.9M1070,430.8l-3.3,5.4 .2,.2M1059.3,416.8l-3.7,2.8-6.1-3 .3-4.3 1.7-1.4 6.1,.9 1.9,2.3-.2,2.7 6.2,4.1M1059.5,414.1l6.6-4.5 1.1,.3 3.6,5.3M1045.4,419l4.1-2.4M1047.5,410.9l2.3,1.4M1060.3,431.9l-5.9,2.3-1.5-.9 .3-7.6 1.8-1.6 6.6,3.4-1.3,4.4 4.9,4.8 1.5-.5M1063.8,426.4l-2.2,1.1M1055.6,419.6l-.6,4.5M1045.8,424.5l7.4,1.2M1050,433.9l2.9-.6M1018.5,309.6l3.3-7.4-4-4.3-5.9,3.3M1029.7,309.2l-2.6-7.4-5.3,.4M1062.8,288.7l-3-.4-5.3,4.7 .9,7M1057.8,312.8l-3.7,1.4-6.7-4.8 2.2-6 4.8-2.1M1054.1,314.2l-2.7,7.2-6.5-.3M1041.9,316.1l1.9-5 3.6-1.7M1031.3,309.8l6.5-4 6,5.3M986.4,336.7l1.9,2.2-.9,3.4-6.1,1.1-2.3-2.3M984.4,349.5l2.6,4.2 4.2-2.8-.4-4.5-2.2-1.3-4.2,4.4-3.6-.7 .5-5.4M987.4,342.3l1.2,2.8M1033.9,386.5l-2.3-2.9 0-.5M1033,374l-.4-1 2.8-2.5 5.4,3-2.2,4.6M531.1,93.6l5.3-2.4 9.1,8.6 .1,4.7-2,.8M530,98.6l-1.2,5.2 2.9,3.8M555.8,91.1l-10.3,8.7M551.7,111l-.4-.4M548.1,107.2l-2.5-2.7M537.4,88.4l-1,2.8M531.9,115.7l.4-2.1M518.1,104.5l10.7-.7M776.6,259l7.7-.8 2.4,4.2-1.3,4.7-5.2,.7M788.7,307.2l2.9-4.9-1.2-4.8-2-1.3M781.4,277.1l3.5-1.4 1.7-6.6-1.2-2M736.7,273l-.3,2.2 5.4,6.4 2.9-.2 2.7-3.1M726.7,275.2l4.6,2.7 5.1-2.7M757.4,284l-3.4,4.6M744.7,281.4l3.8,6.8M764.8,291.8l-8.5,1.5M755.5,296.7l3,3.8 6.7-1.2M753.5,306.9l3.6-.2 1.4-6.2M748.5,302.2l.7-3.5M795.3,336.2l.5,7.2 6.1-.6-.9-6.3-5.7-.3-.3-.3M788.3,338l-.4,1.4 3.7,4.3M795.2,344l.6-.6M803.2,334.3l-2.2,2.2M807.2,336.4l.3,5.3M803.6,343.8l-1.7-1M820.5,268.8l.7,4.9-1.1,1.7-4.6,.8-3.4-2.8 2.4-7.3 6,2.7 6.6-4.5 2.2,4.4-1.6,5.6-6.5-.6M812.1,273.4l-4.6,1.3-.9,1.8 5.4,6.2 2.2-1.1 1.3-5.4M814.5,266.1l-1.4-2.7-5.3-1.3-4.1,6.3 3.8,6.3M794,253.5l2.2-7-5.1-4.3-7.6,4.7 3.3,6.6 7.2,0 3.2,4.2-2.4,4.7-8.1,0M784.3,258.2l2.5-4.7M780.2,245.8l3.3,1.1M787.7,232.1l3.6,2.6-.2,7.5M809.2,321.2l.3-1.6-.7-.8-5.2-1.4M802.4,312.2l6.4-1.6 0,8.2M811.5,333.8l3.3,1.9 4-5.7-2.5-3.2-4,.4M809.5,319.6l6.2-1.5 2.6,4.1-2,4.6M877.5,171.2l-2.5,1.3-.2,2.2 3.6,3.2M762.1,161.6l6.2-2.3 8.1,7.1 .1,2.1M767.1,145.8l3.4,8.5-2.2,5M776.1,126.9l8.6-4.3 .3-6.5M778.6,134.5l9.7,.9 3.9-7.9-7.5-4.9M679.1,161.6l-7.1-2.5-1.2-7.5 1.1-.9M670.8,151.6l-3-1.4M667.5,150.1l-3.4-1.6M652.2,254.4l-6-3.5-6.2,3.4 3,9.1 2.6,.9 7.5-6M637.7,266.2l5.3-2.8M647.5,268.2l-1.9-3.9M636.3,253.1l3.7,1.2M657.8,261.6l-4.6-3.3M646.7,241.7l-.5,9.2M677.4,277.6l-2.2,8.1-7.2-1.1-2.5-5.1M698.4,280.7l-3.1,6-8.7-2.2-.3-1.9M623.1,276l-2.4-4.3-5.8-.6-2.7,5 5.5,4.4 5.4-4.5 3.6,1.1M624.3,265l-3.6,6.7M617.7,283.8l0-3.3M612,264.9l2.9,6.2M610.9,286.3l-3-3.3 .7-5.7 3.6-1.2M608.6,277.3l-3.6-2.5M469.6,312.6l1.6-1 2.1-7.5M462.8,310.9l-1.4-3.5 .5-.8M596.7,280.3l-6.5,.5-1.9,7.6 6,4.9 5.9-5.1 .3-2.8-3.8-5.1 2.8-4.6M587.3,277.7l2.9,3.1M607.9,283l-7.4,2.4M581.2,288.6l2.6,1.6 4.5-1.8M607.1,294l-6.9-5.8M594.8,298l-.5-4.7M607,299.6l6.7,2.8-2,7.2-3.7,.6M605.8,316.4l6.5,3.4 4.5-6.1-5.1-4.1M612.3,319.8l.3,2-4.3,5.6-5.4,.3-2.5-2.8M483.3,317.4l7.2,1.7 4.5-8.7-4.2-5-6.2,.2-2.5,8.8 1.2,3-3.3,4.6M493.7,323.1l-3.2-4M471.2,311.6l10.9,2.8M481.3,301.9l3.3,3.7M500.1,310.5l-5.1-.1M494.9,299l-4.1,6.4M1010.1,180.5l3.8-.3 2.6-4.2-.9-2.2M1017.1,189.4l-3.2-9.2M1026.5,176.1l-10-.1M1004,191.4l0-.2M957.3,423.8l6,.3 3.4-5.3-.7-2-7-.9-3.6,5.6 1.9,2.3-.5,6.7 6.5,2.2 3-4.3 5-.2 .9-6.7-5.5-2.7M966.3,428.4l-3-4.3M779.5,320.6l-5.8,.4 .1-8.5 1.5-.8M780.6,329.9l-7.8-1.3-.5-6.3 1.4-1.3M769.4,344.7l1-7.8-7.4,.3 .3,7.4 6.1,.1 1.1,.9 5.9-.7 1.6-6.1-6.5-2.9 0-5.7-8.3-.7-2.1,6 1.9,1.7M771.5,335.9l-1.1,1M787.9,339.4l-3.4,1.7-.6,6.3 2.6,2M781.6,332.4l-2.7,6 5.6,2.7M772.8,328.6l-1.3,1.6M778,338.8l.9-.4M740.1,474.9l5.8,.1 2.1,5.5M757.9,479.6l-3.3-1.3-4.4,2.2M735.9,465.5l-.8-3.3-6.5-2.9-5.2,6.9M723.6,454.5l4.2,2.5 .8,2.3M729.3,446.7l3.7,4.3 2.9,0 3.2-4.6-4.9-6.7-3.9,2-1,5-5.8,2M727.8,457l5.2-6M725.4,439.5l4.9,2.2M734.8,438.3l-.6,1.4M746,440.1l-2.4,5.8-4.5,.5M735.1,462.2l4.4-5.4-3.6-5.8M745.9,475l2.8-3.6 3.6-.3 2.3,7.2M739.4,467.6l5-1.4 4.3,5.2M743.6,445.9l3.6,4.5-3.1,6.4-4.6,0M744.4,466.2l2.8-5.5-3.1-3.9M756.5,470.6l-3.6-.1 .6-7.2 6.6,.1 2.2,2.8-.8,2.8M766.9,465l-4.6,1.2M763.4,456.1l-1.8,.6-1.5,6.7M761.6,456.7l-5.9-2.6-4.1,6.9 1.9,2.3M752.3,471.1l.6-.6M747.2,460.7l4.4,.3M759.8,447.1l-4.2,6.7-5.1-3.7 3.3-6.5 2.7,1.2M752.9,441.1l.9,2.5M747.2,450.4l3.3-.3M755.7,454.1l-.1-.3M787.1,430l5.9-2.2-1.5-6.1-2.3-.7-5.7,2.9-.3,1.5 3.9,4.6-.9,4.2M778.4,428.2l4.8-2.8M780.1,418.8l3.4,5.1M783.1,414.6l4,.6 2.1,5.8M794.9,419.2l-3.4,2.5M790.6,412.2l-3.5,3M801.6,438.5l-1.4-1.8M790.4,439.1l5.5-3.6M809.9,432.9l-5.5-3.1M793,427.8l1.8,1M799.9,420.5l.1,5.8M808.6,423.4l4.6,3.7-.3,4.4M778.3,387.8l-4-1.5-3,1.4 2.3,6.2 4.6-.6 .5-1M780.3,386.9l1.7-3-1.4-2.9-4.1,0-2.2,5.3M778.8,393.9l-.6-.6M772.4,396.1l1.2-2.2M772.1,396.6l-4.1,1.1-1.5-.7-1.3-6.3 3.7-2.8 2.4-.3 0,.1M765.2,390.7l-3.6-.9-.7-8.4 .1-.1 2.3,.3 5.6,6.3M771.3,387.6l-1.6-8.8-6.4,2.8M780.2,400.9l-.3,.3 3.2,6.6 3.3-.7 .8-1.8M779,401.4l.9-.2M775.1,404.1l-.9,1.3 3,4.8M781.4,410.4l1.7-2.6M790.5,410.5l-4.1-3.4M792.7,403.2l-.4-.1M795.6,400.8l-.3-1.3M757.3,392.3l.7,5.5-5.4,2.4-5.1-2.5 .7-6.8 4.4-1.8 4.7,3.2 4.3-2.5M758,397.8l1.9,1.2 6.6-2M752.6,389.1l.9-4.2 7.4-3.5M752.6,408.1l0-7.9M755.1,409.1l5.9-4.5-1.1-5.6M747.5,397.7l-4.4,2.8-.2,.6M764.8,408.6l4.5,1.6 3.2-4.5-4.2-2.7-4.4,3.1 .9,2.5-3.1,5.7M770.4,413.2l-1.1-3M761,404.6l2.9,1.5M768,397.7l.3,5.3M774.2,405.4l-1.7,.3M704.3,404.4l1.7-4.6 3.9-1.9 4.6,3.6 .1,3.4M722.2,399.6l-1.6-.8-6.1,2.7M709.9,397.9l.6-2.4 5.5-4.8 3.1,1.7 1.5,6.4M695.2,404l9,.4M706,399.8l-6.5-5-3.6,1.5M701.6,413.2l3.3-3.4M685.8,397.9l-4.8-7.2-4.3,.6-.7,9.8 2.7,1.2M715.2,387.9l2.7-4.9-2.5-5.4-5.2,1.5-2,6.3 7,2.5 .8,2.8M692.3,394.3l-1.1-4-7.3-2.7-2.9,3.1M715.9,351.3l.8-8.1-5.3-1.1-4.1,3.2 1.5,6.5 3.8,2.3 3.3-2.8 1.8,.2M714.9,373l-6.3-3.3M715.4,377.6l.6-1.3M710.2,379.1l-4.4-3.1 .4-4.6M709.3,362.6l3.6-6.3 8.7,5.2-1.8,4.3M708.8,351.8l-6.3,2.3-.8,6.5 .6,.8M712.6,354.1l.3,2.2M707.3,345.3l-4.6-1.7-4.4,2 .1,5.3 4.1,3.2M702.2,418.4l5.3,.7M721.9,427.8l-4-2.3M728.1,420.1l-.8-.3M705.3,428.4l2.2-1.4M714.2,433.1l.2-4.7M753.5,384.9l-4-5.7M742.7,380.7l-1.2,2.5 2.1,5.1 4.6,2.6M743.1,400.5l-5.4-6.2 5.9-6M731.8,399l5.1-4.8 .8,.1M717.9,383l5.7,.5 1.9-5.8M730.8,368.8l-6.8,2.2M731.9,339.1l2.4,2.3-.7,7.1-6.3-.7M718.7,341.9l-2,1.3M740.3,375.1l-7.5-.2M747.5,369.8l2.4-5.2-1.1-1.7-8.3-.7-1.6,4.5M789.4,374.4l-.3,1.4M783.5,377.5l-.8,0-1.7-3.2 4.2-5.3 .7,.1M805.1,358.8l2.4,6.7 4.4-.3 1-6.3M816.5,357.6l3.7,4.8-2.6,4.5-3,.7-2.7-2.4M782,383.9l1.5,.4M782.7,377.5l-2.1,3.5M853.9,515.7l.2-3.6 4.5-2.5 2.1,3.9-2.3,3.2-4.5-1-1.1,1.1M855.6,523.3l2.3-.5 1.7-3.3-1.2-2.8M859.6,519.5l5-.4-.7-5-3.2-.6M822.3,503l7-.7 1.5-3.6-3-3.7-7.1-.1-1.9,2 1.6,5.2M847.8,500.5l-1.1-1-6.3,2.5-.7,5.1 6.4,3.1 3.2-2.1 .2-.6-1.7-7 7-.4 2.3-3.8M847,495l-.3,4.5M854.8,500.1l1.3,4.5-6.6,2.9M845.4,492.2l-8.1,1.7-1.6,3.6 4.7,4.5M845.7,515.2l.4-5M854.1,512.1l-4.8-4M820.3,506.9l2.5,5.6-2.8,2.5-6.1-.8M818.8,496.9l-6.2-.7-.6,1.6M812.6,496.2l-2.7-3.7-7.1,3.4 0,1.3M810.7,521l1.8-5.2M802.8,495.9l-5.8-3.4-1.3,.3M806,457.4l8.4,1.8 .8-.8 .8-6.2-1.8-2.2M816,452.2l7.1-.5 1.9,2.4-3.2,5.4-6.6-1.1M805,464.8l3.2,2.7 5.9-1.5 .3-6.8M854.6,372.3l.4-3.9-7.6-1.4-.2,6 7.4-.7 1.2,2.2-3.2,5.5 0,.2 3.8,2.9 5.6-3.2 .6-1.3-2.6-3.5-4.2-.6M817.6,366.9l3.8,3.6 5.8-1.9-.9-6.7-6.1,.5M799.2,473.8l.8,1.4-2.5,5.5-5.1,.7-3.2-6.3 1.9-3.3 8.1,2 .4-7.6M808.2,467.5l-1.2,7.6-7,.1M790.5,468.4l.6,3.4M797,492.5l4.2-6.8-3.7-5M789.8,484.6l2.6-3.2M782.9,475.8l6.3-.7M810,489.9l7.2-3.6-.8-6.7-2.9-2.1-3.9,.1-3,8.1 3.4,4.2-.1,2.6M817.2,486.3l3,1.5 .5,7.1M801.2,485.7l5.4,0M807,475.1l2.6,2.5M814.1,466l3.4,2.6-4,8.9M854.2,468.8l1.3-7.4 7.7,1.6 .5,3.4-5,4.1-4.5-1.7-2,1.2-3.6-.5-2.8-5.4-7,3.4 1.1,4.9 5,1.8 3.7-4.7M821.8,459.5l1.6,3.8-3.5,5.2-2.4,.1M852.2,470l1.1,5.7-5.3,3.1-1.9-.9-1.2-3.7M887.1,474.7l-1.1-1.5-6,.2-.6,.4 .2,3.5M816.3,445.3l4.6-1 2.9,2.9-.7,4.5M817.5,436.6l4.3,3.4-.9,4.3M837.5,466.7l-6.6,1.5-2.4-4.6 2.3-3.7 5.6,.2 1.1,6.6 1.3,.8M825,454.1l3.6,.6 2.2,5.2M828.5,463.6l-5.1-.3M877.9,453.2l-4,2.2-4.5-2.6-.3-6 4.6-3.9 3.4,1.7 .8,8.6 3.8,.8 3.1,3.5 .1,2.3-3.4,4.2-6.5-.6-1.4,3.5 1.7,5.5-4.2,2.9-4.3-2.3-.3-3.7 7.1-2.4M869.4,452.8l-4.8,2.3-.6,7 9.7-.6 .2-6.1M873.5,480.3l-2.1-1.5-5.2,3.2 4.1,4.5M859.6,474.8l4.7,.4 1,6.8-1.3,.7-2.9-.2-3.7-4.1-.1-.9 2.3-2.7-.9-4.3M853.3,475.7l4,1.8M848.8,480.3l-.8-1.5M853.5,482.5l3.9-4.1M858.1,485.8l3-3.3M864.1,490.3l-.1-7.6M866.2,482l-.9,0M886,473.2l1.2-4.2-5.3-3.8-1.9,8.2M852.8,396.4l2.4-4.1-1.7-3.3-4-.7-2.8,3.2 3,6 3.1-1.1 6,3.6 2.2-1.7-1.2-5.9 1.8-2 5.8,2.8 .6,1.9-2.8,3.6-4.2-.4M812.2,407.7l2.1,.1 2.6,4.6-5,4M870.6,496.7l4.6,1.3 2.6-4.8-1.2-2.2M883.9,486.1l.6,.6 0,6.3-1.1,1.5-5.6-1.3M875.2,498l.5,1.1 4.3,1.7 3.4-5.5 0-.8M884.5,486.7l7.6-.1M884.5,493l8.7,.4M906.7,500.2l-1.6,2.9-3.3-.2-3.7-8.5M906.3,493.7l-4.3-2.5M893.8,494.1l-2.5,5.6-3.7,.2-4.2-4.6M935.2,494.7l3.8,4.8 2.6,.4 4.4-4.4-1.8-6.9M923.1,509.6l-.6-2.2M905.1,503.1l2,2.2M909.2,507.6l.4,.4M913.5,493.9l.1-.1 2.5,2.2M910.3,508.1l.9-.5M913.5,506.3l2.5-1.3M926.6,494.8l-.9,1.2M939,499.5l-5.1,5.5M857.9,522.8l3.3,2.7-.9,5.1-2.3,.4M867.5,511.2l1.9,1.1 4.9-2.2 .4-3.8-1.6-1.8-1.2-.1-5,4.9 .6,1.9-3.6,2.9M869,497.4l-.3,4.2 3.2,2.8M873.1,504.5l2.6-5.4M850,548.6l.3,0M852,554.4l.7-.8M824.2,526.4l1.9-2-5.8-4.2-4.3,2.9M829.3,525.4l-1.7-1.3-1.5,.3M820,515l.3,5.2M885.5,572.3l.1-.2 .1-.1M888.7,571l-.7-.4-.9,.6M893,566.7l-3.3,.6M888,570.6l.9-2.2M885.2,543.6l.8-1.5 1.4,0M892,547.8l-.5-1.2M881.3,540.1l2.7,0 2,2M878.7,540.1l-1.1-4 2-2.5 4.9,.7-.5,5.8M983.2,233.4l-1.2,9.4-3,2.7-6.6-.3-3.7-4.5 .8-5.5 5.8-3.8 7.9,2 2.9-1.9M992.9,246.8l-10.9-4M972.8,221.7l2.5,9.7M968.6,221.1l-6.5,8.4 7.4,5.7M981.6,255l-2.6-9.5M968.2,253.9l4.2-8.7M968.7,240.7l-10.9,2.7-1,2.3M960,229.4l.2,.2-4.5,7.2-2.6-.7M957.6,217.4l-.9,3.7M962.1,229.5l-1.9,.1M957.8,243.4l-2.1-6.6M944.8,243.7l6.8,4.2M874.7,304.4l-4.3,.4-4.5-3.6 4.5-5.9 6,2.5-1.7,6.6 3.6,2.9 6.6-6.1-.7-1.9 3.8-6.8 3.5-.1 2.9-5.7-1.2-3.1M879.4,282.1l-3.4,1.6-.5,5.6 3.1,2.5 5.9-2.6-.5-4.8-4.6-2.3 0-7-6.7-1.4-.9-8.1 6.2-1M888.9,281l-4.9,3.4M888,292.5l-3.5-3.3M884.2,299.3l-6.1-2.5 .5-5M878.1,296.8l-1.7,1M875.5,289.3l-5.7,2.4 .6,3.6M919.8,351.6l-4.9,3-3.4-.2M944.4,243.9l-4.9,4.8 1.1,4.6 4.6,2.5 3.7-.9M917.5,286.2l2.4-7.3 4.6-.1 3.1,3.3-.7,4.4-4.6,2.2-4.8-2.5-2.8,1.1-4.5-3.1M909.3,280.4l6.3-4.3 1.8,.3 2.5,2.5M894.4,286.7l6.9,.6M906.1,278.5l1-7.6-2.2-1.5-6.9,2.7-.4,2.4M898,272.1l-.4-.6M904.9,269.4l-.6-3.7M915.6,276.1l-4.4-5.9-4.1,.7M889.1,209.3l-.7-.2-4.1,6.5 .4,3.4 6.8,3.2M887,202.6l-.5,1.1 1.9,5.4M890,358.1l1.2-5.7-1.7-2.7-2.4-1.3-3.7,5.8 2.3,4.5 1.2,.5 3.1-1.1 3.4,1.9M897.6,355.5l-1-2.1-5.4-1M887.4,366.1l-.5-6.9M885.7,358.7l-5.8,3.1-.4,1.2 2.2,3.1M883.4,354.2l-5.8,.1-.9,.7 3.2,6.8M877.6,354.3l1.1-7.6 4.3-1.3 3.5,1.8 .6,1.2M938.2,334.3l3.3-2.3-.9-5.9-4.3-1.2-3.4,2.5 5.3,6.9-1.5,3.8-8.9-3.8 3-6.7 2.1-.2M924.9,341.9l.3-6.3 2.6-1.3M928.4,344.1l7.2-1.4 1.4-3.3-.3-1.3M937,339.4l7.2,1.1 3.3-5.3-2.2-2.6-3.8-.6M961.6,331.5l-3.8-2.2-4,2.3-.7,2.2 6.2,3.3 2-.6 .3-5 4.3-2.6M969.8,336.2l-4.3,3.1-4.2-2.8M959.3,337.1l-3.8,6.2-3-1.8-1.6-5.9 2.2-1.8M950.9,335.6l-3.4-.4M944.2,340.5l2.1,3.6 6.2-2.6M965.5,339.3l0,1.5-4.8,4.2-4.6-.4-.6-1.3M941.5,352.3l-4.1,2.3-3.4-2.2 2.6-7.3 4.7,2.6 .2,4.6 2.9,1.2 1.7,4-5,2.9-3.1-1.5-.6-4.3M944.4,353.5l4.5-4.1-2.8-4.1-4.8,2.4M935.6,342.7l1,2.4M946.3,344.1l-.2,1.2M928.7,352.8l.6,.3 4.7-.7M952.1,266.7l-1.9,1.6-6.8-.9-1.6-3.8 3.4-7.8M989.3,292.6l-9.4-1.3-.8-1.6 3.1-8.1M961.5,269.4l.8,5.9-5.3,2.7-5.8-2.8-1-6.9M974.3,272l-9.5,4.7-2.5-1.4M862,379.9l2.3,5.9-2.7,2.7-5-3.7-.2-1.7M849.5,388.3l-1.1-4.2 4.2-3.9M856.6,384.8l-3.1,4.2M847.2,373l-1.3,1.9 6.7,5.1M855,368.4l2.4-3 5.2,4.9-2.6,4.8M864.3,385.8l3.8,.1 1.6-5.1-4.6-2.7-2.5,.5M870.9,323.7l-4.1,5.4-1.9,0-4.5-6 1.4-2.4 5.2-.7 3.9,3.7 3.2,0 2.4-6.7-1.1-2.5-5.8-.8-1.1-1.5-4.7-.7-3.4,5.3 1.4,3.9M869.6,313.7l-2.6,6.3M874.1,323.7l.8,.8-.1,7.2-4.1,1.6-3.9-4.2M871.3,363.7l1.9,1.2 1.4,6.3-2.1,2.1-4.3-.5-2.4-3 2.2-6 3.3-.1 2.9-8.5 2.5-.2M879.5,363l-6.3,1.9M878.9,371.7l-4.3-.5M865.1,378.1l3.1-5.3M862.6,370.3l3.2-.5M872.5,373.3l1,6.1-3.8,1.4M900.8,390l-1.7,1.2 .4,5.3 4.3,3.2 6.1-5-2.4-3.8M909.9,394.7l3.4,1 1.5,7.1-7.1,3.6-3.6-3.4-.3-3.3M919.5,407l-.6-1.8 6.4-6.8 3.7,2.2 .6,7.2-4.6,2.6-5.5-3.4-4.1,5.9-6.9,0-1.1-1.9 .3-4.6M918.9,405.2l-4.1-2.4M624.8,487.4l2.5,1.4 7.7-2.1 1.7-2.7-2-8.3-6.2-1.2M635.8,462.4l1.6,10.9 3.7-.3 5.4-7.2M634.7,475.7l2.7-2.4M685.2,472.1l-3,.5M679.5,484l-4.9-5 1.2-2M616.8,526.8l5.6-1.8 6.6,5.6M630.3,532.9l.5-.8-.5-.4M638.3,532.7l-.3-1-2.5-1.4-4.7,1.8M616.3,512.5l3.8-.5 4.6-9.2-8.9-5M622.4,525l3.6-7.4-5.9-5.6M635.5,530.3l.2-6.8-5.7-6.4-4,.5M702.2,498l-1.5-5.6-9.2,4.9 .6,1.4M701.1,491.5l-.4,.9M686.3,493.2l.8,2.5 4.4,1.6M666.4,522.9l-5.1-4.6 6.1-7.5 5.3,.8-.2,8.4-6.1,2.9-.4,5 9,3.6 4.3-7.8-6.8-3.7M707.4,536.1l-8.6-3.3-2.1,4.8 1.5,3M687.3,546.7l.3-8 9.1-1.1M656.6,557.2l1.4-5.8M866.7,592.1l.1-6.6-5,.3-2.7,5.9 4.4,2.4M869.5,583.9l-1.8,.5-.9,1.1M852.7,595.6l-3.6-1.3 2.4-8.4 3.7,.5 3.4,5.3-5.9,3.9 3.8,8.4M847.6,594.5l1.5-.2M859.1,591.7l-.5,0M846.3,582.1l3.8,1.6 1.4,2.2M861.8,585.8l-3-3.5-3.6,4.1M854.1,553.6l2.6,3.8M857,557.8l.1,.3-1.3,.9M852.9,569.8l-2.9-4.6 3.1-2.5 4,2.5-1,4.5-3.2,.1-2.9,3.3M853.1,561.7l0,1M802.1,590.2l-5,2.4-1.6,6.6 3.1,2.4 7.9-2 1.4-2.6-5.8-6.8 .7-2.4M791.2,588.7l5.9,3.9M813,595.6l-5.1,1.4M790.7,600.6l4.8-1.4M809,608.7l-2.5-9.1M799.2,608.5l-.6-6.9M949.5,577l-3.1-2.5-1.1-.1-1,.6-1.9,6.4M955,573l-2.6-3.8-2.2,.2-3.8,5.1M944.3,575l-5.8-.8-1,4.5 2.7,2.8M932.2,582.1l1-2.5 4.3-.9M71.1,387.9l3.2,6.3M82.3,395.4l.5,0M693.6,436.2l-5-3.2-2.6,1.1-1.9,7.7 6.8,1.7 2.7-7.3 3.8-.8M689.5,427l-.9,6M693.2,447.6l-2.3-4.1M682.3,442.7l1.8-.9M679.2,431.6l6.8,2.5M662.1,370.5l4.4-5.3-3-5.8-3.9,.4M646.4,366.6l3.9-4.5M665.4,356.4l-1.9,3M659.5,350.4l-2.9,.7-1.4,3.4M666,412l-3.3-5.6 6.3-5.2 3.1,1.2-.2,8.9-5.9,.7-3,5.5M673.6,412.5l-1.7-1.2M676,401.1l-3.9,1.3M666.3,395.8l2.7,5.4M662.7,406.4l-1.4-.4-1.1-2.8M668.7,391.5l5.3-1.8 2.7,1.6M661.3,406l-4.5,2.5M652.2,399.5l-.5,6M661.6,417.6l-5.5-3.7M652.6,423.8l-1.4-8.1M645.5,415.8l3-1.2M618,339.4l5-3 5.6,5.7-.3,3.1-9.6,3.2-1.9-3.4 1.2-5.6-5.8-3.9 .3-3.3 6.9-2.9 4,3.9 7.2-4.1-.8-6.8-5.4-1.7-5.2,4.5 .2,4.2M624.4,320.6l-2.8-6.1-2.5-1.2-2.3,.4M612.6,321.8l6.6,3.3M628.6,309.8l-7,4.7M631,321.3l-1.2,1M623,336.4l.4-3.2M612.5,332.2l-4.2-4.8M663,327.2l4.9-2.3 2,2.3M647.1,324.2l5.5,2.9 5-2.6 .4-6M656.6,351.1l-3.1-4.1M661.2,327.2l-3.6-2.7M652.6,327.1l.3,3.2M702.7,343.6l.5-7.6-6.2-1.3M698.3,345.6l-3.8-2.1M687.6,331.4l.8-.8 7.1,1.8M730.6,309.1l2.7-7.9 5.6,.9M669.9,311.5l1.1,7.7-2.8,2.8-7.5-5 5.1-6.2 4.1,.7 1.8-1.2 7.1,2.5 .1,4M672,319.3l-1-.1M658.5,306.8l4.8,.3 2.5,3.7M659.1,317.4l1.6-.4M667.9,324.9l.3-2.9M678.7,326.1l1.1-3.1M494.2,556.9l6.8-5.2-.4-8.2-14.1,1.7-1.3,3.4M457.6,529.8l3.3-2 .3-2.6M473.2,525.2l-3.6,5.4 2.8,6.5 11.2-.8 1.9-2.9-1-6.5-5-1.7M500.6,543.5l.9-1.5-3.1-8.9-12.9,.3M486.5,545.2l-2.9-8.9M469,543.2l3.4-6.1M460.9,527.8l8.7,2.8M472.9,490.6l5.9,9.2-.5,.4M487.6,521.7l-5.2-8 4.3-5.3 8.3,2.3 1.4,5.7-2.7,3.9-6.1,1.4-3.1,5.2M480.2,513.8l2.2-.1M498.4,533.1l1.2-2.7-5.9-10.1M478.8,499.8l5.9,.1 2,8.5M499.6,530.4l6.8-3.6-1.6-9.4-8.4-1M504.8,517.4l3.4-3.2-.8-6-7.6-4.1-4.8,6.6M508.2,514.2l7.3,2.1 1.9,3-6.8,8.6-4.2-1.1M507.4,508.2l7.2-5.7 3.1,4M515.5,516.3l2.2-4.6M548.8,564.3l-3.5-2.1-3.9,1.8-1.3,2.7M551.4,550.4l-4.5,3-1.6,8.8M498.5,567.4l8.9-2 1.1-8.6-7.5-5.1M554.2,523.5l6.2-.5 1.9-7.3-2.7-2.6-5.4,.2M569.6,514.1l-7.3,1.6M564.2,529l-3.8-6M553.5,535.5l-5.8-7.2M550.7,510.6l-1.7-5.3 1.9-3.3 8.8,2.3-.1,8.8M571.5,506.8l-1.5-2.4-7.9-1.8-2.4,1.7M550.9,502l-1.7-6.2 3.1-3.4 9.8,1.1 0,9.1M549,505.3l-7.3,2.2M542.8,514.9l-1.1-.1M542.8,523.2l-1.1-1M517.7,519.4l-.3-.1M498.4,455.3l9.5-2.9 2.7,7M515.2,472.8l7.1,8.5-2.2,4.7-6.3,2-3.6-3.2 3-11.5M490.1,496.6l7.7-6.5 3,.6 3.4,5.8-4.5,7.1-9.6-7-2.1,.1-3.3,3.2M499.8,504.1l-.1-.5M514.6,502.5l.3-3.2-2.2-3-8.5,.2M512.7,496.3l1.1-8.3M510.2,484.8l-3.8-.1-5.6,6M528.3,365.4l-6.9,4.3-5.8-4.7-.4-2.4 7.1-6.1 5.4,3.5 .6,5.4 4,3.1-.4,5.6M526.7,376.5l-5-2.4-.3-4.4M518.4,376.9l3.3-2.8M503.7,362.3l-1.1,5.4 7,4.4 6-7.1M509.9,359.4l5.3,3.2M502.8,383.4l1-2.4 4.2-1.7M510.2,375.8l-.6-3.7M542.6,303.8l6.2,1.6-.9,6.2M542.6,316.2l-1.1,.4-3.1-2.2M553,298l.8,3.9-.6,1.2-4.4,2.3M553.2,303.1l5.4,8.3-5.3,5.6-1.3-.6M518,319.5l3.7,2.8 1.6-.3M541.9,322l-.4-5.4M532.3,368.5l8.8-3-1.4-6.7-4.7-2.6-7.3,3.8M553.3,317l1.2,5.4 10.5-.8 .7-9.3-7.1-.9M554.5,322.4l-2.5,4.4M587.1,341.3l.4,6.8-1.2,1.4-5.4,1.3-4-1.7-2.6-4.7 1.2-4.6 3.9-2.2 7.7,3.7 4.9-5-3-8.6 2.8-3.1M575.5,339.8l-6.9-5-5.6,6.4 2.8,4.8 8.5-1.6M601.4,334.4l-4.5,2.9 2.5,8.3 6.3,.6 2.1-2.5 .1-5-6.5-4.3 1.5-6.7M592,336.3l4.9,1M612.2,335.5l-4.3,3.2M599.4,345.6l-3.6,3.3-8.3-.8M616.8,345l-9-1.3M546.8,456.9l-2.2,5.3 3.2,5.9 7.8,1.8 3.9-4.2M577.4,456.6l8.7,1.3 3.4-2.8-4.7-10-7.3,1.7-.1,9.8-2.6,2.1M585.8,467.6l.3-9.7M573.4,444.5l4.1,2.3M580.4,433.2l3.7,1.4M586.5,442.4l-1.7,2.7M592.7,455.3l-3.2-.2M571,402.4l6.3,0 2-6.9-6.1-3.3M646.2,397.6l-5.2,4.6-.6,2.4M639,391l-3.5,2.7 5.5,8.5M634,418.5l-.9-.4-2.2-8.3 3.5-4 5-.4M623,424.6l-.1-3.9 10.2-2.6M638.5,384l-4.4-2.5-4.6,3.2 1.1,9.1 4.9-.1M639.7,373l-5.5,1.2-.1,7.3M642.9,366.5l-3.2-4.2-3.6-.6-4.2,3.1-.6,7 2.9,2.4M629.5,384.7l-6-2-.8-3.7 4.4-6.3 4.2-.9M559.1,385.5l0-1.6 .3-.3M571.9,388.4l1.2-3.4-5.5-6.1 6-7.6 2.6,.3 3.6,3.5-2.6,8.3-4.1,1.6M551.5,377.7l-7.9-5.3-5.8,6.8 7.1,6.9 6.6-8.4 .2,0 4.5,3.7M545.2,388.9l-.3-2.8M559.1,383.9l-.3-.3M541.1,365.5l2,1.7 .5,5.2M551.7,377.7l4.6-6.9-4.8-6M543.1,367.2l7.7-2.4M546.7,354.3l-.9-.5-.6,.5M544.7,354.7l-5,4.1M562.5,374.2l-1.7-3.6-4.5,.2M495.4,450.3l2.6-5.5 7.5,.5 3.2,4.8-.8,2.3M489.8,439.4l6.9,2.1 1.3,3.3M512.6,425.4l-1.7-1.1-11,5.1-.2,1.4 1.3,3 7.6,3.4 1.9-.5 2.1-11.3 5.1-.3M508.9,419.3l2,5M522,431.6l-1.5,4.7-6,2.1-4-1.7M497.4,424l2.5,5.4M508.7,450.1l7.1-2.2-1.3-9.5M505.5,445.3l3.1-8.1M496.7,441.5l4.3-7.7M488.5,433.3l11.2-2.5M1014.5,684.1l1.8-.6M979.4,492.8l0,5.6 6.1,1.4 3.5-3.1-.6-4.1-3.1-1.9-5.9,2.1-3.5-3.1-5.3,.4-1.1,3.2 2.8,6.1M976.6,500.7l2.8-2.3M986.2,505.6l-.7-5.8M1003.8,501l.3,1.3-6.4,2.7-2.8-1.4-.8-4.7 .2-.2M995.2,487.5l-6.8,5.1M989,496.7l5.1,2.2M990.1,507.2l4.8-3.6M998.5,508.1l-.8-3.1M1004.3,502.4l-.2-.1M1020.3,479.5l-3.3-2.5-2.6,1.2M1027,478.6l.3-5.9 2,0M924.4,575.9l-.3-1.7 3-3.7 3.4,0 1.6,3.1-.8,2.2-5.1,1.3-1.8-1.2-4.3,3.1M917.1,573l3.1-1.5 3.9,2.7M926.9,582l-.7-4.9M933.2,579.6l-1.9-3.8M938.5,574.2l-.8-1.2-5.6,.6M915.1,558.4l2.6-.7M913.9,566.3l6-.6-.9-8M920.2,571.5l.9-4.9-1.2-.9M927.1,570.5l-3-4.4-3,.5M907.8,551.4l.8-1.7 8.3-2 1.3,1.7M953,516l-.2,1.9-6.7,5.6-6-6.5 0-3.7 2.6-1.7 10.3,4.4 1.3-1.8 4.8-1.4M929.1,520.9l.4,.9 3.1,1.7 7.5-6.5M934.4,510.5l5.7,2.8M941.6,499.9l3.6,5.6-2.5,6.1M959.8,525.5l-7-7.6M965.6,515.5l-4.9-3M945.2,505.5l6.4-.1 2.7,8.8M959.1,493l3.5,3.4-.5,6.6-.6,.4-7.4-.7-2-6.9 2-2.2M946,495.5l6.1,.3M951.6,505.4l2.5-2.7M969.5,493.3l-6.9,3.1M966.9,504.1l-4.8-1.1M967.1,484.9l3.5,5.2M952.3,481.8l3.9-2.7M961.4,504.2l.1-.8M1035.4,370.5l.2-3-.8-1.2-5.4-.9-1.9,1.7 2.1,5.5 3,.4M1030.7,327.5l-.5,5.2-2.6,.2M1037.5,332l-6.5,1.4-.8-.7M1031,333.4l.9,5.1 2.4,1.1 4.5-2.9 .3-3.3M1040.9,389.4l5.7,.2 .7,6.2-3.5,1-4.2-2.9-.2-1.3M1043.8,396.8l-1.6,4.5-6.4,.2-.2-3.3 4-4.3M1035.8,401.5l-.6,.9M1044.7,405.5l.2-.5-2.7-3.7M1046.3,440.8l3.2,3.2-1.3,5.2-3.6,2.4-3.5-2.3M994.8,393.8l1.8-2-3.3-6.2-2.2-.4-3.4,2.3M997.2,401.2l-2-.9-.3-1.4M1000,400.7l.4-.6M999.2,391.5l-2.6,.3M982.5,380.3l4.4-2.4 2.9,.4 1.3,6.9M1008.5,399.6l.8,1.6 3.4,.8 1-2.7M1012.3,408.1l1.5-4.7-1.1-1.4M1004.9,404.6l4.4-3.4M1009.3,384.4l.9-.7 1.4,.7M1022.6,405.5l-3.3,0-1.9-1.9 3.1-4.8 5,2-2.9,4.7 2.7,3.3M1018.3,412.1l1-6.6M1029.4,402.4l-2.4-2-1.5,.4M1013.8,403.4l3.6,.2M1017.9,395.8l1.5-.3 1.1,3.3M972.9,379.3l-5.8-3.7 3.6-5.6 1.5,.1 3.6,4.9M991.2,350.9l3.6,1.9-1.7,5.4-.7,.5-5.7-3.8 .3-1.2M972.2,370.1l4.1-3.4 4.5,5-1.8,2.5M986.9,377.9l-3-7.2-3.1,1M976.2,404.9l-4.1-.1 .3-6.2 3.1-.6 .7,.8M953.9,410.1l4.3,2.8 4.7-4.5-3.8-4-2.3,.3M959,392.4l4.7,0 2.4,6-1,1.3-3.3,.4-4.2-3.9 1.4-3.8-1.8-3.2-2.3-.4-4.6,4 .7,2.4M955.5,397.1l2.1-.9M959.1,404.4l2.7-4.3M975.9,489.7l3.5-6.6-3-4.2-6.9,.6M985.3,490.7l-.7-7-5.2-.6M991.8,481.5l-3.9-.3-3.3,2.5M996.4,475.6l-.8-3 2.6-4.5 7.2-1.1 2.1,1.1 .1,5.3M1007.5,468.1l5.3-2.5 6.3,6.6-2.1,4.8M1027.3,472.7l-2.8-2.6-5.4,2.1M1031.6,450.1l-3.1-.1-4.9-4.4-.1-2.1M1067.2,409.9l1.2-1M1066.1,409.6l-2.5-4.1 .9-1.8M1033.4,465.4l-2.4-3.5 3.8-3.8 4.1,.9 .5,1.2M1044.6,451.6l-.1,4.2-5.6,3.2M1033.6,451.8l1.2,6.3M1044.5,455.8l.1,0M1048.2,449.2l5.9,3.2M1017.8,297.9l.9-5.7-5.6-3.7M1020.9,269.6l-.4,9.3-6,2.5M1066.2,276.4l-6.7-.2-1.2-7.2M1059.8,288.3l-3.8-8.9 3.5-3.2M1046.4,264.8l4.1,2.1 3.3-1.2M1059.5,367.1l-1.1-1.9 .4-4 4.3-2.6M1067.6,334.3l-1.2,4.1 1.2,2M1051.8,330.9l1.1-7.7 6.8,.5 2.1,2.9-.3,3.8-2.7,2.4-5.5-.4-1.5-1.5-6.3,.8M1051.4,321.4l1.5,1.8M1045.4,331.7l.6,8.1 5.9-.1 1.4-7.3M1051.9,339.7l.7,.6 6.5,.7 1.1-1.7-1.4-6.5M1061.9,318.6l-2.2,5.1M1067.4,325.1l-5.6,1.5M1067.6,333.9l-6.1-3.5M1060.2,339.3l6.2-.9M1050.3,363.8l.5,1.9-.3,1.3-6.2,2.7-2.3-3.6 .6-3.2 4.5-1.4 3.2,2.3 4.4-5 4.1,2.4M1058.4,365.2l-7.6,.5M1053,371.9l-2.5-4.9M1052.2,373.3l-5.8,1.8-2.7-2.6 .6-2.8M1035.6,367.5l6.4-1.4M1043.7,372.5l-2.9,1M1054.7,358.8l-.9-2.6-3.1-1.5-3,1.5-.6,5.3M1046,339.8l-.7,.7 2.2,7.3 2.8,.8 1.7-1.1 .6-7.2M1038.8,336.7l4.1,4.1-2.4,2.6-4.8-.3-1.4-3.5M1042.9,340.8l2.4-.3M1034.8,366.3l1-5 5.5,.1 1.3,1.5M1029.4,365.4l0-5.1 5.2-.6 1.2,1.6M1000.2,330.1l-.8,2.3-4.8,2.6-3.5-5.4M988.3,338.9l5.5-1.2 .8-2.7M973.3,345.3l.9,1.9-2.5,5.8-5.7-2.8 2.6-5.1 4.7,.2 1.8-3.5M980.8,348.8l-1,.7-5.6-2.3M965.5,340.8l3.1,4.3M966,350.2l-1.8,.6-3.5-5.8M979.7,356.2l-1.2-1.3-5.9,.3-1.7,3.1 .9,3 4.8,2.5 1.4-.8 1.7-6.8 4.6,.6 2.4-1.9M979.8,349.5l-1.3,5.4M971.7,353l.9,2.2M970.7,370l-3.2-3.8 4.3-4.9M976.3,366.7l.3-2.9M964.2,350.8l-1.2,1.6 2.2,5.4 5.7,.5M1046,384.2l1.1,.8 3.7-3.2 0-1.1-4.3-3.2-2.9,3.4M1047.1,385l.5,3.4 5.8,.6 1.4-3.8-4-3.4M1047.6,388.4l-1,1.2M1046.4,375.1l.1,2.4M1053.7,377.8l-2.9,2.9M1054.8,385.2l.8-.4M795.3,308.8l2.8-4 3.6,2.1-.1,4.8M791.6,302.3l6,.8 .5,1.7M801.7,306.9l4.8-2.3 2.7,5.5-.4,.5M787.8,293.5l4-4.7-3.4-4.7-6.9,1.2M788.4,284.1l1.9-3.2-.8-3.2-4.6-2M850.6,259.5l-9.7,.2-3-9 3.4-2.7 8.6,2 1.6,8.4-.9,1.1 .9,7.4 4.4,3-1.7,6.4 2,3.5-1,2.6-6.1,.9-2-3 2.3-3.9 4.8-.1M841.3,248l1.1-7.9 5.3-2.3 6.9,6.7-4.7,5.5M854.6,244.5l.5,0 6.2-7.2-3.2-7.8-4.6-.8-3.7,2.5-2.1,6.6M829.7,245.2l-5.6,.2-5.1-5.9 4.8-6.5 9,2.7-3.1,9.5 3.6,4.7-6.8,9.2-6.3-2.8-1.3-3.5 5.2-7.4M842.4,240.1l-8-5.3-1.6,.9M833.3,249.9l4.6,.8M801,245.3l6.4,5.6 4-1.8 2.1-9.4-3.5-3.5-6.6,1.1-2.4,8-4.8,1.2M797.2,257.7l7.8-.2 2.4-6.6M791.3,234.7l7-1.4 5.1,4M820.2,256.3l-7.1,7.1M807.8,262.1l-2.8-4.6M818.9,252.8l-7.5-3.7M819,239.5l-5.5,.2M810,236.2l2-8.1 9.9,.3 1.9,4.6M791.7,270.1l.8,5 4.6,.9 1-.7 1.4-6.1-3.6-2.3-4.2,3.2-5.1-1M789.5,277.7l3-2.6M794.8,262.4l1.1,4.5M803.7,268.4l-4.2,.8M806.6,276.5l-2.5,1.7-6-2.9M790.3,280.9l6,1.2 .8-6.1M798.3,233.3l2.9-9.6 8.8,.9 2,3.5M790.9,219l6.5-.3 4.7-7.9-1.1-4.6M797.4,218.7l3.8,5M815.7,318.1l.7-1.5-1.3-6.9-5.9,.4M814.9,302.3l1.2,6.2 3.9-.2 4-4.3-.7-1.7-5.5-2.5-2.9,2.5-5.4-1.7-2.3,1.5-.7,2.5M863.8,311.5l-1.9-2.5 2.8-7.7 1.2-.1M868.5,312.2l1.9-7.4M850.6,291l-2.6,5.8-5.9-1.4-.3-2 6.5-4.3 2.3,1.9 2.8,.1 3.8-3.4-2-5.3M826.5,259.1l1.2,2.5 11.4,.7 1.8-2.6M827.1,264.3l.6-2.7M848.3,289.1l-.7-1.9 1.5-3.9M820.1,275.4l2,5.4-3,2.8-4.9-2M823.3,302.3l2.7-5.5 5.8,2.4-.3,2.7-6.1,2.6-1.4-.5M831.5,301.9l1.9,3.1 5.4,1.2 .4-.2 1.9-3.6-1-3.3-6.6-1.5-1.7,1.6M875,172.5l-1.1-1.8 .1-1.4M776.4,166.4l7-9 5.6,1.4 3.7,6.9-8.1,8.4M770.5,154.3l10.5-.4 2.4,3.5M777.3,143.4l4.2,3.9-.5,6.6M788.3,135.4l3.4,7.3-10.2,4.6M792.2,127.5l2.8-.9 1.1-5.6M670,172.4l-4.9-7M660.3,178.4l-3.5-5.8M672,159.1l-6.9,5.1M659,151.7l-.8,6.7M646.4,159.7l2.5,2.9M635.4,171.4l13.2-4.2M668.1,294.6l-2.7-4.9-8.2-.7-.4,.4 2.8,8.4 7.1,1.2 1.1-.6 .3-3.8 8.7-5.9-1.6-3M668,284.6l-2.6,5.1M671.7,310.3l1.7-6-2.2-4.2-3.4-1.7M663.3,307.1l3.4-8.1M655.9,301l3.7-3.2M653.6,289.9l3.2-.5M658.8,280.5l-1.6,8.5M449.6,296l4.4,2.9 .8,6.1-5.8,4.8-5.9-6.1 .9-4.5 5.6-3.2 .7-7.7M456.6,297.9l-2.6,1M430.8,288.6l13.2,10.6M461.4,307.4l-3-1.1M456.6,305.7l-1.8-.7M434.1,308.1l9-4.4M449,312.4l0-2.6M594,299.5l-4.1,1.7-3.4,11 3.7,2.1M583.8,290.2l-1.8,7.8 7.9,3.2M568.3,308l9.5-3.2 1.2-5.2-7.2-4.8-5.6,3.5-.9,2.1 3,7.6-1,3 11.3,6.6 5.1-5.2-5.9-7.6M553.8,301.9l11.5-1.5M565.7,312.3l1.6-1.3M559.5,289.2l6.7,9.1M572.5,288.8l-.7,6M582,298l-3,1.6M586.5,312.2l-2.8,.2M617.9,295.9l5.4,2.8-.1,5.1-3.3,1.7-5.7-3.3 3.7-6.3-.4-1.9M629.3,295.5l-6,3.2M613.7,302.4l.5-.2M619.1,313.3l.8-7.8M627.8,306.2l-4.6-2.4M954.9,388.8l-2.9-4-5.1,1.7 .8,4.9 2.6,1.4M914.9,354.6l3.5,8.3-6.8,1.5-2.4-2.2M923.7,353.6l-1.2,10.3-1.3,.3-2.8-1.3M907,372.7l4.2-1.5 .4-6.8M951.7,410.5l-3,3.4 5,7.4 1.7,.2M958.2,412.9l.8,3M768.8,302.1l-.8,2.4 2.9,7.1 2.9,.9M783.9,347.4l-4.9,.5-2.6-3M763.3,344.6l-2.6,2.2 5.7,7.3 3.9-2.3 .2-6.2M765.7,369.3l.7,3.2-6.6,4.6-3.2-2.7 1-5.3 8.1,.2 .8-1.8 6.9-1.2-.1-5.4-5.7-1.4-2.4,4.4 1.3,3.6M751.5,375.7l5.1-1.3M749.9,364.6l6.2,.9 1.5,3.6M761,381.3l-1.2-4.2M814.3,407.8l3.2-3.5-3.6-5.1-1.2-.2-4.8,3.2-.1,1.1M801.2,396.3l-1.2-1.4 .3-.9M799,402l3-3.1M807.9,402.2l-1.5-1.7M797.6,395.1l2.4-.2M812.7,399l-.3-.9M821.4,370.5l-.8,4.1-6,.9-1.8-2.5 1.8-5.4M699.5,394.8l2.5-6-7.4-3.6-3.4,5.1M710.5,395.5l-6.2-7.9-2.3,1.2M708.2,385.4l-3.7,1.8-.2,.4M705.8,376l-4.5,2.5 3.2,8.7M701.3,378.5l-3.8-.9 .5-8 2.1-1.1M687.9,372.5l-2.1,.3-1.8,9.5 .3,.5 9.4-1.4 .9-2.2-6.7-6.7 4.4-5.2 5.7,2.3M697.5,377.6l-2.9,1.6M694.6,385.2l-.9-3.8M683.9,387.6l.4-4.8M679.2,353.4l3.8,7.7-2.1,2.2-6.1,.4-2.7-8M666.5,365.2l6.1,.8 2.2-2.3M691.5,363.7l-6.4-3 3.9-7.9 4.6,1.4 1.4,5.8-3.5,3.7 .8,3.6M683,361.1l2.1-.4M685.8,372.8l-2.4-1.1-2.5-8.4M701.7,360.6l-6.7-.6M698.4,350.9l-4.8,3.3M687.6,350.1l1.4,2.7M723.6,383.5l2.1,2.7M731.2,377.4l1.5,5M719.1,392.4l6.7-3.1M736.9,394.2l-3.2-4M741.5,383.2l-6,1.1M724.5,355.4l-1.9,5.6 7.3,2.8 3.6-5.1-1.7-3.2-4.5-.7M721.6,361.5l1-.5M731.3,367.7l-1.4-3.9M733.6,348.5l.9,1.1-2.7,5.9M740.5,362.2l-1.5-2.9-5.5-.6M776.5,381l-3.4-3.7 5.6-3.8 2.3,.8M769.7,378.8l1.3-1.9 2.1,.4M766.4,372.5l3.9,2.7 .7,1.7M786.1,360.2l-4.3,2.6-.2,2.8 3.6,3.4M778.7,373.5l-2.4-5.3 5.3-2.6M770.3,375.2l4.4-7.4 1.6,.4M808.4,381.6l.4,3.8 2.6,1.4 5.4-1.8 .7-2.2-3.4-3.8-5.7,2.6-1.9-1.6M814.6,375.5l-.5,3.5M817.5,382.8l3.5-1.2 1.7-4.5-2.1-2.5M812.3,391.8l.3-.3-1.2-4.7M808.4,385.8l.4-.4M836.3,515.8l.7-6.9-6.4-2.5-4.4,6.2 3.5,4 6.6-.8 2.6,2.5M839.7,507.1l-2.7,1.8M827.6,524.1l2.1-7.5M835.7,497.5l-4.9,1.2M829.3,502.3l1.3,4.1M822.8,512.5l3.4,.1M845.9,374.9l-1.7,.6-5.2-5.1 4.2-4.5 4.2,1 0,.1M829.3,370.5l4.9,.4 .4,6-4.3,3.8-.3,.1-3.6-4 2.9-6.3-2.1-1.9M822.7,377.1l3.7-.3M821,381.6l4.8,4.1 4.2-4.9M842.3,379.1l2,3.9-2.4,4.1-6-.2-.2-.9 3.7-6.4 2.9-.5 1.9-3.6M848.4,384.1l-4.1-1.1M839,370.4l-3.9-.2-.9,.7M834.6,376.9l4.8,2.7M830.3,380.7l5.4,5.3M841.9,387.1l2.2,4.1 2.6,.3M825.8,385.7l0,.5 6.5,3.3 3.1-1.7 .5-.9M868.1,385.9l1.7,2-2.4,5.3M861.6,388.5l0,1.9M855.2,392.3l4.6,.1M881.6,395l-2-1.8-2.8,.8M876,394.2l-.7,.2-1.3,1.9 1.2,5.5 2.9,1.5 2.7-.4M869.8,387.9l3.5,.2 2,6.3M868,395.1l6,1.2M885,410.9l-4.7,3.6-3.9-1.2 1.7-10M830.9,468.2l-1.5,3.8-4.4,1.5-5.1-5M816.4,479.6l7.4-2 1.2-4.1M839.9,472.4l-4.8,4.4-5.7-4.8M846,489l-5.3-4.3 0-2.5 5.4-4.3M837.3,493.9l-1.9-5.6 5.3-3.6M835.1,476.8l0,.9 5.6,4.5M879.4,473.8l-4.1-1.4M881.9,465.2l-.4-1.2M873.7,461.5l1.3,1.9M863.7,466.4l2.8,2.9M863.2,463l.8-.9M871.4,478.8l-.3-3.5M864.3,475.2l2.5-2.2M823.8,447.2l4.4-1.8 4.1,2.8-.1,3.3-3.6,3.2M869.1,446.8l-5.2-1.9M873.7,442.9l-.8-3.9-5.8-2-2.7,1.4M864.6,455.1l-5.8-3.4 2.5-5.9M845.8,464.1l.2-.9 8.9-2.5 .6,.7M887.2,469l4.7-1.6-.4-4.4-6.6-3.2M817.3,434l5.3-3.8 3.7,3.4-.5,4.8-4,1.6M828.2,445.4l.4-4.7-2.8-2.3M827.1,423.2l-4.5,4.1-5-2.9-.5-3.7 3.3-3 4.1,.4 2.6,5.1 2.9,.3 2.6,8-.5,.7 1.8,7 .4,.3 4.7-1.2 1.5-6.5-1-1.4-6.9,1.1M813.2,427.1l4.4-2.7M822.6,430.2l0-2.9M811.9,418.3l5.2,2.4M816.9,412.4l1.1,.4 2.4,4.9M889.8,412.8l1.5,2.9 6.2-.6 1.5-3.2-2.2-5.2M891.3,415.7l-1.1,2.5-7.2,1.9-2.7-5.6M904.1,403l-6.3,2.9M899.5,396.5l-1.9,1.3M907.4,411l-8.4,.9M908.5,412.9l-.7,3.9-6.9,3.8-3.4-5.5M881.5,509l-3.2-3.2 2.1-4.2 4.3,1.9 .7,3.2-3.9,2.3-.6,2.1-3.8,1.4-2.8-2.4M874.7,506.3l3.6-.5M880,500.8l.4,.8M887.6,499.9l-2.9,3.6M889.5,513.1l7.5,.5 .7-7.9-4.3-1.9-5.4,4.2 1.5,5.1-1.2,1.2-4.2,.6-3.2-3.8M885.4,506.7l2.6,1.3M891.3,499.7l2.1,4.1M901.8,502.9l-4.1,2.8M920.4,515.7l-1.6,.9-6.5-2.6M899.9,515l-1.1,.5-.3-.1-1.5-1.8M929.5,521.8l-6.8,4.9-5.4-2.8 1.5-7.3M932.6,523.5l1.5,3.1-6.6,7.8-4.1-1.8-.7-5.9M862.3,536.9l1.3-4.1 7.2,2.7-.4,2.7M860.3,530.6l3.2,2.1 .1,.1M877.6,536.1l-5.9-1.5-.9,.9M908.6,520.9l-.2,.4-.3,.1M898.8,515.5l.3,.3M917.3,523.9l-3.4,1.6-5.5-4.2M923.4,532.6l-6.2,3.7-4.5-6.8 1.2-4M893.5,525.4l-.7-1.5-3.5-1.3-2.8,.7-2.3,4.7 2.2,4.4 3.5,.2 4.1-4.9M898.5,515.4l-5.7,8.5M888.3,514.3l1,8.3M890.9,534.4l-1-1.8M884.5,534.3l1.9-1.9M865.4,507.9l-.5-4.5-2.6-1.6-4.4,3.8 1.1,3 6.4-.7 1.5,1.4M868.7,501.6l-3.8,1.8M858.6,509.6l.4-1M856.1,504.6l1.8,1M861.7,498.6l.6,3.2M877.1,512.5l-.8,4.2 5.2,2.1 2.6-3.9M869.4,512.3l.8,2.5 5.1,2.4 1-.5M886.5,523.3l-4.6-2.9-.4-1.6M861.2,525.5l4.2-1.3 2.4,2.9-4.3,5.6M864.6,519.1l1.5,1.2-.7,3.9M870.2,514.8l-2.4,4.9-1.7,.6M875.3,517.2l-1.8,4.8-5.7-2.3M875.4,314.5l3.3-5.4-.4-1.8M891.5,292.4l1.7,1.7 .8,7.1-6.5,1.8-2.6-1.8M893.2,294.1l8.3,0 1.9-3-.2-1.7M857.2,287.7l5.8,1.2 1.3-.6-1.6-9.7-6.5,1.2M869.8,291.7l-3.9-3.2 5.6-6.4 4.5,1.6M855.9,269.9l5.5-.8 3.2,7.2-1.9,2.3M871.5,282.1l-2.1-5.3-4.8-.5M864.3,288.3l1.6,.2M887.5,244.7l-10.1,7.8 2.9,4.1 .6,0M851.5,258.4l8.3-.9 2.6-6.6-7.3-6.4M861.4,269.1l3.6-5.4-5.2-6.2M914.7,287.3l-1,4.1-3.6,2.4-6.7-2.7M922.3,288.7l.2,5.5-3.1,2.9-5.7-5.7M910.1,293.8l0,6 8.9-.8 .4-1.9M920.6,327.9l-5.8,.9 .1,7.5 8.6-1.7-2.9-6.7 1-1.8 6-1.8 .3-4.9-8.2-2.6-2.1,1.4 4,7.9M925.2,335.6l-1.7-1M915.7,343.1l-1.2-6.3 .4-.5M930.8,327.6l-3.2-3.3M936.3,324.9l0-6.2-6.5-1.3-1.9,2M924.5,278.8l2.6-5.3 6.1-1 .5,8.2-6.1,1.4M941.8,263.6l-5.7-2-.2-5.5 4.7-2.8M943.4,267.4l-3.4,4-6.1,.3-2.3-6.7 .5-1.3 4-2.1M912.5,259.3l5.6-1.1 3.9,3.3 .6,5.4-.2,.4-1,.5-8-1.1-1.5-6 .6-1.4-.2-.5M908.9,261.7l3-1M911.2,270.2l2.2-3.5M917.4,276.4l4-8.6M931.6,265l-9,1.9M922,261.5l5.8-3.7 4.3,5.9M927.1,273.5l-4.7-6.2M933.9,271.7l-.7,.8M888.6,233.1l-6.1-3.6-1.2-5.9 3.4-4.6M881.3,223.6l-8.3-.4-2.7-7.5 3.3-3.7 10.7,3.6M870.3,215.7l-7.6,.1-1.5,11.2 9.2,.4 2.6-4.2M865.6,238.6l7.4-4.4 2.1,.8 2.3,4.4-5.5,10-2.7-.9-3.6-9.9-4.3-1.3M858.1,229.5l3.1-2.5M870.4,227.4l2.6,6.8M862.4,250.9l6.8-2.4M871.9,249.4l1.9,2.2-5.4,11.8-3.4,.3M886.2,241.9l-8.8-2.5M877.4,252.5l-3.6-.9M882.5,229.5l-7.4,5.5M881.2,189.7l-6.1,2.5-.1,10.8 11.5,.7M873.6,212l-.2-7.5 1.6-1.5M905.1,353.4l-2.8-5 4.2-4.6 4.2,1.8M896.6,353.4l2.6-5.4-2-2.1-7.7,3.8M902.3,348.4l-3.1-.4M955.4,346.7l-4.8,3.2 1.3,3.7 5.1,1.8 1.9-2.2-3.5-6.5 .7-2.1M948.9,349.4l1.7,.5M963,352.4l-4.1,.8M951.9,353.6l-3.6,4.8-2.2-.9M980.7,313.6l-4.2-2.9-7.5,6.5 2.2,4.4M964.8,276.7l2.1,5.8-6.7,6-2.2-.4-2-2.4 1-7.7M976.5,279l-5.9,5.1 1.6,3.9 6.9,1.7M970.6,284.1l-3.7-1.6M966.5,327.4l-5.5-5-3,2.7-.2,4.2M874.8,331.7l2.7,1.3 5-2.9-1-4.5-6.6-1.1M870.7,333.3l-1.3,4.8 4,3.1 5.1-3.6-1-4.6M883,345.4l-.9-6.3-3.6-1.5M878.7,346.7l-4.7-2-.6-3.5M887.8,391.9l-1.1-2.8 1-2.3 5.7-1.3 2.8,4.8-3.2,1.9M894.4,382.1l-1,3.4M899.1,391.2l-2.9-.9M890.6,378.9l-5.3,2.9 2.4,5M879.6,393.2l1.4-4.1 5.7,0M923.8,386.4l3,1.4 .8,1.9-3,5.9-8.7-1.9 .7-4.4M913.3,395.7l2.6-2M925.3,398.4l-.7-2.8M910.4,383.1l.9,0 1.2,1.2M876.1,385.6l3.3,.9 4.4-5.3-2.3-3.5-6.8,2.4 1.4,5.5-2.4,2.2M873.3,388.1l0-.1M881,389.1l-1.6-2.6M873.5,379.4l1.2,.7M885.3,381.8l-1.5-.6M881.9,375.1l-.4,2.6M647.7,490.4l7.2-5.1-6.8-7.2-.2,0-4.3,5.7 4.1,6.6-.6,2.9 9.3,3.9 0,6-8.3,2.9-5-9.7 4-3.1M636.7,484l6.9-.2M641.1,473l6.8,5.1M651.4,468l1.4,5.3-4.7,4.8M668.1,481.2l1.9-1.5-3-10.4-2.9-1.3-5.5,6.9 2.5,5.8 7,.5 1.1,7.9 6.3,2.2 3.9-2.3M674.6,479l-4.6,.7M661.1,480.7l-3.7,4.8 3,7.4 4,.5 4.8-4.3M673,467.7l-6,1.6M652.8,473.3l5.8,1.6M657.4,485.5l-2.5-.2M662.5,464.4l1.6,3.6M627.3,488.8l1.3,9.6-3.4,4.3-.5,.1M630,517.1l4.5-6.8-9.3-7.6M667.4,510.8l-4.1-5.2-4.4-.3-1.9,10.1 2.3,2.6 2,.3M702.8,527.6l-2.3,.4-.5-2.2M698.8,532.8l-.4-1.9 2.1-2.9M658.2,547.5l-1.9-1.3M676.3,546.9l-1.6-8.3-8.8,.5-.5,1.9M687.6,538.7l-1.8-2.5-9.6,.2-1.5,2.2M875.3,564.5l-1.2,2 .5,2.1 3.3,1.9 3.1-1.4M877.8,576.1l.1-5.6M871.2,575.1l-.1-2.7 3.5-3.8M885.6,572.1l-.8-.7M858.7,580.8l4.8-2.2 .9-2.4-2.1-4.3-3.9,.2-2.9,5.5 .4,1 2.8,2.2 .1,1.5M867.7,584.4l-4.2-5.8M850.1,583.7l5.8-5.1M850.1,575.1l5.4,2.5M856.1,569.7l2.3,2.4M870.3,575.9l-5.9,.3M857.1,558.1l1.2,.2 3.6-4.2-.4-.7M945.3,574.4l-2.2-6.5 2.8-2.2 4.3,3.7M937.7,573l.9-5.3 4.5,.2M938.6,567.7l-.6-.7-5.7-.1-1.8,3.6M963.7,541.5l-6.4,6.5-3.9-1.2-1-7.4 4.7-2.4 6.6,4.5 1.1-.1M959,528.3l-1,.9-.9,7.8M916.9,547.7l1.4-5.1 3.5,0M927.5,534.4l2.6,4.5M918.3,542.6l-1.7-4.2 .6-2.1M959.8,565.4l-.5-.8-4.6,.2-2.3,4.4M76.9,415.8l-3.2,2.6-9.7-2.9-.1-1.5M56.5,421.1l7.5-5.6M75.8,430.1l-2.1-11.7M628.3,345.2l.9,1.3 .1,7.2-4.5,3.5-6.8-5.6 .7-3.2M636.1,361.7l-1.6-6.1-5.2-1.9M624.8,357.2l-.1,3.3 7.2,4.3M644.1,330.3l-1.3-3.2-8.2,4.9 .9,5.3 4.1,2.4M643.5,325.2l-.7,1.9M630.6,329.1l4,2.9M628.6,342.1l6.9-4.8M641.4,344l6.7,2.9-1,8.6-2.1,.3-6.3-4.3-.2-3.4 2.9-4.1-.4-2.2M651.1,345.6l-3,1.3M629.2,346.5l9.3,1.6M634.5,355.6l4.2-4.1M639.7,362.3l5.3-6.5M649,356.6l-1.9-1.1M673.4,304.3l8.8,.5 1.9,3.4-5.3,4.6M707.4,286.8l-2.5,4.6 7.5,6.3 2.8-2 1.1-7.2M716.4,332l-2-.6-1.4-3.6 3.1-7.3 2.6-.7M711.4,342.1l-1.9-7.2 4.9-3.5M703.2,336l2.2-1.6 4.1,.5M723.9,283.1l4.7,2.1 2.3-1.7 .4-5.6M741.8,281.6l-3.7,3.5-7.2-1.6M742.7,294.3l-4.9-3.1 .3-6.1M522.1,456.5l-2.2-6.7 6.7-7 1-.1 7.2,8.2-3.5,5.9-9.2-.3-3,4.2M515.8,447.9l4.1,1.9M520.5,436.3l6.1,6.5M539.8,449.2l-5,1.7M532.8,437.2l-5.2,5.5M544.6,462.2l-9.9,1.2-3.4-6.6M501.5,542l10.8-1 1.9-8-3.6-5.1M548.8,542.3l-7.1-1.9M547.2,528.3l-5.5,3.6M546.9,553.4l-9.1-3.2-.9-6.4 3.3-2.9M506.5,580.2l1.1-.3 4.6-10.2-4.8-4.3M514,590.7l1.6-5.1-8-5.7M525.3,586.3l-6-2.5-3.7,1.8M508.5,556.8l4.7-2.6 1.3-10.9-2.2-2.3M563.2,492.7l10.1,1.4 1-.6 1.3-6-10.9-6.4-1,.3-.5,11.3-1.1,.8M570,504.4l3.3-10.3M552.3,492.4l-.3-9.8 4.8-3.5 6.9,2.3M570.8,473.6l-6.1,7.5M555.6,469.9l1.2,9.2M581.6,482.1l-6,5.4M582.2,498.1l-7.9-4.6M542,475.2l.7,5.2-4.3,4-4.1-.3-5.7-5.1 1.2-8.2 2.9-1.8 9.3,6.2 5.8-7.1M552,482.6l-9.3-2.2M534.7,463.4l-2,5.6M549.2,495.8l-7.5-1.3-3.3-10.1M522.3,481.3l6.3-2.3M520.1,486l6,6.3M531.6,487.6l2.7-3.5M520,467.5l9.8,3.3M502.3,463.3l-.8,1.4M510.7,472.3l-3.4,.9M506.4,484.7l-5.6-6.4 .9-2.1M497.8,490.1l-4.7-8.8 7.7-3M491.3,461.5l1.4,7.3 2.1,.1M499.5,369.4l-1.7,6.3-4.9,1.5-7.3-6.9 5.7-5.1 8.2,4.2 3.1-1.7M503.8,381l-6-5.3M491.8,360.8l-.5,4.4M483.6,370.5l2-.2M490.5,384.5l2.4-7.3M522.3,356.5l-.5-3.6 6.3-5.1 5.9,2.3 1,6.1M511.9,348.7l4.1-.5 5.8,4.7M520.7,332.8l.6-.7 12.8-.4 1.1,5.1-7.9,5.4-7-3.4 0-.1M521.7,322.3l-.4,9.8M516,348.2l4.3-9.4M534.6,330.3l-.5,1.4M528.1,347.8l-.8-5.6M534,350.1l4.2-4-.5-7.1-2.5-2.2M545.8,353.8l-.1-4.4-7.5-3.3M550.5,330.3l-4.4,7.7 3.7,7.1 3.7,.1 4.9-5.1-2.7-7.6-3.7-2.3M563,341.2l-4.6-1.1M568.6,334.8l-.9-5.6-12,3.3M537.7,339l8.4-1M545.7,349.4l4.1-4.3M553.5,345.2l3.8,6.1 7.3-1.6 1.2-3.7M557.3,351.3l-1.1,3.3M568.2,326l.1,1.8 12.1,2.9 3.2-3.1-5.2-8.6-10.2,7-3.2-4.4M567.7,329.2l.6-1.4M578.6,317.6l-.2,1.4M579.4,337.6l1-6.9M589,327.7l-5.4-.1M611.6,431.2l-2-3.1-9.1-1.9-3.6,7.3M578,425.8l6.1-4.7 5,2.3 0,7.5M600.5,426.2l-1.7-3.6-3.7-2-6,2.8M609.6,428.1l2.1-8.8-6.5-2.6-6.4,5.9M634.4,405.8l-5.5-7.3 .2-3.3 1.5-1.4M595.8,348.9l2.8,8.1-.6,1.4-8.8,.3-2.9-9.2M605.7,346.2l2.1,7-9.2,3.8M618,351.6l-6.4,4.2-3.8-2.6M579.3,395.5l3.5-1.3 .5-7.5-6.1-3.3M589.2,358.7l-3,4.7-4.9-.5-2.5-2.7 2.1-9.4M1014.7,690.8l3.1,.2M930.1,557.9l1.4-.4 1.9,2.2-2.2,5.4-3.6-1.1M932.3,566.9l-1.1-1.8M924.1,566.1l1.8-2.1M938.1,565.6l-.1,1.4M933.8,559.7l-.4,0M935.2,550.3l-.6,0M932,554.6l-.5,2.9M1026.8,378.8l-3.2,1.8-2.5-1.2-.1-6.6 .4-.3 4.7,1.5M1021,372.8l-5.4,.4-2.8-4.6 3.6-3.3 5.4,4.4-.4,2.8M1015.6,373.2l-1.4,3.2 3.5,4.2 3.4-1.2M1027.5,367.1l-2.4-.2-3.3,2.8M1029.6,372.6l-1.7,1.4M1006.1,357.7l-.2,3.4 2,1.9 4.4-2.8-.5-4.7-3.6,.2M1016.4,365.3l.4-1.7M1014.2,376.4l-4.3,1.1-2.2-4.9 5.1-4-4.8-4.1-.1-1.5M1015.7,362.2l-3.4-2M1008,364.5l-4.5,4.1-3.9-4.7 .5-1.9 5.8-.9M994.8,352.8l2.3-.9 3.4,4.3-1.4,3.4-6-1.4M1000.1,362l-1-2.4M1000.5,356.2l1.3-.4M990.8,346.4l4.3-1.2 1.1-4.8-2.4-2.7M997.1,351.9l1.6-3.1-3.6-3.6M1004.9,352.5l-.1-1.9-4.1-2.4-2,.6M1009.7,322.9l.3,1.8M1001.7,329.3l2.6,1.2M1025.1,366.9l-1.7-3.3M1029.4,360.3l-1.7-1.4-3.9,1.7M1011.8,355.5l2.6-2.9 2,.9M1051.5,410.9l.5-5.9-1.5-2.1-5.6,2.1M1057.6,411.8l0-5.6-5.6-1.2M1063.6,405.5l-4.1-.9-1.9,1.6M1058.2,449.9l-1.6-7.3 .4-.7 5.6-1.2 .4,.5M1049.5,444l7.1-1.4M1065.2,436.7l-2.6,4M1054.4,434.2l2.6,7.7M1020.7,393.1l7.5,1.6 1.6-1.3 .1-.4-4-6.5-1.2-.4-4.3,2.6-.4,1 .7,3.4-1.3,2.4M1027,400.4l1.2-5.7M1016,389.7l4,0M1012,384.4l4.7-1.9 3.7,6.2M1017.7,380.6l-1,1.9M1023.6,380.6l1.1,5.5M1031.6,383.6l-5.7,2.9M1032.9,390.6l-3,2.4M1035.6,398.2l-5.8-4.8M976,419.3l-2.2-6.7 5.2-2.7 4.4,5.3-4.9,4.7-2.5-.6-3.8,2.2M986.4,406.3l.3,.1 .1-.1M977.7,406.3l1.6,2.3 4-2.3M995.2,400.3l-.3,.2M997.4,410.3l-2.6,.8-4.7-4.8M988.5,393.3l-.5,.5M1019.1,439.8l-3.8,.7-2.6,5.4 2.2,3.4 2.8,.7 5.9-4.4M1015.1,430.9l-3.8,5.1 4,4.5M948.3,358.4l1,1.7-1.3,4.6-5.3,1.3-1.6-5.6M957,355.4l0,2.2-2.8,3-4.9-.5M965.2,357.8l-2.5,3.4 3.7,4.9 1.1,.1M957,357.6l4.9,3.6 .8,0M1010.2,383.7l-1.5-3.9 1.2-2.3M992.8,365.7l-1.5-3.6-6.1,.1-1.5,2 1.3,5.2 4.3,0 3.5-3.7 2.5,.6 4.3-2.4M992.4,358.7l-1.1,3.4M984.3,356.8l.9,5.4M989.3,369.4l3.6,6.3-3.1,2.6M983.9,370.7l1.1-1.3M978,363l5.7,1.2M957.2,389.2l2.8-3.9 5.5-.3 .4,.3 .9,3.8-3.1,3.3M966.1,398.4l4-1.1 .6-6.2-3.9-2M980.7,393.8l.8-6.5-6.5,.4-1.4,2.4 3.1,3.7M975.5,398l.7-1.1M982.8,386.1l-1.3,1.2M972.4,398.6l-2.3-1.3M970.7,391.1l2.9-1M973.2,381l-.3,.7 2.1,6M965.9,385.3l7-3.6M971.4,405.5l1.4,6.6-5.4,1.6-2.9-5.3 2.6-3.1 4.3,.2 .7-.7M973.8,412.6l-1-.5M979.3,408.6l-.3,1.3M965.1,399.7l2,5.6M962.9,408.4l1.6,0M966,416.8l1.4-3.1M976.4,478.9l2.3-4.5 6.4,.6 2.8,6.2M995.6,472.6l-7.1-2.5-3.4,4.9M998.2,468.1l-3-6.4-4.8-.1-3,6.1 1.1,2.4M944.7,475.8l1.6-3.5 6-1.6 2.1,1.1 2.3,4.3M966.8,474.3l.8-3.3-6.2-5.3-7,6.1M966.6,453.2l3.4,3.7-1.6,4-7.1,1.2-2-2.6 .4-2.2 6.9-4.1 .2-4.2-4.8-2.4-5.6,3.4 3.3,7.3M959.3,459.5l-8.4,1.6 1.4,9.6M961.4,465.7l-.1-3.6M956.4,450l-1.5-.4-5.3,2.5 .4,8.4 .9,.6M1029.4,462.1l-5.2-6.5-3.5,.2-3.3,4.7 7.9,5.4 4.1-3.8 1.6-.2M1028.5,450l-4.3,5.6M1024.5,470.1l.8-4.2M1012.8,465.6l1.8-4.2 2.8-.9M1014.9,449.3l-4.9,6.6 4.6,5.5M1017.7,450l3,5.8M1027.1,301.8l2.8-4-6.2-7.1-5,1.5M1039.9,268.6l-1,6.2 9.7,1.1 1.9-9M1054.5,293l-7.6-2.9-.8-3.2 5-7.9 4.9,.4M1048.6,275.9l2.5,3.1M1065.8,349.1l-4.7,4.1-2.4-.9-1.8-4.1 3-4 5.6,2.4 .3,2.1M1059.1,341l.8,3.2M1066.5,345.5l-1,1.1M1052,347.5l4.9,.7M1050.3,348.6l.4,6.1M1053.8,356.2l4.9-3.9M1063.2,358.1l-2.1-4.9M1047.5,347.8l-3.3,1.4-3-1.3-.7-4.5M1047.7,356.2l-4.1-1.4 .6-5.6M1041.3,361.4l.2-5.7 2.1-.9M816.1,308.5l-1,1.2M814.8,335.7l.9,1.9 6.7,.1 1.8-5.6-.7-1.6-4.7-.5M811.6,342.9l2.8-1.3 1.3-4M824.2,332.1l6,2 .6,4.2-1.6,2-5.5-.6-1.3-2M826.9,348.1l-5-3.3-2.8,1-.7,2.3 3,5.4 2.4,.2 2.5-2.1 .6-3.5 3.7-2.6-1.4-5.2M823.7,339.7l-1.8,5.1M814.4,341.6l4.7,4.2M816.8,356.9l4.6-3.4M823.8,353.7l2.7,8.1-.2,.1M813.3,350.5l5.1-2.4M836,282.6l-8.3,0-.5-.7 1.5-6 5.7,0 1.6,1.8 0,4.9 .3,.4-3.4,8 .8,.9 6.3-.4 .9-5.8-1-1.5-3.6-1.2M827.7,274.3l1,1.6M834.4,275.9l.7-5.7-5.8-1.5M822.1,280.8l5.1,1.1M847.1,280.3l-3.1-.5-4.1,4.4M847.6,287.2l-6.7-1.5M841.8,293.4l-1.8-1.9M842.1,295.4l-2,3.7M833.5,297.6l.2-5.7M853.4,291.1l2.3,5.2 5.1,1.5 2.2-8.9M864.7,301.3l-2.8-1.6-1.1-1.9M830.2,334.1l4.2-4.3-.1-.9-2-1.9-7.1-.1-1.7,3.6M818.3,322.2l5.7,.6 1.2,4.1M833.1,313l-.4,5.9-.8,.6-5.6-.4-1.9-4.2 .3-1.5 3.8-3 1.5,0 3.1,2.6 4.4-1.4 1.3-5.4M833.4,305l-3.4,5.4M825.4,304.5l3.1,5.9M820,308.3l4.7,5.1M816.4,316.6l8-1.7M824,322.8l2.3-3.7M832.3,327l-.4-7.5M847.4,318.2l-3.6-3.5-3.1,.4-2.8,4.5 2.5,4.2 2,.5 5-6.1 3.3,.2 1.1,2.1-2.6,7.2-4.4-.1-2.4-3.3M837.5,311.6l3.2,3.5M832.7,318.9l5.2,.7M834.3,328.9l6.1-5.1M839.2,306l6.2,4.1-1.6,4.6M841.6,275.2l-2.9-7.1 .8-1.6 8.2,3.1-.8,3-5.1,2.6-.2,0-5.6,2.5M835.1,270.2l3.6-2.1M844,279.8l-2.2-4.6M849.4,276.4l-2.5-3.8M839.1,262.3l.4,4.2M851.5,266.9l-3.8,2.7M824.7,294.6l-2.8-5.6 5.4-3 3,4.3-5.3,4.5-.3-.2-6.6,1.9-.3,3.3M826,296.8l-1-2M832.9,291l-2.6-.7M819.1,283.6l.4,4.6 2.4,.8M827.7,282.6l-.4,3.4M796.3,181.3l3.5-4.4-4.5-10.5-2.6-.7M818,173.6l-8.8-2.9-4.2,5.7 5.5,7.2 7.8-4.5-.3-5.5 5.3-5.8 2.3,.1 5.4,8.3-4.3,6.5 7,5.2 6.6-4.7-3.9-6.9-5.4-.1M806.3,190.9l2.8-1.8 1.4-5.5M799.8,176.9l5.2-.5M818.3,179.1l5.3,4.4 3.1-.8M825.6,167.9l6.2-4.5 9.3,5.7-4.7,7.2M946.9,386.5l-2-1.1 .5-6.2 2.4-1.1 5.1,3-.9,3.7M945.4,379.2l-5.5-2 3.2-6.3 5.8,2-1.1,5.2M923.1,376.4l.1-.2-4.5-5.9-5.4,1.8 1.4,4.4M911.3,383.1l1.2-1M911.2,371.2l2.1,.9M921.2,364.2l-2.5,6.1M766.2,314.2l-5.5-4.8-1.1,0-2.9,7.1 7.4,4.2 1.3-.7 .8-5.8 4.7-2.6M768,304.5l-7.3,4.9M772.3,322.3l-6.9-2.3M764.1,320.7l-2.7,5.5-3.8,0-5-5.8M752.7,318.2l4-1.7M763.2,329.5l-1.8-3.3M757.1,306.7l2.5,2.7M752.2,350.4l6.5-2.4-.2,9.2-5.4-1.4-.9-5.4-2.2-1.1-5.6,4.2 5,5.2-.6,4.2M766.4,354.1l-.7,1.8-6.9,1.6-.3-.3M760.7,346.8l-1.1,.1-.9,1.1M749.4,358.7l3.7-2.9M756.1,365.5l2.3-2.8 .4-5.2M734.5,349.6l5.6,.8 1.9,2.9-3,6M744.4,353.5l-2.4-.2M818.6,389l-1.4,3 1.3,3.3 1.8,.7 4.4-1.3 .6-.8-1-5.3-5.7,.4-1.8-4M812.6,391.5l4.6,.5M825.8,386.2l-1.5,2.4M813.9,399.2l4.6-3.9M832.3,389.5l-1.4,4.1-5.6,.3M673.1,370.5l4.8,3.4-1.2,6-3.2,1.9-3.1-1.5-1.6-5.3 4.3-4.5-.5-4.5M683.4,371.7l-5.5,2.2M662.9,373l5.9,2M684,382.3l-7.3-2.4M664.3,383.1l6.1-2.8M674,389.7l-.5-7.9M778.9,360.1l-4.8,.1 0-6.7 3.3-1.4 3.1,3.2-1.6,4.8 2.9,2.7M784.6,354.9l-4.1,.4M779,347.9l-1.6,4.2M770.3,351.8l3.8,1.7M774.7,367.8l-1.3-1.5M774.1,360.2l-.8,.7M765.7,355.9l1.9,3.6M758.4,362.7l6.8,1.2M805.6,376.1l1.1-3-2.4-4.1-1.4-.2-6,3.3 .7,3.1M812.8,373l-6.1,.1M807.5,365.5l-3.2,3.5M795.3,371.3l1.6,.8M799.5,363.2l3.4,5.6M835.4,387.8l3.3,6-3.9,3-2.1-.5-1.8-2.7M844.1,391.2l-3.5,2.9-1.9-.3M818,412.8l4.8-3.1 3.6,4.6-1.9,3.8M870.9,412.2l-4.4,1.8-4.6-4.7 .7-2.4 4.9-2.9 1.9,.6 1.5,7.6 4.1,1.6 1.4-.5M875.2,401.8l-5.8,2.8M866.5,414l-1.4,3-4.8,1.2-2.8-4.4 1-2.9 3.4-1.6M865.2,398.7l2.3,5.3M858.8,400l-.6,2.4 4.4,4.5M858.2,402.4l-4.6,3 .1,1.7 4.8,3.8M890.2,418.2l2.5,5.8-5.6,3.7-5.3-3.6 1.2-4M831.6,481.8l1.5,5.6-4.4,2.4-4.8-3.4 2-5.3 5.7,.7 3.5-4.1M835.4,488.3l-2.3-.9M823.8,477.6l2.1,3.5M820.2,487.8l3.7-1.4M827.8,495l.9-5.2M858.8,451.7l-1.7,.6-3-3.5M854.3,442.8l-1.3,1.1M854.9,460.7l-.5-5 2.7-3.4M838.3,453.2l-.9,.9 .7,4.2 6.2,.9 .8-1.6M846.7,453.1l.3,.8-.9,1.8M832.3,448.2l3-2.4 4.1,.7 1,1.7M832.2,451.5l5.2,2.6M839.4,446.5l3.1-5.2 3.6-.2 .5,.7M854.4,455.7l-4.9-1.2M847.2,453.9l-.2,0M846,463.2l-1.7-4M836.4,460.1l1.7-1.8M884.8,457.5l5.8-3.8 5.5,2.9-.1,2.5-4.5,3.9M912.5,452.8l-5.1,6.2 .1,1 2.9,2.5 6.9-1.4 1.6-4.4-1.4-3.3-5-.6-2.7-4 3.4-6.4 3.2,.3 3.6-6.1 2.8,.1 3.8-5.2 5.1,2.9-3.7,6.9-1.6-.1-3.6-4.5M901.2,466.4l-6.7,3.3 .1,3.3 6,3.7 3.4-1.3 1.1-4.2-3.9-4.8 .3-2.3-5.5-5M891.9,467.4l2.6,2.3M905.1,471.2l5.9-2.2-.6-6.5M901.5,464.1l6-4.1M893.2,474.4l1.4-1.4M898.1,483.3l2.5-6.6M934.4,474.4l-.3-1.4-5.4-3.3-5.6,4.1 .2,4.1 6,2.2M911,469l3.7,2.2 3.1-.9 1.8-5.1-2.3-4.1M919.9,484.9l0-3.5-6.6-3.5-4.1,2.1-.7,3.9 5.5,5.8 5.9-4.8 6.2,4M923.3,477.9l-3.4,3.5M913.6,493.8l.4-4.1M914.7,471.2l-1.4,6.7M923.1,473.8l-5.3-3.5M902.3,486.8l6.2-2.9M904,475.4l5.2,4.6M916.4,442.7l4.1,3.9 5.9-5.4M918.9,456.7l6.7,1.2 .5,6.5-6.5,.8M928.7,469.7l-.6-3.7-2-1.6M852,419.9l.6-4.6-3.1-3.5-1.4-.1-4.7,4.7 .5,1.5 6.4,2.9 1.7-.9 6,2.5 2.3-4.2M857.5,413.8l-4.9,1.5M850.3,420.8l-1.5,5.3-7.7-1.2 2.8-7M853.7,407.1l-4.2,4.7M826.3,433.6l5.8-1.4M830,423.5l3.8-2.2 6.6,4.1-.9,5M828.6,440.7l5.3-1.5M835.3,445.8l-1-6.3M842.5,441.3l-3.5-3M917.5,453.4l3.3-5.2-.3-1.6M905.7,531.9l-4.4-2.6-.3,.1-3.9,9.5 3.4,3.5 4.7,.2 2.2-3-1.7-7.7 7-2.4M902.2,527.3l-.9,2M916.6,538.4l-9.2,1.2M894.9,538.7l2.2,.2M896.8,528l4.2,1.4M908.6,549.7l-3.4-7.1M895.7,550.3l4.8-7.9M878.5,524.1l-4.5-.6-2.3,4.3 1,2.1 5.7,.3 1.8-2.5-1.7-3.6 3.4-3.7M873.5,522l.5,1.5M884.2,528l-4-.3M879.6,533.6l-1.2-3.4M871.7,534.6l1-4.7M867.8,527.1l3.9,.7M888.9,276.3l-.9-1.1 .2-.5M917.3,306.9l2.4-6.3 7,2.2 .4,6.4-5.6,1.6-4.2-3.9-5,1-2.8-7.3 .6-.8M927.1,309.2l2.2,1.4 .5,6.8M919.7,316.8l1.8-6M887.5,303l1,7.9-2.5,1-7.3-2.8M876.5,317l7.1,1.9 2.4-7M881.5,325.6l3.5-4.2-1.4-2.5M919,299l.7,1.6M914.8,328.8l-2.2-1.7 2.9-8.7 2.1-.2M912.3,307.9l-1.1,1.6 .2,6.5 4.1,2.4M944.8,292l-.8-.2-5.1-9.4 3.7-3.3 3.8,.5 3,5.6-4.6,6.8 1.7,2.4 6.4,1 5.1-7.3M956,285.7l-6.6-.5M951.2,275.2l-4.8,4.4M940,271.4l2.6,7.7M933.7,280.7l3.1,1.9 2.1-.2M938.2,293.4l-4.5-3.7-2.9,.5-2.3,5.2 1.8,4 4.8,.8 3.1-6.8 5.8-1.6M936.8,282.6l-3.1,7.1M922.5,294.2l6,1.2M926.7,302.8l3.6-3.4M926.9,286.5l3.9,3.7M807.5,200.3l9.3,3.2-2.8,10.5-11.9-3.2M821.9,228.4l2-4-3.9-7.7-5.5-1.8-4.5,9.7M814,214l.5,.9M862.7,215.8l-3.6-3.1 5.8-9.9 8.5,1.7M874.8,174.7l-6.2,5.4 1.4,9.7 5.1,2.4M914.5,336.8l-5.4-.5-3.6,4.5 1,3M960.2,288.5l3.8,4.9 4.7,.2 3.5-5.6M951.5,323.4l0-5.3-4.5-2.4-3.8,1.6 .4,6.7 4.7,2.2 1.4-.4 1.8-2.4 6.5,1.7M953.8,331.6l-4.1-5.8M945.3,332.6l3-6.4M940.6,326.1l3-2.1M936.3,318.7l3.2-2.4 3.7,1M842.2,342l-4.8-2.2-.4-1 1.9-4.9 3.6-.6 4.1,3.9-4.4,4.8 .5,2.5-3.9,2.9 1.9,5.7 1.6,.3 4.7-6.1-4.3-2.8M830.8,338.3l6.2,.5M837.4,339.8l-2.5,6.3-1.2,.4-3.1-1M834.4,329.8l4.5,4.1M844.8,327.6l-2.3,5.7M835.3,363.1l2.9-1.7-.8-6.6-3.4-.8-1.5,.8-2.2,5.6 5,2.7-.2,7.1M843.2,365.9l-1.7-3.8-3.3-.7M826.5,361.8l3.8-1.4M826.3,351.6l6.2,3.2M833.7,346.5l.3,7.5M857.4,365.4l0-.3 8.8-2.8 1.8,1.5M864.9,329.1l-4,4.9 5.7,4.9 2.8-.8M864.4,349.9l2.8,5.3 6-.6-2-7.2-6.2,.4-.6,2.1-5.3,3.2-3.9-3.5 3.2-6.1-1.3-1.6-7,1.3-2.4-5.9-1.1-.1M874,344.7l-2.8,2.7M866.6,338.9l-3.4,5.6 1.8,3.3M874.2,355.2l-1-.6M866.2,362.3l-.9-3.4 1.9-3.7M841.5,362.1l4.4-4.8-3.6-3.9M837.4,354.8l3.3-1.7M834.9,346.1l3.9,1.3M850.1,343.2l-1.6,3.9-1.5,.2M646.5,520.4l-4.1-1.2-2.5-8.6 7.4-2.9 3.7,6.8-4.5,5.9 2.1,4.3-3.6,5.7 2.1,2.3M635.7,523.5l6.7-4.3M634.5,510.3l2.4-.7 3,1M628.6,498.4l9.1,.1-.8,11.1M635,486.7l5.4,9.6-2.7,2.2M674.4,510.3l2.9-.1 5.6-5.7-.2-3.4-8.1-2.5-2.4,1.7 2.2,10-1.7,1.3M663.3,505.6l5.1-5.8 3.8,.5M664.4,493.4l4,6.4M675.5,491.3l-.9,7.3M687.1,495.7l-2.9,3.5M683.4,500.2l-.7,.9M686.3,515.9l-2.6,.9-3.2,6.6 7.2,5.3 2.4-.9 2.5-6.6M698.4,530.9l-8.3-3.1M685.8,536.2l1.9-7.5M679.3,523.7l1.2-.3M675,531.5l1.2,4.9M677.3,510.2l6.4,6.6M655.1,545.1l1.4-6.9 8-.6 1.4,1.5M666,527.9l-1.7,1.8 .2,7.9M871.1,572.4l-5.1-4.1 2.3-3 5.8,1.2M857.1,565.2l3.3-1.6 3.9,5.2-2,3.1M864.3,568.8l1.7-.5M858.3,558.3l2.5,3.9-.4,1.4M871.8,554.4l-1.1-1.6-2.7-.1-2.8,2.4 1.1,4.8 1.5,1 5.3-1.9M872.2,550.9l-1.5,1.9M868.3,565.3l-.5-4.4M861.9,554.1l3.3,1M860.8,562.2l5.5-2.3M866.5,548.3l1.5,4.4M944.5,558.7l5.5-2.5 1.7,1.4 .2,4.2-5.8,2.9-1.4-2.4M945.9,565.7l.2-1M954.7,564.8l-2.8-3M943.8,548.1l4.5,1.4 1.7,6.7M937.3,530.6l-.4-2.2 8.8-2.4 2.4,3.5-1.5,7.1-3.4,2.1M946.1,523.5l-.4,2.5M958,529.2l-9.9,.3M934.1,526.6l2.8,1.8M952.4,539.4l-5.8-2.8M934.5,538.7l1.9-.5M953.4,546.8l-5.1,2.7M965,560.3l-3.9,.6-2.9-5.3 1.2-3.3 7.6-.1M959.3,564.6l1.8-3.7M951.7,557.6l6.5-2M957.3,548l2.1,4.3M969.2,546.3l0,.2M708.5,314.4l-4.8-5.1 1.3-5.8 6.1-1.5 3.7,4.3-.1,2.9-6.2,5.2-.1,2.5 7.7,3.6M720.8,314.4l-6.1-5.2M725.7,308.6l-3.2-5.3-7.7,3M708.4,316.9l-2.1,2.1-.7,5.5 7.4,3.3M705.4,334.4l-1.9-8 2.1-1.9M695.8,332.4l2.6-6 5.1,0M682.9,298.5l5.6-2.8-3.6-8.5-7.5,1.8 1.6,7 3.9,2.5-.7,6.3M671.2,300.1l7.8-4.1M676.8,288.7l.6,.3M686.6,284.5l-1.7,2.7M696.6,291.5l-6.5,4.5 3.5,7.9 8-3.1-.6-7.5-4.4-1.8-1.3-4.8M688.5,295.7l1.6,.3M704.9,291.4l-3.9,1.9M712.4,297.7l-1.3,4.3M705,303.5l-3.4-2.7M703.7,309.3l-6.6,2.3-3.9-6.5 .4-1.2M684.1,308.2l.7,.2 8.4-3.3M732.1,299.5l1-6.1-4.6-3.3-3.8,2-1.8,6.2 .6,1.3 8.6-.1 1.2,1.7M737.8,291.2l-4.7,2.2M722.5,303.3l1-3.7M728.6,285.2l-.1,4.9M715.2,295.7l7.7,2.6M717.6,287.4l7.1,4.7M536.9,543.8l-9-3.3 0-.7M514.2,533l3.5-.9M527.9,540.5l-3.6,3.6-9.8-.8M512.2,569.7l4.6,.1 3.8,4.8-1.3,9.2M520.6,574.6l2.4,0M520,556.8l5.7-5.3 7.3,3.5 .2,2.3-5.2,6.6-6.1-.4-1.9-6.7-6.8-2.6M524.3,544.1l1.4,7.4M516.8,569.8l5.1-6.3M529.4,566.2l-1.4-2.3M541.4,564l-8.2-6.7M537.8,550.2l-4.8,4.8M537.9,503.7l.9-6.7-.2,0M526.5,498.1l-.3-1.3 1-1.8M541.7,494.5l-2.9,2.5M514.9,499.3l2.8-.6M520.5,498.1l5.7-1.3M482.3,471.4l6.4,1.4 3.4,8.2-7.3,5.4-7.6-2.3-1-3.3 6.1-9.4-2.3-4.2M492.7,468.8l-4,4M469.7,477.2l6.5,3.6M493.1,481.3l-1-.3M488,496.7l-3.2-10.3M472.9,490.1l4.3-6M587.9,405.1l-9-.3-2.2,8 6.3,2.7 5.8-5.1-.9-5.3 1.7-3.2-1.2-4.9-5.6-2.8M577.3,402.4l1.6,2.4M588.8,410.4l5.6,3 .7,7.2M584.1,421.1l-1.1-5.6M574.1,413.6l2.6-.8M588.4,397l6.1-6.1 .3-2.7-5.7-4.6-5.8,3.1M623.5,382.7l-5.9,6 1.9,4.3 9.6,2.2M602.4,380.9l7.8-1.7 4,8.3-7.1,4.5-6.4-6.9 1.7-4.2-4.5-6.4-8.8,3.7-3.5-3.3 2.6-8.2 7.5,1.3 2.5,4.7-.3,1.8M630.9,409.8l-7-.7-2.8,9.5 1.8,2.1M611.7,419.3l3-1.8 6.4,1.1M628.9,398.5l-7.3,7.3 2.3,3.3M611.7,360.4l-4.4,4.2-.3,4.1 5.5,6.6 1.3-.5 5.6-7.8-.2-1.6-7.5-5-.1-4.6M598,358.4l.9,2.6 8.4,3.6M624.7,360.5l-5.5,4.9M627.1,372.7l-7.7-5.7M622.7,379l-8.9-4.2M610.2,379.2l2.3-3.9M614.2,387.5l3.4,1.2M579.8,375.1l5.8-.2M589.1,383.6l0-5.4M600.7,385.1l-5.9,3.1M586.2,363.4l2,3.3M581.3,362.9l-5.1,8.7M598.9,361l-3.2,7M607,368.7l-8.8,4M567.2,355.4l.6-.5 1.9,.5 3.2,4.6-3.4,6.9-5.3-.3-1.1-2.9M556.2,358.4l1,.4M560.8,370.6l3.4-4M573.6,371.3l-4.1-4.4M578.8,360.2l-5.9-.2M564.6,349.7l3.2,5.2M576.9,349.1l-7.2,6.3M1000.7,348.2l1.8-4.5-1.8-3.4-4.5,.1M999.4,332.4l3.3,5.1-2,2.8M1006.7,334.7l-1,2.2-3,.6M1016.5,346.5l-2.5,4.6-5.1-3.1-.3-4.4 1.4-2.3 .9-.3 1.2,1M1004.8,350.6l4.1-2.6M1014.4,352.6l-.4-1.5M1002.5,343.7l6.1-.1M1005.7,336.9l4.3,4.4M1011.2,340.7l-.3,.3M1027.7,358.9l0-3.6-5.8-2.3-2.3,1.3M1058.1,393.1l-3.4-1.4-5.3,5.1 1.8,3.8 7-1.5 1.5-2.2-.1-.5M1047.3,395.8l2.1,1M1050.5,402.9l.7-2.3M1053.4,389l1.3,2.7M1059.5,404.6l-1.3-5.5M1060,397l-.3-.1M994.6,421.1l-6.4,1.5-3-7.4 1.1-.9 6.3-.2 2,7 1.9,1 5.9-4.9M994.8,411.1l-2.2,3M978.5,419.9l2.5,4.6 5.6,.2 1.6-2.1M983.4,415.2l1.8,0M986.7,406.4l-.4,7.9M1005.4,467l-1.7-7.6-5.3-1.6-3.2,3.9M1010,455.9l-1.3-.1-5,3.6M1008.7,455.8l-3.6-4.9 2-5.6 5.6,.6M967.1,375.6l-1.1,.1-3.2-6.3 3.6-3.3M965.5,385l-1.7-7.5 2.2-1.8M995.3,366.3l1.7,4.6 6.5,.3 0-2.6M1007.7,372.6l-4.1-1.1-.1-.3M992.9,375.7l1.3,0 2.8-4.8M977.6,470.9l4.4-4.5-2.2-6.3-1.4-.3-6.4,6.4-.1,1.7 5.7,3 1.1,3.5M987.4,467.7l-5.4-1.3M967.6,471l4.3-3.1M968.4,460.9l3.6,5.3M970,456.9l4.9-.9 3.5,3.8M963.3,432.7l1.1,5-2.9,2.6-7.6-1.5-1.1-5 4-3.3M954.9,449.6l-2.6-8.5 1.6-2.3M962,446.6l-.5-6.3M949.6,452.1l-2-1-1.9-8.3 6.6-1.7M953.7,421.3l-4.9,3 .4,7.8 3.6,1.7M948.8,424.3l-5.7-1.6-2.7,4.8 4,5.9 4.8-1.3M950,460.5l-4.7,.8-3.9,5.7 4.9,5.3M934.1,473l5.1-6-4.5-5.3-6.6,4.3M939.2,467l2.2,0M1032,297.5l3.6-4.5 7.6,1.4 .4,4.8-5.6,4.1-6-5.8-2.1,.3M1037.8,305.8l.2-2.5M1049.6,303.4l-6-4.2M1046.9,290.1l-3.7,4.3M1026.4,282.7l.5,2.4 7.6,2.6 4.7-4-1.5-7.9-5-.3-6.3,7.2-5.9-3.8M1023.7,290.7l3.2-5.6M1027.9,269.3l4.8,6.2M1035.6,293l-1.1-5.3M1046.1,286.9l-6.9-3.2M1038.9,274.8l-1.2,1M1035.2,348.7l-3.1,4.4 3.3,3.1 3.6-1.4-.8-5.1-3-1-1.2-2.5 1.7-3.1M1041.2,347.9l-3,1.8M1041.5,355.7l-2.5-.9M1034.6,359.7l.8-3.5M1032.1,353.1l-2.2,0-2.2,2.2M812,282.7l-1.4,2.8 4.9,5.5 4-2.8M810.6,285.5l-3.2,1-3.9-5.9 .6-2.4M818.1,296.5l-2.9-4.2-5.3,2.7-.4,5.6M815.2,292.3l.3-1.3M791.8,288.8l2.5,0 3.3-4.8-1.3-1.9M807.4,286.5l-2.9,3.7-.2,1 5.6,3.8M803.5,280.6l-5.3,3.4 6.3,6.2M798.2,284l-.6,0M848,296.8l1.4,3.1-2.5,2.8-5.8-.3M845.4,310.1l3.2-1.7-1.7-5.7M855.7,296.3l-4.1,3.8-2.2-.2M861.9,299.7l-6.7,5-3.6-4.6M795,126.6l6.8,3.1 2.5-.9 1.7-3.3M873.9,170.7l-10-4.8 .1-.4M926.8,387.8l3.3-6.2-3.8-5.9-3.1,.5M927.6,389.7l4.8,1.1 5.6-5.5-1.7-4.3-6.2,.6M944.9,385.4l-4.3,1.3-2.6-1.4M939.9,377.2l-2,.6-1.6,3.2M929,400.6l4-1.1 2.2-5-2.8-3.7M933,399.5l4.2,3.5-2.8,6.2-4.8-1.4M913.5,432.3l3.4,.1 3.7-4.5-3.8-6.2-4.5,1.1-2.2,3.9 3.4,5.6-4,6 3.7,4.1M920,436.6l-3.1-4.2M926.6,431.5l-1.1-3.3-4.9-.3M915.4,412.9l3.2,6.2-1.8,2.6M907.8,416.8l4.5,6M925,410.4l.3,5.6-1.1,1.7-5.6,1.4M925.5,428.2l2.1-3-3.4-7.5M931.7,434.4l2.2-.3 2.1-5.8-3.6-3.9-4.8,.8M942.3,420.9l-7.4-2.4-.6-1.5 1.7-5.4 6.2-.4 3.1,2.9-3,6.8 .8,1.8M936,428.3l4.4-.8M932.4,424.4l2.5-5.9M948.7,413.9l-3.4,.2M942.2,411.2l1.4-5.6-3.7-3.2-2.7,.6M934.4,409.2l1.6,2.4M948.2,403.9l-4.6,1.7M925.3,416l9,1M750,349.3l-1.2-4.1-6.4-.5-2.3,5.7M734.3,341.4l6.4-.1 1.7,3.4M853.6,405.4l-4.2-3.4-4.7,4.8 3.4,4.9M849.7,397.5l-.8,1.4-6.4-.1-1.9-4.7M848.9,398.9l.5,3.1M833.8,421.3l.7-3.3-3.9-4.9-4.2,1.2M840.4,425.4l.7-.5M843.4,416.4l-3.5-1.6-5.4,3.2M817.5,404.3l2.8-.1 2.7,4.3-.2,1.2M820.3,396l1.1,6.7-1.1,1.5M824.7,394.7l2.5,6.3-5.8,1.7M832.7,396.3l-4.3,5.2-1.2-.5M879.1,425.4l-2.4,7.5-8.2-3.9-.1-5 .4-.6 4.1-1.4 6.2,3.4 2.7-1.3M887.1,427.7l.6,3.9-5.3,3.8-5.7-2.5-3.8,6.1M875,413.8l-2.1,8.2M867.1,437l-.2-6.4 1.6-1.6M865.1,417l3.7,6.4M858,422.4l.8,2.5 9.6-.9M866.9,430.6l-2.1,.1M858.8,424.9l-.4,1.3 1.2,1.6M881.2,271.1l0,2.5-1.8,1.5M880.3,256.6l0,.8M868.4,263.4l3.4,2.2M888,275.2l-6.8-1.6M869.4,276.8l3.3-3.1M902.2,299.8l-6.8,2.4 .7,4.1 5.2,3.6 1.8-1.4 .9-7.4-1.8-1.3-.7-5.7M894,301.2l1.4,1M909.5,300.6l-5.5,.5M911.2,309.5l-8.1-1M896.1,306.3l-5.9,5.1 2.3,2.8 8.3-1.2 .5-3.1M890.2,311.4l-1.7-.5M900.8,313l1.7,3.8 3.2,1.7 5.7-2.5M944.4,302.7l1.6,2.9-8.2,5.2-2.9-1.9 .9-7.7 8.6,1.5 2.1-8.3M935.1,300.2l.7,1M947,315.7l.9-8.9-1.9-1.2M939.5,316.3l-1.7-5.5M929.3,310.6l5.6-1.7M939.5,248.7l-3.4-1.1M918.1,258.2l1.3-3.5M809.1,189.1l9.6,3.7-1,10.1-.9,.6M823.6,183.5l-2.3,7.7-2.6,1.6M853.5,228.7l-3.6-10.1 5.9-6.2 3.3,.3M832.7,215.4l8.6,.7 1.4,1.7-3.2,9.6-3.1,1.7-6-6 2.3-7.7-3.3-4-9.4,5.3M823.9,224.4l6.5-1.3M834.4,234.8l2-5.7M849.9,218.6l-7.2-.8M855.8,212.4l-4.3-6.3-8.3-1-1.9,11M849.8,231.2l-10.3-3.8M840.5,198.4l.6,4.4-11.7,5.9-3.2-4.4 4-8.7 3.1-1.2 7.2,4 4.6-4.5-1.2-9.8-3.6-.9M829.4,211.4l0-2.7M843.2,205.1l-2.1-2.3M833.7,187.9l-.4,6.5M821.3,191.2l8.9,4.4M817.7,202.9l8.5,1.4M862.5,199l-7.5,0-2.7-4.4 4.1-7.4 8.5,5.2-2.4,6.6 2.4,3.8M851.5,206.1l3.5-7.1M870,189.8l-5.1,2.6M856.4,187.2l-.6-3.1 4.5-5.4 8.3,1.4M855.8,184.1l-8.4-2-3.5,2M845.1,193.9l7.2,.7M912.6,327.1l-5.9,.5-.5,3.1 2.9,5.6M905.7,318.5l.2,8.1 .8,1M961,322.4l.1-2-5.1-4.3-4.5,2M969,317.2l-2.1-.6-5.8,3.8M976.3,310l-8.4-5 3.9-6.9 5.9,0 2.2,3-3.6,8.9 .2,.7M988,301.7l-8.1-.6M979.9,291.3l-2.2,6.8M968.7,293.6l3.1,4.5M955.7,300l-2.9,6 4.9,4.4 5.7-1.1 2.6-3.9-5-5.8-5.3,.4-2.8-4.6M947.9,306.8l4.9-.8M964,293.4l-3,6.2M967.9,305l-1.9,.4M956,316.1l1.7-5.7M966.9,316.6l-3.5-7.3M848.5,347.1l3,3 3.7-.5M863.2,344.5l-4.8-1M865.3,358.9l-6.6-2.3 .4-3.5M860.2,334.1l-3.3,3.9-6.3-2.6 1.2-5.4 3.8-.8 4.6,4.9 .7-.1M857.1,341.9l-.2-3.9M860.4,323.1l-2.2,.8-2.6,5.3M847.7,337.3l2.9-1.9M849.2,327.7l2.6,2.3M858.2,323.9l-6.4-3.4M647.3,507.7l.8-1.6M640.4,496.3l2.7,.1M658.9,505.3l-2.5-2.1M651,514.5l6,.9M660.4,492.9l-4,4.3M655.2,532.7l1.4-3.4-2.4-3.9-5.6-.7M656.5,538.2l-.8-1M638,531.7l7-1.3M664.3,529.7l-7.7-.4M659.3,518l-5.1,7.4M696.8,317l-1.6,5.7-6.4,1.5-3.6-3 2.9-6.3 7.9,.1 .8,2 9.5,2M698.4,326.4l-3.2-3.7M697.1,311.6l-1.1,3.4M684.8,308.4l3.3,6.5M688.4,330.6l.4-6.4M681.4,321.5l3.8-.3M614.7,417.5l-1.6-7.9 7.3-4.2 1.2,.4M619.5,393l-2.8,5.8 3.7,6.6M1021.5,345.2l-.1,0 1.9,2.8 1,0M1025.8,348l2,0 1.8-2.1-.7-2.5M1021.9,353l1.4-5M1029.9,353.1l-2.1-5.1M1020,344.8l1.4,.4M1034,346.2l-4.4-.3M1031.9,338.5l-3.7,2.5M998.4,457.8l-.7-3.8 1.4-2.4 6-.7M986.6,424.7l2.3,6 4,.8 4.5-6.1-.9-3.3M1007.4,426l-3.1,2.8-6.9-3.4M966.8,449l3.9-2.1 5.4,3.5-1.2,5.6M960,385.3l-2.3-4.6 3.9-3.2 2.2,0M952.9,381.1l1.7-.9 3.1,.5M960.3,369.3l-2.8,3-2.5,.4-3.4-1.7-.1-2.6 4.1-3.7 2.6,.6 2.1,4 2.5,.1M961.6,377.5l-4.1-5.2M961.9,361.2l-3.7,4.1M948,364.7l3.5,3.7M954.2,360.6l1.4,4.1M954.6,380.2l.4-7.5M948.9,372.9l2.7-1.9M942.7,366l-1,1.6 1.4,3.3M996.3,377.1l5.5-.7 2,3.2-2.8,4.5-3.5-.9-1.2-6.1-2.1-1.4M1003.6,371.5l-1.8,4.9M993.3,385.6l4.2-2.4M1001.1,384.4l-.1-.3M1008.7,379.8l-4.9-.2M942.9,435.7l1.3,6.4-3.5,1.8-4.8-1.7-.1-6.4 7.1-.1 1.5-2.3M945.7,442.8l-1.5-.7M933.9,434.1l1.9,1.7M935.9,442.2l-4.3,2.5-3.6-3.4M934.8,459.6l5.1-3.6 .5-3.2-1.2-1.7-7.8-1.8-2,2.1-.2,3.6 5.6,4.6-.1,2.1M945.3,461.3l-5.4-5.3M925.6,457.9l3.6-2.9M920.8,448.2l8.6,3.2M947.6,451.1l-7.2,1.7M931.6,444.7l-.2,4.6M940.7,443.9l-1.5,7.2M795.5,296.1l3.8,3.7 2.4-.9 1.8-7-6.7,.2-1.3,4-5.1,1.4M797.6,303.1l1.7-3.3M794.3,288.8l2.5,3.3M804.3,291.2l-.8,.7M807.2,302.1l-5.5-3.2M849.7,308.8l5.4-2.7 2.5,2.7-2,5.8-3,.9-2.9-6.7-1.1-.4M855.2,304.7l-.1,1.4M850.7,318.4l1.9-2.9M860.4,316.8l-4.8-2.2M861.9,309l-4.3-.2M842.5,146.7l-1,.2-1.7-2.2M823.3,167.8l-5.2-7.4 7.3-8.9 7.6,5-1.2,6.9M795.6,150.8l-3.9-8.1 9.3-4.6 5.7,4.6-6.1,9-5-.9-6.6,8M801.8,129.7l-.8,8.4M857.3,169.9l.6-1.5-5.3-9.3-6.6,1-3.7,8.7 5.6,3.7 9.4-2.6 3,8.8M863.9,165.9l-6,2.5M847.4,182.1l.5-9.6M854.8,155.2l-2.2,3.9M841.1,169.1l1.2-.3M833,156.5l6.4-3.1 6.6,6.7M839.4,153.4l2.1-6.5M928.8,372.4l4.5-.9 2-3.5-2-5.4-2.7-1-6.4,2.8 4.6,8-2.5,3.3M937.9,377.8l-4.6-6.3M922.5,363.9l1.7,.5M941.7,367.6l-6.4,.4M938,358.9l-4.7,3.7M929.3,353.1l1.3,8.5M941,391.3l-4.2,3.3 4.4,4.2 2.7-1.4 .2-4.1-3.1-2-.4-4.6M935.2,394.5l1.6,.1M947.7,391.4l-3.6,1.9M939.9,402.4l1.3-3.6M947.7,399.3l-3.8-1.9M759.6,346.9l-5.2-5.8-3,.1-2.6,4M761.1,335.5l-2.8,.4-3.9,5.2M757.6,326.2l-4.3,4.8 5,4.9M748.9,324.7l2.5,6.4 1.9-.1M831.9,409.3l6.9,.6 2.3-3.6-1.7-3.5-2.3-.8-6.6,3.2-.1,.6 1.5,3.5-1.3,3.8M839.9,414.8l-1.1-4.9M823,408.5l7.4-2.7M828.4,401.5l2.1,3.7M834.8,396.8l2.3,5.2M842.5,398.8l-3.1,4M844.7,406.8l-3.6-.5M854.2,432.8l-.8-3.4-3.4-1-4.1,4.9 1.7,4 6.1-.8M858.4,426.2l-1.9,1.3M854.8,428.5l-1.4,.9M846.1,441.1l1.5-3.8M840.5,431.8l5.4,1.5M848.8,426.1l1.2,2.3M909.5,438.3l-2.4-.1-4-5.4 1.4-5.2 5.6-.9M900.9,420.6l-.7,2.8 4.3,4.2M892.7,424l3.3,1.1 4.2-1.7M887.7,431.6l5.1,3 2.1-.3 1.1-9.2M903.1,432.8l-7.2,1.9-1-.4M924.6,252.6l3.5,3.9 4-2.3 .1-4.9M927.8,257.8l.3-1.3M935.9,256.1l-3.8-1.9M902.5,316.8l-5.7,4.4 1,5 8.1,.4M892.5,314.2l.1,5 4.2,2M885,321.4l3.2,.8 4.4-3M882.1,339.1l3.9-3.1-.6-4.2-2.9-1.7M888.2,322.2l2.5,6.1-5.3,3.5M897.8,326.2l-3,3.6-4.1-1.5M856.1,362.2l.5-3.7-6.2-3.4-3.6,2.3 2.6,4.9 6.7-.1 1.3,2.9M858.7,356.6l-2.1,1.9M847.4,366.9l2-4.6M851.5,350.1l-1.1,5M845.9,357.3l.9,.1M609.3,407.6l-.8-7.7-2.6-2.1-3.9,.8-3.4,3.9 1.4,7.3 3.7,1.3 5.6-3.5 3.8,2M616.7,398.8l-8.2,1.1M605.2,416.7l-1.5-5.6M594.4,413.4l5.6-3.6M589.6,401.9l9,.6M594.5,390.9l7.5,7.7M607.1,392l-1.2,5.8M990.4,461.6l-3.3-4.2 4.4-4.8 6.2,1.4M979.8,460.1l5.1-3.1 2.2,.4M964.4,437.7l6.9,1.2 .7,1.3-1.3,6.7M971.3,428.2l3.5,3.2-3.5,7.5M981,424.5l-3.5,6.5-2.7,.4M988.9,430.7l-5.4,4.4-6-4.1M814.6,159.7l-3.2-5.2-8.5-.2-1,9.3 6.1,2.6 6.6-6.5 3.5,.7M809.2,170.7l-1.2-4.5M795.3,166.4l6.6-2.8M800.6,151.7l2.3,2.6M827.4,143.5l-2.5-7-7.8-3.2-1.7,1-3.1,8.2 2.2,3.5 10,2.4 2.9-4.9 3.5-.4M826.1,135.5l-1.2,1M825.4,151.5l-.9-3.1M811.4,154.5l3.1-8.5M817.7,130.8l-.6,2.5M804.3,128.8l11.1,5.5M806.7,142.7l5.6-.2M750,332.2l-.9,5.8-6.9,.1-1.3-4.4 1.9-2.7 7.2,1.2 1.4-1.1M751.4,341.2l-2.3-3.2M742.1,324.8l.7,6.2M740.7,341.3l1.5-3.2M735.3,333.1l5.6,.6M889.4,440.8l5,4.9-4.2,3.8-4.8-1.7-2-4.7 .9-1.5 5.1-.8 3.4-6.2M882.4,435.4l1.9,6.2M881.7,454l3.7-6.2M890.6,453.7l-.4-4.2M877.1,444.6l6.3-1.5M902.2,443.1l-3.1,0-3.2,2.6 3.1,8.2 3.1-.2 3.5-5.2-3.4-5.4 4.9-4.9M895.9,434.7l3.2,8.4M909.8,448.8l-4.2-.3M894.4,445.7l1.5,0M896.1,456.6l2.9-2.7M907.4,459l-5.3-5.3M899.5,335.3l-3.9-2.6-5.1,5.4 .7,2.5 5.5,2.3 3.7-4.1-.9-3.5 6.7-4.6M894.8,329.8l.8,2.9M905.5,340.8l-5.1-2M886,336l4.5,2.1M897.2,345.9l-.5-3M886.5,347.2l4.7-6.6M981,448.4l-1-6.3 3.8-4.2 6.4,3.9 .3,3.3-.8,1.5-7.5,2.4-1.2-.6-4.9,2M972,440.2l8,1.9M984.9,457l-2.7-8M991.5,452.6l-1.8-6M983.5,435.1l.3,2.8M992.9,431.5l2.7,5-5.4,5.3M999.1,451.6l-1.2-5-7.4-1.5M998.3,437.2l3.2,4.8 3.4,.6 4.4-6.6-4.9-4.8-6.1,6-2.7-.7M997.9,446.6l3.6-4.6M1004.3,428.8l.1,2.4M1007.1,445.3l-2.2-2.7M1011.3,436l-2,0" fill="none" stroke="#000" stroke-opacity="0.145" stroke-width="1.05"/>
<path d="M1102.3,182.9l-10.2,7-.1,3.9 4.9,2.5 6.2-4.3-.2-8.6-.6-.5-1.2-3.7-10.1-3.5-6.7,5 7.8,9.2M1137.3,111.6l9.6-7 5,2.2 2.3,11.5-6.1,5.1-8.6-2.4-2.2-9.4-6.2-2.4-1.9-11.1 3.5-2.9 11.5,1.8 6.1-11.1 1.1-.3 9.4,8.7M1161.1,94.6l-1.1,8.1-8.1,4.1M1144.2,97l2.7,7.6M1101.1,179.2l6.2-9.9-10.9-7.3-5.5,2.7 .1,11M1135.6,150.9l-.3-12.1 14.4-4.1 1.9,1.3 3,12.4-19,2.5-1.8,3.2 .2,1 11.2,9M52.3,214.2l-8.3,11.8 5.8,6.6 14.6,.4 3.5-5.9-1.8-7.5-13.8-5.4-2.1-8.7 10.6-6.1 12.2,7 .8,2.9-7.7,10.3M381.2,523.6l-19.7-8.2 .7-9.3 6.2-7.2 14.7,.8 8.9,12.9-10.8,11 2.5,15 14.7,2.2 5.1-6.8M235.7,263l-18.1-5.7-10.7,15.9 16.7,11.6 10-4.1 2.2-4M392,512.6l5.6,.3 10.7-11.4-9.2-18.1-3.6-1.4-12.4,17.7M403.8,533.6l4.1-5.6-10.3-15.1M422,533.6l-3.5-6.4-10.6,.8M398.4,540.8l2.5,4.8M399.6,263.8l14,4.7-12.2,20.1-19.9-10.9 2-15.4M390.6,260.8l-6.7-2.2-.2,2M335.9,445.6l4.8,13.4-11,13.1-11,.1-5.9-8.5 5.2-15.5 17.9-2.6 3.2-6.9-6.1-7.9-18.1-3.2-7.3,4.1-1.3,3.3 11.7,13.2M329.7,472.1l11.2,15.5-1.2,6.4-8.6,7.2-19.6-14.1 7.2-14.9M331.1,501.2l-.8,3.7-17.4,11.7-15.4-20.2 2.4-4.4 11.6-4.9M264.7,367.6l-11.4-7.6-9.1,6.6 1.1,14.7 5,3.5 12.3-5.4 2.1-11.8 9.5-4.9-.9-19.2 1.5-2.3 18.5,2.9 4,14.2-1.3,3.5-13.6,5.1-8.2-4.2M1151.6,136l12.4-4.3 5.5,9.6-12,9.5-2.9-2.4M405.2,237.6l-17.6,.8-4.3,18.9 .6,1.3M413.6,268.5l2.7-1.2 .5-.8M1157.5,150.8l1,4.2M1109.3,99.6l6.5,1.5 6-4.3-4-14.6-4.2-.2M28.8,244.7l-1.2,0-8.7-5.6 3.4-20.7 4.9-1.7 11.9,9.4-10.3,18.6 11.4,6.4 6.9-3 2.7-15.5M14.7,239.3l4.2-.2M22.3,218.4l-1-.3M103.2,325.1l13.6,17 4.3-.1 10.8-20.4-12.4-7.2-15.4,4.9-.9,5.8-10.2,9.3-7.1-.8-5.5,6.9-9.4-1.2M104.1,319.3l-8.4-8.1 4.8-14.2 13.7-5.6 3.1,1.7 2.2,21.3M131.9,321.6l11.1-2.3-3.9-31.5-21.8,5.3M49.4,145.1l-.1,.3 0,.1M64.8,95.7l1.4-2.5-.5-1.3M339.7,494l22.5,12.1M361.5,515.4l-7.6,8.5-10.4,1.3-13.2-20.3M217.6,257.3l-4.6-15.3 15.9-6.7 11.2,7.1 1.8,10M418.5,527.2l6.2-8.3 .1-8.3-7.5-8.1-9-1M399.1,483.4l22-7.8 2.4,2.1 .4,1M417.3,502.5l6.2-12M408.5,428.1l-9.2-15.2-13,7.8 9,14.3 13.2-6.9 2.6,.2 6.7-11.1 10.3-1.1 6,11.1-3.2,6.6-11.8,2.8-8-8.3M395.5,482l-6.3-9.1 13-17.9 12.8-.2 4.3,4 1.8,16.8M352.3,462.9l3.6,14.9 10.5,4.4 15.2-11.1-11.9-20.5-17.4,12.3-11.6-3.9M340.9,487.6l15-9.8M402.2,455l-9.8-13.1-18.9,3.1-3.7,4.8-.1,.8M389.2,472.9l-7.6-1.8M368.4,498.9l-2-16.7M359.5,260.8l-5,17.8-12.3,3.6-8.6-22.4M354.5,278.6l7.1,3.8 8.2,4.4 11.7-9.1M383.3,257.3l-8.1,.3M375.2,232.4l9.2,1.5 3.2,4.5M366.8,298.4l3.1-11.2-.1-.4M344.4,297.7l7.8,7.5 9.5-1.3 4.1-4.3M340.4,293.9l-.1-.2-.5-8.6 2.4-2.9M388.4,300.5l5.6-.8 0,1.3M386.5,301.4l-7.1,8.7 0,6.3 6.1,3.6 9.2-5.1-.6-12.9M369.9,287.2l16.8,13.1M401.4,288.6l.1,1.1-1.9,5.2-5.6,4.8M367.8,299.8l11.6,10.3M405,303l5.2,7.8-8.8,6.5-6.7-2.4M399.6,294.9l4.8,7.1M401.4,317.3l2.3,11-1.9,2.9-5.8,2-8.4-4.7-2.1-8.5M262.6,379.4l15.5,10.6-.8,7.9-23.6,8.4-2.4-1.7-1-19.8M369.8,449.8l-23.9-13.8-6.8,2.7M274.2,467.7l-10.4-32 10.9-3.8 20,8.2-1.2,22-6.3,5.3-13,.3-16.3,16.8 23.5,19.6 16.1-7.7M299.9,492l-12.7-24.6M312.8,463.7l-19.3-1.6M306.3,435l-11.6,5.1M307.6,431.7l-9.9-22.3-11.4,.1-11.6,22.4M253.7,406.3l7.2,28.5 2.9,.9M286.3,409.5l-9-11.6M239.1,554.2l-10.3-24.7-14.8,3.2-1.7,4.5M143,319.3l2.1,.9 28.3-10 1-13-20.4-18-9.9,2-5,6.6M334.1,302.5l-14.6,4.1 8.3,15 9.3-5.8-3-13.3 3.7-5.3M352.2,305.2l-3.8,12.5-2.6,1-8.7-2.9M340.2,293.9l.1-.2M339.8,285.1l-18.7-1.3-4.9-8.3M321.5,259.3l-2.6,3.7M319.5,306.6l-2.7-.8-5.3-9.6 2.3-3M321.1,283.8l-5.1,6.6M327.8,321.6l-.4,1.1-10.4,6-9.5-9.6 9.3-13.3M317,328.7l-.6,4.9-4.6,5.6-14.7,.8-.4-20.2 10.8-.7M295.3,275.2l.7-.8M294.7,278.9l.5,.8M296,281l9.5,14.5 6,.7M253.3,360l0-10.3 20-6.2M253.3,349.7l-8.7-7.9 .1-4.7 12.2-11.5 15,4.9 2.9,10.7M278.1,390l4.4-4.4-.1-18.7M1155.3,81l-3.9,4.6M1154.2,118.3l6.1,1.7 4.4,9.4-.7,2.3M1148.1,123.4l1.6,11.3M1102.9,183.4l10,1.8 4.8-2.8 .8-1.3-2.5-11.5-2.5-1.9-6.2,1.6M1118.5,181.1l10.7,.1 3.7-7.3-4-6.5-12.9,2.2M1128.9,167.4l5.1-12.3M1132.9,173.9l2.3,.1M376.1,184l.6,.6 0,.7M368,183.3l-6.9,1.1M356.1,185.1l-8,1.3-1.1,6.3 12.6,15.6 17.2-6.9 0-5M346.6,182.8l-.2-.3 4-16.8 18.7-.1 .4,1.1M347.2,184.4l.9,2M384.4,233.9l.8-4.9M358.8,210.6l.8-2.3M383.6,206.6l-6.8-5.2M335.2,112.2l-6.4,7.7 2.4,3.9 15.4,3.2 10.9-11.3-.5-7.3-4.7-2.1M350.4,165.7l-3-4.2-21.4,.8-2.7,13.6 23.1,6.6M331.2,123.8l-3.3,18.4 21,4.1 3.8-3.7-6.1-15.6M412.5,140.5l-1.5,1.1-9.3-8.4-.9-11.7 4.2-4.8 18,2.2 1.9,9.5M412,145l-.9-.9-.1-2.5M433.5,137.8l-.1-2.2-.9-.5M352.1,70.9l-1.3,2.6-14.6-2.5-.8-3M1090.9,164.7l-9.3-3.7 1.6-11.6 5.1-3.5 11.1,6.4-3,9.7M1142.3,69.4l-6.7-4.8-10.2,4.3-.6,9 7.9,4.3 8.3-2.1 1.3-10.7 7.3-3-.1-.4M1136.7,57.6l-1.1,7M1149.8,66.6l-.2-.2M1150.3,85.9l-9.3-5.8M1120.3,63.1l5.1,5.8M1132.7,95.2l0-13M1117.8,82.2l7-4.3M1129.2,98.1l-7.4-1.3M1106.8,113.6l4.3,5.3 7.6-3.9-2.9-13.9M1139.5,121l-9.3,7.9-.6,3.5 5.7,6.4M1131.1,109.2l-10,6.3 9.1,13.4M1121.1,115.5l-2.4-.5M1099.4,152.3l3-1.4 11.9,6.4-.8,10.4M1133.8,154.1l-13.3-2.1-6.2,5.3M1081.6,161l-2.6,1.3-12.8-6.4-.4-6 2.4-3.9M1083.2,149.4l-10.9-4.5M1088.3,145.9l.6-5.8M27.6,244.7l-8.6,16-4.4-.8M260.9,434.8l-15.9,5.9-7.4,25.7 16.4,18.5 3.9-.4M281.4,504.1l-2.2,16.5-7.3,9.6-3.1,.9-30.1-13.6-.5-10.6 15.8-22M251.3,404.6l-25.4,3.3-4.3,19.8 23.4,13M222.4,192.8l14.9,11.9-9.4,11.1-6.9-1.9-4.4-18 5.8-3.1 1.5-2.7 15.6-6.3 4,1.4 11.6-5.1-2.2-13.7-7.2-5.5-11.6,3.8-2,5.5 7.4,13.6M323.3,175.9l-2.7,2.5-.3,1.7M320,182l-2.1,12.2 9,9.8 20.1-11.3M299.7,189.3l-5-6.9 5.3-11.2 20.6,7.2M317.9,194.2l-10.4,1.6M326.9,204l.1,5.7M285.3,210.1l-.8-8.9 .9,0M294.7,182.4l-11.2,2.8-3.5,12.2 4.5,3.8M158.5,213.7l-2.8,9.7-19.3-1.3 4.6-18.2 11.9,.5 5.6,9.3 11-2.5 4.8-12.6 11.7,4.9-3.8,15.1-3,.9-9.7-8.3M152.9,204.4l6.4-12.1 13.7,3.2 1.3,3.1M268.4,131.8l-4.4,13-17.6,1.4-3.7-4.3 8.7-17.2 17,7.1 2.2-1.1 5.7-19.1 17.3,3.1 2.7,6.6-9.8,16-15.9-6.6M155.1,74.9l5.8-6.1 3.5,.4 7.8,8.7-2.3,9.1-8.4,3.6-6.6-3.8 .2-11.9-15-2.5-1.4-2.6 .6-2.5 11.4-9.5 4.2,.4 6,10.6M154.9,86.8l-6.5,2.7-10.5-6.5 2.2-10.6M64.4,233l1.5,7.3-10,10.2-8.8-2.4M44,226l-4.9,.1M172.2,77.9l11.7-2.4-.9-12.1-6.4-5.2-12.2,11M183.9,75.5l1.7,1.3 2.5,9.6-8.3,8.2-9.9-7.6M188.1,86.4l12.5,4.4 2.3-13.8-5.1-4.3-12.2,4.1M179.8,94.6l.1,3.8 13.2,7.2 7.5-2.8 1.6-9.5-1.6-2.5M249,113.3l17.4-7.1-10-21-11.7,8.4 4.3,19.7-1.6,2.5 4,8.9M27.2,216.7l4.4-10.8-6.2-6.1M50.2,205.5l-7.6-4.7-11,5.1M51.6,137.7l2.5-1.9 2.2-7.6-1.1-1.5M103.7,201.2l-4.5-15.8-6.4-.7-7.5,9.1 7.7,10.5 7.7-.2 3-2.9 5.7-.7 6.8-8.8-5.2-11.6 16-5 4,9.5-7.4,8.4-7.4-1.3M73,206.4l6.6-12.4-4.8-5.2-12.2,1.1-1.8,9.5M62.6,189.9l-4.8-6.8 8.8-8.9 9.7,4.4-1.5,10.2M93,204.3l-7.7,9.1-11.5-4.1M85.3,193.8l-5.7,.2M99.2,185.4l9.5-6.3-2.4-9.1-10.4-3.2-9,8.3 5.9,9.6M76.3,178.6l7.3-4.3 3.3,.8M61.5,108.7l5.4,4.2 14.6-6.8-3.6-9.2-11.7-3.7M56.3,128.2l12-5.7-1.4-9.6M70.8,51.3l3.8-2.6 .4-5.4-3.6-3.1M138.7,69.8l-14.3,.3-4.4,4.9 1.3,8.9 9.3,3.4 7.3-4.3M74.6,48.7l10,10.1 11.2-6.3 1.1-3.7-10-13.6-11.9,8.1M96.9,48.8l11.1-5.6 9,10.4-10.8,10.6-10.4-11.7M444.3,616l4.6,10 1.2,.5M311.9,567.4l-2.3-4.3-21.5-3.3-3.5,4.2M353.7,556.9l-.5-2.1 11.6-9.5 9.7,1.2 3.7,11.1M371.2,569.7l7.5-10.4-.2-.8M353.2,554.8l-15.5-2.9-2.3,5.9M383.7,538.6l-9.2,7.9M353.9,523.9l10.9,21.4M423.8,602.9l4.6,9.5 12.6,.7M422.8,600.8l-.9-1.9 2.9-2.2M392.1,565.9l6.5-2.2 12.6,12.7-2.9,8.8-11.3,4.1-10.1-7 5.2-16.4-13.4-6.6M400.9,558.5l-.2,.5M399.8,561l-1.2,2.7M382.2,583.4l4.7-1.1M424.1,560.3l.1,.2M425.2,570.5l-7.3,3M417.2,573.9l-6,2.5M395.1,600.2l1.9-10.9M408.3,585.2l11,13.3-15.1,12-7.9-3.5M421.9,598.9l-2.6-.4M432.9,588.9l-1.2-13.6M428.4,612.4l-5.4,9.1 7.8,13.3 18.1-8.8M404.2,610.5l4.4,12.2 14.4-1.2M408.6,622.7l-2.8,5.4M430.8,634.8l-2.1,6.4-2.3,.1M233.6,280.7l10.4,15.2 13.2-1.3 2.7-15.1M226.5,324.7l3.8-1 6.7-11.4-1.1-5.6-15.6-8-10,5.7-1.7,7.1 17.9,13.2-10.5,16.7-11.7-2.8-5.8-18.8 10.1-8.3M256.9,325.6l-2.9-8.8-17-4.5M244.7,337.1l-14.4-13.4M223.6,284.8l-3.3,13.9M244,295.9l-8.1,10.8M210.3,304.4l-18-19.3 3.3-8.7 11.3-3.2M254,316.8l8.7-15.2-5.5-7M319.8,225.8l0-2.3-14.9-3.5M295.4,259.8l.2,.8M297.1,265l.1,.4M324.9,218.3l-5.1,5.2M240.1,242.4l8.8-5.9 8.7,3.4M257.2,254.7l.4-3.1M430.1,508l-5.3,2.6M490.6,597.4l.9-4.4M416.3,267.3l.5,.6M401.5,289.7l13.9,4.7M419.5,304.3l-.7,4.1-4,3.2-4.6-.8M382,333.3l5.6-4.8M396,333.2l-.7,2.8M401.8,331.2l1.3,1.6M393.9,346.9l.1,.1 5.3,1.2M415,454.8l4.1-18.2M395.3,435l-2.9,6.9M365.9,316l8.1,2.7-3.8,13.2-11.8-3.9-1.4-5.2 8.9-6.8-4.2-12.1M379.4,316.4l-5.4,2.3M348.4,317.7l8.6,5.1M371.1,333.7l-.9-1.8M297.7,409.4l6.7-5.6 .8-10.3-7.6-9.4-15.1,1.5M296,361.8l6.1,11.2-4.5,11.1M297.1,340l-3.8,4.1M311.8,339.2l3.9,10.2-2.7,6.6-15.7,2.3M316.4,333.6l14.3,7.7 5-8.4-8.3-10.2M330.7,341.3l.8,5-1.9,2-13.9,1.1M345.8,318.7l-3.9,13.1-6.2,1.1M326.1,396.1l9.9,5.9 2.3,8.8-5.3,3.9-11.6-1.8-4.2-5.9 8.9-10.9-.7-4.3 12.5-7.8 .1-2-9.9-6.8-9.6,4.2-.2,6.5 7.1,5.9M314.9,427.6l6.5-14.7M304.4,403.8l12.8,3.2M333,430.8l0-16.1M249.6,559.1l-.1-.3 8.9-4 10.3,7M238.7,517.5l-9.9,12M268.8,531.1l-10.4,23.7M245.5,558.3l4,.5M271.9,530.2l16,16.1 .2,13.5M283.9,298.4l-2.9-1.3-8.7,6.3 6,17.6 17.5-1.9-1.1-15.7-2.2-1M271.9,330.5l6.4-9.5M296.7,319.8l-.9-.7M262.7,301.6l9.6,1.8M305.5,295.5l-10.8,7.9M281,297.1l2.3-16 4.9-1.7M276,276.8l7.3,4.3M1169.5,141.3l.1,0M1103.1,192l4.9,4 4.3-2.4 .6-8.4M1105.4,200.7l-7.1-.8-1.4-3.6M1108,196l-1,4.4M1098.3,199.9l-.8,2.3M1129.2,181.2l.5,.9M1112,240l0-.3M1117.7,182.4l4.6,9.1M1112.3,193.6l5.8,3.5M398.6,184.3l-1.3-1.2M396.4,165.2l.6-1.8 11.8,3.4M376.7,184.6l1.7-.6M411.1,144.1l-15.3,16.6 1.2,2.7M359.8,142l10.2-14.7 6.2-.5 9.2,15.4-2.3,10.5-8,2.7-15.3-13.4-7.1,.6M357.5,115.7l12.5,11.6M369.1,165.6l6-10.2M347.4,161.5l1.5-15.2M401.7,133.2l-16.3,9M395.8,160.7l-12.7-8M376.2,126.8l6.9-8.2 17.7,2.9M326,162.3l-3.6-7 1.7-9.8 3.8-3.3M328.8,119.9l-6.1-2.4-14.9,9.8 1.1,9.9 15.2,8.3M449.4,132.2l-4.2,1-2.6-1 .4-12.4M366.8,86.3l-.4,14.9 14.1,5.4 9.6-8.6 .1-10.5-13.8-7-9.6,5.8-13.4-6.6-8.2,11.2M357,108.4l9.4-7.2M353.4,79.7l-2.6-6.2M376.9,74.5l-.5,6M401.2,77.9l-.8,3.2-10.2,6.4M383.1,118.6l-2.6-12M405,116.7l-.9-10.5-14-8.2M404.1,106.2l11.3-12.2-15-12.9M316.8,92.9l-7.8-9.3 4.5-10.9 16.3,4 .8,12.3M317.7,101.2l-1.6,3.9-16,.5-5.5-16.8 .2-.4 14.2-4.8M311.8,63.8l-1.4,.9 3.1,8M336.2,71l-6.4,5.7M316.1,105.1l6.6,12.4M1081.4,206.1l-.1-.1 5.3-5.6 3.5,3.2M1086.6,200.4l.2-3 5.2-3.6M1086.8,197.4l-5.4-3.3-7.3,4.7 3.2,7.5 4-.3M1057.1,181.9l.3-7.8-7.8-2.7-2.7,3.9M1098.3,131.8l-.5,1.4 8.1,8.7 10.5-3 1.4-2.5-8.7-13.5-4.4,1.7M1102.4,150.9l3.5-9M1120.5,152l-4.1-13.1M1096.1,133.9l1.7-.7M1111.1,118.9l-2,4M1129.6,132.4l-11.8,4M85.9,333.6l-6.1-10.7-8.9,4.1M93.8,311.4l1.9-.2M80,321.5l-.2,1.4M116.8,342.1l-10.8,6.9-6.9-2.1-6.1-12.5M40.2,251.1l-.2,13.8 10.6,5.2 8.3-3.6 2.2-6.9-5.2-9.1M100.5,297l-11.5-8.7-2.8,1.5M19,260.7l4.6,9 5.5,2.7 10.9-7.5M23.6,269.7l-7.5,4.5M166,455.9l-21.1,6.8-9.5-9.8 9.6-26.8 16.8,8.4 4.2,21.4 12.4,7.5 1.9,4.7 26.8,7.9 8-8.1-7.2-33.3-10.2-1.9-19.3,30.7M245.3,381.3l-15.5,2.7-8.4,16.3 4.5,7.6M173.4,310.2l5.1,6.2 20,3.4M192.3,285.1l-17.9,12.1M300.1,105.6l-6.5,9.1M307.8,127.3l-11.5-6M294.6,88.8l-14.4,4.6-6.3,14.7 2.4,3.5M273.9,108.1l-7.5-1.9M228.9,235.3l3.2-10.4 13.3-2.1 4,3.5-.5,10.2M249.4,226.3l10.5-2.4M237.3,204.7l5.3-1.2 5.6,3.2-2.8,16.1M227.9,215.8l4.2,9.1M192.1,221.8l7.5,17.5 8.7,0 4-21.1-9.7-7.1-2.2,.2-8.3,10.5-9.9-3.2M200.4,211.3l-9.5-9.4-4.9,1.6M221,213.9l-8.7,4.3M216.6,195.9l-4.9-.5-9.1,15.7M213,242l-4.7-2.7M160.8,234.2l10.7,.2 14.9,13-3,11.1-22,6.1-9.2-18.8 8.6-11.6-5.1-10.8M179.2,219.5l-7.7,14.9M199.6,239.3l-13.2,8.1M195.6,276.4l-12.2-17.9M154,279.2l7.4-14.6M242.6,203.5l.9-18.3M223.9,190.1l-3.4-14.5 11.6-5.4M246.4,146.2l-.7,14.7M264,144.8l6,11.5-17.1,10.1M262.9,216.2l-11.3-9.7 11.5-11.6 9.7,4.5-2.8,12.2M263.1,194.9l-4.2-12.8 16.2-5.9 8.4,9M280,197.4l-7.2,2M258.9,182.1l-3.8-2M248.2,206.7l3.4-.2M190.9,201.9l4.4-10.8 10.5-.4 5.9,4.7M173,195.5l5.4-8.7 13.6,.5 3.3,3.8M159.9,167l8,8-10.3,13.3-9.2-5.6-.5-7.5 12-8.2 0-4.2 6.3-6.6 9.2,1.7 2.9,13.5-3.5,3.9-6.9-.3M178.4,186.8l-3.6-11.5M159.3,192.3l-1.7-4M148.4,182.7l-8.7,5.1-.2,14.7 1.5,1.4M139.7,187.8l-8.7-3.2M147.9,175.2l-6.5-6.3-13.3,3-1.1,3.2M123.6,193l4,9 11.9,.5M108.7,179.1l2.3,1M109.4,200.5l11.1,9.9 7.1-8.4M148.4,89.5l-3.4,9.9-12.2-.1-2.2-12M175.4,157.9l4.2-3.5-.4-12.1-12.9-1.2-3.5,3.3 3.4,11.8M160,122.5l6.6,2.7 2.1-.6 7.7-9.8-3-9.2-11.4-1.6-2.3,1.9 .3,16.6-4.4,1.5-13.1-8 6.1-11.1 11.1,1M193.1,105.6l-.1,.3M188.9,114.2l-1.3,2.7-11.2-2.1M179.9,98.4l-6.5,7.2M161.5,90.6l.5,13.4M148.6,104.9l-3.6-5.5M67.9,227.1l15.2,1.9 4.6-8.6-2.4-7M65.9,240.3l9.3,6.1-2.1,10-12,3.2M120.5,210.4l-.1,7.2 8.8,9.4 7.2-4.9M100.7,204.1l4.1,15.8 15.6-2.3M87.7,220.4l15.1,1.8 2-2.3M215.6,68.9l-9.3-8.3 3.1-10 2.5-1.2 14.3,8-.1,1.3-10.5,10.2-.4,4.4-12.3,3.7M197.8,72.7l.4-9.9 8.1-2.2M183,63.4l11.5-3.3 3.7,2.7M217.8,76.9l-2,13 10.5,8.1 8.2-6.1-2.2-13.3-14.5-1.7-2.6-3.6M202.2,93.3l13.6-3.4M232.3,78.6l5.3-7.2-11.5-12.7M200.6,102.8l5.8,5.7M218.2,107.4l2-.3 5.5-5.7 .6-3.4M244.7,93.6l-10.2-1.7M247.4,115.8l-6.7,.3-15-14.7M185.4,38.7l-.5,.6 1.1,7.2 7.8,3.7 6.5-3.9-.1-3.8M176.6,58.2l-.3-2.7 9.7-9M194.5,60.1l-.7-9.9M209.4,50.6l-9.1-4.3M211.9,49.4l1.3-3.5M230.7,49.5l.3,1.5-4.8,6.4M310.4,64.7l-2.5-1.6M237.6,71.4l12.7-2.3 7.1,13.6-1,2.5M280.2,93.4l-10.3-12.3-12.5,1.6M268.1,56.1l.3,1.6-16.1,5.7-5.1-11M231,51l10.4,.4M250.3,69.1l2-5.7M42.4,192.9l-7.5-9 1.7-7.5 10.7-5.1 8.4,11.3-13.3,10.3 .2,7.9M28.4,185.9l6.5-2M57.8,183.1l-2.1-.5M47.3,171.3l1-3.4-6.7-7.7M32.8,172.9l3.8,3.5M48.3,167.9l6.4-4.3 11.2,4.2 .7,6.4M49.3,145.4l7.2,7.8-1.8,10.4M106.3,170l4.9-7.6 12.7,0 4.2,9.5M132.8,99.3l-2.8,3.8 8.2,14.1 4.3-1.2M127.5,37.5l-6.4,16.3 1.6,1.4 10.7,.1 7.4-7.9 .1-4.5-13.4-5.4-1.7-3.2 .8-6.5 7.7-2.6M150.7,57.8l-9.9-10.4M139.3,67.3l-5.9-12M124.4,70.1l-1.7-14.9M120,75l-14.2-6 .4-4.8M117,53.6l4.1,.2M140.9,42.9l5.6-4.9-4.1-10.6M126.6,27.8l-4.1-5.7M108,43.2l1-5.2 16.8-3.7M86.9,35.2l.7-2 5.1-.6M109,38l-3.7-7.1-.8,.1M118.2,20.9l-11,5.3M105.3,30.9l.5-1.9M87.6,33.2l-.8-3.2M121.3,83.9l-8.2,7.5-10.3-4.9-1.1-13.9 4.1-3.6M77.9,96.9l7.8-10.1 9.3,4 .3,10.7-10.6,6.4-3.2-1.8M77.6,67.9l3.2,11.5 3.2,1.9 10.6-9.2-10.1-12.5-6.9,8.3-8-.3M67.7,82.4l13.1-3M84.6,58.8l-.1,.8M101.7,72.6l-7.1-.5M85.7,86.8l-1.7-5.5M95,90.8l7.8-4.3M511.5,602.3l-7.6-2.7 .5-5.8 2.5-.8M490.6,600.7l10.7,1.7 0,1.1M503.9,599.6l-2.6,2.8M334.1,535.4l-1,9.1-20,4.8-8-9.3 2.3-13.6 4.3-3.7 22.4,12.7 9.4-10.2M337.7,551.9l-4.6-7.4M312.9,516.6l-1.2,6.1M309.6,563.1l3.5-13.8M287.9,546.3l17.2-6.3M279.2,520.6l28.2,5.8M528.2,657.8l2.2,3.8 6.1,.2 4.2-4.6M536.5,661.8l5.9,8.4 3.9-.1 4.4-6.8M273.9,257.3l1.6-1.5M504.4,593.8l-.5-.8M428.1,416.1l3.1-6.1-5.6-9.2-12.8,5.8 5,10.6M409.1,372.2l-10.7,2.2-.3,11.1 1,1.2 13.5-3.2 .1-7.9-3.6-3.4-.1-8.7-4.2-3.5 .3-7.4M428.4,359l-4,2.2-5.2-2-.4-.9M409,363.5l10.2-4.3M424.4,361.2l-1,10.4-10.7,4M419.3,458.8l10.6-2.5M430.9,433.8l8.3,9.7M419,321.8l-1.4-.2-.5,.9M403.7,328.3l1.9-.4M414.8,311.6l2.8,10M345.9,436l6.2-10.2-11.6-14.6-2.2-.4M336,402l7.7-10 8.6,1.6-1,12.2-10.8,5.4M390.4,400.9l9.1-7.1 8.7,5.7 1.3,5.6-10,6.9-9.1-11.1-2.4-.2-3.9-14-10.6,2-1.5,9.6 11.2,5.2 4.8-2.8M399.1,386.7l.4,7.1M412.6,383.5l3.9,4.9-8.3,11.1M412.8,406.6l-3.3-1.5M399.3,412.9l.2-.9M425.6,400.8l.2-1.3-6.1-10.5-3.2-.6M373.5,388.7l-3.7-3.9-12.2,1-2.9,6.4 12.9,8.8 4.4-2.7M398.1,385.5l-12.7-.5-1.3,1.7M386.3,420.7l-6.5-2 3.4-15.2M331.5,346.3l10.9,3 6.6-11.7-7.1-5.8M371.5,338.4l-11.2,6.3-7.6-7.4 5.7-9.3M352.7,337.3l-3.7,.3M329.6,348.3l-1.1,14.1-10.4,.1-5.1-6.5M342.4,349.3l4.2,7.2-7.5,7.8-8.7-.2-1.9-1.7M302.1,373l11.6,.7 4.4-11.2M1111.5,238.2l-3.4-2-4.1,1.8-.5,3.9M1108.1,236.2l.4-5.3M1104,238l-4.4-2.3M693.4,145.5l-1.2-2.5 3-4.5 7.7,.4M690.4,109.5l-3.7,4.7 .5,4.3 10.6,4.1 4.1-8.2-2-2.5M704,138.2l-.5-10.4-4.6-2.1-6.1,6.4 2.4,6.4M701.9,114.4l4.1-.2M707.5,126.8l-4,1M697.8,122.6l1.1,3.1M523.8,277.2l-.4,0-1.6-2.2 1.8-8.6 .2-.1M522.6,280.3l.8-3.1M540.6,262l1.9-2.2 .1,0M527.6,236.1l.6,9.1 9.2,1.1M542.5,259.8l-1.5-3.6M531,262.5l.3-5.1 7-2.2M508.4,256.3l-.5,.4 0,.4 5.4,5.9 6.9-.7 2-6M507.7,256.3l.2,.4M528.2,245.2l-3.3,3.4M531.3,257.4l-6.4-4.6M523.6,266.4l-3.4-4.1M521.8,275l-9.9-1.7-1-1.8 2.4-8.5M510.9,271.5l-8.7-2-1.7-3 .6-4.5 6.8-4.9M418.8,308.4l1.5,.3M298.3,166.1l3.1-7.8-4.5-11.4-7.8-3.5-14.9,14.7 3.4,6.3 20.7,1.7 1.7,5.1M322.4,155.3l-21,3M275.1,176.2l2.5-11.8M308.9,137.2l-12,9.7M270,156.3l4.2,1.8M286.5,137.3l2.6,6.1M442.6,132.2l-9.2,3.4M423,118.9l4.5-5.5 5.6,0M1067.7,187.8l2.5,1.9 9.2-3.1 2.8-5.7-8.2-7.3-2.9,.5-4.8,9.6M1084.3,180.7l-2.1,.2M1079,162.3l-5,11.3M1081.4,194.1l-2-7.5M1074.1,198.8l-1.2-.6M1070.4,193.2l-.2-3.5M1071.1,174.1l-7.7-3.7-1.9-8.9 4.7-5.6M1057.4,174.1l5.6-3.5 .4-.2M1061.5,161.5l-.4-.1M1060.9,161.4l-9.9-1.2-3,5.9 1.6,5.3M80.4,340.5l1.5,11.7-11.2,2.4-7.3-9.1M99.1,346.9l-13.1,8.3-4.1-3M51.6,288.4l-1.8-.2-.9,.6-.1,.2M58.9,266.5l11.1,9.9-1.4,6.6-4.6,3.5M50.6,270.1l-.8,18.1M72.1,285.5l-3.5-2.5M29.2,292.6l-4.6-2.5 5.4-12.9 18.9,11.6M29.1,272.4l.9,4.8M24.6,290.1l-5.2,2.5M197.7,432.7l-10.8-10.4-25.1,12.2M221.6,427.7l-13.7,6.9M186.9,422.3l-1.8-11.4 18.3-17.4 18,6.8M237.6,466.4l-22.5,1.5M238.2,506.9l-29.5-14.7-1.6-16.2M114.2,445.4l3.7,.2 6.3,8.1-6.6,8.8-7.5-.6M224,372.5l-15.1-3.7 10.7-22 10.9,3.9 2.9,11.2-9.4,10.6 5.8,11.5M244.2,366.6l-10.8-4.7M244.6,341.8l-14.1,8.9M216,341.4l3.6,5.4M204.3,338.6l-13.7,11-15.4-4 3.3-29.2M208.9,368.8l-8.7,3.3-9.6-22.5M203.4,393.5l-4.6-18.5 1.4-2.9M124.2,453.7l11.2-.8M145,426.1l-1.2-2.1-10-4.1-14.2,6.5-1.7,19.2M105.5,430.8l9.4-5.4 4.7,1M185.1,410.9l-15.9-11.5-8.9,1.2-16.5,23.4M198.8,375l-23.3,2.7-6.3,21.7M220.5,175.6l-9.8-4.5-1.5,1.2-3.4,18.4M192,187.3l1.1-14.7 16.1-.3M178.3,171.4l12.6-.9 1.7-13.9-13-2.2M190.9,170.5l2.2,2.1M190.8,140.5l-7.1-2.4-1.1-6.1 7.1-10.3 10.2,3.6 1.4,9.4-10.5,5.8 4.3,14.1-2.5,2M179.2,142.3l4.5-4.2M187.6,116.9l2.1,4.8M168.7,124.6l13.9,7.4M205.7,120l-2.8,2.5M201.4,123.9l-1.5,1.4M166.3,141.1l.3-15.9M240.7,116.1l-12.9,10-4.1-1.3-3.5-17.7M242.7,141.9l-9.4-1.5-5.5-14.3M208,120.4l11.4,5.5-9.4,14.6-8.7-5.8M219.4,125.9l4.3-1.1M234.1,164.7l-5.5-5.6 .4-15 4.3-3.7M114.2,291.4l-3-9.6 8.1-17.8 9.5-.5 15.3,17.7M152.2,245.8l-15.4-.6-8,18.3M129.2,227l-.8,7 8.4,11.2M89.7,260.2l-8.9,4.4-1.5,6.4 10.9,9.7 8-5.1 .2-8.5-8.7-6.9 2.1-7.8-10.2-8.5-6.4,2.5M111.2,281.8l-13-6.2M98.4,267.1l14.2-7.8 6.7,4.7M89,288.3l1.2-7.6M70,276.4l9.3-5.4M73.1,256.4l7.7,8.2M83.1,229l2.2,5.3-3.7,9.6M276.8,57.7l-3,1.9 2.9,12.8 13.2,2.6 9-13.5M268.4,57.7l5.4,1.9M269.9,81.1l6.8-8.7M294.8,88.4l-4.9-13.4M172.1,35.2l.4,1.4-5.6,10.5-5.2,.6-9.3-10 4.6-6.4M146.5,38l5.9-.3M154.9,58.2l6.8-10.5M176.3,55.5l-9.4-8.4M184.9,39.3l-12.4-2.7M81.6,149.6l2.8,7.4-5.2,6.5-8.1-1.1-3.3-11 2.6-3.7 11.2,1.9 5.4-7 9.7,2.1 7.3-9.3 .2-3.3-1.9-2.3-13.4-.2-4.4,6.6 2.5,6.4M95.9,166.8l-2.5-8.4-9-1.4M83.6,174.3l-4.4-10.8M54.1,135.8l15.1,5.1 1.2,6.8M56.5,153.2l11.3-1.8M65.9,167.8l5.2-5.4M93.4,158.4l5.1-6.3 9.8,2.6 2.9,7.7M84.7,107.9l2,6.8-2.2,5.6-12.8,4.6-3.4-2.4M69.2,140.9l4.8-6.6-2.3-9.4M530.4,661.6l-2.2,4.4M433.2,645.6l-3.1-1.4-1.4-3M542.4,670.2l-5.2,5.4 2.9,9 .6,.1M551.6,678.9l1-1.2-6.3-7.6M528.2,674.3l0,.2 9,1.1M552.6,677.7l.6,0M450.6,463.4l-1-.3M449.9,471.6l-.6,.3M423.5,477.7l.6-.2M424.7,518.9l5.4,1.8M449,482.9l-.1,0M469.4,350.7l.8,.8-3.1,9-9.2-2.7-.1-7.4M470.2,351.5l3.3-.7M477.6,362.8l-9.2-.1-1.3-2.2M477.4,351l1,.7M444,355l1.4-5M457.9,357.8l-5.3,3.9-9.3-3.9M452.6,361.7l1.3,8.7 .1,0M468.4,362.7l-.4,1.3M446.2,382.9l-8.6,6.5-7.7-7.6 .2-3.8 9.2-6 9,4.7 .1,.9M438.5,365.3l.8,6.7M453.9,370.4l-5.6,6.3M423.4,371.6l6.7,6.4M425.8,399.5l12-6.6-.2-3.5M419.7,389l10.2-7.2M395.4,371.8l-11.2,2.7-2.7-2.2 2.3-12.9 6.2-1.5 5.7,4.7-.3,9.2 3,2.6M385.4,385l-1.2-10.5M404.8,360l-9.1,2.6M394,347l-4,10.9M369.8,384.8l2.3-11.7 9.4-.8M383.8,359.4l-7.7-4.7 1.2-7.5M431.2,410l9.7-1.8 3.7-8-6.8-7.3M444.6,400.2l5.4-1.1M441.3,448l10.5,2M354.8,424.6l6.5-12.6 3.3-1.1 13.7,8.3-6.7,12.1-16.8-6.7-2.7,1.2M351.3,405.8l10,6.2M373.5,445l-1.9-13.7M379.8,418.7l-1.5,.5M367.6,401l-3,9.9M352.3,393.6l2.4-1.4M359.7,353.2l-8.9,4 5,15.8 11.7-4.1 .6-10.6-8.4-5.1 .6-8.5M346.6,356.5l4.2,.7M376.1,354.7l-8,3.6M339.1,364.3l4.7,11.4 10.2,0 1.8-2.7M372.1,373.1l-4.6-4.2M354,375.7l3.6,10.1M330.4,364.1l-2.3,11.1M313.7,373.7l4.8,5.7M343.8,375.7l-5.8,6.3M343.7,392l-5.8-8M305.2,393.5l13.1-7.6M1017.3,322.3l2.2,5.4 3.5,0 .9-.9M1077.3,206.3l-1.1,1.4M669,99.4l-.1,.3-1.2-.2M675.8,123.4l7.4,.8 2.1,6.7-3.4,5-7.5,1.4-2.7-1.3-1.5-4.8 5.6-7.8-3.7-6.1 5.4-6.8-1.6-5.6-5.8-2.9-3.7,5.3M687.2,118.5l-4,5.7M692.8,132.1l-7.5-1.2M692.2,143l-6-.1-4.3-7M667.2,139.3l4.5-3.3M667,129.6l3.2,1.6M445.2,133.2l1.9,4.8M415.4,94l5.7-.5 1-6M427.5,113.4l-2-8.1M423.1,95l0-.1-2-1.4M1048,166.1l-10.8-.1 0,.1M694.9,460.6l-2.5,6 2.7,2.4M70.7,354.6l-5,11.7 14.4,5.1 7.5-7.9-1.6-8.3M52.1,352.2l-.5,.6 10.8,14.8 3.3-1.3M37,378.4l8.1-6 6.7,2.2-.6,15-8.5,1.1M117.6,462.5l1.4,12.2-7.4,6M125.9,500.8l.5-3-14.1-6.3M106,349l.6,12.6-9.3,5.7-9.7-3.8M97.3,367.3l2.8,16-7,2.3-8.3-5.3M80.8,377.5l-.7-6.1M175.2,345.6l-2.7,1.5-5.3,21 8.3,9.6M145.1,320.2l7,21.3 20.4,5.6M129.1,390.1l-9.5-12.4 .3-8.1 12.8-13.8 5.8,.5 10.7,15-4.9,14.1-15.2,4.7-3.6,9.1-16.9,2.8-8.4-18.7 19.4-5.6M133.8,419.9l-8.3-20.7M160.3,400.6l-16-15.2M167.2,368.1l-18,3.2M106.6,361.6l13.3,8M100.1,383.3l.1,0M121.1,342l11.6,13.8M152.1,341.5l-13.6,14.8M198.8,154.4l12.4,10.1 4.2-4.5-.5-15.2-4.5-3.2-11.6,12.8-3.7,.2M210.7,171.1l.5-6.6M210,140.5l.4,1.1M229,144.1l-14.1,.7M228.6,159.1l-13.2,.9M155.6,124l-6.9,11.4-9,.1-3.3-16 1.8-2.3M162.8,144.4l-8-.9-6.1-8.1M159.9,162.8l-13.2-7.4 8.1-11.9M141.4,168.9l2.3-12.7 3-.8M115.6,239.2l-4.6,16.2-13.6-6 2.2-12.5 3.8-2.7 12.2,5 12.8-5.2M112.6,259.3l-1.6-3.9M102.8,222.2l.6,12M85.3,234.3l14.3,2.6M91.8,252.4l5.6-3M84.5,120.3l4.4,9.3M74,134.3l10.5,1.9M86.7,114.7l14.9,3.7 .7,11.4M108.3,154.7l6.1-8.5-10.4-10.8M98.5,152.1l-1.8-7.4M113.3,95.2l-9.6,10.2 2.1,7.6 12.3,1.7 4.5-9.8-9.3-9.7-.2-3.8M95.3,101.5l8.4,3.9M130,103.1l-7.4,1.8M136.4,119.5l-14.5,2.7-3.8-7.5M101.6,118.4l4.2-5.4M104.2,132.1l16-4.6 1.7-5.3M664.7,395.8l-4.5,.2-2.8-6.8 6.4-3 .9,1M646,397.1l-1.2-2.9M650.7,397.1l2.4-9.3-4.4-1.3-4.1,4.5M543,584.8l2.7-7.7 8.1-3.6 .7,.7M557.3,584.5l1.5-5.9-4-4.1M558.8,578.6l9.7-.9M530.6,583l1.9-1.1 2.3,1.3M511.2,676.6l.6-.4 0-1M511.8,676.2l5.8,4 8.3-2.3 2.1-3.1M430.1,644.2l-.1,.4M517.6,680.2l-.2,6.7M525.9,677.9l4.7,11.7-9.1,3.5M540.1,684.6l-8.3,5.4-1.2-.4M667.8,458.9l6.9,.2 .2-6.8M680.3,446.6l1.7-3.4M452.4,416l-7.6-1.8-5.7,11.3 8,2.9 6.2-6.2M440.9,408.2l3.9,6M434.1,427.2l5-1.7M440.6,444.4l10-8.9-3.5-7.1M1164.7,129.4l12.6-4.4 3.4,1.4M1160.3,120l10.2-7.9 6.8,12.9M1160,102.7l11.2,6.6 2.7-1.9M1171.2,109.3l-.7,2.8M1002.5,326.9l-.1,.3M1040.4,388.2l-.9-2.5-4.9,.7M1037.7,392.1l-1.6-.5M686.2,142.9l-3.9,6.4-6.5-1.5-1.4-10.5M683.6,152.1l-1.3-2.8M666.6,114l1.3,2.8 4.2,.5M676.5,104.6l-.6,.3M668.9,99.7l1.2,2.3M686.7,114.2l-9.2-3.7M666.7,117.8l1.2-1M499.3,280.3l.2-.2-.8-2.4-9.3-4.5-2,1.1 .7,6M489.4,273.2l1.9-4.5 9.2-2.2M502.2,269.5l-3.5,8.2M485.2,274l2.2,.3M485.2,261.7l3.3-.2 3.8-5-.1-1.5M491.3,268.7l-2.8-7.2M501.1,262l-8.8-5.5M511.9,273.3l-3,7M499.5,280.1l.3,.2M1038.8,153l-.3,1.4 11.5,3.4 1.9-7.8M1035.9,156.1l2.6-1.7M1051,160.2l-1-2.4M1037.2,166l-.1-.2M1065.8,149.9l-6.1-1M1058.6,148.8l-.8-.1M793.6,402.4l.4-.2M723.3,408.1l-.1,.4 4.1,2.2M692.4,466.6l-6.1,2.1-.2,.6M694.1,459.9l-7.8-3.8-4.4,4.9 4.4,7.7M686.3,456.1l0-2.8-6-5.2M674.7,459.1l1.6,1.7M681.5,461l.4,0M32.6,362.9l8.3-.1 4-8.3M45.1,372.4l-4.2-9.6M51.6,352.8l-3.4,.6M51.8,374.6l8.1-3.3 2.5-3.7M96.6,428.8l-4.6-2.7 .3-3.6 12.5-9 10.1,11.9M108.6,402l-3.9,4.1 .1,7.4M92,426.1l-1.4,1.3M59.9,371.3l5.4,9.7M51.2,389.6l3.8,3.4 11-4.8M47.8,406.4l7.7-6.2-.5-7.2M130.5,494.1l-2.4-15.1 15.8-8.5 4.9,8.4-8.3,15.7-10-.5-4.1,3.7M119,474.7l9.1,4.3M144.9,462.7l-1,7.8M180.3,468.1l-3.4,6.1-18.7,8.6-9.4-3.9M126.3,157l-6.5-11.3 5.9-8 10.1,1.1 2.2,13.9-11.7,4.3-2.4,5.4M114.4,146.2l5.4-.5M143.7,156.2l-5.7-3.5M139.7,135.5l-3.9,3.3M120.2,127.5l5.5,10.2M643.9,376.2l2.3,1.8 4.3-2.8M648.7,386.5l-3.2-4.9 .7-3.6M653.2,387.8l-.1,0M654.2,386.8l1.1-3.2M664.2,383.6l-.4,2.6M654.2,387.8l3.2,1.4M660.2,396l-2,2.5-4,.7M553.8,573.5l.7-5.9 .5-.4M534.5,699.8l1-1.4 5.2,.5M531.8,690l3.7,8.4M690.6,449.7l-4.3,3.6M645.5,381.6l-1.4,.4M450.6,435.5l2.4,.4M996.5,488l.4,.2 7-3.6-1-6.5-3.8-1.4M1008.3,489.5l-.1-2.5 2.2-1.1M1003.9,484.6l4.3,2.4M1002.9,478.1l4.7-3.7 1.6,.9M1031.6,383.1l.2-2 2.8-2.3 3.6,.3 2.6,3.2-1.3,3.4M1033,374l1.6,4.8M1038.2,379.1l.4-1M675.8,147.8l-3.9,2.9M667.8,150.2l-.3-.1M778.3,387.8l1.3,.4 .4,1.2-1.3,2.9M780.3,386.9l-.7,1.3M780,389.4l5.9,1.6-.3,3-4.5,2.6-2.3-2.7M772.1,396.6l.1-.1 .2-.4M787.2,405.3l1.5-3.2-.6-1.2-7.4-.6-.5,.6M772.2,396.5l4.4,5.3 2.4-.4M781.1,396.6l-.4,3.7M788.1,400.9l.8-3.5-3.3-3.4M776.6,401.8l-1.5,2.3M792.3,403.1l-3.6-1M788.9,397.4l5.2-2.4 .5,.3 .7,4.2M714.6,404.9l0,1.1-6.2,3.5-2.4-.7-1.7-4.4-.1,0M723.2,408.5l-2.9,1.7-5.7-4.2M704.9,409.8l1.1-1M711.7,415.3l-2.3,4 2.1,5 3,1.1 2.2-.7 3.7-7.2-1.4-2.8-7.3,.6-3.3-5.8M707.5,419.1l1.9,.2M720.3,410.2l-1.3,4.5M717.9,425.5l-1.2-.8M727.3,419.8l-6.9-2.3M707.5,427l4-2.7M714.4,428.4l.1-3M789.1,375.8l-.5,1.9-5.1-.2M785.9,391l2.4-2.5 4.7,1.8 1.1,4.7M783.5,384.3l4.1,1.1 .7,3.1M788.6,377.7l1.7,2.7-2.7,5M682.2,472.6l-4.3,.8-2.1,3.6M675.3,463.5l-1.5,4 4.1,5.9M92.3,422.5l-7.8-9.9 8.3-8.8 11.9,2.3M93.1,385.6l-4.7,9.2-5.6,.6M74.3,394.2l1,2 7-.8M88.4,394.8l4.4,9M140.5,494.6l6.8,7 12.2-4-1.3-14.8M147.3,501.6l-.1,1.2M660.2,403.2l-2-4.7M545.7,577.1l-7.1-7.3 1.5-3.1M554.5,567.6l-5.7-3.3M559.4,383.6l5.4-4.9 2.8,.2M558.8,383.6l-2.6-2.2M550.8,364.8l.5-.2 .2,.2M545.2,354.3l-.5,.4M546.7,354.3l7.2,4.2-2.6,6.1M564.8,378.7l-2.3-4.5M994.3,498.7l4.7-3.9 3.6,1.4 1.2,4.8M996.9,488.2l2.1,6.6M1006.9,493.4l-4.3,2.8M1023,327.7l3.2,5.4 1.4-.2M1007.6,473.4l0,1M1046,384.2l-3.4-2.2 1-1.1M1040.8,382.3l1.8-.3M801.2,396.3l1.5,1.8 1.7,.2 3.1-4.9-2.9-4.4-2.4-.1-1.9,5.1M802,398.9l.7-.8M806.4,400.5l-2-2.2M794.6,395.3l3-.2M812.4,398.1l-1.9-4.4-3-.3M810.5,393.7l1.8-1.9M804.6,389l3.8-3.2M793,390.3l4-3.5-3.6-6.1-3.1-.3M802.2,388.9l-2.3-2-2.9-.1M876.8,394l-.8,.2M881.6,395l1.6,1.4 .5,3.8-1.9,2.6-1,.1M885,410.9l1.8-1.3-5-6.8M889.8,412.8l-1.5-3 5.5-4.7 2.9,1.3 .1,.3M886.8,409.6l1.5,.2M883.7,400.2l7.9-.5 1.4,1.1 .8,4.3M897.8,405.9l-1.1,.5M897.6,397.8l-4.6,3M893,392.2l-2.2,1.4-2.9-1.6-.1-.1M891.6,399.7l-.8-6.1M883.2,396.4l4.7-4.4M873.3,388l.4-.2M673.8,467.5l-.8,.2M76.9,415.8l4.2-3.5-6.9-12.8-10.7,6 .4,8.5M84.5,412.6l-3.4-.3M75.3,396.2l-1.1,3.3M55.5,400.2l8,5.3M189,522.4l3.4-3.8-1.2-7.5-12.7-7.8-7.5,.7-.7,.9M176.9,474.2l1.6,29.1M159.5,497.6l11.5,6.4M208.7,492.2l-17.5,18.9M214,532.7l-21.6-14.1M501.5,464.7l-2.7,4.3 3.5,5.6 5-1.4M502.3,474.6l-.6,1.6M498.8,469l-4-.1M556.2,354.6l-1.2,3.3-1.1,.6M1026.1,374l1.3,.4-.3,4.2-.3,.2M1027.9,374l-.5,.4M1031.8,381.1l-4.7-2.5M1008.2,355.7l-2,.1-.1,1.9M1016.8,363.6l.1-.6-1.2-.8M1006.2,355.8l-1.1-1-3.3,1M1005.1,354.8l-.2-2.3M1010,324.7l1,6.1-3.3,1.4-3.4-1.7M1019.5,327.7l-1.1,1.5-6.3,2.1-1.1-.5M1023.4,363.6l-1.1-2.4-2.4-.7-3,2.5M1022.3,361.2l1.5-.6M1019.9,360.5l-.9-5.8-2.6-1.2M805.6,376.1l-.9,2.5-2.2,.5-4.4-1.9-.5-2M806.5,380l-1.8-1.4M799.9,386.9l2.6-7.8M793.4,380.7l4.7-3.5M532.5,581.9l-1.5-7.1-8-.2M538.6,569.8l-5.7,1.8-1.9,3.2M532.9,571.6l-3.5-5.4M563.1,363.7l-1.2-3.1 5.3-5.2M555,357.9l1.2,.5M557.2,358.8l4.7,1.8M1007.7,332.2l-1,2.5M1012.1,342l4.9,3.5-.5,1M1012.1,331.3l2,5.7-2.9,3.7M1019,354.7l.6-.4M1014.1,337l4.4,.6 .8,7-2.3,.9M1018.4,329.2l2.4,6.9 2.4,.1 3-3.1M1020.8,336.1l-2.3,1.5M1024.3,348l1.5,0M1021.5,345.2l4.4-4.6 2.3,.4 .7,2.4M1019.3,344.6l.7,.2M1023.2,336.2l2.7,4.4" fill="none" stroke="#ffd8c8" stroke-opacity="0.34" stroke-width="1.25"/>
<path d="M615.1,613.1l-1,2.2 1.1,1M607.3,612.7l3.8,3.1 3-.5M608.3,601.8l6.4,1.7M616.5,628.4l-5.1,3.1 .1,3.4 8,6.8 2.7-2.6M619.5,641.7l.3,4.3 1.9,2.5-1,3.5M611.1,615.8l-3.8,4.9M605.9,622.6l-.9,1.1 .4,3.3 6,4.5M610.8,659.9l-.5-1.9 4.5-1.3M552,171.4l3.1,.7 .2,1.6M548,184.2l-3.3,6.4-7.3-.1M555.2,202.9l-2.5-2.9 3.5-4.6M558.3,192.6l3.1-4.1 5.2,5.1M552.7,200l-3.6-.5-2.9-5.9M544.7,190.6l1,1.9M558.3,183.6l2.8,1.9 .3,3M774.6,487.4l-6.1,3.6-1.5-.5-1.6-3.6 1.4-4 5.7-2.3 2.2,2-.1,4.8 4,3.7-1.4,3.8 3.6,5.3-2.5,3.2-7.6-.5-.8-1.6 2.1-5.1 5.2-1.3M619.8,646l-12.8,2.4-3.5-4.4 8-9.1M610.3,658l-3.1-1.9-.2-7.7M603.5,644l-3.6-.8-4.1,2.9-1.9,10.7 4.5,3.9 8.8-4.6M605.4,627l-9.6,5.7 4.1,10.5M624,564.9l1-1.3-5-3.9M620,555.4l.1-3.1M756.7,563.6l-2.6,7.7-1.9,.7-5.3-3.7 .6-5.2 6.9-1.2 2.3,1.7 1.7-.1 5.7,4.9-1.2,5.3-2.8,.8-6-3.2M699.3,621.6l2.1-2.1-.1-6.1-6.8-1.7-2.7,4.1M704.6,621.6l-3.2-2.1M642,234.2l-.7,1.1-1.9-1.1M621.9,234l-1.6,.5-9.2-7.7 .1-1.6 .3-.3M611.2,225.2l-.7-.3M611.1,226.8l-.7,1M613.7,111.1l0-.2 4-1.6M613.7,110.9l-5.3-3.7 2.1-5M608.4,107.2l-2.8,.5-1.6,3.4M619.7,242.6l-2.2-2.5-4.9,1.4-.3,1.1M620.3,234.5l-2.8,5.6M610.4,239.7l2.2,1.8M629.3,240.5l-2.5-6.3M563.5,238.6l5.2-.2 2.1,2M569.4,233.2l-.7,5.2M549.1,199.5l-4.6,3.4M570.8,182l-2.4-1.2 1.3-7.2 1.1-.3M566.3,165.4l-1.6,1.1 5,7.1M560.9,165.4l-5.8,6.7M561,165.4l3.7,1.1M561.1,185.5l7.3-4.7M529.1,220.1l.2,.6M535.3,156.1l6.5-1.2M544.6,164.3l2.6-6.4-1.1-3M547.2,157.9l3.8,1.5M774.2,468.1l-3.4,1-1.6,4.6 3.1,3.7M772.6,477.4l1.6-1.1M793.1,499.4l.5-.3 6,5.5-4.9,6-1.4-1M789.2,501.1l-1.2,.6 .2,1.8M794.3,497.2l-.7,1.9M788,501.7l-2.6-2 .6-6.5 .8-.5M778.6,491.1l2.6-.8 4.8,2.9M785.4,499.7l-4.6,.5M768.5,491l3.5,5.2M769.9,501.3l-7.8-2.2-.9-1.7 .3-1.7 5.5-5.2M725,546.3l.3,.7 2.5,1 7.3-5.7 0-4-3.9-4.3-2.4-.3-4.3,3.6M724,543.3l-1.5-4.3 .1-.1M761.5,495.7l-5.2-7.7 1.5-1.7 7.6,.6M754.4,488.8l.3-.4 1.6-.4M754.4,497.7l6.8-.3M893.1,599.5l1.4-.5 .7,.5M741.5,574.2l-.1-3 5.5-2.9M752.2,572l-2.3,5.5-3.5-.7M748.6,525.5l-6.2,3.3 .5,5.9 3.6,2.1 5.5-5.1-1.8-5.2-1.6-1-.8-4.8-2.5-2.3-4.7,1.2-1.6,6.9 3.4,2.3M735.1,538.3l7.8-3.6M731.2,534l3.9-6.9 3.9-.6M758.4,563.5l6.1-6.7 4,1.7-.5,7.7-3.9,2.2M778.5,563.9l-8.3-5.9 4.2-5.2 8,2.4-3.9,8.7 .2,1.3-4.2,4.4-6.5-3.4M770.2,558l-1.7,.5M752,531.7l4.9,1.7 3-4-2.4-5.5-7.3,2.6M690.3,574.5l-6-4.5-2.5,.4-3.8,6.8 .4,1.4 6,2.7 5.9-6.8 .9-.1 3.6-6.8 5.5-1.3 1.8-4 .1-.1 1-2.4M584.2,639.7l.2,4.1-2.1,2.7-8.6,.5-.1-.1M595.8,646.1l-11.4-2.3M595.8,632.7l-1.3-.5M582.3,646.5l2.4,10.8 9.2-.5M625,563.6l3.3,0 .5,.3 .2,1M636.3,575.1l4.7-.2-.2,6.3M626.1,538.3l.7,.2 .8,2.5M631.8,547.5l3.3,.1 5.3,6 0,1.9M640.4,555.8l0,.9-1.4,1.5M628.8,563.9l5.4-.6 2.8-3M628.3,563.6l2-12.1M702.2,562.2l9.4,1.3 .2-7.5-3.3-2M684.4,581.3l1.4,4.6-9.3,5-3.2-6.5 5.1-5.8M694.5,611.7l-2.4-3.8M704.2,602.8l-1.1,9.3 7.8,1.2 5.1-5-1.9-4.6-5.6-2.8-4.3,1.9-5.4-2.8-4.6,1.6-1.5,3.3M701.3,613.4l1.8-1.3M698.8,600l1-8.4 7.9-.2 1.6,1.8-.8,7.7M717.5,593.3l2.6,3.3-6,7.1M715.9,592.6l-6.6,.6M710.9,613.3l2,7.2-2.6,1.7M735.8,555.3l3,6.9 6.5-1.3 .6-5.2-6-3.4-4.1,3-5.7-.8-2.9,4.7 7.4,8.2 1.7-.3 2.5-4.9M735.1,542.3l5.6,4.2-.8,5.8M730.1,554.5l-2.3-6.5M741.4,571.2l-5.1-4.1M747.5,563.1l-2.2-2.2M740.7,546.5l3.8-1.2 3.2-5.7-1.2-2.8M756.9,533.4l.5,1.9-3.8,6-5.9-1.7M436.3,571.4l8.2-2.4 2.3,.7M444.5,569l-.3-4.1M577.2,737.1l-1.3-4.8-3.7-1.5-3.8,3.3M562.4,643.3l-4.3,2.3 4.2,7.6 8.1,.9 3.3-7.1M584.7,657.3l-3.4,4.2-1.5,.2-7.4-3.5-2-4.1M552.9,647.2l-.5,.6M558.1,645.6l-1.6-.4M562.3,653.2l-1.9,3.7M598.4,660.7l-.2,5.7-10.7,3.9-6.2-8.8M599.6,668.2l-1.4-1.8M592.4,105.5l6.3-2.6 1.4-6.3-3-3.2M603.3,95.3l-3.2,1.3M605.6,107.7l-6.9-4.8M617.8,190.4l-2.4,1.1-.3,3.5 1.9,1.7M614.7,190.4l.7,1.1M641.3,235.3l.4,3.2-2.7,2M644.9,240.5l-3.2-2M615.1,195l-3,1.7M459.4,268.6l.9,3.5-1.6,4-2.1,.6M528.6,219.8l-2.2,1.1M513,205.4l2.3,4.8 2.9-.1M534.1,131.6l4.5-3.1 6.9,5.6M793.6,524.5l.8,.2 1.6-.9-2-9.3-.6,.2M790.2,523.5l-2.6-.7-1.7-5.6 4-1.3M751.5,503.5l3.8,4.9 4-.8 2.8-8.5M745.3,518.4l.8-5.7 7.6-1.6 1.4,6.3-7.3,3.3M757.5,523.9l1.2-3.7-3.6-2.8M775.3,467l1.4-3.9 2-1.3 .8,.2M781.2,490.3l2.6-6.7 1.9,.4M774.7,482.6l7.3-1.1 .1-1M772.5,480.6l0-.1M782,481.5l1.8,2.1M745.4,486.8l-.1-2.3 2.3-1.4 5,3.7M754.4,488.1l.3,.3M735.8,488.9l-.1-.4 .6-.6M745.3,484.5l-1.8-.3M740.6,519.6l-4.4-3-5.2,5.3 4.1,5.2M757.6,582.3l-.5-.8-5.5-.8M760.1,574.5l-3,7M749.9,577.5l1.1,3.1M765.3,581l1-4.8 4-.1 1.6,3.8M762.9,573.7l3.4,2.5M774.5,569.6l0,2.9-4.2,3.6M833.8,578.6l-2.3-.6-2.7-6.6 .9-1 8.4-.4 2.9,3.7-.5,2.4-3.8,2.5M831.5,578l-.4,.6M828.8,571.4l-2.4,.1-6.9,5.1 1.1,3.8M791.6,560l-.1,.1-7.7-5.5 1.3-4.7 5.9-2M794.8,549.5l2.6,1.8 .1,2.6-1.5,2.7M782.4,555.2l1.4-.6M791.5,560.1l-1.5,6.4-4.5,1.3-6.8-2.6M759.9,529.4l5.2,0 2.3,7.1-.6,1.2-3.3,.9-6.1-3.3M794.7,510.6l.2,2.4-.9,1.5M785.9,517.2l-1.3-.6-1-1.7M778.3,503.4l1.8,7.6 1.5,.6M669.8,564.8l.2,1.9 1.7,1.5 5.8-1.5 2-7-5-2.2-5,3.5 0,.9M678,577.2l-6.2-3.9-.1-5.1M677.5,566.7l4.3,3.7M667.7,583.2l5.6,1.2M666.8,581.8l-.7-3.9 5.7-4.6M641,574.9l.6-.7 .6-4.8-6.7-5.1M634.2,563.3l.5,.3M642.2,569.4l2.9-2.4 .4-6.1-5.1-4.2M641.6,574.2l7.1,2.4 2,7.3-1.9,2.2M605,623.7l-1.4-1.1M720.1,596.6l2.2,.4 3-3.4M707.7,591.4l1.4-8.1 2.2-1.4 5.8,.4 .7,.6M722.7,571.3l-3.2,.6-5.6-3.4-.4-2.9 7.9-6.1 3.3,.8-.8,10M725.3,547l-.2,.1M724.8,547.2l-6.5,2.6-1,4 4.1,5.7M727.2,559.2l-2.5,1.1M711.8,556l5.5-2.2M711.6,563.5l1.9,2.1M734.6,567.4l-2.8,2.9M713.9,568.5l-4.6,3.8-5.6-.3-3.4-5.7M709.3,572.3l2,9.6M717.1,582.3l2.4-10.4M675.3,598.3l-.7-3.4 1.4-1.2 8.2,3.8-.4,2.5M694.2,601.6l-5.7-6.1-4.3,2M685.8,585.9l4.5,3-1.8,6.6M676.5,590.9l-.5,2.8M730.7,600.8l-4.6,.9-1.4,4.4 5.3,5.7 4.6-2.3 1.2-4.1-5.1-4.6 3-6.4-.3-.5M722.3,597l3.8,4.7M735.8,605.4l4.9-2.6-1.8-6.5-5.2-1.9M716,608.3l1.9,.6 6.8-2.8M754.4,554.4l8.1-1.2 .7-3.8-3.2-4-4.6-.7-4.3,6.1 .2,1.6 1.5,1.2M744.5,545.3l6.6,5.5M753.6,541.3l1.8,3.4M763.5,538.6l-3.5,6.8M766.8,537.7l4.5,8.2-8.1,3.5M754.4,561.9l-.4-6.2M745.9,555.7l5.4-3.3M764.5,556.8l-2-3.6M774.4,552.8l-1.7-6.5-1.4-.4M579.8,661.7l-6.3,10.3M572.4,658.2l-5.6,5.8M575.9,732.3l2.8-1.4M572.2,730.8l-2-5.9 4.5-6.2 4.2,1.4M577.2,709l-3.9,4.7 1.4,5M454.9,461.6l-2.9,2.1 .1,6.5-.1,.1M452.1,470.2l3.7,3.8-1,7.4-2.8,.7M455.8,474l10.4-2 1.6,4.2-7.1,9.4-5.9-4.2M449.9,493.6l5.1,.5 5.8-8.2-.1-.3M524.5,291.7l.7,5 5.1,2.1 7.3-6.3-.3-.8M607.3,148.3l2.2,.3 2.7,4.3M609.5,148.6l6.5-4 .2-3.2M659,246.8l.3,1.3 7.8,4.9 3.8-2.9M458.7,276.1l4.7,6.5-4.3,5.9-2.5-.1M470.2,280.7l-2.7,2.4-4.1-.5M460.3,272.1l9.9-.4M467.5,283.1l2.7,5.5M507.1,217.4l3.6,.5 1.8,3.6M515.3,210.2l-4.6,7.7M469.1,322.2l.8-1 9.6,.8M454.5,185.4l4.5-7.9 4.3-.3 4.6,11.6M491,187.4l-.8,2 .8,.3M490.2,189.4l-2.1,1.2 .1,4M459,177.5l-4.5-4M487.7,98.6l-.6-.6-4,.6M560.3,126.5l-2,.3M511.7,89.2l4.7,4-1.4,5.4M522.7,89.2l0,.7-6.3,3.3M492.1,87.4l-.9-.3-1.9,1.2-2.2,9.7M491.2,87.1l0-.1M766.8,482.9l-2.4-2.4M757.8,486.3l.1-5.8M769.2,473.7l-6.4,.6-1.2,3.1M733.5,487.6l2.2,.9M796,523.8l5.3,1.1 3.2-3.7-1.6-6-8-2.2M761.7,509.1l2.8,6.4 7.9-3.7-2.5-5.7-8.2,3-2.4-1.5M755.3,508.4l-1.6,2.7M758.7,520.2l5.1-1.5 .7-3.2M770.7,502.9l-.8,3.2M772.4,511.8l2.2,1.1 5.5-1.9M883,582.5l-2.3-5.9 4.5-2.9 3.6,5.4-1.8,2.7-4,.7-1.2,1.4-.1,0M708.2,538.1l1.2,.7M710.9,539.7l3.5,2.2-.1,4.4-7.5,2.4-2.3-5.7 2.2-3M719.2,538.2l.1-.2-2.5-5.3-6.3-.3-2.5,3.9 .1,1.7M717.8,539.3l-3.4,2.6M718.3,549.8l-4-3.5M706.6,549.4l.2-.7M722.5,539l-.1-.1M719.7,538.1l-.4-.1M713,494.9l1.9,4 4.9-.1 4.7-4.1 0-6.9-6.9-3.4-3.2,1.3M724.8,487.6l-.3,.2M733.6,496.4l-.9,1.2-8.2-2.9M732.7,497.6l1.1,3.9-4.8,3.7M728.3,505.7l-2.8,2.2-5.7-9.1M746.8,503.5l-3.5,6.2-4.9-.4-2.4-6.3 1.7-.7M746.1,512.7l-2.8-3M733.8,501.5l2.2,1.5M736.2,516.6l-.6-3.5 2.8-3.8M884,556l-1.6,2.9-5.9-2.1 1.7-3.9 3.8-.5 2,3.6 5.3-.8 1.5-3.7-6.9-2.6-1.9,3.5M883.1,593.7l.4,.3 1.7-2.5-.6-1.4M881.8,583.9l1.4,3M883.5,594.4l0-.4M887,581.8l2.8,5.1M888.1,590.1l-2.9,1.4M886.9,599.5l-.9-.6M894.5,599l.6-5.1-4.6-3.8M723.2,626.7l7.7-6-2.3-4.8-6.9,.1-4,6.1 1.9,3.4M734.2,626.1l-1.1-4.4-2.2-1M717.9,608.9l3.8,7.1M730,611.8l-1.4,4.1M712.9,620.5l4.8,1.6M744,602.5l-1.4,.8 1.4,3.2M740.7,602.8l1.9,.5M741.5,594.2l-2.6,2.1M744,612.1l-1.1,2.4 1.1,.3M733.1,621.7l7.3-3 2,2.7M734.6,609.5l7,5.8-1.2,3.4M741.6,615.3l1.3-.8M844.8,563.5l-5,.5-3.6-3.3 .3-3.4 6.7-3.7 3.2,3.9-1.6,6 1.6,1.6-.8,6.7-4.6,1.9M836.2,560.7l-5.7,3-.8,6.7M838.1,570l1.7-6M772.7,546.3l4.8-3.1 4.8,1.5 2.8,5.2M790.7,540.6l-3.8-.9-4.6,5M805,567l-.8,1.3 2.8,8.8 2.9,1.5 6.4-3.5-1.4-4.8-9.9-3.3 0-.5-8.6-7.4M819.5,576.6l-3.2-1.5M810.3,582.5l-.4-3.9M826.4,571.5l-7.3-7.7-4.2,6.5M798.9,574.2l2-4.5-2.8-.5M792.4,575.7l-.5-.2-.5-7.6 .7,.2M790,566.5l1.4,1.4M804.2,568.3l-3.3,1.4M783,587.5l.5-.2 1.3-8.5-.3-.2M779.5,578.7l1.1-1.4 1,0M788.2,578.6l-.4,.3-3-.1M789.9,577.2l2-1.7M785.5,567.8l-.1,.4M774.5,572.5l6.1,4.8M785.9,588.5l-2.4-1.2M774.6,512.9l-.6,7.1 4.3,2.2 6.3-5.6M763.8,518.7l4.7,4.3 5.5-3M765.1,529.4l3.4-4.2 0-2.2M902.8,601.5l.4-.3M895.1,593.9l3.6-2.7 7.5,3.5M907.5,590.1l.3,1.1M640.4,553.6l7.9-2.6 4.6,6.9-7.4,3M657.7,573.4l-3.4-1.2-2.3-4.2 4.1-8.9 .6,.2M660.5,572.3l-.1,.3M659.6,561.9l-.8-1.9-1.1-.3M645.1,567l6.9,1M648.7,576.6l5.6-4.4M650.7,583.9l4.9-.7 2.3-6.6M670,566.7l-1.6,.4M666.1,577.9l-4-2.8M669.5,561l-5.1-2.8-5.6,1.8M652.9,557.9l3.2,1.2 .5-1.9M655.6,583.2l2.6,1.7M670.8,596.3l.6-.8-.8-.6M674.6,594.9l-3.2,.6M703.4,581.6l-2.4-4.8-6.5,.3-.3,10.6 2.5,.7 6.7-6.8 5.7,1.7M703.7,572l-2.7,4.8M699.8,591.6l-3.1-3.2M691.2,574.4l3.3,2.7M690.3,588.9l3.9-1.2M573.3,713.7l-5.7-1.9-3.1-8.7 1.2-1.2M563.4,680.2l6.5-2.3M562,689l4.6,2.7 7.7-3.8-2.9-10.2M566.6,691.7l.1,.5M577.4,691.2l-.8-2.5-2.3-.8M544.4,726.6l-3.2-3.2-1.6,.3M563.4,723.9l.2-.2-.9-2.6M561.7,725.5l-3.8,3.5-4.9-2.5-.4-9.5 1.6-1.5M560.6,716.2l-2.1-.7M570.2,724.9l-6.6-1.2M567.6,711.8l-6,4.1M558.6,732.1l-.7-3.1M547,728.6l6-2.1M541.2,723.4l2.6-6.6 3.6,.1M549.8,716.9l2.8,.1M564.5,703.1l-2.9,.1M449.9,505.3l5.2,1.2 4.3-6-4.4-6.4M547.6,283.4l.9,8.3-4.9,1.5M537.6,292.5l3.1,1.5 1.9-.5M553,293l-.9,.5-3.6-1.8M475.4,408.9l-3.2,2.6-3.8-.6-.9-.9 .7-5.8M479.1,418.4l5.4-3.2 .1-2.7M475.4,415.4l-3.2-3.9M467.5,410l-9.5-1.4-2-4.4M717.6,484.4l.2-1M458,408.6l-2.9,4.5M466.2,472l1-3.9-5-5.8-5.4-.7M1029.4,422l2.9-2.8-2.2-3.4-6.1,.1M1032.3,419.2l1.9,.4 1.3,2.2M1035.6,421.9l0,.1M564.9,116.3l-5.7-6.7 4.7-7.2 3.7,.2M573.9,117.4l-6.3,.7M563.7,101.7l.2,.7M538.6,128.5l.4-5.7 10.3-5.2 6.4,9.2M559.2,109.6l-4.1,.8M549.3,117.6l2.1-5.9M532.5,116.3l6.5,6.5M623.2,152.9l1-3.2 .8-.5M616,144.6l8.2,5.1M665.4,258.3l1.5-.7 .5,.7M666.9,257.6l.2-4.6M469.9,321.2l-.2-5.6M576.9,283.4l-.2,2.4-3.8,2.8M470.2,293.3l-3.7,4.4 3.7,3.4M525.2,296.7l-3.5,2.8M475.4,190.5l3.6-2.5 9.1,2.6M482.9,173.1l-4.9,4.9-11-3.5 .2-2.3M463.3,177.2l3.7-2.7M479,188l-1-10M491,174.3l-6.8-1.1M489.3,88.3l-6.6-1.3M777.3,455.5l1.4,6.3M776.7,463.1l-7.6-2.7-.4-1.9 2.7-3M770.8,469.1l-3.7-4.1 2-4.6M778.3,437.8l0,1.6-7.2,3.1-3.3-3.8 .4-.9M756.7,438.8l-.2,.1M767.8,438.7l-4.7,1.5-2.8-2.4M768.7,458.5l-1.8-.8M770.9,447.1l.1-.1 .1-4.5M763.1,440.2l-1.3,5.9 1.3,1M780.3,442.3l-.2-.1-2.7,4.9M778.3,439.4l1.8,2.8M771,447l.5,.1M688.7,339.4l4.6,1.5 .4,.9M677.2,344.5l-4.1,4.5 .7,2.2M794.4,524.7l-.7,1.8M793.8,533.6l1.6,1.7 7.4-5.4-1.5-5M797.5,553.9l9.9,3 .8,4.2-3.2,5.4M830.5,563.7l-4.5-3.8-6.9,3.2 0,.7M836.5,557.3l-4.5-4.6-5.3,2.8-.7,4.4M808.2,561.1l9.2,.3 1.7,1.7M832.2,551.1l-5.2-6.2 4.8-5.4 5.4,2.9 0,4.4-5,4.3-.2,1.6M843.2,553.6l.3-2.4-6.3-4.4M876.7,541.9l.5,0 .8,4.4-2.2,2.5-2.1,.2-1.2-1.4M869,545.8l-1.3,.1-2.2-4.9 1.6-.9M839.1,526.5l1.4,2.2 6.3-3.1 .1-.7M830.1,528.4l1.5,5.4 8.4-2.6 .5-2.5M854.7,535.2l-5-2 .6-4.4 3-1M846.8,525.6l3.5,3.2M841.9,534l6.7,.1 .4,6.1-3.2,2.3-4.5-2.3 .6-6.2-1.9-2.8M849.7,533.2l-1.1,.9M837.2,542.4l4.1-2.2M831.8,539.5l-1.1-4.1 .9-1.6M855.7,536.9l.2,.6-2.4,3.5-4.5-.8M843.5,551.2l3.4-3.1-1.1-5.6M875.8,548.8l2.4,4.1M878,546.3l5.3,1 .6,1.6M710.1,512.2l-5-4-.4-5.1 9.6-3.4 .4,11.4-4.6,1.1-2.9,6.6-7.5-.9-.3-5.2 5.7-4.5M702.1,562.3l-3.1-2.5M697,558.1l-2.2-1.8 .8-5.2 1.4,.1M694.8,567.6l-6.3-6.7 6.3-4.6M684.3,570l3.5-9.1-4-2.6-4.3,1.4M688.5,560.9l-.7,0M704.5,543l-5.6-.9-4.4,7.1 1.1,1.9M684,549.4l-.2,8.9M694.5,549.2l-5.8-2M674.5,557.5l-1.6-7.5-6.1-.2-2.4,8.4M672.9,550l.7-.6M726.4,515.2l1.1,6.3-2.1,1.7M725.5,511.2l-.4-.5-7,2.3-.8,9.1 4,3.4 1.1,.1 1.3-1M731,521.9l-3.5-.4M735.6,513.1l-8.8-1.6M725.5,507.9l-.4,2.8M714.3,499.7l.6-.8M714.7,511.1l3.4,1.9M728.8,533.7l-4.1-5.2M723.9,527.4l-1.5-1.8M716.8,532.7l4.5-7.2M880.7,576.6l-.2,0M840.5,576.1l2.4,2.5M845.6,571.8l3.9,1.9 .5,1.2M850,575.2l-1.8,3.4M900.4,586.9l1.2-1.1-.9-5.1-.9-.6-4.9,2.9-.3,1.9 2.6,2M903.7,580l-3,.7M905,586.3l-3.4-.5M898.7,591.2l.1-1.1M891.1,586.9l3.5-2M899.8,580.1l-1-3-4.4-2.1-2.9,3.6 3.4,4.4M891.5,578.6l-2.7,.5M807,577.1l-7,4.1M787.8,578.9l4.5,5.7 .6-.3M792.3,584.6l-.7,2.6M776,531.1l3.6-4.9 5.1,.7 2.3,4.7-2.1,3.2-7.5,.2-1.3-1.4-.1-2.5-7.5-5.9M778.3,522.2l1.3,4M767.4,536.5l8.7-2.9M777.5,543.2l-.1-8.2M786.9,539.7l-2-4.9M787.6,522.8l-2.9,4.1M790.4,531.4l-3.4,.2M794,539.7l1.4-1.2 0-3.2M675.9,339.3l.8-3-5.1-5.4-5.9,5.7 1.4,4.3 8.8-1.6 1.3,2.1M673.1,349l-7.1-4.2 1.1-3.9M663.5,351.2l-.6-1.7 2-4 1.1-.7M686.8,338.7l-1.7-4.9-2.6-.7-5.8,3.2M671.6,330.9l.1-1.8 4.4-1.9M682.5,333.1l-3.2-5.9M583.1,683.8l.4-6.6 2.9-2 4.9,2.8M575.4,675.3l8.1,1.9M576.6,688.7l2.6-1.3M587.5,670.3l-1.1,4.9M534.9,711l6.3,.9 5-7.3-.3-2.2-2.2-2.6M543.8,716.8l-2.6-4.9M547.3,705.3l-1.1-.7M547.1,701.8l-1.2,.6M448.9,517.9l.4,.1 .8,5.1M455.1,506.5l2.3,7.3-1.1,.6M449.3,518l6.9-3.6M460.8,485.9l7.8,5.3-3.1,6.9M459.4,500.5l5.1-.2 .1-.1M530.3,298.8l1.5,5-5.1,5.5-5-.6M509.5,338.7l4.8-4.6-3.3-3.8M488.3,406.2l.6-.3 .9-2.8M484.5,415.2l6.2,2.9 5.4-7.2-7.2-5M491.4,422.2l.4-.4-1.1-3.7M496.1,410.9l1.8-.3M491.8,421.8l1,.4M455.1,420.6l.5,.3M468.4,410.9l-3.6,10.5M471.8,441.4l1.3-1.6 2.1-.1 3.7,3.8-.5,6.6M472.8,439.6l.3,.2M462.2,462.3l.4-.7M467.2,468.1l2.5-1.1M483.3,443.7l-4.4-.2M475.2,439.6l0,.1M898.8,577.1l1.8-1.8M894.4,575l-.1-.8 .8-1.6M891.8,559.8l-1.2-.4-1.3-4.2M890.8,551.5l2.2-1.4 1.4,.1M938.7,477.7l.9,.6-2.9,6.5M944.1,488.5l.1,0 4.2-4.6-4.7-6-4.1,.4M1028.7,409.3l2,1.6 5.6-2.5-.3-1.4M1034.2,419.6l5.9-4.7 5.1,4M1030.1,415.8l.6-4.9M1036.3,408.4l3.8,2.3 0,4.2M1000.2,392.2l1.5,.9 4.6-2.8-.3-3.4-4.5-1.9-1.3,3.7M1040.1,410.7l3.4-2.1 4,2.3M543.6,105.3l-10.5,4.2-1.4-1.9M522.7,89.9l8.4,3.7-1.1,5M551.3,110.6l-3.2-3.4M532.3,113.6l.8-4.1M652.2,254.4l.5,.3 .4,3.6 .1,0M659.3,248.1l-6.6,6.6M466.5,297.7l-.3,0-4.3,8.9M459.1,288.5l3,7.3 4.1,1.9M576.7,285.8l4.5,2.8M747.6,483.1l.7-1.7-.3-.9M748.3,481.4l1.9-.9M756.5,470.6l4.6,.1 .4-1.7M767.1,465l-.2,0M762.8,474.3l-1.7-3.6M756.5,444.8l3.6,1.7-.3,.6M761.8,446.1l-1.7,.4M724.9,344.9l.8,2.7 1.6,.2M717.7,351.5l6.2,.6 1.8-4.5M822.3,503l-1.5,.2-.4-1.1M813.2,506.4l-1.9,4.8-5.2,.1-4.1-7.2 1-1.1 7.5-.8 2.7,4.2 6.4-1.1 .7,1.6M811.3,511.2l1.8,2.9 .8,.1M812,497.8l-1.5,4.4M819.6,505.3l1.2-2.1M802.8,497.2l.2,5.8M802.9,515.2l3.2-3.9M804.5,521.2l6.1,0 .1-.2M812.5,515.8l.6-1.7M799.6,504.6l2.4-.5M906.7,500.2l2.6-4.8-3-1.7M944.2,488.6l0-.1M907.1,505.3l2.1,2.3M909.6,508l.3,.4 .4-.3M909.3,495.4l4.2-1.5M911.2,507.6l2.3-1.3M855.9,537.5l5.8,1.5 .7,1.3-2.6,4.9-5.1-.4-1.2-3.8M846.9,548.1l3.1,.5M850.3,548.6l1.4,.3 3-4.1M846.4,557.5l3.1-.2 2.5-2.9M852.7,553.6l.8-.9 .1-.8-1.9-3M816,523.1l-2.1,1.5 .3,2.3 7.2,2.6 2.8-3.1M821.4,529.5l1,5.4 8.3,.5M810.6,521.2l3.3,3.4M802.8,529.9l3.3,2.5 4.7-.2 3.4-5.3M885.2,573.7l.3-1.4M894.3,574.2l-5.6-3.2M885.7,572l1.4-.8M889.7,567.3l-.3,0-.5,1.1M890.6,559.4l-3.8,3.6 2.6,4.3M882.4,558.9l.9,3.7 3.5,.4M883.3,547.3l1.9-3.7M893,550.1l-1-2.3M891.5,546.6l-1.8-4.5-2.3,0M881.3,540.1l-2.6,.1-1.5,1.7M878.7,540.2l0-.1M626.8,538.5l3.5-5.6M629,530.6l1.3,1.1M635.1,547.6l5.5-5.7-2.3-9.2M702.2,498l1.2,4.2-8.8,2.2-2.5-5.7M704.7,503.1l-1.3-.9M699.4,512.7l-6.1-4.8 1.3-3.5M717.3,522.1l-7.3,1-2.8-4.3M710.5,532.4l-2-5.9 1.5-3.4M708,536.3l-.6-.2M698.9,542.1l-.7-1.5M658,551.4l.9-3.5 5.1-.6 2.8,2.5M849.5,557.3l3.7,3.5 2.6-1.8M853.5,552.7l.6,.9M856.7,557.4l.3,.4M846.4,565.1l3.6,.1M849.5,573.7l.5-.6M853.2,560.8l-.1,.9M662.9,349.5l-3.4,.9M669.9,327.2l1.8,1.9M663,327.2l-1.1,.5-.7,6.3 4.5,2.6M664.9,345.5l-10.8-4.6-2,4.3 1.4,1.8M661.2,334l-7.6,2.6 .5,4.3M661.9,327.7l-.7-.5M652.9,330.3l.6,6.2 .1,.1M693.3,340.9l3.3-6.2 .4,0M685.1,333.8l2.5-2.4M695.5,332.4l.2,.1 .9,2.2M678.9,316.8l0,3.2-6.9-.7M678.9,320l1.4,1.5-.5,1.5M457.4,513.8l4.8,2.3-1,9.1M464.5,500.3l3.8,3.9-3.9,11.1-2.2,.8M479.5,525.2l-5.1-1.7-1.2,1.7M464.4,515.3l8.8,2.5 1.2,5.7M468.3,504.2l5.7,.1 3.5,9.5-4.3,4M468.6,491.2l4.2-.9 .1,.3M474,504.3l4.3-4.1M477.5,513.8l2.7,0M517.7,506.5l1.5,1.9-1.5,3.3M554.2,523.5l-3.5,.3-1-8 1.9-2.4 2.6-.1M547.7,528.3l-.2-.2 .1-.7 3.1-3.6M550.7,510.6l.9,2.8M541.7,507.5l-1.9,.5 .6,6.6 1.3,.2M549.7,515.8l-6.9-.9M547.6,527.4l-4.8-4.2M541.7,522.2l-4.1-3.5 2.8-4.1M517.7,519.4l3.9,1.3 6.4-7-.6-5.1-8.2-.2M538.4,314.4l-.2-.1 .4-8.6 2.9-2.2 1.1,.3M547.9,311.6l-.3,2.4-5,2.2M552.1,293.5l.9,4.5M540.7,294l.8,9.5M531.8,303.8l6.8,1.9M538.2,314.3l-6.9,1.4-4.6-6.4M552,316.4l-4.4-2.4M531.3,315.7l-2.5,5.1-5.5,1.2M541.9,322l.3,3.3-7.1,3.7-6.3-8.2M542.2,325.3l8.6,3.7 1.2-2.2M917.7,557.7l1.2-.3 .1,.3M918.2,549.4l3,3.8-.3,2.3-2,1.9M960.7,512.5l-.3-.1-1.3,.4M954.1,493.6l1.3-1.6 2.3-.3 1.4,1.3M955.4,492l-6.1-8.1-.9,0M958.5,490.5l-.8,1.2M949.3,483.9l3-2.1M960.4,512.4l1-8.2M1043.5,408.6l1.2-3.1M990.6,393.8l3.4,.9 .8-.9M994.9,398.9l-.9-4.2M1000.4,400.1l2.3-3.5-1-3.5M1013.7,399.3l1.1-3-3.5-3.7-1.1,.3-2.7,4.4 1,2.3M1002.7,396.6l4.8,.7M1006.3,390.3l3.9,2.6M1011.6,384.4l.2,.1 1.4,5.1-1.9,3M1009.3,384.4l-3.3,2.5M1017.9,395.8l-3.1,.5M976.2,398.8l2.1,2.5-1.6,3.6-.5,0M462.1,295.8l-5.5,2.1M458.4,306.3l-1.8-.6M724.5,355.4l.3-1 2.5,.4M723.9,352.1l.9,2.3M822.4,534.9l-1.7,1.9-7.4-1.1-2.5-3.5M863.9,444.9l-1.1-.3 1.4-6.2 .2,0M861.3,445.8l.3-.7 1.2-.5M909.9,508.4l-.2,2.1 1.6,3.1 1,.4M909.7,510.5l-9.8,4.5M861.7,539l.6-2.1M862.4,540.3l3.1,.7M911.3,513.6l-2.7,7.3M899.1,515.8l5.4,6.4 3.6-.8M893.5,525.4l.9,1.8-.4,.5M889.7,542.1l3.4-3.4-2.2-4.3M916.6,389.3l.1-.6 5.6-2.9 1.5,.6M912.5,384.3l4.2,4.4M699.7,517.9l-1.1,1.1 1.4,6.8M708.5,526.5l-5.7,1.1M648.3,551l1.7-4.6 5-1 1.3,.8M658.9,547.9l-.7-.4M640.6,541.9l5.5,.4 3.9,4.1M664,547.3l1.4-6.3M881,569.1l.7-.3 .2-4.8-6-.6-.6,1.1M884.8,571.4l-3.1-2.6M883.3,562.6l-1.4,1.4M867.7,545.9l-1.4,1.8-5.1,.2-1.4-2.7M853.6,551.9l6.6-.7 1-3.3M860.2,551.2l1.3,2.2M921.2,553.2l9-4.9-1.1-5.5-7.3-.2M930.1,538.9l.4,.7-1.4,3.2M644.1,330.3l2.1,5.4-5.5,4.6-1.1-.6M653.5,336.5l-7.3-.8M652.1,345.2l-1,.4M640.7,340.3l.3,1.5M541.7,540.4l-.8-.2-.3-7.6 1.1-.7M547.5,528.1l-.3,.2M540.9,540.2l-.7,.7M526.1,492.3l1,1.1 4.5-5.8M520.3,338.7l-1.4-3.8 1.8-2.1M514.3,334.1l4.6,.8M535.1,329l-.5,1.3M552,330.2l-1.1-.7-.4,.8M550.8,329l.1,.5M927.6,564l-1.4-.4-.4-4.4 4.3-1.3M925.9,564l.3-.4M933.8,559.7l4.7,.8-.4,5.1M938.5,560.5l2.4-1.9-1.3-8.3-4.4,0M934.6,550.3l-1.8,0-.8,4.3M920.9,555.5l4.9,3.7M932.8,550.3l-2.6-2M1013.2,389.6l2.8,.1M1012,384.4l-.2,.1M986.4,406.3l-2.2-.5-2.3-4.8 2.5-4.4 1-.1 5,6.1-1.3,2.7-2.3,1M976.7,404.9l1,1.4M978.3,401.3l3.6-.3M983.3,406.3l.9-.5M994.9,400.5l-4.5,2.1M990.1,406.3l-1-1M988,393.8l-2.6,2.7M980.7,393.8l-.1,.3-3.1,.6-.8-.9M976.2,396.9l1.3-2.2M984.4,396.6l-3.8-2.5M943.7,477.9l1-2.1M914.7,376.5l.9,2.9 4.6,.1 2.9-3.1M912.5,382.1l3.1-2.7M922.3,385.8l-2.1-6.3M827,544.9l-2.9,.3-3.1-2.3-.3-6.1M826.7,555.5l-4.6-3.4 2-6.9M817.4,561.4l.1-7.9 4.6-1.4M813.3,535.7l-1.8,6.7 3.8,2.7 5.7-2.2M817.5,553.5l-2.8-1.9 .6-6.5M807.4,556.9l2.2-4.1 5.1-1.2M861.6,445.1l-5.8-3.4-1.5,1.1M853,443.9l-2,1.5 3.1,3.4M846.7,453.1l-1-2.1-4.2-.9-3.2,3.1M846.1,455.7l-1,1.9M840.4,448.2l1.1,1.9M846.6,441.8l2.5,3.6-3.4,5.6M849.5,454.5l-2.3-.6M849.1,445.4l1.9,0M904.5,522.2l-2.3,5.1M893.1,538.7l1.8,0M894.4,527.2l2.4,.8M684.2,499.2l-.8,1M693.3,507.9l-3.3,1.6-7.1-5M692.6,521.2l.5-1.3-5.3-4.5-1.5,.5M698.6,519l-5.5,.9M690,509.5l-2.2,5.9M655,545.4l.1-.3M871.8,554.4l2.5,3.5-.3,.8-.9,.3M876.5,556.8l-2.2,1.1M875.9,563.4l-1.9-4.7M873.7,549l-1.5,1.9M866.3,547.7l.2,.6M944.7,562.3l-1.7-2.9 1.5-.7M940.9,558.6l2.1,.8M943.8,548.1l-1.2-.3-3,2.5M937.3,530.6l1.1,7.1 3.5,1.7 1.3-.7M930.5,539.6l4-.9M936.4,538.2l2-.5M942.6,547.8l-.7-8.4M695.7,332.5l.1-.1M533.1,524.6l1.5,5.7-6.8,6-5.7-5.3 1.6-6.8 9.4,.4 2.9-5.3 1.6-.6M540.6,532.6l-6-2.3M521.6,520.7l2.1,3.5M536,519.3l-8-5.6M527.9,539.8l-.1-3.5M517.7,532.1l4.4-1.1M537.9,503.7l-.3,2.3-8.9,.8-2.2-8.7M538.6,497l-11.4-2-.1-1.6M539.8,508l-2.2-2M527.4,508.6l1.3-1.8M517.7,498.7l2.8-.6M467.8,476.2l1.9,1M472.8,490.3l.1-.2M808.7,543.1l-2,5.4-6.5,.1 .3-7.4 3.5-1.3 4.7,3.2 2.8-.7M809.6,552.8l-2.9-4.3M806.1,532.4l-2.1,7.5M795.4,538.5l5.1,2.7M797.4,551.3l2.8-2.7M864.2,438.4l-4.4-2.9-4.3,1.1 .3,5.1M864.8,430.7l-3.2,0-1.8,4.8M859.6,427.8l2,2.9M647.1,532.7l2.5,2.7 4.5-.2 1.1-2.5M646.1,542.3l3.5-6.9M655.7,537.2l-1.6-2M680.3,321.5l1.1,0M1001.5,385l-.4-.6M853.7,436.5l1.3-.2-.8-3.5M855.5,436.6l-.5-.3M856.5,427.5l-1.7,1" fill="none" stroke="#fff" stroke-opacity="0.22" stroke-width="0.9"/>
<path d="M67.7,84 L75.2,86.5 L87.8,100.3 L90.3,110.4 L110.4,114.1 L132.9,117.9 L155.5,119.1 L175.6,120.4 L200.7,125.4" fill="none" stroke="#1a1010" stroke-width="2.1" stroke-linejoin="round" stroke-linecap="round" stroke-opacity="0.9"/>
<path d="M218.2,47.2 L211.9,82.8 L205.7,107.9 L200.7,125.4" fill="none" stroke="#1a1010" stroke-width="2.1" stroke-linejoin="round" stroke-linecap="round" stroke-opacity="0.9"/>
<path d="M200.7,125.4 L203.2,132.9 L208.2,140.5 L198.1,155.5 L188.1,170.6 L185.6,180.6 L175.6,235.8" fill="none" stroke="#1a1010" stroke-width="2.1" stroke-linejoin="round" stroke-linecap="round" stroke-opacity="0.9"/>
<path d="M25.1,200.7 L114.1,222 L175.6,235.8" fill="none" stroke="#1a1010" stroke-width="2.1" stroke-linejoin="round" stroke-linecap="round" stroke-opacity="0.9"/>
<path d="M234.5,50.2 L232,70.2 L233.9,90 L237.6,97.5 L243.9,108.8 L250.2,117.6 L255.2,120.7 L250.2,132.6 L246.4,142.7 L245.2,150.2 L256.4,148.9 L261.5,157.7 L264,170.3 L270.2,180.3 L272.7,189.1 L287.8,187.2 L304.1,185.3 L306.6,186.6 L309.1,180.3" fill="none" stroke="#1a1010" stroke-width="2.1" stroke-linejoin="round" stroke-linecap="round" stroke-opacity="0.9"/>
<path d="M114.1,222 L107.9,250 L96.6,298.9 L186.9,441.9" fill="none" stroke="#1a1010" stroke-width="2.1" stroke-linejoin="round" stroke-linecap="round" stroke-opacity="0.9"/>
<path d="M208.2,390.5 L203.2,413 L190.6,415.5 L186.9,441.9 L190.6,463.2 L183.1,475.7 L175.6,490.8 L173.1,500.1" fill="none" stroke="#1a1010" stroke-width="2.1" stroke-linejoin="round" stroke-linecap="round" stroke-opacity="0.9"/>
<path d="M234.5,251.3 L208.2,390.5" fill="none" stroke="#1a1010" stroke-width="2.1" stroke-linejoin="round" stroke-linecap="round" stroke-opacity="0.9"/>
<path d="M208.2,390.5 L320.4,407" fill="none" stroke="#1a1010" stroke-width="2.1" stroke-linejoin="round" stroke-linecap="round" stroke-opacity="0.9"/>
<path d="M175.6,235.8 L234.5,251.3 L300,260" fill="none" stroke="#1a1010" stroke-width="2.1" stroke-linejoin="round" stroke-linecap="round" stroke-opacity="0.9"/>
<path d="M309.5,179 L448.2,193.4" fill="none" stroke="#1a1010" stroke-width="2.1" stroke-linejoin="round" stroke-linecap="round" stroke-opacity="0.9"/>
<path d="M309.5,179 L293.8,289.5" fill="none" stroke="#1a1010" stroke-width="2.1" stroke-linejoin="round" stroke-linecap="round" stroke-opacity="0.9"/>
<path d="M458.7,83.8 L453.5,167.3" fill="none" stroke="#1a1010" stroke-width="2.1" stroke-linejoin="round" stroke-linecap="round" stroke-opacity="0.9"/>
<path d="M453.5,167.3 L480,169.6" fill="none" stroke="#1a1010" stroke-width="2.1" stroke-linejoin="round" stroke-linecap="round" stroke-opacity="0.9"/>
<path d="M453.5,167.3 L447.2,193.4 L445.1,248.1" fill="none" stroke="#1a1010" stroke-width="2.1" stroke-linejoin="round" stroke-linecap="round" stroke-opacity="0.9"/>
<path d="M250,254 L297.2,260.4" fill="none" stroke="#1a1010" stroke-width="2.1" stroke-linejoin="round" stroke-linecap="round" stroke-opacity="0.9"/>
<path d="M293.8,289.5 L333.5,296.8 L442,306.2" fill="none" stroke="#1a1010" stroke-width="2.1" stroke-linejoin="round" stroke-linecap="round" stroke-opacity="0.9"/>
<path d="M448.2,230 L442,306.2" fill="none" stroke="#1a1010" stroke-width="2.1" stroke-linejoin="round" stroke-linecap="round" stroke-opacity="0.9"/>
<path d="M333.5,296.8 L320.4,407" fill="none" stroke="#1a1010" stroke-width="2.1" stroke-linejoin="round" stroke-linecap="round" stroke-opacity="0.9"/>
<path d="M320.4,407 L454.5,422" fill="none" stroke="#1a1010" stroke-width="2.1" stroke-linejoin="round" stroke-linecap="round" stroke-opacity="0.9"/>
<path d="M442,306.2 L482.7,310.3" fill="none" stroke="#1a1010" stroke-width="2.1" stroke-linejoin="round" stroke-linecap="round" stroke-opacity="0.9"/>
<path d="M482.7,310.3 L476.4,423.7" fill="none" stroke="#1a1010" stroke-width="2.1" stroke-linejoin="round" stroke-linecap="round" stroke-opacity="0.9"/>
<path d="M448.2,250.9 L480,253" fill="none" stroke="#1a1010" stroke-width="2.1" stroke-linejoin="round" stroke-linecap="round" stroke-opacity="0.9"/>
<path d="M454.5,422 L453.5,438.1" fill="none" stroke="#1a1010" stroke-width="2.1" stroke-linejoin="round" stroke-linecap="round" stroke-opacity="0.9"/>
<path d="M320.4,407 L298.2,565.9" fill="none" stroke="#1a1010" stroke-width="2.1" stroke-linejoin="round" stroke-linecap="round" stroke-opacity="0.9"/>
<path d="M360.8,556.5 L400,558" fill="none" stroke="#1a1010" stroke-width="2.1" stroke-linejoin="round" stroke-linecap="round" stroke-opacity="0.9"/>
<path d="M453,423 L476,424 L630,427.1 L641.7,427.4" fill="none" stroke="#1a1010" stroke-width="2.1" stroke-linejoin="round" stroke-linecap="round" stroke-opacity="0.9"/>
<path d="M454.1,423 L448.9,483.5 L442.6,561.7" fill="none" stroke="#1a1010" stroke-width="2.1" stroke-linejoin="round" stroke-linecap="round" stroke-opacity="0.9"/>
<path d="M452,437.6 L519.8,439.6 L518.8,493.9" fill="none" stroke="#1a1010" stroke-width="2.1" stroke-linejoin="round" stroke-linecap="round" stroke-opacity="0.9"/>
<path d="M518.8,493.9 L526.1,500.2 L534.4,500.2 L542.8,506.4 L555.3,508.5 L563.6,513.7 L572,513.7 L582.4,520 L588.7,515.8 L601.2,520 L611.6,515.8 L630,514.8" fill="none" stroke="#1a1010" stroke-width="2.1" stroke-linejoin="round" stroke-linecap="round" stroke-opacity="0.9"/>
<path d="M380,557.6 L442.6,562.4" fill="none" stroke="#1a1010" stroke-width="2.1" stroke-linejoin="round" stroke-linecap="round" stroke-opacity="0.9"/>
<path d="M588.5,88.2 L588.5,108 L593.7,128.9 L596.9,149.7 L600,173.7 L593.7,184.2 L601,189.4 L603.1,243.6 L598.9,247.8 L601,268.1" fill="none" stroke="#1a1010" stroke-width="2.1" stroke-linejoin="round" stroke-linecap="round" stroke-opacity="0.9"/>
<path d="M480,169.6 L600,174.4" fill="none" stroke="#1a1010" stroke-width="2.1" stroke-linejoin="round" stroke-linecap="round" stroke-opacity="0.9"/>
<path d="M603.1,243.6 L705.4,241.6" fill="none" stroke="#1a1010" stroke-width="2.1" stroke-linejoin="round" stroke-linecap="round" stroke-opacity="0.9"/>
<path d="M480,253 L524.9,256.2 L548.9,256.2 L567.6,263.5 L580.2,260.3 L598.9,268.1" fill="none" stroke="#1a1010" stroke-width="2.1" stroke-linejoin="round" stroke-linecap="round" stroke-opacity="0.9"/>
<path d="M726.5,133.3 L712.7,133.9 L683.8,152.7 L683.2,167.8 L672.5,179.1 L671.9,184.1 L676.3,189.1 L675.1,205 L690.8,216.5 L703.3,226.9 L707.5,239.5 L711.6,260.3" fill="none" stroke="#1a1010" stroke-width="2.1" stroke-linejoin="round" stroke-linecap="round" stroke-opacity="0.9"/>
<path d="M601,250 L596.9,266.7" fill="none" stroke="#1a1010" stroke-width="2.1" stroke-linejoin="round" stroke-linecap="round" stroke-opacity="0.9"/>
<path d="M596.9,266.7 L605.2,281.3 L611.5,302.2 L613.6,323 L619.8,333.5 L626.1,343.9 L634.4,348.1 L632.3,356.4 L640.7,366.9 L641.7,427.4" fill="none" stroke="#1a1010" stroke-width="2.1" stroke-linejoin="round" stroke-linecap="round" stroke-opacity="0.9"/>
<path d="M615.6,326.2 L701.2,323 L707.5,327.2" fill="none" stroke="#1a1010" stroke-width="2.1" stroke-linejoin="round" stroke-linecap="round" stroke-opacity="0.9"/>
<path d="M481.6,338.5 L624,341.8" fill="none" stroke="#1a1010" stroke-width="2.1" stroke-linejoin="round" stroke-linecap="round" stroke-opacity="0.9"/>
<path d="M642.8,420 L642.8,440.9 L647,522.3 L656.3,525.4 L657.4,568.2 L666.8,582.8 L669.9,597.4 L666.8,616.2 L664.7,628.1" fill="none" stroke="#1a1010" stroke-width="2.1" stroke-linejoin="round" stroke-linecap="round" stroke-opacity="0.9"/>
<path d="M642.8,440.9 L741.9,437.7 L745,444 L738.8,451.3 L749.2,451.3" fill="none" stroke="#1a1010" stroke-width="2.1" stroke-linejoin="round" stroke-linecap="round" stroke-opacity="0.9"/>
<path d="M629.2,514.9 L647,522.3" fill="none" stroke="#1a1010" stroke-width="2.1" stroke-linejoin="round" stroke-linecap="round" stroke-opacity="0.9"/>
<path d="M657.4,540 L723.1,538.5" fill="none" stroke="#1a1010" stroke-width="2.1" stroke-linejoin="round" stroke-linecap="round" stroke-opacity="0.9"/>
<path d="M747.1,479.5 L792,477.4 L850,471.1" fill="none" stroke="#1a1010" stroke-width="2.1" stroke-linejoin="round" stroke-linecap="round" stroke-opacity="0.9"/>
<path d="M792,478.4 L790.9,545.2 L796.2,612" fill="none" stroke="#1a1010" stroke-width="2.1" stroke-linejoin="round" stroke-linecap="round" stroke-opacity="0.9"/>
<path d="M715.8,593.2 L758.6,592.2 L762.8,603.6 L769,614.1 L785.7,614.1 L787.8,628.1" fill="none" stroke="#1a1010" stroke-width="2.1" stroke-linejoin="round" stroke-linecap="round" stroke-opacity="0.9"/>
<path d="M796.2,612 L817,610.9 L819.1,599.5 L813.9,589 L850,585.9" fill="none" stroke="#1a1010" stroke-width="2.1" stroke-linejoin="round" stroke-linecap="round" stroke-opacity="0.9"/>
<path d="M760.7,420 L763.8,428.3 L756.5,434.6 L752.3,449.2 L746.1,470.1 L737.7,484.7 L729.4,503.5 L723.1,516 L724.2,532.7 L725.2,549.4 L730.4,557.7 L723.1,570.3 L716.9,584.9 L715.8,593.2" fill="none" stroke="#111" stroke-width="2.4" stroke-linejoin="round" stroke-linecap="round" stroke-opacity="0.9"/>
<path d="M657.4,560 L659.5,570.4 L668.9,585 L669.9,599.6 L666.8,616.3 L662.6,634.1" fill="none" stroke="#1a1010" stroke-width="2.1" stroke-linejoin="round" stroke-linecap="round" stroke-opacity="0.9"/>
<path d="M734,113.2 L726.5,133.3 L718.9,154 L725.2,159 L765.4,167.8 L771.6,175.3 L774.1,186.6 L777.9,191.6 L786.7,180.3 L804.2,184.1 L795.5,205 L791.8,226.9 L793.9,268.1" fill="none" stroke="#1a1010" stroke-width="2.1" stroke-linejoin="round" stroke-linecap="round" stroke-opacity="0.9"/>
<path d="M711.6,260.3 L712.5,260.4 L727.1,270.9 L733.4,283.4 L727.1,295.9 L714.6,302.2 L714.6,314.7 L707.3,327.2 L708.3,341.8 L716.7,354.3 L725,362.7 L727.1,370 L737.6,372.1 L735.5,385.6 L748,396.1 L756.3,410.7 L760.5,421.1" fill="none" stroke="#1a1010" stroke-width="2.1" stroke-linejoin="round" stroke-linecap="round" stroke-opacity="0.9"/>
<path d="M700,323 L707.3,327.2" fill="none" stroke="#1a1010" stroke-width="2.1" stroke-linejoin="round" stroke-linecap="round" stroke-opacity="0.9"/>
<path d="M712.5,265.8 L793.9,264.2" fill="none" stroke="#1a1010" stroke-width="2.1" stroke-linejoin="round" stroke-linecap="round" stroke-opacity="0.9"/>
<path d="M793.9,250 L797,265.7 L794.9,283.4" fill="none" stroke="#1a1010" stroke-width="2.1" stroke-linejoin="round" stroke-linecap="round" stroke-opacity="0.9"/>
<path d="M788.7,284.4 L844,279.2 L840,279.4" fill="none" stroke="#1a1010" stroke-width="2.1" stroke-linejoin="round" stroke-linecap="round" stroke-opacity="0.9"/>
<path d="M788.7,284.4 L792.9,362.7 L794.9,375.2" fill="none" stroke="#1a1010" stroke-width="2.1" stroke-linejoin="round" stroke-linecap="round" stroke-opacity="0.9"/>
<path d="M844,279.2 L853.4,354.3" fill="none" stroke="#1a1010" stroke-width="2.1" stroke-linejoin="round" stroke-linecap="round" stroke-opacity="0.9"/>
<path d="M940.2,307 L938,318 L935.8,327.2 L921.2,343.9 L912.9,354.3 L904.5,366.9 L908.7,379.4 L919.1,394" fill="none" stroke="#1a1010" stroke-width="2.1" stroke-linejoin="round" stroke-linecap="round" stroke-opacity="0.9"/>
<path d="M853.4,354.3 L860.7,352.3 L866.9,358.5 L877.4,362.7 L894.1,358.5 L904.5,366.9" fill="none" stroke="#1a1010" stroke-width="2.1" stroke-linejoin="round" stroke-linecap="round" stroke-opacity="0.9"/>
<path d="M853.4,354.3 L852.3,362.7 L841.9,368.9 L837.7,379.4 L829.4,387.7 L823.1,383.6 L818.9,389.8 L812.7,391.9 L804.3,394 L789.7,404.4 L781.4,408.6 L777.2,416.9 L766.8,414.9 L760.5,421.1" fill="none" stroke="#1a1010" stroke-width="2.1" stroke-linejoin="round" stroke-linecap="round" stroke-opacity="0.9"/>
<path d="M919.1,394 L904.5,408.6 L892,419" fill="none" stroke="#1a1010" stroke-width="2.1" stroke-linejoin="round" stroke-linecap="round" stroke-opacity="0.9"/>
<path d="M752.2,435.7 L789.7,433.6 L789.7,429.5 L892,420.1 L950,412.8" fill="none" stroke="#1a1010" stroke-width="2.1" stroke-linejoin="round" stroke-linecap="round" stroke-opacity="0.9"/>
<path d="M931.6,415.9 L932.3,421 L921.8,430.4 L909.3,435.7 L898.9,445 L884.3,452.3 L878,461.7 L878,467" fill="none" stroke="#1a1010" stroke-width="2.1" stroke-linejoin="round" stroke-linecap="round" stroke-opacity="0.9"/>
<path d="M849.8,472.2 L878,467 L902,464.9 L902,470.1" fill="none" stroke="#1a1010" stroke-width="2.1" stroke-linejoin="round" stroke-linecap="round" stroke-opacity="0.9"/>
<path d="M902,469 L921.8,458.6 L951,453.4 L959.4,460.7 L984.4,458.6 L996.9,470.1 L1013.6,480.5" fill="none" stroke="#1a1010" stroke-width="2.1" stroke-linejoin="round" stroke-linecap="round" stroke-opacity="0.9"/>
<path d="M902,470.1 L913.5,480.5 L926,493 L942.7,509.7 L953.1,522.3 L963.6,536.9 L971.9,538.9" fill="none" stroke="#1a1010" stroke-width="2.1" stroke-linejoin="round" stroke-linecap="round" stroke-opacity="0.9"/>
<path d="M849.8,472.2 L857.1,503.5 L865.5,530.6 L871.7,545.2 L869.6,561.9 L873.8,578.6 L880.1,589" fill="none" stroke="#1a1010" stroke-width="2.1" stroke-linejoin="round" stroke-linecap="round" stroke-opacity="0.9"/>
<path d="M880.1,589 L943.7,585.9 L945.8,590.1 L948.9,580.7 L963.6,579.6" fill="none" stroke="#1a1010" stroke-width="2.1" stroke-linejoin="round" stroke-linecap="round" stroke-opacity="0.9"/>
<path d="M850,584.4 L872.8,582.8" fill="none" stroke="#1a1010" stroke-width="2.1" stroke-linejoin="round" stroke-linecap="round" stroke-opacity="0.9"/>
<path d="M1103.4,131.8 L1127.4,186.1" fill="none" stroke="#1a1010" stroke-width="2.1" stroke-linejoin="round" stroke-linecap="round" stroke-opacity="0.9"/>
<path d="M1096.1,131.8 L1094,148.5 L1088.8,165.2 L1089.8,186.1 L1088.8,203.8" fill="none" stroke="#1a1010" stroke-width="2.1" stroke-linejoin="round" stroke-linecap="round" stroke-opacity="0.9"/>
<path d="M1058.5,148.5 L1061.6,165.2 L1066.9,186.1 L1073.1,198.6 L1075.2,206.9" fill="none" stroke="#1a1010" stroke-width="2.1" stroke-linejoin="round" stroke-linecap="round" stroke-opacity="0.9"/>
<path d="M1075.2,208 L1088.8,203.8 L1116.9,198.6 L1123.2,190.3 L1127.4,186.1" fill="none" stroke="#1a1010" stroke-width="2.1" stroke-linejoin="round" stroke-linecap="round" stroke-opacity="0.9"/>
<path d="M931.3,250.9 L942.8,322.9" fill="none" stroke="#1a1010" stroke-width="2.1" stroke-linejoin="round" stroke-linecap="round" stroke-opacity="0.9"/>
<path d="M945.9,241.5 L947,256.1 L1035.6,239.4 L1046.1,248.8" fill="none" stroke="#1a1010" stroke-width="2.1" stroke-linejoin="round" stroke-linecap="round" stroke-opacity="0.9"/>
<path d="M942.8,322.9 L1044,305.1 L1048.2,301" fill="none" stroke="#1a1010" stroke-width="2.1" stroke-linejoin="round" stroke-linecap="round" stroke-opacity="0.9"/>
<path d="M1044,305.1 L1052.3,336.4 L1066.9,335.4" fill="none" stroke="#1a1010" stroke-width="2.1" stroke-linejoin="round" stroke-linecap="round" stroke-opacity="0.9"/>
<path d="M964.7,320.8 L966.8,333.3 L975.1,326 L983.5,319.7 L991.8,315.6 L998.1,319.7 L1002.3,328.1" fill="none" stroke="#1a1010" stroke-width="2.1" stroke-linejoin="round" stroke-linecap="round" stroke-opacity="0.9"/>
<path d="M1002.3,328.1 L1012.7,342.7 L1023.1,348.9 L1035.6,353.1 L1046.1,356.3 L1058.6,353.1 L1064.9,351" fill="none" stroke="#1a1010" stroke-width="2.1" stroke-linejoin="round" stroke-linecap="round" stroke-opacity="0.9"/>
<path d="M1002.3,328.1 L991.8,321.8 L987.6,334.3 L979.3,342.7 L977.2,353.1 L966.8,355.2 L960.5,371.9 L954.3,384.4 L941.7,390.7 L927.1,396.9 L916.7,388.6" fill="none" stroke="#1a1010" stroke-width="2.1" stroke-linejoin="round" stroke-linecap="round" stroke-opacity="0.9"/>
<path d="M950,412.8 L977.2,407.4 L1058.6,392.8" fill="none" stroke="#1a1010" stroke-width="2.1" stroke-linejoin="round" stroke-linecap="round" stroke-opacity="0.9"/>
<path d="M840,279.4 L872,274.1 L878,269.4" fill="none" stroke="#1a1010" stroke-width="2.1" stroke-linejoin="round" stroke-linecap="round" stroke-opacity="0.9"/>
<path d="M1078.7,259.4 L1114.7,240.7" fill="none" stroke="#1a1010" stroke-width="2.1" stroke-linejoin="round" stroke-linecap="round" stroke-opacity="0.9"/>
<path d="M1070,275.4 L1074.7,265.4 L1073.4,260.1 L1078.7,259.4" fill="none" stroke="#1a1010" stroke-width="2.1" stroke-linejoin="round" stroke-linecap="round" stroke-opacity="0.9"/>
<path d="M1075.4,226.7 L1110.7,221.4 L1113.4,241.4" fill="none" stroke="#1a1010" stroke-width="2.1" stroke-linejoin="round" stroke-linecap="round" stroke-opacity="0.9"/>
<path d="M1075.4,208 L1075.4,226.7 L1080,254.7 L1078,259.4" fill="none" stroke="#1a1010" stroke-width="2.1" stroke-linejoin="round" stroke-linecap="round" stroke-opacity="0.9"/>
<path d="M1053.3,254.7 L1074,260.1" fill="none" stroke="#1a1010" stroke-width="2.1" stroke-linejoin="round" stroke-linecap="round" stroke-opacity="0.9"/>
<path d="M1046.1,248.8 L1045.3,246.7 L1053.3,254.7 L1049.3,266.7 L1053.3,278.7 L1062,286.8 L1056,296.1 L1050.7,300.1 L1048.2,301 L1050.3,309.3 L1058.6,317.6 L1065.9,326" fill="none" stroke="#1a1010" stroke-width="2.1" stroke-linejoin="round" stroke-linecap="round" stroke-opacity="0.9"/>
<path d="M1111,221.1 L1118.1,220 L1126.7,233.4" fill="none" stroke="#1a1010" stroke-width="2.1" stroke-linejoin="round" stroke-linecap="round" stroke-opacity="0.9"/>
<path d="M112.8,499.6 L120.4,525.1 L129.4,567.3 L132.4,582.3 L150.5,606.4 L161,621.4 L159.5,642.5 L138.4,639.5 L150.5,654.5 L164,672.6 L180.6,678.6 L195.6,702.7 L197.1,720.7 L191.1,735.8 L201.6,747.8 L222.7,768.9 L228.7,773.4" fill="none" stroke="#222" stroke-width="1.5" stroke-linejoin="round" stroke-linecap="round" stroke-opacity="0.9"/>
<path d="M162.5,529.7 L159.5,549.2 L158,576.3 L174.5,600.4 L180.6,615.4 L192.6,636.5 L201.6,660.6 L210.7,684.6 L219.7,708.7 L228.7,735.8 L240.7,759.9 L249.8,773.4" fill="none" stroke="#222" stroke-width="1.5" stroke-linejoin="round" stroke-linecap="round" stroke-opacity="0.9"/>
<path d="M162.5,529.7 L183.6,541.7 L198.6,555.2 L201.6,579.3 L210.7,606.4 L216.7,621.4 L237.7,648.5 L246.8,660.6 L255.8,684.6 L273.8,702.7 L267.8,720.7 L282.9,729.8 L300,744.8 L319,759.9 L334,777.9" fill="none" stroke="#222" stroke-width="1.5" stroke-linejoin="round" stroke-linecap="round" stroke-opacity="0.9"/>
<path d="M581.4,737.4 L576.2,752 L572,768.1" fill="none" stroke="#222" stroke-width="1.5" stroke-linejoin="round" stroke-linecap="round" stroke-opacity="0.9"/>
<ellipse cx="950.6" cy="751.1" rx="5.5" ry="3.6" fill="#F5F5F2" stroke="#222" stroke-width="1.1" transform="rotate(-20 950.6 751.1)"/>
<path d="M1150.8,2.5 L1133.3,17.6 L1115.7,30.1 L1108.2,45.1 L1100.7,62.7 L1090.6,80.3 L1073.1,97.8 L1060.5,112.9 L1050.5,127.9 L1043,137.9 L1034.2,151.7" fill="none" stroke="#222" stroke-width="1.5" stroke-linejoin="round" stroke-linecap="round" stroke-opacity="0.9"/>
<path d="M1130.7,2.5 L1120.7,15 L1113.2,27.6 L1105.7,42.6 L1098.1,60.2 L1093.1,72.7 L1085.6,82.8" fill="none" stroke="#222" stroke-width="1.5" stroke-linejoin="round" stroke-linecap="round" stroke-opacity="0.9"/>
<path d="M1078.1,42.6 L1090.6,41.4 L1100.7,43.1" fill="none" stroke="#222" stroke-width="1.5" stroke-linejoin="round" stroke-linecap="round" stroke-opacity="0.9"/>
<path d="M1036.7,137.9 L1045.5,130.4 L1050.5,132.9 L1048,136.7 L1039.2,139.2" fill="none" stroke="#222" stroke-width="1.5" stroke-linejoin="round" stroke-linecap="round" stroke-opacity="0.9"/>
<path d="M1183.4,117.9 L1188.4,110.4 L1194.7,102.8 L1200,96.6" fill="none" stroke="#222" stroke-width="1.5" stroke-linejoin="round" stroke-linecap="round" stroke-opacity="0.9"/>
<path d="M1160.8,30.1 L1173.4,23.8 L1183.4,28.8 L1190.9,17.6 L1196,12.5 L1200,2.5" fill="none" stroke="#222" stroke-width="1.5" stroke-linejoin="round" stroke-linecap="round" stroke-opacity="0.9"/>
<path d="M1193.5,46.4 L1196,40.1 L1200,35.1" fill="none" stroke="#222" stroke-width="1.5" stroke-linejoin="round" stroke-linecap="round" stroke-opacity="0.9"/>
<path d="M900,2.5 L907.5,7.5 L913.8,13.8" fill="none" stroke="#222" stroke-width="1.5" stroke-linejoin="round" stroke-linecap="round" stroke-opacity="0.9"/>
<path d="M110.4,18.8 L150.5,29.6 L218.2,47.2 L234.5,50.2 L354.3,71.3 L421.1,80.7 L458.7,83.8 L500,84.9 L588.5,88.2 L626.1,88.2 L626.1,79.8 L632.3,79.8 L634.4,93.4 L646.9,98.6 L659.5,99.6 L667.8,98.6 L675.1,103.2 L680.1,108.2 L682.6,105.7 L686.3,107 L696.4,113.2 L701.4,111.4 L706.4,107.6 L710.2,110.7 L722.7,110.7 L726.5,112.6 L737.8,112.6 L747.8,105.7 L755.3,102.8 L825.2,134.1 L832.5,145.6 L841.9,144.5 L844,151.8 L850.3,156 L856.5,154.9 L855.5,162.3 L877.4,170.6 L878.7,180 L885.4,197.3 L892,218.7 L890,233.4 L888,248.1 L878,260.1 L878,269.4 L889.4,275.4 L894.7,274.1 L914.7,256.7 L932.1,249.4 L945.4,243.4 L960.8,228.7 L956.1,220 L952.8,214.7 L952.1,215.3 L960.4,209 L981.3,204.9 L998,200.7 L1002.2,194.4 L1010.5,179.8 L1023,165.2 L1035.6,153.7 L1058.5,148.5 L1096.1,138.1 L1096.1,131.8 L1103.4,131.8 L1110.7,92.2 L1114.9,77.6 L1121.1,60.9 L1127.4,65 L1137.8,56.7 L1146.2,59.8 L1152.4,71.3 L1158.7,92.2 L1167,100.5 L1179.5,113 L1186.9,120.3 L1179.5,127.6 L1171.2,138.1 L1167,146.4 L1156.6,156.9 L1150.3,158.9 L1142,167.3 L1133.6,175.6 L1127.4,186.1 L1128.1,192.7 L1132.1,197.3 L1131.4,208 L1136.1,211.4 L1142.7,208.3 L1148.8,211.4 L1152.8,220 L1154.1,230 L1150.8,232.7 L1142.7,232 L1140.1,236 L1135.4,238.7 L1130.7,234.7 L1126.7,233.4 L1121.4,238.7 L1116.7,244.1 L1118.7,244.1 L1114.7,250.7 L1098.7,264.1 L1085.4,271.4 L1080,272.7 L1070.7,273.4 L1070,275.4 L1078.7,278.7 L1080,290.8 L1077.4,302.8 L1072,313 L1078.4,298.9 L1073.2,313.5 L1066.9,326 L1068,338.5 L1064.9,353.1 L1058.6,371.9 L1055.5,384.4 L1058.6,394.9 L1066.9,407.4 L1077.4,417.8 L1070,432.5 L1061.6,443 L1057.5,451.3 L1044.9,455.5 L1030.3,468 L1028.2,478.4 L1013.6,480.5 L1007.4,491 L1005.3,501.4 L996.9,509.7 L986.5,520.2 L974,536.9 L967.7,549.4 L963.6,566.1 L963.6,580.7 L963.6,580 L969.8,598.8 L980.3,617.6 L994.9,634.3 L996.9,646.8 L1007.4,661.4 L1015.7,680.2 L1018.9,696.9 L1018.9,713.6 L1013.6,728.2 L1003.2,738.6 L988.6,749 L976.1,754.2 L967.7,752.2 L965.6,748 L974,742.8 L984.4,736.5 L992.8,734.4 L986.5,724 L976.1,717.7 L967.7,705.2 L957.3,698.9 L948.9,684.3 L938.5,671.8 L934.3,657.2 L936.4,644.7 L932.3,634.3 L923.9,628 L913.5,617.6 L901,609.2 L894.7,615.5 L882.2,623.8 L869.6,622.8 L861.3,614.4 L850.9,609.2 L838.3,607.1 L830,608.2 L829.5,609 L817,612.2 L796.2,613.2 L786.8,615.3 L787.8,620.5 L786.8,628.9 L780.5,637.2 L784.7,643.5 L779.5,648.7 L772.2,651.8 L770.1,644.5 L762.8,643.5 L750.3,647.6 L737.7,650.8 L729.4,648.7 L716.9,642.4 L704.3,637.2 L691.8,636.2 L679.3,632 L662.6,634.1 L643.8,643.5 L629.2,654.9 L615.8,662.3 L601.2,670.6 L588.7,681 L580.3,693.6 L577.2,706.1 L579.3,722.8 L581.4,737.4 L581.4,737.4 L574.1,740.5 L563.6,735.3 L546.9,729 L532.3,722.8 L524,708.2 L524,697.7 L517.7,687.3 L505.2,670.6 L496.9,656 L484.3,639.3 L473.9,628.9 L456.2,624.7 L444.7,628.9 L440.5,638.3 L432.2,646.6 L417.6,637.2 L403,626.8 L397.7,614.3 L394.6,597.6 L380,580.9 L360.8,556.5 L320.1,558.6 L316.9,568 L298.2,565.9 L246,558.6 L168.8,509.6 L170,510.1 L177.6,505.6 L112.8,499.6 L111.6,480.7 L105.3,468.2 L95.3,458.2 L85.3,450.7 L72.7,440.6 L53.9,433.1 L45.1,425.6 L48.9,413 L46.4,398 L37.6,380.4 L32.6,362.9 L32.6,345.3 L27.6,322.7 L22.6,302.7 L17.6,287.6 L15,265 L13.8,250 L15,235.8 L21.3,218.2 L25.1,200.7 L28.8,190.6 L27.6,178.1 L35.1,170.6 L47.7,150.5 L53.9,130.4 L62.7,105.3 L67.7,82.8 L70.2,62.7 L71.5,37.6 L75.2,25.1 L92.8,32.6 L102.8,33.9 L106.6,27.6 L110.4,18.8Z" fill="none" stroke="#2a2a2a" stroke-width="2.0" stroke-linejoin="round"/>
<path d="M1041.7,680.1 L1048,676.1 L1065.5,672.6 L1067.5,674.6 L1053,681.1 L1046.7,683.6Z" fill="#FCFCFC" stroke="#222" stroke-width="1.5" stroke-linejoin="round" stroke-linecap="round"/>
<path d="M1066.8,668 L1078.1,667.5 L1088.1,672.6 L1091.1,683.1 L1087.6,692.6 L1084.3,690.6 L1086.9,680.6 L1084.3,674.8 L1075.6,671.1Z" fill="#FCFCFC" stroke="#222" stroke-width="1.5" stroke-linejoin="round" stroke-linecap="round"/>
<path d="M1069.3,716.2 L1075.6,717.7 L1084.3,729.5 L1091.9,742 L1093.6,753.3 L1085.1,753.3 L1075.6,742 L1065.5,734.5Z" fill="#FCFCFC" stroke="#222" stroke-width="1.4" stroke-linejoin="round" stroke-linecap="round"/>
<path d="M1103.2,700.7 L1113.2,703.2 L1120.7,710.7 L1122.5,721.2 L1118.7,718.7 L1117,711.9 L1110.7,706.2 L1103.7,702.7Z" fill="#FCFCFC" stroke="#222" stroke-width="1.5" stroke-linejoin="round" stroke-linecap="round"/>
<path d="M1134.5,718.2 L1140.8,722 L1147.6,729.5 L1142.8,730.7 L1138.3,724.5Z" fill="#FCFCFC" stroke="#222" stroke-width="1.5" stroke-linejoin="round" stroke-linecap="round"/>
<path d="M1085.6,717.2 L1091.9,715.7" fill="none" stroke="#222" stroke-width="2.0" stroke-linejoin="round" stroke-linecap="round"/>
<path d="M1168.4,725.7 L1169.6,730.2" fill="none" stroke="#222" stroke-width="2.0" stroke-linejoin="round" stroke-linecap="round"/>
<path d="M1130.7,747.1 L1140.8,750.8" fill="none" stroke="#222" stroke-width="2.0" stroke-linejoin="round" stroke-linecap="round"/>
<path d="M1149.6,743.3 L1155.8,749.6" fill="none" stroke="#222" stroke-width="2.0" stroke-linejoin="round" stroke-linecap="round"/>
<path d="M1135,752l8,4 6,-2M1152,748l5,6M1160,760l8,3 3,-5" fill="none" stroke="#222" stroke-width="1.4"/>
<ellipse cx="20.0" cy="322.7" rx="2" ry="2.2" fill="#555" stroke="#222" stroke-width="1.0" transform="rotate(0 20.0 322.7)"/>
<path d="M46.4,436.9 L53.9,435.6 L65.2,438.1 L75.2,441.9 L72.7,446.9 L62.7,446.9 L52.7,444.4 L47.7,440.6Z" fill="#FCFCFC" stroke="#222" stroke-width="1.2" stroke-linejoin="round" stroke-linecap="round"/>
<ellipse cx="64.5" cy="466.2" rx="2.6" ry="2.0" fill="#FCFCFC" stroke="#222" stroke-width="1.2" transform="rotate(0 64.5 466.2)"/>
<ellipse cx="76.5" cy="462.7" rx="1.4" ry="1.4" fill="#333" stroke="#222" stroke-width="1.0" transform="rotate(0 76.5 462.7)"/>
<ellipse cx="89.0" cy="468.2" rx="2.6" ry="4.2" fill="#FCFCFC" stroke="#222" stroke-width="1.2" transform="rotate(-25 89.0 468.2)"/>
<ellipse cx="85.3" cy="480.7" rx="2.3" ry="3.8" fill="#FCFCFC" stroke="#222" stroke-width="1.2" transform="rotate(-15 85.3 480.7)"/>
<ellipse cx="63.2" cy="586.8" rx="1.0" ry="2.2" fill="#333" stroke="#222" stroke-width="1.0" transform="rotate(-10 63.2 586.8)"/>
<ellipse cx="132.4" cy="627.5" rx="1.6" ry="2.6" fill="#FCFCFC" stroke="#222" stroke-width="1.2" transform="rotate(20 132.4 627.5)"/>
<ellipse cx="183.6" cy="603.4" rx="2.6" ry="6.0" fill="#FCFCFC" stroke="#222" stroke-width="1.2" transform="rotate(-22 183.6 603.4)"/>
<ellipse cx="207.6" cy="618.4" rx="3.6" ry="5.6" fill="#FCFCFC" stroke="#222" stroke-width="1.2" transform="rotate(20 207.6 618.4)"/>
<path d="M210,686l3,5 -2,3M222,703l3,6M231,733l3,5 -2,3M248,758l3,4" fill="none" stroke="#222" stroke-width="1.1"/>
</g>
<g id="legend">
<rect x="0" y="772" width="1200" height="225" fill="#fff"/>
<rect x="0" y="770.6" width="1200" height="2" fill="#4a4a4a"/>
<g filter="url(#softt)">
<rect x="120" y="789.5" width="54" height="31.5" fill="#4373B9"/>
<rect x="120" y="840.5" width="54" height="32" fill="#7F9CC4"/>
<rect x="120" y="891.7" width="54" height="32" fill="#BCC9BD"/>
<rect x="655" y="789.5" width="54" height="31.5" fill="#F9B384"/>
<rect x="655" y="840.5" width="54" height="32" fill="#EF7B57"/>
<rect x="655" y="891.7" width="54" height="32" fill="#DC2B27"/>
<rect x="413.5" y="946" width="54" height="32" fill="#F5F5F1" stroke="#dcdcdc" stroke-width="1"/>
</g>
<g font-size="39" fill="#0c0c0c" stroke="#0c0c0c" stroke-width="0.45" filter="url(#softt)">
<text x="201.3" y="819" textLength="74.7" lengthAdjust="spacingAndGlyphs">Cold</text>
<text x="288.1" y="819" textLength="80.4" lengthAdjust="spacingAndGlyphs">Spot</text>
<text x="379.6" y="819" textLength="71.7" lengthAdjust="spacingAndGlyphs">with</text>
<text x="465.5" y="819" textLength="80.3" lengthAdjust="spacingAndGlyphs">99%</text>
<text x="201.3" y="870" textLength="74.7" lengthAdjust="spacingAndGlyphs">Cold</text>
<text x="288.1" y="870" textLength="80.4" lengthAdjust="spacingAndGlyphs">Spot</text>
<text x="379.6" y="870" textLength="71.7" lengthAdjust="spacingAndGlyphs">with</text>
<text x="465.5" y="870" textLength="80.3" lengthAdjust="spacingAndGlyphs">95%</text>
<text x="201.3" y="921" textLength="74.7" lengthAdjust="spacingAndGlyphs">Cold</text>
<text x="288.1" y="921" textLength="80.4" lengthAdjust="spacingAndGlyphs">Spot</text>
<text x="379.6" y="921" textLength="71.7" lengthAdjust="spacingAndGlyphs">with</text>
<text x="465.5" y="921" textLength="80.3" lengthAdjust="spacingAndGlyphs">90%</text>
<text x="740.6" y="819" textLength="59.6" lengthAdjust="spacingAndGlyphs">Hot</text>
<text x="813.1" y="819" textLength="80.4" lengthAdjust="spacingAndGlyphs">Spot</text>
<text x="904.4" y="819" textLength="72.2" lengthAdjust="spacingAndGlyphs">with</text>
<text x="990.5" y="819" textLength="79.5" lengthAdjust="spacingAndGlyphs">90%</text>
<text x="740.6" y="870" textLength="59.6" lengthAdjust="spacingAndGlyphs">Hot</text>
<text x="813.1" y="870" textLength="80.4" lengthAdjust="spacingAndGlyphs">Spot</text>
<text x="904.4" y="870" textLength="72.2" lengthAdjust="spacingAndGlyphs">with</text>
<text x="990.5" y="870" textLength="79.5" lengthAdjust="spacingAndGlyphs">95%</text>
<text x="740.6" y="921" textLength="59.6" lengthAdjust="spacingAndGlyphs">Hot</text>
<text x="813.1" y="921" textLength="80.4" lengthAdjust="spacingAndGlyphs">Spot</text>
<text x="904.4" y="921" textLength="72.2" lengthAdjust="spacingAndGlyphs">with</text>
<text x="990.5" y="921" textLength="79.5" lengthAdjust="spacingAndGlyphs">99%</text>
<text x="496.3" y="975.5" textLength="60.7" lengthAdjust="spacingAndGlyphs">Not</text>
<text x="568.3" y="975.5" textLength="180.7" lengthAdjust="spacingAndGlyphs">Significant</text>
</g>
</g>
<g id="frame">
<rect x="0" y="0" width="1200" height="3" fill="#b4b4b4"/>
<rect x="0" y="3" width="1200" height="1" fill="#e4e4e4"/>
<rect x="0" y="0" width="2" height="997" fill="#9a9a9a"/>
<rect x="1193" y="3" width="4.5" height="992" fill="#f2f2f2"/>
<rect x="1197.5" y="0" width="2.5" height="997" fill="#ababab"/>
<rect x="0" y="994.5" width="1200" height="2.5" fill="#9a9a9a"/>
</g>

</svg></body></html>
